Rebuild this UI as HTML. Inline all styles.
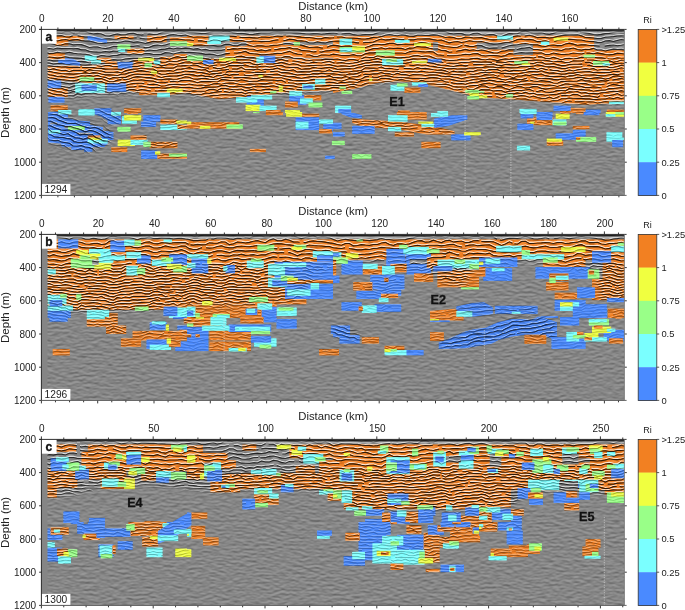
<!DOCTYPE html>
<html><head><meta charset="utf-8"><style>
html,body{margin:0;padding:0;background:#fff;width:685px;height:610px;overflow:hidden}
svg{will-change:transform}
</style></head><body>
<svg width="685" height="610" viewBox="0 0 685 610" style="position:absolute;left:0;top:0">
<g font-family='"Liberation Sans", sans-serif' fill="#222">
<rect x="41.4" y="29.4" width="583.0" height="166.0" fill="#888"/>
<defs><pattern id="stp" width="20" height="4.4" patternUnits="userSpaceOnUse"><rect width="20" height="4.4" fill="#808080"/><rect y="0.2" width="20" height="1.3" fill="#fff"/><rect y="2.3" width="20" height="1.4" fill="#000"/></pattern>
<filter id="pm" x="0" y="0" width="685" height="610" filterUnits="userSpaceOnUse" color-interpolation-filters="sRGB"><feColorMatrix type="matrix" values="8 0 0 0 -6  0 8 0 0 -6  0 0 8 0 -6  0 0 0 1 0"/><feColorMatrix type="matrix" values="1 1 1 0 0  1 1 1 0 0  1 1 1 0 0  0 0 0 1 0"/></filter>
<filter id="vm" x="0" y="0" width="685" height="610" filterUnits="userSpaceOnUse" color-interpolation-filters="sRGB"><feColorMatrix type="matrix" values="0 8 0 0 -6  0 0 8 0 -6  0 0 0 0 0  0 0 0 1 0"/><feColorMatrix type="matrix" values="1 1 0 0 0  1 1 0 0 0  1 1 0 0 0  0 0 0 1 0"/></filter>
<filter id="wv0" x="0" y="0" width="1" height="1" filterUnits="objectBoundingBox" color-interpolation-filters="sRGB"><feTurbulence type="fractalNoise" baseFrequency="0.018 0.045" numOctaves="2" seed="3" result="n"/><feDisplacementMap in="SourceGraphic" in2="n" scale="9" xChannelSelector="R" yChannelSelector="G"/></filter>
<filter id="rl0" x="0" y="0" width="1" height="1" filterUnits="objectBoundingBox" color-interpolation-filters="sRGB"><feTurbulence type="fractalNoise" baseFrequency="0.15 0.42" numOctaves="2" seed="11" result="n"/><feDiffuseLighting in="n" surfaceScale="1.1" diffuseConstant="1" lighting-color="#fff"><feDistantLight azimuth="270" elevation="30"/></feDiffuseLighting></filter>
<filter id="bl0"><feGaussianBlur stdDeviation="2.5"/></filter>
<filter id="wv1" x="0" y="0" width="1" height="1" filterUnits="objectBoundingBox" color-interpolation-filters="sRGB"><feTurbulence type="fractalNoise" baseFrequency="0.018 0.045" numOctaves="2" seed="10" result="n"/><feDisplacementMap in="SourceGraphic" in2="n" scale="9" xChannelSelector="R" yChannelSelector="G"/></filter>
<filter id="rl1" x="0" y="0" width="1" height="1" filterUnits="objectBoundingBox" color-interpolation-filters="sRGB"><feTurbulence type="fractalNoise" baseFrequency="0.15 0.42" numOctaves="2" seed="16" result="n"/><feDiffuseLighting in="n" surfaceScale="1.1" diffuseConstant="1" lighting-color="#fff"><feDistantLight azimuth="270" elevation="30"/></feDiffuseLighting></filter>
<filter id="bl1"><feGaussianBlur stdDeviation="2.5"/></filter>
<filter id="wv2" x="0" y="0" width="1" height="1" filterUnits="objectBoundingBox" color-interpolation-filters="sRGB"><feTurbulence type="fractalNoise" baseFrequency="0.018 0.045" numOctaves="2" seed="17" result="n"/><feDisplacementMap in="SourceGraphic" in2="n" scale="9" xChannelSelector="R" yChannelSelector="G"/></filter>
<filter id="rl2" x="0" y="0" width="1" height="1" filterUnits="objectBoundingBox" color-interpolation-filters="sRGB"><feTurbulence type="fractalNoise" baseFrequency="0.15 0.42" numOctaves="2" seed="21" result="n"/><feDiffuseLighting in="n" surfaceScale="1.1" diffuseConstant="1" lighting-color="#fff"><feDistantLight azimuth="270" elevation="30"/></feDiffuseLighting></filter>
<filter id="bl2"><feGaussianBlur stdDeviation="2.5"/></filter><clipPath id="cp0"><rect x="41.4" y="29.4" width="583.0" height="166.0"/></clipPath>
<mask id="mz0" maskUnits="userSpaceOnUse" x="0" y="0" width="685" height="610"><g filter="url(#bl0)"><polygon points="41.4,29.4 624.4,29.4 624.4,103 586,104 554,102 511,99 479,97 461,93 440,87 418,82 397,81 376,84 355,89 333,92 310,93 280,95 250,97 220,99 187,95 150,93 100,95 70,98 41.4,100" fill="#fff"/></g></mask>
<mask id="md0" maskUnits="userSpaceOnUse" x="0" y="0" width="685" height="610"><rect x="41.4" y="29.4" width="583.0" height="166.0" fill="#707070"/><g filter="url(#bl0)"><polygon points="352,118 400,120 455,128 455,136 400,134 352,128" fill="#ccc"/><polygon points="140,120 187,118 187,160 140,150" fill="#ccc"/></g></mask>
<mask id="mp0" maskUnits="userSpaceOnUse" x="0" y="0" width="685" height="610"><use href="#pt0" filter="url(#pm)"/></mask>
</defs>
<g clip-path="url(#cp0)" style="isolation:isolate">
<rect x="41.4" y="29.4" width="583.0" height="166.0" fill="#868686"/>
<g id="pt0">
<polygon points="47.4,66.3 83.6,65.7 126.3,64.8 160.4,65.2 187.0,63.1 187.0,92.9 168.9,95.1 139.0,92.9 104.9,84.4 83.6,82.3 60.2,80.2 47.4,79.1" fill="#F28022"/>
<rect x="75.1" y="83.3" width="29.8" height="9.6" fill="#7AFFFF"/>
<rect x="160.4" y="56.7" width="26.6" height="10.2" fill="#F28022"/>
<rect x="139.0" y="87.6" width="29.8" height="7.5" fill="#F28022"/>
<rect x="48.5" y="87.6" width="19.2" height="9.6" fill="#F28022"/>
<rect x="107.1" y="83.3" width="19.2" height="8.5" fill="#4A8AFF"/>
<rect x="147.1" y="34.3" width="19.6" height="7.9" fill="#F28022"/>
<rect x="133.7" y="58.8" width="21.3" height="6.4" fill="#F28022"/>
<rect x="55.5" y="35.4" width="12.8" height="10.2" fill="#F28022"/>
<polygon points="58.1,57.8 73.0,58.8 80.4,62.7 80.4,65.7 70.8,64.8 58.1,63.1" fill="#4A8AFF"/>
<rect x="114.5" y="33.7" width="19.2" height="5.5" fill="#F28022"/>
<rect x="47.4" y="80.6" width="13.9" height="7.7" fill="#4A8AFF"/>
<rect x="48.5" y="52.9" width="16.4" height="6.4" fill="#F28022"/>
<rect x="117.7" y="62.0" width="14.9" height="6.6" fill="#4A8AFF"/>
<rect x="50.6" y="105.3" width="17.1" height="5.8" fill="#F28022"/>
<rect x="48.5" y="96.8" width="16.0" height="5.8" fill="#4A8AFF"/>
<rect x="81.5" y="84.8" width="15.3" height="6.0" fill="#4A8AFF"/>
<rect x="127.3" y="48.6" width="17.1" height="5.1" fill="#F28022"/>
<rect x="94.3" y="108.3" width="17.1" height="4.7" fill="#4A8AFF"/>
<rect x="124.1" y="108.3" width="17.1" height="4.7" fill="#F28022"/>
<polygon points="87.5,36.0 97.5,37.1 107.1,39.7 107.1,42.9 96.4,41.4 87.5,40.1" fill="#4A8AFF"/>
<rect x="67.6" y="36.0" width="16.0" height="4.7" fill="#F28022"/>
<rect x="169.9" y="37.1" width="17.1" height="4.3" fill="#F28022"/>
<rect x="169.9" y="41.4" width="17.1" height="4.3" fill="#99FF88"/>
<rect x="117.3" y="44.3" width="13.2" height="4.9" fill="#99FF88"/>
<rect x="84.7" y="55.6" width="12.1" height="5.3" fill="#7AFFFF"/>
<rect x="79.4" y="77.0" width="14.9" height="4.3" fill="#99FF88"/>
<rect x="104.9" y="61.0" width="11.7" height="5.3" fill="#F28022"/>
<rect x="96.8" y="57.8" width="14.5" height="4.3" fill="#F28022"/>
<rect x="166.7" y="88.7" width="16.0" height="3.8" fill="#F0FF40"/>
<rect x="79.4" y="109.1" width="14.9" height="3.8" fill="#7AFFFF"/>
<rect x="157.2" y="92.9" width="12.8" height="4.3" fill="#7AFFFF"/>
<rect x="138.0" y="57.8" width="16.0" height="3.2" fill="#F0FF40"/>
<rect x="173.6" y="54.1" width="13.4" height="3.6" fill="#F28022"/>
<rect x="58.1" y="110.0" width="12.8" height="3.0" fill="#7AFFFF"/>
<rect x="91.1" y="59.9" width="10.0" height="3.6" fill="#7AFFFF"/>
<rect x="144.4" y="63.1" width="7.5" height="4.3" fill="#99FF88"/>
<rect x="153.5" y="60.5" width="6.8" height="3.6" fill="#7AFFFF"/>
<rect x="118.2" y="48.6" width="7.0" height="3.4" fill="#7AFFFF"/>
<rect x="150.8" y="70.6" width="6.4" height="3.2" fill="#F0FF40"/>
<polygon points="187.0,58.8 333.0,58.8 333.0,90.8 304.2,90.8 282.9,92.9 261.6,95.1 240.3,97.2 219.0,99.3 187.0,92.9" fill="#F28022"/>
<rect x="255.2" y="45.0" width="77.8" height="12.8" fill="#F28022"/>
<rect x="229.6" y="34.3" width="103.4" height="7.5" fill="#F28022"/>
<rect x="225.4" y="46.1" width="32.0" height="11.7" fill="#F28022"/>
<rect x="187.0" y="35.0" width="21.3" height="11.1" fill="#F28022"/>
<rect x="246.7" y="40.7" width="36.2" height="5.3" fill="#F28022"/>
<rect x="289.3" y="95.1" width="17.1" height="9.6" fill="#4A8AFF"/>
<rect x="246.7" y="96.1" width="17.1" height="9.6" fill="#4A8AFF"/>
<rect x="209.4" y="34.3" width="20.2" height="6.4" fill="#7AFFFF"/>
<rect x="259.5" y="55.6" width="16.0" height="7.5" fill="#4A8AFF"/>
<rect x="236.0" y="97.2" width="21.3" height="5.3" fill="#7AFFFF"/>
<rect x="245.6" y="104.7" width="14.9" height="6.4" fill="#F0FF40"/>
<rect x="304.2" y="95.1" width="17.1" height="5.3" fill="#F28022"/>
<rect x="259.5" y="105.7" width="17.1" height="5.3" fill="#7AFFFF"/>
<rect x="250.9" y="95.1" width="21.3" height="4.3" fill="#7AFFFF"/>
<rect x="187.0" y="55.6" width="16.0" height="5.3" fill="#99FF88"/>
<rect x="285.0" y="101.5" width="12.8" height="6.0" fill="#F28022"/>
<rect x="302.1" y="84.0" width="12.8" height="5.8" fill="#7AFFFF"/>
<rect x="289.3" y="90.8" width="12.8" height="5.3" fill="#7AFFFF"/>
<rect x="300.0" y="98.3" width="12.8" height="5.3" fill="#7AFFFF"/>
<rect x="308.5" y="102.5" width="13.9" height="4.9" fill="#99FF88"/>
<rect x="314.9" y="79.1" width="10.7" height="5.3" fill="#7AFFFF"/>
<rect x="219.0" y="57.8" width="17.1" height="3.2" fill="#F0FF40"/>
<rect x="256.3" y="56.7" width="7.5" height="6.4" fill="#7AFFFF"/>
<rect x="203.0" y="59.9" width="10.7" height="4.3" fill="#4A8AFF"/>
<rect x="285.0" y="110.0" width="14.9" height="3.0" fill="#F0FF40"/>
<rect x="265.9" y="110.0" width="14.9" height="3.0" fill="#F28022"/>
<rect x="207.2" y="40.7" width="13.9" height="3.2" fill="#7AFFFF"/>
<rect x="303.2" y="85.5" width="9.6" height="3.2" fill="#4A8AFF"/>
<rect x="278.6" y="85.5" width="4.3" height="6.4" fill="#F0FF40"/>
<rect x="293.6" y="42.2" width="6.4" height="3.4" fill="#99FF88"/>
<rect x="187.0" y="42.9" width="6.4" height="3.2" fill="#F0FF40"/>
<rect x="270.1" y="90.8" width="6.4" height="2.6" fill="#99FF88"/>
<rect x="258.4" y="74.8" width="4.3" height="2.8" fill="#F0FF40"/>
<polygon points="333.0,35.4 479.0,35.4 479.0,97.2 460.9,92.9 439.6,87.6 418.3,82.3 396.9,81.2 375.6,83.3 354.3,88.7 333.0,92.9" fill="#F28022"/>
<rect x="339.4" y="47.1" width="25.6" height="5.3" fill="#99FF88"/>
<rect x="382.0" y="58.8" width="21.3" height="6.4" fill="#7AFFFF"/>
<rect x="335.1" y="105.7" width="16.0" height="7.2" fill="#7AFFFF"/>
<rect x="375.6" y="50.3" width="19.2" height="5.3" fill="#99FF88"/>
<rect x="404.4" y="87.6" width="16.0" height="5.3" fill="#F28022"/>
<rect x="390.5" y="84.8" width="13.9" height="6.0" fill="#7AFFFF"/>
<rect x="339.4" y="38.6" width="12.8" height="6.4" fill="#7AFFFF"/>
<rect x="469.4" y="92.9" width="9.6" height="6.4" fill="#F0FF40"/>
<rect x="352.2" y="46.1" width="12.8" height="4.3" fill="#F0FF40"/>
<rect x="414.0" y="42.9" width="17.1" height="3.2" fill="#F0FF40"/>
<rect x="427.8" y="58.8" width="13.9" height="3.8" fill="#4A8AFF"/>
<rect x="338.3" y="108.9" width="12.8" height="4.0" fill="#4A8AFF"/>
<rect x="411.9" y="82.3" width="14.9" height="3.2" fill="#7AFFFF"/>
<rect x="394.8" y="39.7" width="14.9" height="3.2" fill="#7AFFFF"/>
<rect x="340.5" y="48.2" width="11.7" height="3.8" fill="#7AFFFF"/>
<rect x="411.9" y="60.5" width="14.9" height="3.0" fill="#F0FF40"/>
<rect x="465.1" y="89.7" width="13.9" height="3.2" fill="#99FF88"/>
<rect x="467.3" y="96.1" width="11.7" height="3.2" fill="#99FF88"/>
<rect x="386.3" y="58.8" width="10.7" height="3.2" fill="#99FF88"/>
<rect x="396.9" y="83.3" width="10.7" height="3.2" fill="#99FF88"/>
<rect x="341.5" y="90.8" width="10.7" height="3.2" fill="#99FF88"/>
<rect x="398.0" y="110.4" width="11.7" height="2.6" fill="#F28022"/>
<rect x="418.3" y="84.0" width="9.6" height="3.0" fill="#4A8AFF"/>
<rect x="437.4" y="111.1" width="10.7" height="1.9" fill="#7AFFFF"/>
<rect x="339.4" y="86.5" width="6.4" height="2.6" fill="#99FF88"/>
<rect x="369.2" y="78.0" width="3.2" height="3.2" fill="#F0FF40"/>
<polygon points="479.0,33.7 594.1,33.7 594.1,50.3 625.0,50.3 625.0,102.5 585.6,104.7 553.6,102.5 511.0,99.3 479.0,97.2" fill="#F28022"/>
<rect x="560.0" y="107.9" width="25.6" height="5.1" fill="#F28022"/>
<rect x="497.1" y="33.7" width="16.0" height="6.0" fill="#7AFFFF"/>
<rect x="553.6" y="105.7" width="17.1" height="5.3" fill="#4A8AFF"/>
<rect x="519.5" y="108.9" width="17.1" height="4.0" fill="#7AFFFF"/>
<rect x="593.0" y="61.0" width="16.0" height="4.3" fill="#99FF88"/>
<rect x="606.9" y="109.6" width="18.1" height="3.4" fill="#F28022"/>
<rect x="585.6" y="109.6" width="14.9" height="3.4" fill="#4A8AFF"/>
<rect x="553.6" y="37.5" width="14.9" height="3.2" fill="#F0FF40"/>
<rect x="514.2" y="61.0" width="13.9" height="3.2" fill="#99FF88"/>
<rect x="609.0" y="101.5" width="14.9" height="2.6" fill="#7AFFFF"/>
<rect x="583.4" y="54.6" width="11.7" height="3.2" fill="#99FF88"/>
<rect x="540.8" y="41.4" width="8.5" height="3.6" fill="#7AFFFF"/>
<rect x="479.0" y="95.1" width="8.5" height="3.2" fill="#F0FF40"/>
<rect x="505.6" y="94.0" width="7.5" height="3.6" fill="#99FF88"/>
<rect x="602.6" y="63.1" width="7.5" height="2.6" fill="#7AFFFF"/>
<rect x="521.6" y="63.1" width="8.5" height="2.1" fill="#F0FF40"/>
<rect x="479.0" y="90.8" width="5.3" height="2.1" fill="#99FF88"/>
<rect x="149.7" y="141.8" width="27.7" height="6.4" fill="#F28022"/>
<rect x="157.2" y="153.6" width="29.8" height="5.3" fill="#F28022"/>
<rect x="160.4" y="124.8" width="26.6" height="5.3" fill="#7AFFFF"/>
<rect x="141.2" y="150.4" width="16.0" height="8.5" fill="#4A8AFF"/>
<rect x="122.0" y="116.3" width="14.9" height="7.5" fill="#7AFFFF"/>
<rect x="143.3" y="115.2" width="17.1" height="6.4" fill="#4A8AFF"/>
<rect x="117.7" y="139.7" width="17.1" height="6.4" fill="#F0FF40"/>
<rect x="124.1" y="115.2" width="17.1" height="5.3" fill="#F0FF40"/>
<rect x="130.5" y="139.7" width="17.1" height="5.3" fill="#7AFFFF"/>
<rect x="141.2" y="121.6" width="14.9" height="5.3" fill="#4A8AFF"/>
<rect x="111.3" y="147.2" width="16.0" height="4.9" fill="#F28022"/>
<rect x="160.4" y="119.5" width="17.1" height="4.3" fill="#F28022"/>
<rect x="130.5" y="135.4" width="16.0" height="4.3" fill="#F28022"/>
<rect x="117.7" y="126.9" width="12.8" height="4.7" fill="#99FF88"/>
<rect x="168.9" y="153.6" width="18.1" height="3.2" fill="#99FF88"/>
<rect x="177.4" y="124.8" width="9.6" height="4.3" fill="#F28022"/>
<rect x="143.3" y="141.8" width="7.5" height="5.3" fill="#99FF88"/>
<rect x="176.3" y="120.5" width="10.7" height="3.2" fill="#F0FF40"/>
<rect x="127.3" y="112.0" width="10.7" height="2.1" fill="#F28022"/>
<rect x="155.0" y="151.4" width="5.3" height="3.2" fill="#F0FF40"/>
<polygon points="48.0,112.0 58.5,112.0 58.5,114.3 67.9,114.3 67.9,117.8 76.0,120.2 90.1,121.4 90.1,124.9 102.9,127.2 102.9,130.7 113.4,131.9 113.4,140.0 107.6,140.0 107.6,143.5 104.1,147.0 92.4,147.0 92.4,151.7 84.2,151.7 84.2,150.0 71.4,150.0 71.4,147.0 62.0,146.5 60.9,143.5 48.0,142.4" fill="#4A8AFF"/>
<polygon points="94.7,109.1 104.1,109.1 104.1,110.8 111.1,112.0 111.1,115.5 121.0,116.1 121.0,124.3 107.6,124.3 107.6,120.2 101.7,116.7 94.7,114.3" fill="#4A8AFF"/>
<rect x="78.4" y="109.7" width="16.3" height="5.8" fill="#7AFFFF"/>
<rect x="87.7" y="138.9" width="19.9" height="4.6" fill="#7AFFFF"/>
<rect x="67.9" y="126.0" width="16.9" height="4.1" fill="#99FF88"/>
<rect x="58.5" y="110.3" width="12.9" height="4.0" fill="#7AFFFF"/>
<rect x="87.7" y="135.4" width="12.9" height="3.5" fill="#F28022"/>
<rect x="48.6" y="130.1" width="11.7" height="3.5" fill="#7AFFFF"/>
<rect x="111.1" y="112.0" width="9.9" height="3.5" fill="#7AFFFF"/>
<rect x="90.1" y="137.7" width="11.6" height="2.3" fill="#F0FF40"/>
<rect x="77.2" y="132.5" width="12.9" height="1.7" fill="#868686"/>
<rect x="50.3" y="122.5" width="7.0" height="1.8" fill="#868686"/>
<rect x="117.5" y="127.2" width="3.5" height="3.5" fill="#99FF88"/>
<rect x="64.5" y="126.0" width="3.4" height="2.4" fill="#868686"/>
<rect x="187.0" y="122.2" width="52.2" height="6.4" fill="#F28022"/>
<rect x="295.7" y="117.3" width="23.4" height="12.8" fill="#4A8AFF"/>
<rect x="295.7" y="121.6" width="12.8" height="7.0" fill="#7AFFFF"/>
<rect x="286.1" y="112.0" width="16.0" height="4.7" fill="#F0FF40"/>
<rect x="323.4" y="123.7" width="9.6" height="7.5" fill="#4A8AFF"/>
<rect x="226.4" y="124.4" width="16.4" height="4.3" fill="#99FF88"/>
<rect x="319.1" y="119.5" width="13.9" height="4.3" fill="#7AFFFF"/>
<rect x="265.9" y="112.0" width="17.1" height="3.2" fill="#F28022"/>
<rect x="319.1" y="129.1" width="12.8" height="4.3" fill="#F28022"/>
<rect x="249.9" y="148.9" width="16.0" height="3.2" fill="#F28022"/>
<rect x="302.1" y="113.7" width="17.1" height="3.0" fill="#F28022"/>
<rect x="199.8" y="125.9" width="10.7" height="2.8" fill="#F0FF40"/>
<rect x="325.1" y="155.7" width="7.9" height="3.2" fill="#4A8AFF"/>
<rect x="187.0" y="121.6" width="4.3" height="2.8" fill="#F0FF40"/>
<rect x="253.1" y="112.0" width="6.4" height="1.1" fill="#99FF88"/>
<rect x="331.9" y="140.8" width="1.1" height="4.3" fill="#99FF88"/>
<polygon points="352.2,118.8 396.9,121.6 433.2,125.9 454.5,131.2 454.5,134.4 426.8,134.4 396.9,129.1 362.8,126.9 352.2,122.7" fill="#F28022"/>
<polygon points="434.2,118.4 452.4,115.2 467.3,115.2 467.3,119.5 448.1,125.9 434.2,128.0" fill="#4A8AFF"/>
<rect x="396.9" y="112.0" width="29.8" height="7.5" fill="#F28022"/>
<rect x="352.2" y="125.9" width="22.4" height="7.9" fill="#4A8AFF"/>
<rect x="388.0" y="115.2" width="19.6" height="6.4" fill="#7AFFFF"/>
<rect x="421.4" y="141.8" width="19.2" height="6.4" fill="#F28022"/>
<rect x="451.3" y="134.4" width="19.2" height="6.0" fill="#4A8AFF"/>
<rect x="352.2" y="154.2" width="19.2" height="4.7" fill="#99FF88"/>
<rect x="394.8" y="132.2" width="19.2" height="4.3" fill="#F28022"/>
<polygon points="341.5,112.0 354.3,113.1 361.8,115.2 361.8,118.4 350.1,117.3 341.5,114.1" fill="#4A8AFF"/>
<rect x="431.0" y="113.1" width="17.1" height="3.6" fill="#7AFFFF"/>
<rect x="388.0" y="126.9" width="13.2" height="4.3" fill="#7AFFFF"/>
<rect x="333.0" y="122.7" width="8.5" height="6.4" fill="#4A8AFF"/>
<rect x="333.0" y="132.2" width="11.7" height="4.3" fill="#4A8AFF"/>
<rect x="333.0" y="140.8" width="11.7" height="4.3" fill="#99FF88"/>
<rect x="464.1" y="132.2" width="14.9" height="3.2" fill="#F0FF40"/>
<rect x="421.4" y="123.7" width="12.8" height="3.2" fill="#7AFFFF"/>
<rect x="418.3" y="121.6" width="14.9" height="2.1" fill="#F0FF40"/>
<rect x="333.0" y="155.7" width="1.7" height="3.2" fill="#4A8AFF"/>
<rect x="527.0" y="117.3" width="26.6" height="7.9" fill="#F28022"/>
<rect x="606.5" y="132.2" width="15.8" height="9.6" fill="#7AFFFF"/>
<rect x="555.7" y="133.3" width="23.4" height="6.4" fill="#4A8AFF"/>
<rect x="536.5" y="112.0" width="16.0" height="8.1" fill="#4A8AFF"/>
<rect x="517.4" y="123.7" width="16.0" height="6.4" fill="#4A8AFF"/>
<rect x="576.0" y="137.1" width="20.2" height="4.7" fill="#99FF88"/>
<rect x="605.8" y="112.0" width="19.2" height="4.7" fill="#F0FF40"/>
<rect x="572.8" y="130.1" width="12.8" height="6.4" fill="#4A8AFF"/>
<rect x="546.8" y="140.8" width="16.4" height="4.9" fill="#F28022"/>
<rect x="552.5" y="119.5" width="13.9" height="5.8" fill="#7AFFFF"/>
<rect x="612.2" y="139.7" width="10.7" height="7.5" fill="#4A8AFF"/>
<rect x="555.7" y="113.7" width="13.9" height="5.1" fill="#F0FF40"/>
<rect x="516.9" y="145.7" width="13.2" height="4.7" fill="#7AFFFF"/>
<rect x="520.6" y="113.7" width="12.8" height="4.7" fill="#4A8AFF"/>
<rect x="572.8" y="125.9" width="16.6" height="3.2" fill="#F28022"/>
<rect x="583.4" y="112.0" width="16.0" height="3.2" fill="#4A8AFF"/>
<rect x="546.8" y="138.6" width="15.3" height="3.2" fill="#F0FF40"/>
<rect x="553.6" y="121.6" width="12.8" height="3.6" fill="#99FF88"/>
<rect x="520.6" y="112.0" width="16.0" height="2.1" fill="#7AFFFF"/>
<rect x="612.2" y="137.6" width="12.8" height="2.1" fill="#7AFFFF"/>
<rect x="605.8" y="114.1" width="9.6" height="2.6" fill="#7AFFFF"/>
<rect x="615.4" y="112.0" width="9.6" height="2.6" fill="#99FF88"/>
<rect x="561.1" y="112.0" width="9.6" height="1.7" fill="#F28022"/>
<rect x="576.0" y="112.0" width="7.5" height="2.1" fill="#F28022"/>
<rect x="576.0" y="137.1" width="4.3" height="2.6" fill="#F28022"/>
<rect x="530.2" y="121.6" width="4.3" height="2.1" fill="#F0FF40"/>
<rect x="479.0" y="132.2" width="1.7" height="2.8" fill="#F0FF40"/>
<rect x="476.8" y="42.5" width="36.5" height="7.0" fill="#868686"/>
<rect x="513.3" y="44.0" width="19.7" height="11.0" fill="#868686"/>
<rect x="433.0" y="42.0" width="5.0" height="9.0" fill="#868686"/>
<rect x="41.4" y="29.4" width="583.0" height="6.3" fill="#868686"/>
</g>
<rect x="41.4" y="29.4" width="583.0" height="166.0" filter="url(#rl0)" style="mix-blend-mode:hard-light" opacity="0.24"/>
<defs><g id="rf0"><path d="M37.4,24.7l4,-.2 4,.1 4,.5 4,0 4,1.5 4,.1 4,.9 4,-.4 4,-.3 4,.1 4,-.5 4,.1 4,-.6 4,.9 4,.7 4,1 4,.6 4,.2 4,.3 4,.1 4,-.3 4,-.7 4,-.4 4,.1 4,-0 4,.2 4,.1 4,-.3 4,.8 4,-1.1 4,-.2 4,-1.2 4,-.8 4,0 4,-.7 4,.4 4,-.5 4,1.5 4,.2 4,.9 4,-.5 4,-.2 4,.5 4,-1.4 4,0 4,-1.3 4,1.1 4,.3 4,.3 4,1.3 4,-.2 4,2 4,-1.4 4,1.2 4,-1.9 4,0 4,-.1 4,-1.1 4,.4 4,-1.2 4,1.7 4,-.8 4,1.1 4,-.2 4,-.1 4,1.3 4,-1.1 4,1.4 4,-2.1 4,1.2 4,-.2 4,-.2 4,.3 4,-1.2 4,2 4,-1.2 4,1.4 4,-1 4,.7 4,1 4,-1 4,1.1 4,-1.8 4,1 4,-1.5 4,.1 4,-1.2 4,-.7 4,.6 4,-1 4,1.3 4,-1 4,1.2 4,-.1 4,.1 4,-.1 4,-1.3 4,.8 4,-1.2 4,1 4,-.8 4,.8 4,1.1 4,.2 4,1.2 4,-.4 4,1.3 4,-.6 4,.2 4,-.6 4,-.3 4,.9 4,.1 4,.8 4,-.7 4,.7 4,-.1 4,-.5 4,-.7 4,-1.1 4,-.3 4,-.3 4,-.2 4,0 4,.4 4,.8 4,.1 4,.1 4,-.6 4,-.7 4,-.5 4,-.8 4,-.6 4,-.1 4,.6 4,1.3 4,.4 4,1.3 4,-.1 4,1.3 4,-.5 4,-.7 4,-.9 4,-1 4,.4 4,-1.3 4,.9 4,-.2" stroke-dasharray="118 3 58 4 189 3 148 4 154 2"/><path d="M37.4,28.7l4,.7 4,-.1 4,-.3 4,.8 4,1.5 4,.5 4,-1 4,-0 4,1 4,-.2 4,-1.4 4,.1 4,1.7 4,.9 4,-.7 4,.6 4,1.8 4,.3 4,-1.2 4,-.9 4,.9 4,-0 4,-1.3 4,-.4 4,1.5 4,.5 4,-.9 4,-.1 4,.4 4,-.1 4,-1.7 4,-1 4,.1 4,-.3 4,-.9 4,.3 4,1 4,.6 4,-.1 4,.6 4,.6 4,-.1 4,-1 4,-.6 4,0 4,-0 4,-.9 4,.5 4,1.3 4,.6 4,-.2 4,.6 4,.8 4,-.3 4,-.7 4,-.7 4,0 4,.1 4,-.8 4,-.1 4,.2 4,.2 4,0 4,.3 4,0 4,.5 4,.4 4,.3 4,-.4 4,.1 4,.5 4,-.4 4,-.5 4,-.3 4,.5 4,.4 4,-.5 4,-.1 4,1.3 4,.6 4,-.3 4,-.5 4,.2 4,-.2 4,-1.5 4,-.9 4,-.3 4,.1 4,-.9 4,-.2 4,.9 4,.8 4,-.7 4,-0 4,.4 4,0 4,-1.1 4,-.6 4,.9 4,.3 4,-.5 4,.6 4,1.6 4,.6 4,-.5 4,.1 4,1.3 4,.1 4,-1.5 4,-.5 4,1.8 4,.5 4,-.7 4,.1 4,1.4 4,.4 4,-1.5 4,-1.5 4,.3 4,-0 4,-2 4,-.9 4,1.4 4,.7 4,0 4,-.2 4,1.1 4,.5 4,-1 4,-1.3 4,-.4 4,-.1 4,-1 4,-.4 4,1 4,1.1 4,.6 4,.7 4,.9 4,.4 4,-.5 4,-.7 4,-.3 4,-.8 4,-.8 4,-.2 4,.6 4,.4" stroke-dasharray="38 4 67 4 192 4 53 3 186 2 134 3"/><path d="M37.4,33.5l4,-.5 4,-.4 4,1.4 4,1 4,-.3 4,-.2 4,1.1 4,.2 4,-1.3 4,.2 4,.7 4,.5 4,-.1 4,.6 4,1.1 4,.9 4,-.6 4,-.2 4,.5 4,-.3 4,-1.5 4,-.2 4,1.1 4,-.3 4,-.2 4,.6 4,.5 4,-0 4,-1 4,-.7 4,-.2 4,-.8 4,-1.1 4,-.6 4,.7 4,.4 4,-.6 4,1.2 4,1 4,-.2 4,-0 4,.2 4,-.3 4,-.8 4,-0 4,-.2 4,.3 4,-.1 4,.2 4,.4 4,.8 4,0 4,-.2 4,.5 4,.1 4,-.9 4,.1 4,.2 4,-.6 4,-.7 4,.3 4,-.1 4,-.2 4,.2 4,.4 4,.5 4,.4 4,0 4,.5 4,.7 4,-.1 4,-1.1 4,.4 4,-.2 4,-.8 4,-0 4,.8 4,.4 4,-0 4,.2 4,.6 4,.1 4,-.7 4,-1 4,-.1 4,-.6 4,-1.4 4,-.8 4,.8 4,.5 4,-.8 4,.4 4,.9 4,.1 4,-1.1 4,0 4,.2 4,-.1 4,-.5 4,.4 4,1 4,1.2 4,-.5 4,.5 4,1.3 4,-.3 4,-1.3 4,.1 4,.8 4,-.3 4,-.2 4,1.1 4,.8 4,.4 4,-.3 4,-.4 4,.3 4,-.8 4,-2.1 4,-.8 4,.6 4,-.5 4,-.6 4,1 4,1.4 4,-.4 4,.1 4,.6 4,-.5 4,-1 4,-.8 4,-.5 4,-.1 4,-.1 4,-.2 4,1.1 4,1.7 4,.1 4,.3 4,.5 4,-.1 4,-1.1 4,-.3 4,-.3 4,-.6 4,-.3 4,.1 4,.2" stroke-dasharray="36 5 60 3 98 3 44 3 48 3 187 4 176 2"/><path d="M37.4,37.4l4,.2 4,-.1 4,-.2 4,1.2 4,1.4 4,-1 4,-.5 4,.8 4,-.5 4,-.3 4,1.1 4,.5 4,-.1 4,1.1 4,1.1 4,.3 4,-.4 4,-.4 4,-.4 4,.2 4,-.6 4,-1 4,.5 4,.9 4,-.5 4,.7 4,.9 4,-1.1 4,-1 4,.5 4,-.4 4,-1.8 4,-.4 4,-.1 4,-.1 4,.4 4,.5 4,-0 4,.6 4,.3 4,-.1 4,.7 4,-.1 4,-1.5 4,.2 4,1.3 4,-.9 4,-.9 4,.9 4,.2 4,-.2 4,1 4,.3 4,-.6 4,.1 4,.4 4,-.1 4,-.1 4,-1 4,-.6 4,.7 4,-0 4,-1.4 4,.4 4,1.1 4,.2 4,.4 4,1.8 4,-.1 4,-1.1 4,.8 4,.4 4,-1.2 4,-.6 4,-.3 4,.2 4,.8 4,.2 4,0 4,.7 4,.1 4,-.5 4,-.1 4,-.4 4,-1.6 4,-1.3 4,1 4,-.4 4,-.8 4,.4 4,.4 4,-.1 4,.3 4,0 4,-.8 4,-.1 4,-.2 4,.1 4,.8 4,.6 4,-.3 4,1.6 4,1.3 4,-.8 4,-.5 4,.9 4,-.7 4,-1 4,.8 4,.2 4,-.2 4,1 4,1 4,.6 4,-.2 4,-.6 4,-.8 4,-.2 4,-1 4,-1.9 4,-.3 4,.6 4,-.4 4,.6 4,1.7 4,-.3 4,-.6 4,1.1 4,-0 4,-1.4 4,-.6 4,-.5 4,-.1 4,.3 4,.4 4,.1 4,.9 4,.5 4,.2 4,.7 4,.1 4,-1.5 4,-.3 4,.8 4,-1 4,-1 4,.7 4,.2" stroke-dasharray="159 4 82 5 77 4 42 4 144 5 183 4"/><path d="M37.4,41.9l4,.7 4,-.1 4,-.1 4,.7 4,1.2 4,-.5 4,-1.2 4,.1 4,1 4,-.3 4,.1 4,1.3 4,1.5 4,-.5 4,-0 4,1.1 4,.6 4,-.9 4,-1.3 4,-.1 4,-.2 4,-.2 4,.4 4,-0 4,-.6 4,.7 4,1.3 4,-.4 4,-1.7 4,-.6 4,.7 4,-.8 4,-1.2 4,-.1 4,.6 4,-.6 4,-.1 4,1 4,.8 4,-.2 4,-.2 4,.6 4,.2 4,-.1 4,.5 4,-.3 4,-1.5 4,-0 4,1.3 4,.2 4,-1.7 4,-.1 4,1.4 4,1.1 4,-.7 4,0 4,.4 4,-.3 4,-.6 4,-.1 4,-.7 4,-1.1 4,0 4,1.1 4,.2 4,.4 4,1.2 4,1.2 4,-.3 4,-.3 4,1 4,.1 4,-1.9 4,-1 4,.5 4,.9 4,-.4 4,-.1 4,.6 4,.4 4,.3 4,.1 4,-1.2 4,-1.6 4,-.4 4,.5 4,-.4 4,-1 4,0 4,1.3 4,-.1 4,-.5 4,.2 4,-.1 4,-.8 4,-.9 4,.5 4,.9 4,.3 4,.3 4,1.2 4,.9 4,.4 4,.6 4,-.3 4,-1.5 4,-.4 4,1 4,.1 4,-1.1 4,.3 4,1.8 4,.9 4,-.2 4,-.2 4,.2 4,-1.2 4,-1.2 4,-.6 4,-.4 4,-.8 4,-.4 4,.7 4,.6 4,0 4,1.1 4,.6 4,-1.3 4,-.3 4,.7 4,-0 4,-1.6 4,-.9 4,1 4,1.1 4,-.4 4,-.1 4,.8 4,.1 4,.3 4,.3 4,-.1 4,-.8 4,-.3 4,.7 4,-.5 4,-.9 4,.1" stroke-dasharray="104 4 183 4 138 2 34 4 100 5 170 5"/><path d="M37.4,46.1l4,.4 4,1.4 4,-.5 4,.7 4,-1.2 4,.6 4,0 4,-.2 4,.4 4,-.4 4,1.4 4,-0 4,1.6 4,.5 4,.2 4,.1 4,-.7 4,.6 4,-1 4,.1 4,-1.5 4,.2 4,.4 4,-.3 4,.9 4,-1 4,1 4,-.9 4,.5 4,-.3 4,-.9 4,-.2 4,-1 4,.9 4,-1 4,.4 4,-.3 4,.2 4,.9 4,-.6 4,1.3 4,-.6 4,1.2 4,-.1 4,-.1 4,0 4,-.9 4,.1 4,-.9 4,.4 4,-.8 4,.4 4,.6 4,-0 4,1.4 4,-.8 4,.9 4,-.9 4,0 4,-.5 4,-.8 4,-.1 4,-.8 4,1.1 4,.1 4,1.5 4,.4 4,.4 4,.9 4,-.6 4,.7 4,-1.2 4,-.3 4,-.8 4,.5 4,.5 4,-.3 4,1 4,-1.1 4,1.1 4,-.4 4,-.3 4,-1 4,-1.3 4,0 4,-.8 4,1.2 4,-.9 4,.3 4,-.2 4,.2 4,1.1 4,-1.3 4,-.1 4,-1.5 4,.5 4,.1 4,1.1 4,.8 4,-.3 4,1.7 4,.2 4,1.6 4,-.3 4,-.9 4,-.7 4,-1 4,1 4,-.6 4,1 4,-.8 4,.8 4,1.1 4,1 4,.2 4,-1.7 4,-.6 4,-1.1 4,.2 4,-.4 4,-1.1 4,-.4 4,-.6 4,2.2 4,-.1 4,.8 4,-.8 4,-.4 4,.6 4,.2 4,.7 4,-1.6 4,-.1 4,-.8 4,1.4 4,.7 4,-.9 4,.2 4,-1.1 4,1.6 4,.1 4,.9 4,-1 4,-.8 4,.4 4,-.2 4,.9 4,-1.6" stroke-dasharray="191 2 45 3 43 3 136 4 60 2 114 4"/><path d="M37.4,50.6l4,.4 4,.5 4,1 4,-.2 4,-1.1 4,.7 4,.1 4,-.9 4,1 4,.5 4,.3 4,.2 4,.7 4,1.6 4,.3 4,-1.4 4,.5 4,.4 4,-.8 4,-.2 4,-1.2 4,.3 4,.4 4,-1.1 4,.6 4,.4 4,-1.3 4,.2 4,.9 4,-.1 4,-.1 4,-1.7 4,.4 4,1 4,-1 4,-.9 4,.4 4,-.2 4,.3 4,.3 4,.4 4,1 4,-.2 4,.3 4,1.3 4,-.7 4,-1.2 4,-.5 4,-.4 4,.2 4,-.8 4,-.9 4,1.9 4,.4 4,.4 4,.7 4,-.2 4,-.4 4,-.4 4,-.5 4,.2 4,-1.1 4,-1.1 4,1.7 4,1.1 4,.4 4,.4 4,-0 4,1.4 4,.1 4,-1.5 4,.1 4,.2 4,-1.1 4,.6 4,.8 4,0 4,-.1 4,-.8 4,1.1 4,0 4,-2.1 4,-.8 4,0 4,-.5 4,.1 4,-.3 4,.4 4,.7 4,-.3 4,-0 4,.5 4,-1.6 4,-.7 4,.1 4,.4 4,.3 4,-.5 4,.6 4,2.7 4,.4 4,.1 4,.5 4,-0 4,-.3 4,-.4 4,-.8 4,.5 4,-1 4,-.3 4,2.1 4,.5 4,-.5 4,-.1 4,.3 4,.6 4,-.9 4,-1.8 4,.4 4,-.8 4,-.6 4,.4 4,-.1 4,-.2 4,.4 4,-.3 4,1.7 4,0 4,-1.5 4,.8 4,.7 4,-.2 4,-.3 4,-1 4,.5 4,.4 4,-.9 4,.1 4,.6 4,-.9 4,.8 4,.8 4,.4 4,-.5 4,-1.2 4,.4 4,.7 4,-1.5" stroke-dasharray="196 4 70 4 141 3 140 2 77 2"/><path d="M37.4,54.8l4,1.4 4,.6 4,-.9 4,.4 4,.7 4,-.5 4,-.9 4,.9 4,.3 4,.2 4,.2 4,.8 4,.9 4,.3 4,-.6 4,.7 4,.8 4,-.8 4,-.8 4,.5 4,-.2 4,-1 4,-.3 4,-.3 4,-.1 4,.2 4,-.6 4,-.4 4,1.2 4,.2 4,-1 4,.4 4,1.1 4,-1.7 4,-1 4,1 4,-.3 4,-1.5 4,.7 4,1.4 4,-0 4,.7 4,.7 4,.2 4,.4 4,-.3 4,-1.6 4,-.2 4,.1 4,-1.4 4,-.4 4,1.2 4,.5 4,-.2 4,.9 4,.9 4,-.3 4,-.6 4,-.5 4,0 4,-.3 4,-1.1 4,.1 4,1.5 4,.3 4,0 4,1.4 4,.6 4,-.6 4,-0 4,-.1 4,-.7 4,.2 4,0 4,-.4 4,1 4,.7 4,-1.1 4,-.1 4,.9 4,-1.5 4,-1.9 4,.7 4,-0 4,-1.9 4,.5 4,1 4,-.1 4,0 4,.6 4,-.1 4,-.3 4,-.4 4,-1.1 4,-.4 4,1 4,-.4 4,0 4,1.7 4,1.4 4,0 4,.8 4,.6 4,-.1 4,-.5 4,-.9 4,.2 4,-.1 4,-.6 4,-.2 4,1.1 4,.6 4,-1 4,.6 4,1 4,-1 4,-.8 4,.4 4,-.9 4,-.3 4,-.3 4,-.5 4,.1 4,.6 4,-1 4,-.2 4,1.6 4,.3 4,-1.3 4,1.2 4,1.3 4,-1.3 4,-.3 4,.7 4,-.6 4,-1.1 4,.2 4,.2 4,-.3 4,.4 4,.1 4,.5 4,.6 4,-.2 4,-1 4,.5 4,-.1 4,-1.4" stroke-dasharray="177 3 147 3 178 2 69 2 75 4"/><path d="M37.4,57.9l4,1.5 4,-0 4,-.5 4,.8 4,-0 4,-.3 4,.2 4,-.1 4,.3 4,.5 4,-.1 4,.5 4,1.1 4,-.4 4,0 4,1 4,-.3 4,-.2 4,.3 4,-.3 4,-1 4,.2 4,-.3 4,-1.1 4,0 4,-.2 4,-.2 4,.7 4,-.3 4,.2 4,1.1 4,.1 4,-1.3 4,.5 4,-.2 4,-1.3 4,-.5 4,.3 4,-.1 4,.7 4,.5 4,.3 4,1.8 4,.2 4,-1.2 4,.2 4,.1 4,-1.7 4,-.9 4,.2 4,-.1 4,-0 4,.3 4,.7 4,1.1 4,.1 4,-1.3 4,.7 4,.5 4,-1.7 4,-.8 4,1.2 4,.4 4,-0 4,.6 4,.7 4,.8 4,.2 4,-1.1 4,.6 4,.3 4,-1 4,-.8 4,1.5 4,.3 4,-.5 4,.7 4,.3 4,-.5 4,-.7 4,-1.5 4,-.6 4,.1 4,-.9 4,-1.1 4,1.3 4,.4 4,-.5 4,1.1 4,.5 4,-.4 4,-.5 4,-.6 4,-.8 4,.1 4,-.2 4,-.3 4,1.4 4,1.3 4,0 4,1 4,1.1 4,-.1 4,.1 4,0 4,-.8 4,-0 4,-.2 4,-.7 4,.3 4,.3 4,-.4 4,.4 4,.4 4,-.7 4,.3 4,.4 4,-1 4,-0 4,.2 4,-.6 4,-.8 4,.1 4,-.3 4,-.1 4,.2 4,-0 4,.8 4,1 4,-.7 4,.1 4,1.1 4,-.3 4,-1.4 4,.1 4,0 4,-.8 4,-.2 4,.1 4,.7 4,.6 4,-.4 4,-.1 4,1.5 4,-.9 4,-1.4 4,.3 4,.3" stroke-dasharray="113 5 137 4 43 2 109 3 46 4 89 3 119 4"/><path d="M37.4,61.2l4,.4 4,.1 4,.2 4,1 4,-.6 4,-.3 4,.9 4,.3 4,-.7 4,.3 4,.9 4,.3 4,-.4 4,.1 4,.9 4,.8 4,-1 4,-.1 4,1.3 4,-.1 4,-1.7 4,-.2 4,.1 4,-.9 4,-1.2 4,-.2 4,1 4,.4 4,-.9 4,1 4,1.8 4,-.7 4,-1.3 4,.4 4,-0 4,-1.1 4,-1.1 4,-.3 4,1.5 4,.1 4,-.5 4,1.9 4,1.5 4,-.8 4,-.5 4,.1 4,-.3 4,-1.1 4,-1.6 4,.3 4,.8 4,-.5 4,-.3 4,1.8 4,.7 4,-.9 4,.1 4,-0 4,-.2 4,-.5 4,-1 4,1 4,1.2 4,-.8 4,.7 4,1.5 4,0 4,-.4 4,.1 4,-.4 4,0 4,-.3 4,-.4 4,1.1 4,.6 4,-.5 4,.2 4,.5 4,-.7 4,-.7 4,-.9 4,-1.2 4,-.3 4,-.7 4,-.3 4,.7 4,.4 4,.1 4,.9 4,-.3 4,-.3 4,.2 4,-.8 4,-1 4,.7 4,-.3 4,.1 4,.6 4,.7 4,1.3 4,.6 4,-.2 4,.9 4,.5 4,-.8 4,-.5 4,.7 4,-.6 4,-.6 4,-.2 4,.1 4,.4 4,-.4 4,-.7 4,1.2 4,.6 4,-1.2 4,-.1 4,.7 4,-.5 4,-.7 4,-.7 4,.1 4,.3 4,-1.3 4,-.2 4,2 4,-.1 4,-.5 4,1.2 4,1 4,-.1 4,-1.1 4,-.2 4,0 4,-.1 4,-1.9 4,.1 4,1.6 4,-.3 4,-.6 4,1.2 4,.6 4,-.8 4,-.8 4,-.2 4,.7 4,-.7" stroke-dasharray="55 5 124 3 44 3 119 3 83 5 111 3 162 2"/><path d="M37.4,63.8l4,.1 4,.9 4,-.1 4,.5 4,.1 4,.6 4,-.2 4,.5 4,-.1 4,.1 4,.2 4,-0 4,.1 4,-.2 4,.8 4,.1 4,.8 4,-.2 4,.1 4,.1 4,.2 4,-1.5 4,-1 4,-.6 4,.1 4,-.8 4,-.5 4,.8 4,.9 4,.8 4,-.5 4,.9 4,.2 4,-.2 4,-2 4,-.1 4,-.4 4,.5 4,-.9 4,.5 4,1.6 4,.8 4,.2 4,-.6 4,1.1 4,-.4 4,-1 4,-1.8 4,.2 4,0 4,.1 4,-.8 4,1.3 4,.6 4,.3 4,-.9 4,0 4,.7 4,-.5 4,-.9 4,-.3 4,1.7 4,.4 4,.1 4,0 4,1.8 4,-.4 4,-.1 4,-1.3 4,.6 4,.3 4,-.6 4,-.4 4,.7 4,1.3 4,-.4 4,-.2 4,-.2 4,.4 4,-1.5 4,-.7 4,-1.2 4,-.1 4,-.7 4,-.3 4,.3 4,.8 4,.3 4,.2 4,.3 4,-.5 4,.3 4,-1 4,.2 4,-.6 4,.5 4,-.2 4,1 4,.3 4,.9 4,.5 4,.6 4,.4 4,-.2 4,.4 4,-.1 4,-0 4,-.9 4,.2 4,-.5 4,.1 4,-.9 4,.1 4,-0 4,.9 4,-.7 4,.1 4,.4 4,.2 4,-.2 4,-1.2 4,.3 4,-.3 4,-.3 4,-1.3 4,.8 4,.9 4,.3 4,-.3 4,1.1 4,.7 4,.3 4,-1.2 4,-.5 4,.1 4,-.3 4,-1.1 4,-.5 4,1.4 4,0 4,0 4,-.6 4,1.5 4,-.2 4,-.8 4,-1.3 4,.5 4,.2" stroke-dasharray="43 2 129 4 196 4 175 5 114 3"/><path d="M37.4,66.0l4,.8 4,.6 4,1.2 4,-1 4,1 4,.7 4,-.1 4,1.3 4,-1.3 4,-0 4,0 4,1 4,-1.7 4,.8 4,.3 4,.3 4,1.1 4,.1 4,0 4,-.4 4,1.1 4,-2.3 4,-.8 4,-.7 4,-.2 4,-.9 4,.5 4,.4 4,.1 4,2.3 4,-.6 4,.2 4,-.5 4,.8 4,-2 4,-.1 4,-.7 4,-.8 4,1.3 4,.3 4,.7 4,-.3 4,2.4 4,-1 4,-.2 4,-.7 4,-.3 4,-.7 4,-.2 4,-.1 4,-1.6 4,2.5 4,-.2 4,.3 4,-.8 4,1.2 4,-1 4,.3 4,-.4 4,-1.1 4,1.4 4,.7 4,.4 4,-.7 4,2.1 4,-.3 4,.2 4,0 4,-1.1 4,-.2 4,.6 4,.1 4,-1.4 4,1.8 4,-.1 4,.8 4,-.3 4,-.1 4,-.9 4,-.2 4,-.4 4,-2.7 4,.4 4,-.2 4,.3 4,-1.2 4,1.7 4,-.4 4,.7 4,.5 4,-1 4,0 4,-0 4,.7 4,-1.7 4,1.2 4,-.4 4,.7 4,.7 4,.5 4,-.4 4,1 4,1.6 4,-1.3 4,.8 4,-.3 4,.6 4,-.9 4,.2 4,-1.6 4,.1 4,.9 4,-1.5 4,.2 4,-0 4,1.6 4,-1.1 4,1.2 4,-1 4,.2 4,.2 4,-.6 4,-1.5 4,-.6 4,1.6 4,-1.4 4,1.1 4,.2 4,1 4,-0 4,1.2 4,-.8 4,-1 4,1 4,-1.2 4,-.5 4,-.8 4,.8 4,-.8 4,1.8 4,-.7 4,-.2 4,.4 4,.3 4,-1.1 4,-1.2 4,1.1 4,-1.2" stroke-dasharray="197 3 172 5 148 2 103 2"/><path d="M37.4,68.8l4,1 4,.5 4,-.2 4,1 4,.7 4,.7 4,.1 4,.1 4,.3 4,-.4 4,-.3 4,-.8 4,.8 4,-.8 4,.4 4,1 4,.8 4,-0 4,.2 4,.4 4,-1.2 4,-.4 4,-1.2 4,-.7 4,-.8 4,-.5 4,.7 4,.7 4,.6 4,.1 4,1.5 4,0 4,-.9 4,-.1 4,-.6 4,-.6 4,-1 4,.6 4,-.2 4,.8 4,.4 4,.7 4,1 4,-.7 4,-.2 4,-.6 4,-.4 4,-1.3 4,.5 4,.2 4,-.8 4,.7 4,.3 4,.4 4,-.3 4,.2 4,-.5 4,-.2 4,-.1 4,-.5 4,1.6 4,-0 4,.5 4,1 4,.8 4,-.5 4,-.1 4,.4 4,-1.1 4,.2 4,-.7 4,.5 4,.2 4,-.1 4,.5 4,.7 4,.2 4,-1.4 4,.4 4,-.8 4,-1.4 4,-.5 4,-.2 4,-.6 4,-.6 4,.7 4,0 4,.5 4,0 4,0 4,1 4,-.5 4,-.1 4,.1 4,.3 4,-.9 4,.6 4,.5 4,-.2 4,.6 4,.2 4,.8 4,.3 4,.5 4,.1 4,.4 4,-0 4,-1 4,.5 4,-.9 4,-1 4,-.1 4,.4 4,-.8 4,.2 4,1.1 4,-0 4,.4 4,-.3 4,.4 4,-.7 4,-.6 4,-.9 4,0 4,.1 4,-.9 4,1.3 4,1 4,-.3 4,.6 4,.7 4,-.3 4,-.9 4,.2 4,-.8 4,-.3 4,-.3 4,-.2 4,1.1 4,-.3 4,.1 4,.1 4,.1 4,-1.2 4,-.1 4,-.1 4,-.7 4,.6" stroke-dasharray="187 4 41 4 198 4 152 3 137 5"/><path d="M37.4,72.2l4,.5 4,-.8 4,1.7 4,.6 4,1.1 4,-.4 4,.8 4,.6 4,-0 4,-.7 4,-1 4,.4 4,-.7 4,.8 4,-1 4,1.5 4,.6 4,1.6 4,-1.5 4,.6 4,-.8 4,.1 4,-1.8 4,-1.1 4,-.5 4,.4 4,0 4,-.1 4,.9 4,.9 4,1.4 4,-.9 4,-.4 4,-.1 4,-.2 4,-.7 4,-.9 4,.1 4,.5 4,1.2 4,-.9 4,1.2 4,-.2 4,1.3 4,-2.1 4,.3 4,-1.5 4,1.2 4,-1.1 4,.3 4,-.5 4,1.3 4,.3 4,-.4 4,-.7 4,.1 4,.4 4,-.5 4,-.2 4,-.4 4,1.6 4,.6 4,.6 4,-.3 4,1.2 4,.6 4,-.7 4,-.7 4,-.5 4,.6 4,-.7 4,.2 4,-.8 4,2 4,-.1 4,.4 4,-1.4 4,.9 4,-.7 4,-.2 4,-1.8 4,-.6 4,.2 4,-.5 4,-.2 4,-1.1 4,1.3 4,-.1 4,1.2 4,-1.7 4,1.4 4,-.1 4,1.1 4,-1.1 4,.2 4,-0 4,.7 4,-.5 4,-.2 4,.4 4,.9 4,.6 4,-.5 4,.9 4,.5 4,1.2 4,-1 4,-.7 4,-.2 4,0 4,-.9 4,-1.3 4,.3 4,-.2 4,1.5 4,-1.3 4,1.3 4,-0 4,1.7 4,-2 4,.1 4,-1.2 4,.8 4,-1.2 4,.2 4,-.7 4,1.7 4,.7 4,.1 4,-.2 4,.1 4,.8 4,-1.3 4,-.3 4,-1.1 4,1 4,-.5 4,0 4,-.2 4,.6 4,.5 4,-.3 4,-.8 4,-.6 4,.6 4,-1 4,-0 4,-.6" stroke-dasharray="120 2 85 5 120 2 139 5 136 3"/><path d="M37.4,74.7l4,-.2 4,.8 4,1.3 4,.6 4,.8 4,.5 4,.4 4,.5 4,.3 4,-.9 4,-1.4 4,-.6 4,.9 4,.3 4,-.5 4,-.1 4,1.5 4,1.7 4,-0 4,-1.6 4,-.6 4,.2 4,-.8 4,-1.6 4,-.7 4,.3 4,.5 4,.2 4,.7 4,1.1 4,.4 4,-.7 4,-.3 4,.4 4,-.2 4,-1 4,-1.3 4,.6 4,1.7 4,.1 4,-.6 4,-.2 4,.9 4,.3 4,-.6 4,-1.2 4,-.6 4,.2 4,.5 4,-.2 4,0 4,-0 4,.4 4,.4 4,-.1 4,-.8 4,-.9 4,.2 4,.8 4,.1 4,-0 4,1 4,.9 4,1.1 4,-.1 4,-0 4,.1 4,-.5 4,-.9 4,.2 4,.2 4,-.1 4,-.7 4,.3 4,1.2 4,.7 4,-1.1 4,-1.5 4,.4 4,.9 4,-.9 4,-2.3 4,-.5 4,1 4,.2 4,-1.2 4,-.6 4,.6 4,.9 4,.3 4,.1 4,.3 4,.4 4,.2 4,-.1 4,.2 4,.2 4,-.8 4,-.4 4,.6 4,.9 4,0 4,.1 4,.8 4,.9 4,.6 4,-.2 4,-.7 4,-.9 4,-.6 4,-.1 4,-.5 4,-.7 4,-.6 4,.9 4,1.4 4,.7 4,-1 4,-.4 4,.7 4,.4 4,-1.1 4,-1.6 4,0 4,1.2 4,.5 4,-.4 4,.3 4,.7 4,.4 4,-.6 4,-.1 4,-.2 4,-.4 4,-1.2 4,.1 4,.8 4,.6 4,-.6 4,-.5 4,.5 4,1 4,-.9 4,-1.9 4,-.6 4,.9 4,.7 4,-.2" stroke-dasharray="86 2 110 2 138 3 157 4 155 4"/><path d="M37.4,78.7l4,-1.5 4,.3 4,1.6 4,1 4,1.5 4,-.5 4,.9 4,.6 4,-.4 4,-.2 4,-2.3 4,.2 4,.4 4,-.4 4,.9 4,-.5 4,1.7 4,.7 4,-.3 4,.4 4,-1.4 4,-.2 4,-1.1 4,-1.3 4,.4 4,-.6 4,.6 4,.4 4,.4 4,1.4 4,-.5 4,.3 4,-.6 4,-.5 4,.7 4,-1.3 4,-.2 4,.1 4,.7 4,1.5 4,-1.3 4,.2 4,-0 4,.1 4,.3 4,-2.5 4,.3 4,.5 4,.2 4,.4 4,-1.2 4,.9 4,.8 4,-.2 4,0 4,-1.6 4,.3 4,.2 4,-.1 4,.6 4,-.4 4,1.9 4,.6 4,.3 4,.9 4,-.5 4,.3 4,-.8 4,-.2 4,.2 4,-.8 4,.3 4,-.3 4,.3 4,1 4,-1.2 4,.2 4,-.6 4,.2 4,.4 4,-1.8 4,-.5 4,-.6 4,.5 4,.1 4,-1.8 4,.1 4,.4 4,.9 4,.6 4,-1 4,1.1 4,.6 4,1 4,.1 4,-1.7 4,.9 4,-.1 4,-.1 4,-.2 4,-.9 4,1.7 4,.5 4,.9 4,.6 4,-.3 4,.8 4,-1.2 4,-.5 4,-.4 4,-1.5 4,.2 4,-.7 4,.5 4,.8 4,-.2 4,1.2 4,-.9 4,.8 4,.4 4,-1.5 4,-.4 4,-.8 4,1 4,.4 4,-.8 4,.5 4,.5 4,1.4 4,.2 4,-1.8 4,-.1 4,-.4 4,.3 4,-.2 4,-1.5 4,1.3 4,0 4,1.2 4,-.4 4,-1.2 4,.7 4,-1 4,-.3 4,-.7 4,-.8 4,1.3 4,-.3" stroke-dasharray="134 2 119 2 164 2 79 2 81 3 69 2"/><path d="M37.4,80.0l4,1.1 4,1 4,-0 4,1 4,1.4 4,.7 4,.7 4,.4 4,-1.3 4,-.5 4,-.4 4,-.5 4,-0 4,-.9 4,.1 4,2.1 4,.7 4,-.5 4,.4 4,-.2 4,-.6 4,-.4 4,-1.2 4,-.8 4,-.2 4,-0 4,.6 4,.6 4,-.3 4,.6 4,1.4 4,-.4 4,-1.2 4,-.1 4,-.2 4,.3 4,.2 4,-.7 4,.7 4,.5 4,-.3 4,.5 4,-.3 4,-1.4 4,-.2 4,.7 4,-1 4,-.1 4,-.1 4,.9 4,.9 4,-.4 4,-.6 4,.3 4,-.2 4,-.3 4,.2 4,-.7 4,-.2 4,1 4,.9 4,.8 4,-0 4,.3 4,1 4,.7 4,-.9 4,-.9 4,.5 4,-.3 4,-.1 4,-.3 4,-.5 4,.4 4,-0 4,.1 4,-.2 4,-.7 4,-.6 4,.9 4,.3 4,-1.7 4,-.7 4,0 4,-0 4,-.5 4,-.9 4,-.1 4,1 4,.3 4,.7 4,.8 4,.1 4,.1 4,1.6 4,-.3 4,-1.3 4,-.6 4,.1 4,.6 4,-0 4,-.4 4,.9 4,1.5 4,.3 4,.1 4,.1 4,-1.1 4,-.4 4,0 4,-1.2 4,-.7 4,-.6 4,1 4,1.1 4,0 4,-.8 4,1.1 4,.6 4,-1 4,-.5 4,-.5 4,-.2 4,.5 4,0 4,.4 4,.6 4,-.4 4,.6 4,1 4,-1.4 4,-1.4 4,.4 4,.1 4,-.3 4,-.5 4,.2 4,1.1 4,.5 4,-.5 4,-.2 4,-.4 4,-1.2 4,-0 4,-.1 4,-1 4,0 4,1.1" stroke-dasharray="52 4 53 3 127 3 139 4 191 3 192 3"/><path d="M37.4,84.1l4,-1.1 4,.2 4,2.2 4,1.9 4,-.2 4,-0 4,1.4 4,1.2 4,-1.1 4,-1.8 4,-.6 4,.7 4,-.8 4,-.5 4,.6 4,1.2 4,.5 4,-.1 4,.4 4,-.1 4,-.8 4,-.8 4,-.5 4,-.2 4,-.8 4,0 4,.6 4,.8 4,.1 4,-.4 4,.8 4,.1 4,-.5 4,-.9 4,.3 4,.6 4,-.2 4,-.2 4,.7 4,.5 4,-.3 4,-1 4,-.2 4,.2 4,-.4 4,-1.1 4,-.3 4,1.3 4,.1 4,-.8 4,.5 4,.9 4,.5 4,-1.1 4,-.7 4,.3 4,.5 4,-.5 4,-.6 4,1 4,1.2 4,.2 4,.4 4,.6 4,.3 4,.3 4,-0 4,.1 4,-.7 4,-.5 4,.3 4,.2 4,-.6 4,-1.3 4,.4 4,.9 4,-.2 4,-1.3 4,-.6 4,1.7 4,.6 4,-1.8 4,-1.6 4,.2 4,1.2 4,-1 4,-2.1 4,.1 4,1.6 4,1.2 4,-.4 4,.2 4,1.3 4,1.2 4,-.3 4,-.5 4,-1 4,.1 4,.1 4,-.3 4,-.2 4,0 4,1 4,1.8 4,.5 4,-.8 4,-.6 4,.8 4,.3 4,-2.1 4,-1.9 4,.4 4,1.8 4,-.2 4,-1.3 4,.2 4,1.9 4,1.1 4,-1.7 4,-1.4 4,.3 4,1.3 4,-.5 4,-1 4,.1 4,1.6 4,.8 4,-.6 4,-.5 4,-0 4,-.1 4,-.7 4,-.3 4,-.9 4,-.4 4,.8 4,1.2 4,-0 4,-.9 4,.5 4,.8 4,-.6 4,-1.9 4,-1.3 4,.9 4,.9 4,-.6 4,-.8" stroke-dasharray="102 2 158 2 171 4 139 5 178 4"/><path d="M37.4,87.4l4,-.8 4,.4 4,1.6 4,.8 4,1 4,.5 4,1.3 4,-.4 4,-1.7 4,1.2 4,-.9 4,-1.6 4,.1 4,.6 4,.7 4,-1.2 4,1.6 4,1.3 4,-1.5 4,-.2 4,-.1 4,-.1 4,-1.4 4,-.3 4,1.2 4,-1.1 4,.6 4,.6 4,0 4,.3 4,-.7 4,.4 4,-.3 4,-.3 4,.7 4,-.8 4,.7 4,.6 4,-.5 4,.4 4,-0 4,0 4,-1.7 4,-.2 4,1.1 4,-2.2 4,.2 4,.7 4,.6 4,-.3 4,-.4 4,1.8 4,-.7 4,-1.1 4,1.3 4,-.3 4,-.7 4,-.2 4,.9 4,.5 4,-.9 4,1.6 4,.5 4,-.2 4,1.2 4,-.3 4,.8 4,-.6 4,.1 4,0 4,-.9 4,.4 4,-.7 4,-1 4,.5 4,-.8 4,.3 4,-.7 4,1.1 4,.3 4,-1.7 4,1.3 4,-.2 4,-1.5 4,-1.2 4,.1 4,.4 4,-2 4,1.2 4,1.9 4,-.7 4,1 4,1.3 4,1.1 4,-.6 4,-1.1 4,1.3 4,-1.6 4,-.7 4,.5 4,-.2 4,.8 4,.3 4,1.1 4,.4 4,-.3 4,.6 4,-1.5 4,-.2 4,.1 4,-1.5 4,.2 4,-.1 4,1.3 4,-.5 4,-0 4,1.8 4,-1.2 4,-.7 4,.1 4,.1 4,-.7 4,-.7 4,1.8 4,.5 4,-1.2 4,1.6 4,.4 4,-.5 4,-1.4 4,0 4,.4 4,-2.4 4,.7 4,.6 4,-.4 4,.7 4,0 4,1.2 4,-.7 4,-.4 4,-.1 4,-1.6 4,.2 4,-.7 4,-.5 4,1.2 4,.6" stroke-dasharray="117 4 189 4 196 2 178 4"/><path d="M37.4,90.6l4,-1 4,.6 4,1.2 4,1.6 4,.5 4,.2 4,1.4 4,-.7 4,.3 4,-2.2 4,1 4,-1.1 4,-0 4,-.6 4,1.3 4,.5 4,-.2 4,-.1 4,-.1 4,.8 4,-1.8 4,.1 4,-.9 4,1.2 4,-1.2 4,.7 4,0 4,1.2 4,-1 4,.2 4,.1 4,-.2 4,-.2 4,-.7 4,1.2 4,-.4 4,.6 4,-.7 4,1.5 4,-.6 4,.2 4,-1.5 4,.4 4,-.7 4,-.8 4,-.3 4,0 4,.9 4,-.9 4,1.2 4,-.4 4,1.3 4,-1.2 4,.5 4,-.2 4,.8 4,-1 4,0 4,.5 4,.4 4,.5 4,-.7 4,1.6 4,-.1 4,.8 4,-.8 4,1.9 4,-.5 4,.3 4,-1.1 4,.6 4,-.8 4,-1.1 4,-.7 4,-.5 4,.4 4,-.9 4,.9 4,-.4 4,1.3 4,-1 4,.5 4,-.7 4,.1 4,-1.6 4,-.8 4,-0 4,-.2 4,.5 4,0 4,1.8 4,.5 4,1.3 4,-.5 4,1 4,-.8 4,-.2 4,-1.4 4,.6 4,-0 4,-0 4,.3 4,.7 4,1.1 4,-.4 4,.5 4,-1 4,.9 4,-2.2 4,.2 4,-.8 4,.8 4,-.4 4,.5 4,.4 4,.5 4,.1 4,-1 4,.4 4,-1 4,.6 4,-1.1 4,1.4 4,-.5 4,1.5 4,-.3 4,.8 4,-.3 4,-.4 4,-.4 4,-1.2 4,.2 4,-1.3 4,.2 4,-.5 4,1.4 4,-.4 4,1.3 4,-.5 4,.5 4,-1.1 4,-.2 4,-.8 4,-.4 4,.1 4,-.8 4,1.1 4,.1" stroke-dasharray="189 2 130 4 51 2 87 3 149 5"/><path d="M37.4,93.1l4,.1 4,1.1 4,.5 4,.7 4,1.6 4,-0 4,.5 4,-.4 4,.5 4,-2 4,.8 4,-1.1 4,.5 4,-.5 4,1 4,-.3 4,-0 4,.3 4,-.5 4,-.2 4,-.7 4,.8 4,-1.2 4,.9 4,-.2 4,.6 4,-.7 4,1.3 4,-.8 4,0 4,-.1 4,-.2 4,-.4 4,-.1 4,.7 4,-.2 4,.7 4,-.1 4,.9 4,-1.5 4,1 4,-1 4,-.5 4,-.7 4,.2 4,-.8 4,-.1 4,.4 4,.1 4,0 4,0 4,1.2 4,-1 4,.8 4,-.1 4,.5 4,-.7 4,.9 4,-0 4,-.2 4,.2 4,.4 4,-.1 4,.1 4,1.7 4,-.4 4,.7 4,.1 4,1 4,-1.5 4,.1 4,-.8 4,-.8 4,-1.6 4,.7 4,-.6 4,-.9 4,1.3 4,.4 4,.2 4,-.4 4,1.4 4,-1.8 4,-.8 4,-.5 4,0 4,-2.1 4,1.1 4,.7 4,.1 4,.7 4,1.9 4,.6 4,-.6 4,1.4 4,-.8 4,-.7 4,-.9 4,1.2 4,-1.5 4,.4 4,1.2 4,.9 4,-1.1 4,1.3 4,.1 4,-1.3 4,-.3 4,.1 4,-.7 4,-1.1 4,1.9 4,-.6 4,.1 4,.1 4,1.7 4,-1.8 4,.1 4,.1 4,-.5 4,-.9 4,.6 4,1.2 4,-1.2 4,1.4 4,.9 4,.3 4,-1.6 4,1.6 4,-1.5 4,-1.5 4,-.4 4,.8 4,-1.7 4,.2 4,1.9 4,-.6 4,-0 4,.7 4,.8 4,-2.5 4,1.2 4,-.6 4,-.7 4,-1.2 4,2 4,-.7 4,-.2" stroke-dasharray="83 5 199 2 176 4 66 2 40 4 44 4"/><path d="M37.4,96.9l4,-.5 4,1.1 4,.8 4,.9 4,.8 4,-.2 4,.3 4,.2 4,-.3 4,-.3 4,-.9 4,.4 4,-.9 4,1.3 4,-.9 4,1.1 4,-.8 4,.2 4,-.1 4,-.4 4,.2 4,-1.2 4,.8 4,-.3 4,.6 4,.1 4,.4 4,-.1 4,-.4 4,.7 4,-1 4,.3 4,-.8 4,-.1 4,1 4,-.3 4,1 4,-1.1 4,1 4,-1 4,.7 4,-1 4,.1 4,-.9 4,-.6 4,.5 4,-.5 4,.5 4,-.5 4,0 4,.3 4,.1 4,1.2 4,-.9 4,1.1 4,-.6 4,1.1 4,-.2 4,.3 4,0 4,-1 4,1 4,-.4 4,1 4,-.2 4,1 4,.2 4,.9 4,.2 4,-.6 4,-.2 4,-1.3 4,-.7 4,-.7 4,-.9 4,.1 4,-.8 4,1.4 4,-.5 4,1.8 4,-.9 4,.3 4,-1 4,-.4 4,-.6 4,-.9 4,-.2 4,-.7 4,1.4 4,.2 4,1.4 4,.8 4,.2 4,.5 4,-.5 4,.7 4,-1.3 4,.2 4,-.7 4,0 4,1.4 4,-.4 4,1.3 4,-1.2 4,1.1 4,-1.1 4,.8 4,-1.1 4,-.5 4,-.3 4,-.3 4,1.2 4,-.2 4,.7 4,-.2 4,.1 4,.3 4,-1 4,.3 4,-1.3 4,.4 4,-.3 4,1.1 4,.5 4,.4 4,.7 4,-.4 4,.5 4,-1.2 4,.3 4,-2 4,0 4,-.8 4,.3 4,.1 4,0 4,.5 4,-0 4,.7 4,-.2 4,-.4 4,.1 4,-1.3 4,.9 4,-1.4 4,1.4 4,-1 4,1.3" stroke-dasharray="115 3 57 3 88 2 137 5 99 3 179 5"/><path d="M37.4,100.5l4,.4 4,-.1 4,.5 4,1.8 4,-.3 4,.1 4,.7 4,-.4 4,-.5 4,.5 4,-.9 4,-.1 4,.9 4,-.4 4,-.3 4,.6 4,-.5 4,-.5 4,.3 4,-.5 4,-.6 4,.5 4,-.2 4,.2 4,.8 4,.3 4,-.5 4,.4 4,0 4,-.6 4,.2 4,-.5 4,-.5 4,.9 4,.1 4,-.4 4,.3 4,.3 4,-.2 4,.5 4,-.8 4,-1.2 4,.7 4,0 4,-.9 4,-.2 4,-.3 4,-.5 4,.9 4,-.3 4,-.9 4,1.2 4,.8 4,.1 4,.5 4,.5 4,-.3 4,1.1 4,-.1 4,-1.2 4,.1 4,.6 4,-.5 4,.7 4,.1 4,.4 4,1.4 4,.9 4,-.7 4,-.4 4,.2 4,-1.3 4,-1.1 4,-1 4,-1.3 4,.6 4,.5 4,-.4 4,.5 4,1 4,-.5 4,.6 4,-.7 4,-1.4 4,-.4 4,-0 4,-.9 4,.1 4,1 4,.1 4,1.4 4,1 4,-.4 4,.6 4,.5 4,-1.1 4,-.2 4,.2 4,-.5 4,.5 4,.6 4,-.3 4,.7 4,.4 4,-.7 4,-.4 4,0 4,-1 4,-.1 4,.4 4,-.3 4,.7 4,1 4,-.6 4,.2 4,.7 4,-.7 4,-.9 4,.2 4,-.8 4,.2 4,.9 4,-.6 4,.3 4,1.4 4,.4 4,-.5 4,.4 4,-1.1 4,-.3 4,.1 4,-1.7 4,-.9 4,.7 4,.2 4,-.2 4,.4 4,-.3 4,.2 4,1.2 4,-.8 4,-.9 4,.5 4,-.2 4,-.2 4,.4 4,-.6 4,-.1" stroke-dasharray="160 4 53 4 164 2 155 3 183 5"/><path d="M37.4,103.1l4,.7 4,1 4,.7 4,0 4,-.5 4,.9 4,.8 4,-1 4,-.3 4,-.4 4,.6 4,1 4,-1.3 4,-.2 4,.8 4,-.1 4,.1 4,-1.5 4,-.4 4,.8 4,-.1 4,-.4 4,-.1 4,.6 4,1.2 4,-.6 4,-.1 4,.4 4,-.4 4,.4 4,-.8 4,-.2 4,.8 4,-.5 4,.1 4,.1 4,-.5 4,.6 4,-.4 4,-.4 4,.5 4,-.3 4,-.3 4,-.4 4,-.2 4,.6 4,-1.1 4,-.7 4,.3 4,-.2 4,.6 4,-.2 4,-.1 4,1.8 4,.6 4,.6 4,-.3 4,-.4 4,1.4 4,-.6 4,-1.3 4,-.2 4,.1 4,1.4 4,.4 4,-.4 4,1.5 4,.8 4,.1 4,-.6 4,-1.4 4,-.3 4,-.4 4,-1.6 4,-.9 4,-.6 4,.9 4,1 4,-.8 4,.6 4,.6 4,.1 4,-.3 4,-1.8 4,-.3 4,.2 4,-.6 4,.5 4,.1 4,1 4,1.3 4,-.3 4,.5 4,.4 4,-.7 4,.2 4,-.9 4,.6 4,.4 4,-.3 4,.5 4,.3 4,.5 4,0 4,-1.2 4,-.1 4,.1 4,-.8 4,-.4 4,-.4 4,.8 4,1.5 4,-.5 4,-0 4,.5 4,.1 4,.5 4,-1.7 4,-.8 4,1 4,-.2 4,.1 4,-.5 4,.8 4,1.8 4,-.2 4,-.7 4,-0 4,-.5 4,.5 4,-1.3 4,-1.6 4,.4 4,0 4,.1 4,-.7 4,-.5 4,1.6 4,.1 4,-.4 4,-.2 4,.1 4,.7 4,-.3 4,-.7 4,.7 4,-.3 4,.1" stroke-dasharray="35 2 102 4 128 5 181 5 122 3 148 4"/><path d="M37.4,107.4l4,-0 4,-.1 4,.7 4,.4 4,-.1 4,-.1 4,-.1 4,.2 4,.3 4,-.4 4,.2 4,.5 4,-.7 4,.3 4,.3 4,-.9 4,-.1 4,.1 4,-.9 4,.4 4,-.1 4,-.1 4,.3 4,.8 4,-.2 4,-.1 4,.3 4,.2 4,-0 4,-.8 4,0 4,1 4,-.7 4,-.9 4,1 4,.2 4,-1.3 4,.3 4,.4 4,-.2 4,-.6 4,-0 4,.8 4,-.3 4,-1.3 4,.5 4,.3 4,-1.9 4,-.4 4,1.1 4,-.4 4,-.1 4,1.3 4,1.1 4,.6 4,.3 4,.8 4,.4 4,-.8 4,-.8 4,.4 4,-.6 4,-.7 4,.9 4,1.1 4,0 4,.8 4,.8 4,.3 4,-.3 4,-1.2 4,-.8 4,-.9 4,-1.4 4,-.5 4,.1 4,-.1 4,.4 4,1 4,-.3 4,.2 4,.2 4,-.8 4,-.7 4,.1 4,-.8 4,-.4 4,1.1 4,.6 4,.2 4,.6 4,.6 4,.5 4,-.3 4,-1.1 4,.9 4,.1 4,-.9 4,.5 4,1.3 4,-.3 4,-.4 4,.7 4,.1 4,-.9 4,-1.1 4,.1 4,.5 4,-1.2 4,-.2 4,2 4,-.2 4,-.3 4,1.1 4,.5 4,-1 4,-.6 4,.3 4,-.3 4,-.4 4,-.5 4,.9 4,.6 4,-.6 4,.9 4,.9 4,-.7 4,-.5 4,.5 4,-.7 4,-.7 4,-.4 4,-.7 4,.1 4,-.4 4,-.3 4,.1 4,0 4,.1 4,.6 4,0 4,-.1 4,.6 4,-.1 4,-.5 4,.7 4,-.2 4,-.5" stroke-dasharray="147 5 65 5 67 2 142 2 32 4 41 4 48 3 183 3"/><path d="M37.4,110.6l4,-.6 4,.3 4,-.2 4,.8 4,1.1 4,-1.4 4,-.1 4,-.1 4,.6 4,1 4,-.9 4,-.5 4,.5 4,0 4,.8 4,-1.3 4,-.7 4,.5 4,-.5 4,.6 4,-.6 4,-.4 4,1 4,.2 4,.6 4,-.2 4,-.6 4,.7 4,-.1 4,-0 4,.6 4,-1.2 4,.4 4,-.5 4,.1 4,.5 4,-1.3 4,-.2 4,-.2 4,.3 4,1.1 4,-1 4,-.3 4,.5 4,-0 4,.6 4,-1.5 4,-1.7 4,.4 4,.3 4,.6 4,-.5 4,.1 4,2 4,1.3 4,.5 4,0 4,-.6 4,.6 4,-.5 4,-.5 4,-.7 4,-.8 4,1.4 4,1 4,.3 4,1.2 4,-.3 4,.2 4,.1 4,-1.1 4,-.6 4,-1.6 4,-1.1 4,.1 4,-.5 4,.8 4,-.1 4,-.4 4,1.2 4,-.1 4,.2 4,-1 4,-1.5 4,1.1 4,.1 4,.1 4,-.3 4,-.3 4,1.8 4,.8 4,-.1 4,-.2 4,-1 4,.8 4,.4 4,-.8 4,.2 4,-.2 4,1 4,1 4,-.8 4,.5 4,-.9 4,-.2 4,.3 4,-1.5 4,-.2 4,-0 4,-.3 4,1.4 4,.4 4,.5 4,.1 4,-.5 4,.8 4,-.1 4,-.7 4,-.3 4,-1.3 4,.9 4,1 4,-.6 4,.4 4,-.5 4,1.1 4,.9 4,-1.2 4,-.3 4,-.8 4,.1 4,.8 4,-1.9 4,-.7 4,-.2 4,.2 4,.5 4,-1 4,-.3 4,1 4,.3 4,1.3 4,-.4 4,-.3 4,.6 4,-.7 4,.6 4,-.5" stroke-dasharray="117 3 100 3 166 2 120 5 92 3"/><path d="M37.4,113.2l4,.5 4,-0 4,.5 4,-.5 4,.2 4,.3 4,-.8 4,.2 4,.3 4,-.1 4,.8 4,-.8 4,.3 4,.7 4,-1 4,-.1 4,-.3 4,-.1 4,-.1 4,-.5 4,.9 4,.2 4,-1 4,1 4,.6 4,-1 4,.4 4,.2 4,.8 4,-.7 4,-.1 4,1.5 4,-1.4 4,-.5 4,.7 4,-.7 4,-1.4 4,-.1 4,.7 4,-.2 4,-1.1 4,1.6 4,1.1 4,-1.6 4,.3 4,.6 4,-1.3 4,-1.2 4,-.3 4,.6 4,-1.1 4,-0 4,2.9 4,.2 4,.2 4,1.8 4,.7 4,-.8 4,-.6 4,.3 4,-.2 4,-2.1 4,1 4,1.1 4,-.7 4,.9 4,1.5 4,0 4,-.2 4,-.6 4,.2 4,-1.5 4,-1.7 4,.4 4,-.6 4,-.8 4,.6 4,.4 4,.3 4,-.3 4,0 4,.5 4,-1.5 4,0 4,.6 4,-1 4,1 4,.2 4,.5 4,.8 4,-.3 4,.3 4,.1 4,-.7 4,.4 4,-.6 4,.1 4,.8 4,-.3 4,.9 4,.5 4,-.5 4,.2 4,-.4 4,-.2 4,-.7 4,-1 4,1 4,-.8 4,-.6 4,1.9 4,.3 4,-.3 4,.4 4,.8 4,0 4,-1.3 4,.2 4,.8 4,-1.8 4,.4 4,1.2 4,-.6 4,-.6 4,.6 4,.7 4,-.3 4,-.9 4,1.5 4,-.5 4,-1.9 4,.9 4,-.2 4,-1.3 4,-.7 4,.2 4,.3 4,-1.7 4,.8 4,1.7 4,-.8 4,.5 4,1.7 4,-0 4,-.8 4,-.2 4,.5 4,-.5" stroke-dasharray="145 3 98 4 43 4 114 3 105 2 52 4 85 2"/><path d="M37.4,116.7l4,-.1 4,.5 4,-.3 4,-1 4,1.5 4,-1.3 4,.7 4,-1.1 4,1.2 4,.4 4,-.6 4,.2 4,-.4 4,1.2 4,-1.3 4,-.4 4,.3 4,.3 4,-.2 4,-.6 4,.3 4,1.2 4,-1.2 4,.3 4,-.1 4,.6 4,.2 4,-1 4,1.3 4,-.5 4,1.3 4,-1.3 4,.7 4,.1 4,-1.3 4,-.3 4,-1.5 4,.9 4,-.6 4,-0 4,.3 4,.5 4,.9 4,-.1 4,-1 4,.6 4,-1.4 4,-.4 4,-1.3 4,.1 4,1.1 4,-.9 4,2.1 4,.2 4,2.6 4,-.3 4,0 4,.7 4,-.6 4,.1 4,-2.2 4,.5 4,.4 4,.4 4,.2 4,.4 4,1.3 4,.2 4,-.9 4,0 4,-.6 4,-.6 4,-1.5 4,-1 4,1 4,-1.1 4,.9 4,-1.2 4,1.8 4,-.2 4,-.8 4,0 4,-.9 4,1.2 4,-1.4 4,.5 4,.8 4,.5 4,.4 4,-.2 4,.5 4,.5 4,-.8 4,0 4,-.7 4,1 4,-.2 4,-.6 4,1.5 4,-.6 4,1.8 4,-1.8 4,.5 4,.2 4,-1 4,-0 4,-1.3 4,1 4,-.7 4,0 4,.7 4,.6 4,.5 4,-.2 4,-.1 4,1.1 4,-.6 4,.2 4,-1 4,.6 4,.5 4,-1.5 4,.6 4,-.8 4,1.5 4,-1 4,.1 4,.6 4,-.2 4,.4 4,-1.7 4,.8 4,-.5 4,-.8 4,-.8 4,-.9 4,.5 4,-.3 4,-.6 4,1.5 4,.6 4,1.1 4,-.2 4,-0 4,1.4 4,-1.3 4,.4 4,-1.7" stroke-dasharray="167 2 187 2 70 3 151 4 135 4"/><path d="M37.4,119.5l4,-.4 4,.3 4,.6 4,-.4 4,-.2 4,-.5 4,.3 4,-.1 4,.4 4,-.2 4,.5 4,-.5 4,.4 4,-.6 4,.8 4,-.9 4,-.1 4,-.4 4,.8 4,.2 4,-.1 4,-.8 4,.3 4,.7 4,-.3 4,-.6 4,-.3 4,1.3 4,.6 4,.6 4,-1 4,.4 4,.4 4,.3 4,-1.8 4,-1 4,-1 4,.5 4,-.4 4,.1 4,-.1 4,1 4,1.1 4,.3 4,-.8 4,-.6 4,-.5 4,-.7 4,-.9 4,-.5 4,.6 4,.4 4,1.6 4,.6 4,1.4 4,.4 4,.8 4,-.5 4,.4 4,-1.3 4,-.3 4,-.8 4,.5 4,.7 4,.6 4,-.3 4,.6 4,.5 4,.1 4,-.6 4,-1.6 4,-.4 4,-.1 4,-.1 4,-1.4 4,-.1 4,.4 4,1.1 4,-.5 4,-.4 4,-.9 4,.6 4,-.2 4,.2 4,-.9 4,.6 4,.9 4,.6 4,.3 4,-.2 4,.3 4,-.1 4,-.1 4,-.4 4,.1 4,-.4 4,.5 4,.1 4,.8 4,-.1 4,.5 4,-.7 4,.7 4,-.5 4,-.5 4,-.8 4,0 4,.2 4,0 4,-.1 4,-.5 4,1.1 4,.7 4,.3 4,-.5 4,-.1 4,.7 4,.8 4,-.6 4,-.8 4,-.7 4,1.3 4,-.5 4,-.3 4,-1.4 4,.9 4,.6 4,.5 4,-.6 4,-0 4,.2 4,-.1 4,-.7 4,-1.2 4,-.6 4,-.9 4,.1 4,-.3 4,.5 4,.1 4,1.6 4,.4 4,1 4,-.2 4,.4 4,-1 4,.3 4,-.4" stroke-dasharray="112 2 91 3 198 3 140 4 135 4"/><path d="M37.4,122.2l4,.2 4,-.5 4,1.3 4,-1.9 4,1.3 4,-.4 4,-.7 4,.7 4,.3 4,-1.3 4,1.9 4,-1.3 4,0 4,.1 4,-.4 4,-.1 4,1.2 4,-1 4,.6 4,.4 4,-.4 4,-.2 4,.5 4,-.8 4,-.1 4,.3 4,-.3 4,.6 4,1.2 4,-.8 4,1.4 4,.2 4,-1.2 4,.6 4,-1.7 4,-1.4 4,.3 4,-1.3 4,-.1 4,1.4 4,-.6 4,1 4,.7 4,.1 4,-.4 4,.3 4,-2.1 4,-.2 4,-.8 4,.2 4,-.5 4,2.1 4,-.5 4,2.1 4,.8 4,.5 4,.4 4,.7 4,-2.1 4,1.5 4,-1.9 4,.3 4,.5 4,.1 4,-.3 4,1.9 4,-1.3 4,1 4,-.9 4,-.1 4,-1.2 4,.5 4,-1.8 4,.5 4,-.4 4,-0 4,-.4 4,1.5 4,-1.9 4,.9 4,-.4 4,-.7 4,.3 4,.3 4,-1.2 4,2.2 4,-.9 4,1 4,.6 4,-.2 4,0 4,.7 4,-1.7 4,.6 4,-.3 4,.1 4,-0 4,.7 4,-.2 4,.6 4,.5 4,-.7 4,.3 4,.1 4,-1.3 4,.4 4,.1 4,-1.2 4,1.2 4,-.7 4,0 4,.8 4,-.2 4,0 4,1.6 4,-1 4,1 4,0 4,-0 4,-.5 4,.5 4,-1.3 4,.2 4,-.6 4,-.4 4,-.2 4,1.3 4,-1.2 4,1.3 4,-0 4,-.3 4,-.1 4,.1 4,-2.8 4,1.2 4,-2.1 4,-.2 4,.4 4,.1 4,.4 4,2.4 4,-1.1 4,1.9 4,-.2 4,.1 4,-.6 4,.5 4,-1.6" stroke-dasharray="34 2 175 2 190 3 59 3 43 2 130 3"/><path d="M37.4,124.7l4,.4 4,-.1 4,.2 4,-.6 4,0 4,-0 4,.1 4,.8 4,-.9 4,-0 4,.1 4,.3 4,-.1 4,-1.4 4,.3 4,.7 4,.6 4,-.3 4,-.5 4,.8 4,.9 4,-.8 4,-.9 4,-.7 4,.7 4,.1 4,-.1 4,.3 4,.6 4,1.3 4,.1 4,-.2 4,-.2 4,-.8 4,-.3 4,-1.5 4,-1 4,-.5 4,-.4 4,1.2 4,.3 4,.5 4,.1 4,.3 4,.7 4,-.6 4,-1.4 4,-1.1 4,-.2 4,.7 4,-.2 4,.1 4,.8 4,1.8 4,1.8 4,-.4 4,-.1 4,.1 4,.3 4,-.2 4,-1.2 4,-.1 4,.6 4,.5 4,.2 4,-.6 4,1 4,-.3 4,-.2 4,-.7 4,-1 4,.1 4,-.6 4,-.1 4,.2 4,-.6 4,.2 4,-.2 4,.6 4,-.6 4,-1 4,.2 4,.2 4,.6 4,-.4 4,-.5 4,1.6 4,.9 4,.3 4,-.8 4,-.3 4,1.1 4,-.3 4,-.9 4,-.5 4,.2 4,.9 4,-.2 4,-.2 4,.1 4,.4 4,.7 4,-.7 4,-.1 4,-.4 4,-.1 4,.2 4,-.2 4,-.1 4,-.4 4,-0 4,.7 4,.1 4,.2 4,0 4,.7 4,1.4 4,-.3 4,-.5 4,-.4 4,.3 4,.1 4,-1.6 4,-.7 4,-.2 4,.8 4,0 4,-.6 4,.8 4,.5 4,.7 4,-.7 4,-1.6 4,-.1 4,-1.1 4,-.3 4,-1.1 4,-.1 4,1.2 4,.6 4,1.3 4,.4 4,.1 4,.9 4,-.2 4,.2 4,-.7 4,-1.1" stroke-dasharray="160 4 31 4 116 3 85 2 120 5 163 2"/><path d="M37.4,127.4l4,1 4,-.7 4,-.6 4,.9 4,-.4 4,-.4 4,1 4,-.1 4,-.7 4,.7 4,-.5 4,-1.2 4,.8 4,-.2 4,-.9 4,1.5 4,.6 4,-.5 4,1.3 4,.1 4,-1.2 4,.2 4,.1 4,-1.5 4,-0 4,.6 4,-.4 4,.7 4,1.6 4,-.1 4,.2 4,.8 4,-.8 4,-.9 4,-.6 4,-1.5 4,-.9 4,-.5 4,-0 4,.3 4,.7 4,.9 4,.6 4,.2 4,-.6 4,-.1 4,-.5 4,-1.4 4,-0 4,.4 4,-.9 4,1.2 4,1.7 4,.1 4,.6 4,1.7 4,-.7 4,-.3 4,1 4,-1 4,-.7 4,.9 4,.1 4,-.8 4,1.4 4,.1 4,-1.1 4,.6 4,-.4 4,-1.6 4,.3 4,-0 4,-1.1 4,.5 4,.5 4,-1.2 4,.5 4,.2 4,-1.1 4,.2 4,-0 4,-1.1 4,.4 4,1 4,-.8 4,.9 4,1.1 4,-.3 4,.1 4,1.3 4,-1.1 4,-.3 4,.7 4,-.8 4,-.5 4,1 4,-.2 4,-.8 4,1.1 4,.2 4,-.8 4,.6 4,.4 4,-.9 4,.5 4,-0 4,-.3 4,-.2 4,-0 4,-.3 4,-.2 4,.1 4,.3 4,.4 4,.1 4,.9 4,.9 4,-.2 4,-.1 4,.9 4,-.9 4,-1.4 4,.2 4,-.8 4,-1.3 4,1.1 4,.2 4,-.8 4,1.7 4,.6 4,-1.3 4,.4 4,-0 4,-2.3 4,-.6 4,-0 4,-1 4,0 4,1.4 4,-.1 4,1 4,1.7 4,-.1 4,-.1 4,.5 4,-.6 4,-.8 4,.9" stroke-dasharray="101 5 157 2 123 4 72 4 39 4 130 5"/><path d="M37.4,130.9l4,-.9 4,.8 4,.5 4,-.3 4,-.4 4,.8 4,0 4,-.3 4,.4 4,-.8 4,-.9 4,.9 4,-.8 4,-1.3 4,1.4 4,1.1 4,-.3 4,.4 4,1.2 4,-.1 4,-0 4,-.6 4,-.9 4,-.4 4,-.2 4,-0 4,-.6 4,1.2 4,1.8 4,-.1 4,-.2 4,1 4,-.2 4,-1.8 4,-.6 4,-1.6 4,-1 4,.6 4,-.4 4,-.8 4,1.6 4,1.4 4,-.5 4,-.1 4,.5 4,-.3 4,-1 4,-.7 4,-.1 4,.1 4,.6 4,1 4,-.2 4,1.1 4,1.6 4,-.5 4,-.6 4,1.4 4,-.1 4,-.9 4,.3 4,-.1 4,.3 4,.8 4,-.5 4,-.8 4,.2 4,.5 4,-1.2 4,-1.2 4,.6 4,0 4,-.8 4,-.1 4,.7 4,-.4 4,.1 4,-.1 4,-.9 4,-.2 4,1 4,-1.1 4,-.8 4,1.3 4,.9 4,-.8 4,.5 4,.8 4,.3 4,.3 4,-.4 4,-.6 4,.5 4,.5 4,-.8 4,-.8 4,.8 4,.7 4,-1 4,-.6 4,.9 4,.1 4,-.1 4,.8 4,-.7 4,.1 4,1.3 4,-1 4,-1.4 4,.9 4,.3 4,-1.3 4,.1 4,.8 4,1.1 4,.3 4,.6 4,.4 4,.5 4,-.1 4,-.7 4,-1.7 4,-.3 4,.3 4,-1.5 4,-.7 4,1.5 4,.4 4,-.1 4,.8 4,-.2 4,-.6 4,.2 4,-1.4 4,-1.9 4,.5 4,0 4,-.6 4,.3 4,1.3 4,1.6 4,-.3 4,.6 4,.5 4,-.3 4,.1 4,-.2 4,-.7" stroke-dasharray="156 3 111 4 39 2 90 4 187 4 56 5"/><path d="M37.4,133.7l4,.5 4,-.7 4,.5 4,-0 4,1 4,-.8 4,1 4,-.1 4,-.4 4,-1 4,-.1 4,-0 4,-1.4 4,.1 4,.4 4,1.7 4,-.2 4,1.1 4,.1 4,.7 4,-.2 4,-1.2 4,-.2 4,-1.1 4,.2 4,-.7 4,1.4 4,-.4 4,1.2 4,.9 4,.7 4,-.3 4,-1.4 4,.3 4,-1.6 4,-.8 4,-1.7 4,.7 4,-.5 4,.6 4,.1 4,.9 4,.2 4,-.2 4,.5 4,-.8 4,-.3 4,-1.2 4,1.3 4,0 4,.1 4,.2 4,1.2 4,1 4,-.3 4,.6 4,-.4 4,1 4,-.7 4,.6 4,-.4 4,.3 4,.2 4,.1 4,.1 4,-1 4,.2 4,-.6 4,.5 4,-2.1 4,.2 4,.2 4,.5 4,-.8 4,-.2 4,.6 4,-.3 4,0 4,-.6 4,.4 4,-1.1 4,.5 4,0 4,.6 4,-.5 4,.3 4,1.3 4,-.3 4,.3 4,-.7 4,1.4 4,-.7 4,.4 4,-.5 4,.3 4,-.3 4,-.3 4,-0 4,-.7 4,-0 4,-.3 4,1.4 4,-.5 4,.4 4,.2 4,1 4,.1 4,-1.2 4,.2 4,-.6 4,.3 4,-1.8 4,1.2 4,-.1 4,1.2 4,.6 4,1.1 4,.4 4,-.5 4,.7 4,-1.1 4,-.7 4,-2 4,.3 4,-.3 4,-.1 4,-.6 4,.7 4,1.5 4,-.4 4,-.1 4,-.8 4,.3 4,-1.5 4,-.4 4,-.9 4,.3 4,-.2 4,.8 4,1.3 4,-.2 4,.9 4,.2 4,1.2 4,-1.4 4,.1 4,-.2 4,1.1" stroke-dasharray="68 2 181 4 170 4 36 5 72 2 80 2"/><path d="M37.4,135.9l4,.1 4,.8 4,.1 4,0 4,.4 4,.7 4,.1 4,.1 4,-.5 4,-.6 4,-1 4,-1 4,.1 4,.3 4,.8 4,.2 4,.4 4,1.2 4,1.4 4,-0 4,-.9 4,-1.2 4,-.3 4,-.3 4,-.4 4,-.3 4,.2 4,.7 4,1.1 4,.7 4,.6 4,-.1 4,-1.1 4,-1.1 4,-.7 4,-.6 4,-.9 4,-.9 4,-.1 4,.9 4,1 4,.1 4,-.3 4,-0 4,.5 4,-0 4,-.8 4,-.3 4,.3 4,.3 4,.2 4,.6 4,.9 4,-0 4,.3 4,-.1 4,.8 4,.4 4,-.4 4,-.2 4,.1 4,1 4,.1 4,-.3 4,-.7 4,-.2 4,.1 4,-.6 4,-.6 4,-.5 4,-.1 4,-.1 4,-.2 4,.4 4,.3 4,-.4 4,-.7 4,.3 4,.3 4,-.3 4,-.7 4,-.2 4,.2 4,.7 4,.6 4,-.4 4,-.1 4,.2 4,.9 4,-.2 4,.2 4,-0 4,.2 4,.2 4,-.1 4,-.3 4,-.3 4,-.9 4,-.6 4,-0 4,.9 4,-.2 4,-.1 4,.5 4,1.2 4,.9 4,-.4 4,-.7 4,-.6 4,-.1 4,-.5 4,-.4 4,0 4,.4 4,1.1 4,1 4,.6 4,1 4,-.2 4,-.9 4,-.5 4,-.8 4,-.7 4,-.9 4,-.7 4,-.3 4,1.2 4,.7 4,.1 4,-.2 4,-.2 4,-.1 4,-.7 4,-.6 4,-1.1 4,-.3 4,.3 4,.3 4,.6 4,1.1 4,.2 4,-.2 4,.5 4,.5 4,.4 4,-.8 4,-.2 4,.4" stroke-dasharray="138 2 60 4 127 3 38 2 133 3 177 2"/><path d="M37.4,139.4l4,-.3 4,.4 4,-.3 4,.4 4,1.6 4,.3 4,-.3 4,-.3 4,.6 4,-1.9 4,-.2 4,-1.2 4,.2 4,-.9 4,1.8 4,.7 4,.7 4,.7 4,1.2 4,0 4,-1.1 4,.5 4,-1.5 4,-.5 4,-1.1 4,1.7 4,-1.3 4,1.4 4,.3 4,1.2 4,-.8 4,1 4,-1 4,-1.3 4,-.6 4,-.2 4,-.9 4,-1.1 4,1 4,-.3 4,.4 4,-.1 4,1.1 4,-1.4 4,.6 4,0 4,.6 4,-.9 4,.3 4,.9 4,-0 4,.7 4,.2 4,.5 4,-1 4,1.3 4,-0 4,.5 4,-.7 4,1.2 4,-.6 4,.8 4,-.1 4,.2 4,-1.1 4,-.3 4,.3 4,-1.1 4,-.2 4,-.4 4,.5 4,-1.5 4,1.2 4,-.5 4,.3 4,-1.3 4,1.6 4,-1 4,.1 4,-.2 4,.7 4,-.7 4,-.1 4,1 4,-.8 4,.2 4,-.2 4,1.2 4,-1.1 4,1.2 4,-.2 4,1 4,-.7 4,1.4 4,-.9 4,-.5 4,-.7 4,-.4 4,-.7 4,-.7 4,1.3 4,-.6 4,1 4,.3 4,2 4,-1 4,.8 4,-.6 4,.1 4,-2 4,.5 4,-.3 4,-.4 4,.7 4,1.3 4,1.1 4,-.5 4,2 4,-.8 4,-0 4,-1.5 4,.3 4,-2.3 4,-.2 4,-.2 4,.5 4,-.6 4,.7 4,.5 4,-.5 4,.4 4,-.4 4,-.6 4,-1.9 4,1 4,-.8 4,.5 4,-.3 4,1.9 4,-.5 4,.8 4,.5 4,.4 4,-1 4,.3 4,.6 4,-.3 4,.7" stroke-dasharray="104 4 174 4 64 4 36 2 44 2 97 2 92 3"/><path d="M37.4,141.9l4,-.1 4,-.6 4,1.5 4,-.3 4,1.6 4,.7 4,-.6 4,.3 4,-1.5 4,.2 4,-.8 4,-1.2 4,-.2 4,-.5 4,1.8 4,.8 4,.8 4,1.1 4,-.7 4,1 4,-.1 4,-.8 4,-.6 4,-1.9 4,1 4,-.4 4,.7 4,.5 4,-.6 4,1.4 4,.1 4,.5 4,-.9 4,-1.6 4,0 4,-1.3 4,.4 4,-.7 4,-.8 4,1.1 4,-.7 4,1.2 4,-.5 4,-.1 4,.5 4,-.9 4,1.2 4,-.3 4,.5 4,.7 4,-.7 4,1.1 4,-.2 4,.6 4,.2 4,-.8 4,1.2 4,-1 4,1.6 4,.1 4,-.2 4,.3 4,-.9 4,1 4,-.4 4,-.7 4,-.4 4,-1.5 4,.9 4,-.1 4,-.6 4,.1 4,-1.3 4,1.1 4,-.1 4,.3 4,-.4 4,-1.2 4,1.4 4,-.1 4,.8 4,-.6 4,-.7 4,.8 4,-.6 4,.9 4,-.6 4,-.7 4,.9 4,-.1 4,1.4 4,0 4,.2 4,.5 4,-1.2 4,.5 4,-1.2 4,-.5 4,-.4 4,-1.4 4,1.4 4,-.2 4,1.3 4,1 4,-.1 4,.9 4,-.3 4,.2 4,-.3 4,-1.8 4,-0 4,-1 4,1.5 4,.6 4,.1 4,1.3 4,-.4 4,1.6 4,-.1 4,-.8 4,-.6 4,-1.8 4,.5 4,-.9 4,-.4 4,0 4,-.7 4,1.6 4,-.5 4,.4 4,-.5 4,-1.3 4,.7 4,-1 4,.4 4,-.5 4,-.3 4,1.3 4,-.3 4,1.6 4,-.2 4,-.4 4,.6 4,-.7 4,1.1 4,-.3 4,0 4,.9" stroke-dasharray="54 3 98 3 65 4 138 3 107 3 95 4 87 2"/><path d="M37.4,143.5l4,.8 4,-.3 4,1.3 4,-.6 4,1.8 4,.1 4,.7 4,-.7 4,-.7 4,-.3 4,-1.4 4,-.6 4,-.7 4,1.5 4,-.4 4,1.4 4,.4 4,1.9 4,-.1 4,.1 4,-.5 4,-0 4,-.5 4,-1.6 4,.5 4,-.1 4,.7 4,-1.1 4,1.4 4,.4 4,.2 4,-1.3 4,0 4,-.1 4,-1 4,-.6 4,-.7 4,1.1 4,-1.1 4,.1 4,-.7 4,1.5 4,-.9 4,-.1 4,.1 4,.9 4,-.1 4,-.3 4,1 4,.4 4,.7 4,-1.1 4,1.3 4,.1 4,.5 4,-1.6 4,1.1 4,.6 4,.1 4,-.3 4,.4 4,1.3 4,-1.3 4,-.2 4,-.8 4,1.1 4,-1.6 4,-.2 4,-.3 4,.7 4,-.7 4,-.6 4,.3 4,0 4,0 4,-1.4 4,1 4,-0 4,1 4,-1.5 4,1.6 4,-.1 4,.3 4,-1.1 4,.2 4,.2 4,-.8 4,-.2 4,-0 4,1.7 4,-.3 4,.9 4,-.3 4,1.3 4,-.7 4,-.9 4,-.9 4,-.5 4,-.5 4,-1 4,.8 4,.5 4,1.4 4,-.7 4,2.1 4,0 4,.4 4,-.9 4,-.3 4,-.5 4,-.9 4,-.1 4,0 4,1.7 4,-.4 4,1.4 4,-0 4,1.4 4,-1 4,-.2 4,-1.1 4,-.2 4,-1.1 4,-.6 4,.2 4,-.4 4,.8 4,-1 4,1 4,-.9 4,.4 4,-1.3 4,.2 4,-.4 4,-.3 4,.5 4,-.1 4,1.4 4,-.4 4,1 4,-.7 4,1.2 4,-1 4,.7 4,-.7 4,.8 4,.1 4,.6" stroke-dasharray="30 3 149 3 37 5 144 4 148 2 189 4"/><path d="M37.4,146.4l4,.7 4,.4 4,-.4 4,1.5 4,1.4 4,-.6 4,.5 4,.3 4,-1.3 4,-.8 4,-.6 4,-1.1 4,.1 4,.8 4,.1 4,1.3 4,1.1 4,-0 4,1 4,.2 4,-.8 4,-.1 4,-.3 4,-1.1 4,.2 4,.2 4,-.4 4,.5 4,.6 4,-.9 4,.3 4,.6 4,-1.4 4,-.2 4,0 4,-.9 4,-.5 4,.7 4,-.9 4,-.5 4,.9 4,-.8 4,-.3 4,1.1 4,-.6 4,.1 4,1.3 4,-.1 4,-.2 4,1.3 4,.4 4,-.7 4,.9 4,0 4,-.8 4,1 4,.1 4,-.4 4,.8 4,.6 4,-.8 4,.5 4,0 4,-.6 4,.1 4,-.4 4,-.5 4,.2 4,-.6 4,-.5 4,.3 4,-.3 4,-1.2 4,.6 4,0 4,-1 4,.8 4,.7 4,-.8 4,1.2 4,1.2 4,-1.3 4,-0 4,1 4,-1.6 4,-.9 4,1.3 4,-1.2 4,-.3 4,1.8 4,.4 4,.1 4,1.4 4,.1 4,-1.1 4,-.1 4,-.8 4,-1.5 4,-.6 4,-.3 4,.4 4,.6 4,.7 4,1.2 4,1.2 4,-.6 4,.5 4,.4 4,-1.5 4,-.6 4,.9 4,-1.3 4,-.2 4,2 4,-.1 4,-.4 4,2.4 4,-0 4,-1.8 4,.8 4,-.2 4,-2.6 4,.2 4,.6 4,-1.4 4,.1 4,1.3 4,-1 4,-.2 4,.5 4,-1 4,-.5 4,-.1 4,-.4 4,.2 4,.1 4,.6 4,1 4,-.1 4,.3 4,.8 4,-.4 4,-.8 4,.9 4,.2 4,-1.1 4,1.6 4,1.3" stroke-dasharray="86 5 155 2 58 5 154 3 69 3 81 3"/><path d="M37.4,149.6l4,0 4,.2 4,.5 4,.8 4,1.4 4,-.3 4,.3 4,0 4,-.9 4,-.7 4,-1 4,.2 4,-.5 4,0 4,1.2 4,.4 4,.7 4,1.1 4,.1 4,.3 4,-.5 4,-.6 4,.5 4,-1.4 4,.7 4,-.4 4,.2 4,.1 4,-.5 4,.6 4,-.2 4,-.5 4,-.1 4,-.2 4,-.8 4,.1 4,-.5 4,.1 4,-.3 4,-.9 4,.9 4,-1.1 4,.5 4,-.3 4,.6 4,.4 4,0 4,1 4,.6 4,-.2 4,.3 4,.7 4,-.5 4,.2 4,-.3 4,.9 4,0 4,-.2 4,1 4,-.4 4,.3 4,-.6 4,0 4,.2 4,-1.2 4,.5 4,-.2 4,-.3 4,-.2 4,.3 4,-.6 4,-.2 4,-1.1 4,.4 4,-.6 4,-.4 4,.8 4,0 4,.9 4,.3 4,.7 4,.4 4,-.9 4,-.5 4,.1 4,-1.1 4,-.5 4,.1 4,.1 4,1.2 4,-.1 4,1.8 4,.3 4,-.6 4,.3 4,-1 4,-.6 4,-1.4 4,-.5 4,-.1 4,0 4,.6 4,1.7 4,.4 4,.8 4,.5 4,-.4 4,.6 4,-1.9 4,.6 4,-.5 4,-.5 4,.7 4,.4 4,.8 4,.3 4,0 4,.5 4,-.4 4,-.9 4,.1 4,-1.1 4,-.2 4,-.5 4,-.2 4,.9 4,-1 4,.5 4,-.3 4,-.9 4,-.2 4,-.2 4,-.1 4,-.4 4,-.1 4,1 4,.5 4,-.2 4,1.2 4,-.3 4,.5 4,-.2 4,-.1 4,.7 4,-.8 4,.5 4,.6 4,.4" stroke-dasharray="85 2 151 3 65 3 92 2 197 4"/><path d="M37.4,153.2l4,-1.6 4,1 4,.8 4,-.6 4,2.9 4,-2 4,2.1 4,-1.5 4,.1 4,-.2 4,-2.2 4,1.6 4,-2.2 4,2.3 4,-.5 4,.9 4,1.5 4,-1.1 4,2.1 4,-1.9 4,1.6 4,-1.2 4,-.1 4,.8 4,-1.8 4,1.5 4,-1.5 4,1 4,-.5 4,-.6 4,.8 4,-1.5 4,.8 4,-1.1 4,.3 4,-.1 4,-.7 4,.7 4,-.8 4,-.3 4,-.2 4,-.3 4,.3 4,-.2 4,.6 4,.4 4,-.1 4,1.4 4,-.4 4,1.1 4,-.3 4,-0 4,.8 4,-.9 4,1.3 4,-1 4,.9 4,.4 4,-.9 4,1.7 4,-2.3 4,1.6 4,-1.6 4,.5 4,.3 4,-1.2 4,1.5 4,-2 4,1.9 4,-1.5 4,-.1 4,.1 4,-2 4,1.7 4,-2.4 4,1.7 4,-.7 4,.5 4,1.6 4,-.8 4,2.4 4,-1.9 4,1.2 4,-1.1 4,-.9 4,.2 4,-1.8 4,1.5 4,-1.2 4,1.7 4,.7 4,.2 4,1.5 4,-1.2 4,.6 4,-1.4 4,-.5 4,-.9 4,-1 4,.6 4,-.5 4,1.1 4,.7 4,.5 4,1.5 4,-.3 4,.4 4,-0 4,-1.1 4,.5 4,-1 4,.6 4,.1 4,.1 4,1.4 4,-1.1 4,1.7 4,-1.3 4,.4 4,-.7 4,-1.2 4,1.2 4,-2.2 4,1.6 4,-1.5 4,.7 4,-0 4,-1.5 4,1.4 4,-2.4 4,1.3 4,-1.3 4,-.1 4,.7 4,-.9 4,2.2 4,-1.3 4,2.2 4,-.6 4,.4 4,.6 4,-1.4 4,1.8 4,-1.8 4,1.4 4,-.3 4,.4 4,1.2" stroke-dasharray="117 2 83 2 100 3 61 2 132 3 98 2"/><path d="M37.4,155.6l4,-1.4 4,1.1 4,.3 4,1 4,.6 4,-.5 4,.6 4,.7 4,-2.1 4,.5 4,-.3 4,-.6 4,.1 4,-.1 4,1 4,1 4,-.6 4,.6 4,1.5 4,-1.1 4,.4 4,-.1 4,.2 4,-.3 4,-.6 4,-.3 4,1.2 4,-1.5 4,-.4 4,1 4,-1.3 4,.1 4,-.1 4,-.4 4,.6 4,-.9 4,-.7 4,1.5 4,-1.4 4,-.5 4,.1 4,-.1 4,-.3 4,.6 4,-.4 4,1.7 4,.1 4,-.6 4,1.7 4,-.2 4,-.3 4,.7 4,.1 4,.2 4,.4 4,-.9 4,1.7 4,-.2 4,-1 4,.6 4,0 4,-.9 4,-.2 4,-.5 4,.4 4,.7 4,-1.5 4,1.5 4,0 4,-.9 4,-.5 4,-.1 4,-1 4,.1 4,-1.5 4,.8 4,.7 4,-.2 4,1.1 4,1.4 4,-.3 4,.3 4,0 4,-1.1 4,.2 4,-2.2 4,-0 4,.9 4,-.4 4,.1 4,2.1 4,-.2 4,.7 4,-.1 4,-.7 4,.5 4,-1.6 4,-1.3 4,.3 4,-.2 4,-.3 4,1.5 4,.2 4,1.2 4,.2 4,-0 4,.7 4,-0 4,-1.7 4,1.1 4,-.4 4,-.3 4,.6 4,-0 4,1 4,.3 4,-1.1 4,.6 4,.3 4,-1.9 4,.7 4,-.8 4,.1 4,-.1 4,-.8 4,.6 4,.4 4,-1.6 4,.1 4,.1 4,-1.7 4,.4 4,-.4 4,.7 4,.3 4,.1 4,.6 4,1.6 4,-1.1 4,.7 4,.5 4,-.5 4,.3 4,-.3 4,.1 4,1.1 4,-.5 4,-.2" stroke-dasharray="192 3 147 3 195 2 174 2"/><path d="M37.4,158.1l4,.7 4,-.7 4,1.2 4,-.5 4,2.1 4,-1.2 4,1.3 4,-1.6 4,1.4 4,-1.4 4,.6 4,-1.1 4,.9 4,-.3 4,.9 4,-.1 4,0 4,.7 4,.4 4,.5 4,-.7 4,.8 4,-.6 4,.8 4,-1 4,.5 4,-1.4 4,.6 4,-1 4,.4 4,-1.4 4,.6 4,-.6 4,.5 4,-.6 4,.4 4,-.7 4,.1 4,-0 4,-.7 4,-.1 4,-.3 4,.4 4,0 4,.6 4,.2 4,.8 4,-0 4,.8 4,-.2 4,.2 4,-.1 4,.7 4,.3 4,.3 4,-.2 4,.6 4,.3 4,-.2 4,-.5 4,-.6 4,-.6 4,-.2 4,-.1 4,.1 4,-.1 4,.7 4,.1 4,.5 4,-.9 4,-.2 4,-1 4,-.3 4,-1.2 4,-.3 4,.1 4,.8 4,.7 4,1.1 4,.8 4,.4 4,.3 4,-.8 4,-.3 4,-1.5 4,-.2 4,-1.1 4,.7 4,-.3 4,1.3 4,.1 4,1.5 4,-.4 4,.5 4,-.9 4,-.1 4,-1.2 4,0 4,-1.2 4,.3 4,.5 4,.7 4,.5 4,.2 4,.9 4,-.2 4,1.2 4,-1.3 4,.8 4,-1.5 4,1.5 4,-.8 4,1.5 4,-1.2 4,1.2 4,-.5 4,.8 4,-1.4 4,.2 4,-.9 4,.1 4,-.3 4,-.2 4,.1 4,-.6 4,.6 4,-.9 4,.3 4,-1.5 4,.9 4,-1.9 4,1.5 4,-1.8 4,1.8 4,-1.2 4,2.2 4,-.6 4,.9 4,-.6 4,1.5 4,-.6 4,.5 4,-.2 4,-.1 4,.4 4,-.1 4,1 4,-1.1" stroke-dasharray="71 5 118 4 79 2 124 4 63 3 120 4 82 4"/><path d="M37.4,161.7l4,-.2 4,-.8 4,.5 4,.5 4,1.3 4,.5 4,-1.5 4,.2 4,.7 4,.2 4,-.4 4,-1.1 4,.1 4,1.5 4,-.1 4,-.5 4,-.2 4,.6 4,1.5 4,-.3 4,-.5 4,.6 4,.3 4,.1 4,.1 4,-1.4 4,.1 4,-.3 4,-.7 4,-.1 4,-.7 4,-.2 4,.1 4,-0 4,.5 4,-.1 4,-1.3 4,.1 4,.4 4,-.4 4,-.1 4,-1.3 4,.5 4,1.8 4,0 4,-.3 4,-.1 4,.7 4,1.4 4,-.4 4,-1 4,.5 4,1 4,.9 4,.2 4,-.7 4,.9 4,.6 4,-.9 4,-.3 4,-1.5 4,-.2 4,.2 4,-.5 4,.2 4,.7 4,0 4,.9 4,0 4,-.3 4,-.4 4,-2 4,-.2 4,-.1 4,-.6 4,-.1 4,0 4,1.4 4,2.1 4,-.1 4,-.4 4,.5 4,.1 4,-.2 4,-1.6 4,-1.8 4,.6 4,.3 4,.4 4,-0 4,.1 4,1.2 4,1.2 4,-.9 4,-.5 4,-.7 4,-.6 4,.5 4,-.9 4,-0 4,.6 4,-.1 4,1.1 4,.8 4,-.4 4,.3 4,-.2 4,.2 4,1 4,-.9 4,-.2 4,.5 4,.4 4,1.4 4,-1.3 4,-1 4,1 4,-.2 4,-.3 4,-.8 4,-1.3 4,1.1 4,.4 4,-.7 4,-.3 4,-.4 4,.2 4,.4 4,-1.5 4,-.8 4,.4 4,-.2 4,.4 4,-.4 4,.2 4,1.1 4,-.1 4,.4 4,1.1 4,-.5 4,.2 4,.2 4,.4 4,1 4,-.7 4,-.6 4,.8 4,.1" stroke-dasharray="55 3 56 4 187 4 196 2 52 4 83 2"/><path d="M37.4,163.6l4,.1 4,1.1 4,-.3 4,-.3 4,.4 4,.5 4,.6 4,0 4,-1 4,-.2 4,1.4 4,.7 4,-1.4 4,-.8 4,1.5 4,.7 4,-.5 4,-.4 4,-.1 4,1.1 4,1.3 4,-.6 4,-1.4 4,1.1 4,1 4,-1 4,-1.3 4,-.7 4,.2 4,-.1 4,-.4 4,-1.1 4,.1 4,1 4,.1 4,-1 4,-.2 4,.5 4,-.7 4,-.5 4,0 4,0 4,.5 4,.7 4,.3 4,.2 4,.3 4,.4 4,-.6 4,.4 4,.7 4,-.4 4,.1 4,1.5 4,.6 4,-.2 4,0 4,.2 4,-.3 4,-.2 4,-1.5 4,-1.3 4,0 4,1.6 4,-.5 4,-.7 4,.7 4,1.9 4,-.1 4,-1.1 4,-1.2 4,-.7 4,.5 4,-.6 4,-2 4,-.1 4,1.9 4,1.6 4,-.1 4,.1 4,1.1 4,.3 4,-.1 4,-1.1 4,-1.7 4,-.2 4,.7 4,-.8 4,-.3 4,.8 4,1.2 4,0 4,.4 4,-.1 4,-.5 4,-.3 4,-.4 4,-.6 4,-.4 4,.7 4,-0 4,.4 4,1 4,.4 4,-.8 4,.2 4,1 4,-.1 4,-.6 4,.3 4,.6 4,.8 4,.2 4,-.7 4,-.5 4,1 4,.4 4,-2 4,-1.3 4,1 4,.2 4,-.2 4,-.8 4,-.4 4,.6 4,.7 4,-.9 4,-1.9 4,.2 4,1.2 4,-.9 4,-1.2 4,.4 4,.8 4,.6 4,.2 4,-.5 4,.1 4,1.5 4,.9 4,-.8 4,.2 4,1 4,.1 4,-.2 4,.1 4,-.5 4,-.2" stroke-dasharray="178 2 113 4 127 5 127 2 190 4"/><path d="M37.4,167.4l4,-.2 4,.2 4,.2 4,-.1 4,0 4,.1 4,.5 4,.3 4,0 4,0 4,0 4,.3 4,.5 4,-.1 4,-.1 4,-.2 4,-.1 4,.6 4,.5 4,.2 4,-.1 4,.2 4,.7 4,.2 4,-.3 4,-1 4,-.9 4,-.3 4,-.3 4,.1 4,-.8 4,-.3 4,.2 4,.2 4,-0 4,-.2 4,-.9 4,-.2 4,-.1 4,.4 4,.2 4,-.2 4,0 4,.6 4,1.1 4,.4 4,-.1 4,-.5 4,-.4 4,.3 4,.6 4,.4 4,.1 4,.6 4,.7 4,1 4,.2 4,-.5 4,-1.2 4,-.6 4,-.7 4,-.3 4,-.4 4,-.7 4,.3 4,1.1 4,1.1 4,.6 4,-.4 4,-.7 4,-.6 4,-.5 4,-.6 4,-.8 4,-.9 4,.2 4,.9 4,1.6 4,.8 4,-0 4,-.1 4,.3 4,.1 4,-.5 4,-.8 4,-1.1 4,-.5 4,.7 4,.5 4,0 4,-.1 4,-.1 4,.8 4,.2 4,-.2 4,-.9 4,-.5 4,-.1 4,.7 4,.2 4,.2 4,-.5 4,.4 4,.6 4,.9 4,-.2 4,-.5 4,-.2 4,.8 4,.6 4,.8 4,-.1 4,-.7 4,.2 4,.2 4,.2 4,-.8 4,-.8 4,-.9 4,.3 4,.3 4,-.2 4,-.6 4,-.3 4,0 4,.1 4,.2 4,-.9 4,-.8 4,0 4,.4 4,.3 4,-.1 4,-.5 4,0 4,.4 4,.7 4,.6 4,0 4,.1 4,.6 4,1.1 4,.7 4,.1 4,-.9 4,-.5 4,0 4,.2" stroke-dasharray="130 3 95 4 149 3 31 2 122 5 45 2 143 2"/><path d="M37.4,170.7l4,.1 4,-.2 4,-.2 4,.3 4,-.1 4,-.6 4,.8 4,.8 4,-.2 4,.8 4,-0 4,.4 4,.2 4,-.1 4,-1.1 4,.8 4,.1 4,-0 4,.1 4,.2 4,.4 4,1 4,-0 4,-1.2 4,.7 4,-.9 4,-.1 4,-.8 4,-.9 4,-.3 4,.7 4,-.3 4,-.6 4,.6 4,-.9 4,.1 4,-.5 4,-.6 4,-.2 4,.8 4,.1 4,.2 4,.7 4,.2 4,1 4,.2 4,-.6 4,-.7 4,1 4,-.7 4,.2 4,.2 4,.6 4,1.5 4,.6 4,.2 4,-.4 4,.9 4,-1.7 4,-.3 4,-1.6 4,-.8 4,-.2 4,.7 4,-.2 4,.5 4,1.3 4,.3 4,.3 4,-.6 4,-.9 4,-.7 4,-.1 4,-1.5 4,-.1 4,.5 4,.7 4,1 4,.4 4,.3 4,.6 4,.5 4,-1.4 4,-.2 4,-.5 4,-.2 4,-.4 4,-0 4,-.3 4,.6 4,.6 4,-.4 4,.1 4,-.4 4,0 4,-0 4,0 4,-.6 4,1 4,.2 4,0 4,.3 4,-.5 4,.4 4,.4 4,.3 4,-.9 4,1.1 4,.4 4,.6 4,0 4,.1 4,-.2 4,.7 4,-.3 4,-1.3 4,.3 4,-.6 4,.1 4,-.7 4,-.3 4,-.6 4,1.1 4,-.9 4,-.7 4,.2 4,-.4 4,.4 4,-.4 4,-.3 4,-.3 4,1.1 4,-.6 4,.2 4,-.4 4,.3 4,.4 4,.2 4,-0 4,.6 4,1.7 4,-.1 4,.6 4,.1 4,.1 4,-.4 4,-.2 4,-1.5" stroke-dasharray="54 2 109 4 31 5 70 2 178 3 105 2 80 3"/><path d="M37.4,174.0l4,.3 4,-.7 4,-.7 4,-.1 4,.1 4,.8 4,.1 4,.2 4,0 4,.7 4,.8 4,.6 4,-.8 4,-.1 4,-.5 4,.3 4,.4 4,0 4,-.5 4,.9 4,.4 4,.6 4,.3 4,-1.1 4,-.3 4,-.8 4,.1 4,-.4 4,-.1 4,-1.2 4,.5 4,-.4 4,.9 4,-.6 4,-.7 4,-.7 4,-.2 4,0 4,.3 4,-.2 4,-.4 4,1.4 4,.4 4,1.3 4,-.2 4,-.1 4,-.3 4,-.1 4,-.3 4,.3 4,-.5 4,.5 4,.9 4,1.1 4,1.2 4,.1 4,-.6 4,-.1 4,-.2 4,-1.4 4,-.3 4,-1.8 4,-.2 4,.3 4,.9 4,.7 4,.5 4,-.1 4,.5 4,-.1 4,-.6 4,-.5 4,-1.6 4,-.2 4,.1 4,.5 4,.5 4,.3 4,-.2 4,1.5 4,.1 4,.3 4,-.6 4,-1.2 4,-0 4,.3 4,-.2 4,-.2 4,-.7 4,-.1 4,1.1 4,-.4 4,.4 4,-.8 4,-.2 4,.1 4,.9 4,-.3 4,.3 4,-.7 4,.6 4,.9 4,-.1 4,-.2 4,-.1 4,-.2 4,.5 4,1.1 4,-.4 4,.7 4,-.4 4,.4 4,.6 4,.2 4,-.9 4,-.3 4,-1 4,.4 4,-.1 4,-.5 4,-.4 4,-1 4,.4 4,.1 4,-.4 4,-.5 4,-.2 4,-.4 4,1.2 4,-.1 4,-.1 4,-.6 4,.1 4,.1 4,.7 4,-.8 4,-.4 4,.4 4,.4 4,1.9 4,.3 4,.7 4,-0 4,.5 4,.2 4,-.1 4,-1.6 4,-.6" stroke-dasharray="142 2 39 5 167 4 99 3 36 4 169 5"/><path d="M37.4,177.1l4,.2 4,-1 4,-.6 4,.3 4,.1 4,-.3 4,.3 4,1.2 4,.4 4,.3 4,.5 4,.4 4,-.3 4,-.5 4,.3 4,-.1 4,-.2 4,.1 4,.9 4,.2 4,-.2 4,.6 4,.3 4,-1 4,-.6 4,0 4,-.5 4,-1 4,-.3 4,.9 4,-.3 4,-.6 4,0 4,.4 4,-1.1 4,-1.1 4,.2 4,.3 4,-.8 4,0 4,1.7 4,.8 4,-.2 4,.8 4,1.3 4,-.3 4,-1.6 4,-.3 4,.8 4,-.6 4,-.9 4,1.6 4,1.3 4,.3 4,.1 4,1.3 4,.3 4,-1.1 4,-1.2 4,-.2 4,-.9 4,-1.3 4,-.4 4,.9 4,.2 4,.3 4,.8 4,.8 4,-.3 4,-.6 4,-0 4,-.4 4,-1.3 4,-0 4,.1 4,-.1 4,.3 4,1 4,.5 4,-.2 4,-0 4,.7 4,-.6 4,-.8 4,.1 4,.2 4,-.6 4,-.2 4,.2 4,.2 4,-.5 4,-.5 4,.5 4,.2 4,-.8 4,.4 4,.7 4,0 4,-.3 4,.6 4,.6 4,-.2 4,-.3 4,.5 4,.4 4,-.5 4,-0 4,.7 4,.6 4,.2 4,.1 4,.3 4,-0 4,-.3 4,-.4 4,-0 4,-.4 4,-.3 4,-.6 4,.1 4,-.6 4,-.3 4,-.6 4,-.2 4,-.1 4,-.1 4,-.3 4,.1 4,.6 4,.3 4,-.4 4,.2 4,.3 4,-.2 4,-.8 4,-0 4,.2 4,.4 4,-0 4,1 4,1.5 4,.7 4,.1 4,.5 4,-.1 4,-1 4,-.9 4,-.3" stroke-dasharray="53 2 100 2 52 2 156 4 197 3 156 2"/><path d="M37.4,179.5l4,.2 4,.2 4,-1 4,-.9 4,-.1 4,1.1 4,1 4,-0 4,-.3 4,.9 4,1.2 4,.2 4,-.6 4,-.6 4,.2 4,-.2 4,.5 4,.4 4,.2 4,-.1 4,.2 4,.2 4,.2 4,-.4 4,-1 4,-1 4,-.3 4,.3 4,-0 4,.1 4,-.6 4,-.1 4,.2 4,.2 4,-.6 4,-1.7 4,-1.1 4,.6 4,1 4,.1 4,-0 4,1 4,1.2 4,.8 4,.1 4,-.3 4,-.6 4,-.4 4,-.5 4,.1 4,.5 4,.3 4,.4 4,.9 4,1.4 4,.6 4,-.5 4,-.7 4,-1.2 4,-.5 4,-.6 4,-.6 4,-.8 4,-0 4,.4 4,1.4 4,.7 4,-.2 4,-.6 4,0 4,.5 4,-.7 4,-.8 4,-.4 4,.2 4,.1 4,.5 4,.2 4,.6 4,.1 4,-.6 4,0 4,.7 4,-.1 4,-.8 4,-.5 4,.3 4,.7 4,-.5 4,-.6 4,-.6 4,.1 4,0 4,.5 4,-.5 4,0 4,-0 4,.7 4,.8 4,.1 4,-.4 4,.1 4,.3 4,.2 4,-0 4,.4 4,.2 4,.2 4,0 4,.6 4,.5 4,-.1 4,-.9 4,-.3 4,.9 4,.2 4,-.8 4,-1.2 4,-.1 4,.7 4,-.1 4,-1.4 4,-.7 4,-.4 4,-.1 4,-.1 4,.3 4,.3 4,-.2 4,.3 4,.7 4,.4 4,-.4 4,-.6 4,-.5 4,-.5 4,.5 4,.5 4,.4 4,.8 4,.5 4,1.4 4,1.4 4,-.1 4,-1 4,-1.3 4,-.1 4,-.2" stroke-dasharray="135 2 102 2 104 4 59 3 151 3 77 4"/><path d="M37.4,183.1l4,-1.3 4,.1 4,.2 4,-1.9 4,1.9 4,-.9 4,.4 4,1.6 4,-.2 4,1.3 4,-.8 4,1.2 4,-.7 4,-.3 4,.2 4,.4 4,-.9 4,.8 4,1.3 4,-1.8 4,2.4 4,-1.4 4,-.4 4,0 4,-1 4,-.2 4,-1.1 4,.8 4,-.3 4,.1 4,.1 4,.6 4,-1.4 4,.1 4,-.1 4,-2.5 4,1.4 4,-1.2 4,.1 4,1 4,.9 4,.9 4,.6 4,1.2 4,-.5 4,.4 4,-1.3 4,.6 4,-2 4,.4 4,1.2 4,-1.3 4,2.5 4,.5 4,.5 4,.4 4,.3 4,-1.1 4,-.6 4,-.6 4,-1.1 4,-.1 4,-1.5 4,1.8 4,-1.1 4,1.1 4,1.2 4,-1.3 4,1 4,0 4,-.6 4,-.5 4,.4 4,-1 4,.7 4,.1 4,-.3 4,.7 4,-1.1 4,1.9 4,-1.4 4,.3 4,.8 4,-1.3 4,.4 4,.5 4,-.4 4,-.7 4,1 4,-1.8 4,.6 4,-.3 4,-.5 4,.7 4,-1.1 4,1.8 4,-.8 4,.6 4,.8 4,-.2 4,-.1 4,1 4,-.7 4,-.7 4,2.1 4,-1.6 4,1.5 4,-.2 4,.4 4,.2 4,-.6 4,1 4,-1.1 4,-0 4,.4 4,-.3 4,-.9 4,1.1 4,-.6 4,-1.5 4,1.5 4,-2.5 4,.3 4,-1 4,-.3 4,.2 4,-.3 4,1.4 4,0 4,.4 4,.4 4,.7 4,-1.6 4,.8 4,-.8 4,-1.6 4,1.8 4,-.9 4,1.2 4,.8 4,1.5 4,.6 4,.6 4,.3 4,-.5 4,-.8 4,-1.3 4,.1" stroke-dasharray="56 3 85 2 70 4 153 2 112 3 70 4 160 4"/><path d="M37.4,185.8l4,-.8 4,-.2 4,-.4 4,-.4 4,0 4,.7 4,.7 4,.9 4,.1 4,.1 4,.6 4,.2 4,-.5 4,-.3 4,.6 4,-0 4,-.3 4,.7 4,1.3 4,-.5 4,-.7 4,.5 4,-.6 4,-1.2 4,-.6 4,0 4,-.2 4,-.2 4,.2 4,.1 4,.4 4,-0 4,-.6 4,-.6 4,-.6 4,-.8 4,-1.2 4,.2 4,1.1 4,.2 4,.2 4,2.1 4,1 4,-.4 4,.3 4,.6 4,-.8 4,-1.4 4,-0 4,.5 4,-.3 4,.1 4,1.1 4,1.4 4,.3 4,-.3 4,.1 4,.1 4,-.8 4,-1.3 4,-.7 4,.2 4,-.6 4,-.7 4,1 4,1.2 4,-.6 4,-.4 4,.8 4,.5 4,-1.1 4,-.5 4,1.2 4,-.2 4,-1 4,.2 4,1.1 4,-.4 4,-.9 4,.6 4,.2 4,-.2 4,-.5 4,.3 4,.8 4,-.3 4,-.8 4,-0 4,.4 4,-.7 4,-1.3 4,.6 4,.5 4,-.8 4,-.2 4,1.2 4,.8 4,-.7 4,-.2 4,1.4 4,.3 4,-1.3 4,.6 4,1.4 4,-.3 4,-.4 4,.8 4,.9 4,-.7 4,-.2 4,-0 4,.1 4,-.4 4,-.6 4,.2 4,.6 4,0 4,-.6 4,0 4,.4 4,-1.4 4,-1.3 4,-.5 4,.1 4,-1.3 4,-.4 4,1.5 4,.7 4,-.2 4,1 4,1.2 4,-.6 4,-.8 4,-.2 4,-.2 4,-.7 4,-.3 4,.6 4,.5 4,1.2 4,1.3 4,.5 4,.6 4,.5 4,-.8 4,-1.1 4,-.4 4,-.4" stroke-dasharray="199 2 124 4 129 5 168 3"/><path d="M37.4,188.5l4,-.3 4,-1.1 4,.2 4,.1 4,-.1 4,-0 4,1 4,1.2 4,-.7 4,.7 4,1 4,-1 4,-.4 4,.9 4,-.5 4,.6 4,-0 4,.5 4,.9 4,-.7 4,.1 4,-.1 4,-.9 4,-.9 4,-1 4,.5 4,-.9 4,-.5 4,2 4,-.4 4,-.4 4,1 4,-.6 4,-1.3 4,-.6 4,-1 4,-.1 4,-.7 4,.4 4,1.3 4,.9 4,.9 4,.8 4,.7 4,.7 4,-1.8 4,.6 4,-.1 4,-1.9 4,.7 4,.7 4,-.2 4,.6 4,1 4,.7 4,-.3 4,-.1 4,.3 4,-1 4,-.8 4,-.5 4,-.5 4,.4 4,-.7 4,.2 4,1.2 4,-.8 4,-.1 4,.9 4,-.4 4,-.3 4,.3 4,.3 4,-.2 4,-.5 4,.9 4,-.4 4,-.6 4,.3 4,-.3 4,.3 4,.1 4,-.8 4,1.4 4,-.5 4,-.8 4,.7 4,-.2 4,-.9 4,-.3 4,.2 4,.1 4,-1.2 4,.7 4,.9 4,-.6 4,.9 4,.3 4,-.3 4,.6 4,-.3 4,.2 4,.8 4,-.5 4,.8 4,1 4,-.2 4,-.1 4,-0 4,.5 4,-1.5 4,-.2 4,1.2 4,-1.4 4,.1 4,1.3 4,-.8 4,.2 4,-.1 4,-.6 4,-.3 4,-1.5 4,-1.1 4,.1 4,-.9 4,-.3 4,.9 4,1.1 4,.7 4,-.1 4,1.6 4,-.3 4,-1.4 4,.6 4,-1 4,-.8 4,.4 4,.2 4,1.2 4,.4 4,.9 4,1.3 4,.5 4,-.4 4,-.2 4,-.6 4,-.7 4,-1.5" stroke-dasharray="100 4 32 5 170 5 125 4 163 2"/><path d="M37.4,191.8l4,-1.4 4,-.9 4,-.1 4,.3 4,1.2 4,-.2 4,-.7 4,1.5 4,1.9 4,-.7 4,-1.2 4,.5 4,.6 4,-.3 4,.4 4,-.3 4,.1 4,1.7 4,.9 4,-1.5 4,-.2 4,.2 4,-1.2 4,-1.3 4,-.3 4,-.3 4,-.7 4,.8 4,.5 4,.2 4,.6 4,-.3 4,-1.5 4,.2 4,.4 4,-2.2 4,-1.4 4,.9 4,1.2 4,.3 4,.8 4,.7 4,.5 4,1.9 4,.1 4,-1.9 4,-.3 4,.9 4,-.5 4,-1 4,.3 4,.8 4,.2 4,1 4,.2 4,-.5 4,.7 4,.1 4,-1.4 4,-.6 4,.6 4,-1 4,-.8 4,.8 4,.2 4,-.5 4,.2 4,-.1 4,.1 4,.8 4,.3 4,-1.1 4,.1 4,2 4,-.5 4,-1.5 4,-.2 4,.5 4,.2 4,-.2 4,-.6 4,-.7 4,1.3 4,1.2 4,-1.4 4,-.6 4,.9 4,-.1 4,-1.1 4,-.2 4,-.3 4,-.6 4,.9 4,.5 4,-.9 4,.7 4,1.1 4,-.8 4,-.2 4,1.6 4,-.5 4,-.8 4,1.2 4,.8 4,.1 4,.6 4,-.1 4,-.3 4,.9 4,.1 4,-2 4,-1 4,1.1 4,.7 4,-1 4,.1 4,.5 4,.4 4,.5 4,-.9 4,-2.1 4,-.5 4,.4 4,-1.7 4,-1.1 4,1 4,.4 4,.6 4,1.4 4,.6 4,-.1 4,.3 4,.1 4,-1.4 4,-.3 4,.4 4,-1 4,-.3 4,2.1 4,.9 4,-0 4,.9 4,.7 4,.2 4,-.1 4,-1.4 4,-1.7 4,.5" stroke-dasharray="143 3 38 5 84 2 37 2 181 4 51 3 55 4"/><path d="M37.4,193.5l4,.3 4,-1.8 4,.8 4,.7 4,-.1 4,-0 4,2 4,-.3 4,-.1 4,.4 4,.1 4,-.6 4,-.3 4,.3 4,.6 4,.6 4,-.4 4,2 4,-.1 4,-.8 4,-0 4,-0 4,-2.4 4,-.2 4,-1.2 4,.7 4,-.8 4,.4 4,.3 4,1.6 4,-1.2 4,.4 4,.1 4,-1.3 4,-1.1 4,-.2 4,-.2 4,-.7 4,.7 4,.2 4,2.2 4,.1 4,.6 4,1.2 4,.2 4,-1.5 4,1 4,-.9 4,-.1 4,-.7 4,.7 4,.2 4,.6 4,-.9 4,1.6 4,.2 4,-1.4 4,.6 4,.4 4,-1 4,-.7 4,.4 4,-.7 4,.6 4,-1.3 4,.8 4,-0 4,-.2 4,-.6 4,1.9 4,-.7 4,-0 4,.9 4,.3 4,-.5 4,-.3 4,-.7 4,.6 4,-.8 4,-.8 4,1.3 4,0 4,-.7 4,.4 4,1 4,-1.6 4,.7 4,-1 4,.6 4,-1.2 4,.1 4,-.4 4,1.7 4,-1.7 4,1 4,1 4,-.6 4,-.5 4,.8 4,-0 4,-0 4,.5 4,.3 4,1.4 4,-.2 4,.4 4,.8 4,.2 4,-1.7 4,.6 4,-.8 4,-.8 4,-.4 4,.4 4,.1 4,.9 4,-.8 4,1.4 4,.1 4,-1.6 4,-1 4,-.3 4,-1.8 4,-.9 4,.4 4,-.3 4,1.1 4,.4 4,1.3 4,1.3 4,-.4 4,-.6 4,1.4 4,-1.8 4,-.8 4,-.1 4,.6 4,-.3 4,1.1 4,.2 4,2 4,-.1 4,-.4 4,.8 4,-.2 4,-1.6 4,-.2 4,.6" stroke-dasharray="137 4 155 3 120 3 127 4 82 3"/><path d="M37.4,196.0l4,-0 4,-.4 4,-.2 4,.6 4,.6 4,1.2 4,-.5 4,.8 4,-0 4,.6 4,-1 4,-.2 4,0 4,-.2 4,1.2 4,.6 4,1 4,-.5 4,1 4,-.1 4,-.5 4,-1.5 4,-.8 4,-.9 4,-1.3 4,.8 4,-.6 4,.9 4,-.8 4,1.4 4,.3 4,-.2 4,-.5 4,-.7 4,-.6 4,-1.3 4,.8 4,-.7 4,.7 4,-.1 4,1.5 4,.9 4,.5 4,.5 4,-.1 4,.1 4,-.6 4,.9 4,-.9 4,-.4 4,0 4,.7 4,.1 4,-.4 4,.7 4,-.4 4,.2 4,-.2 4,.9 4,-.9 4,-.6 4,-0 4,0 4,.2 4,-1.2 4,.6 4,-.9 4,.5 4,0 4,1.2 4,-.6 4,.2 4,.7 4,.3 4,-.1 4,-.7 4,.3 4,-1.3 4,.2 4,-.2 4,.7 4,-.8 4,.2 4,.9 4,-.6 4,.1 4,-.8 4,.3 4,-1.1 4,.4 4,.1 4,.2 4,-.4 4,.2 4,1.2 4,-.6 4,.3 4,-.5 4,.4 4,-.7 4,.9 4,.9 4,0 4,.7 4,.7 4,1.5 4,-.6 4,.2 4,-1.1 4,-.5 4,-1.4 4,.3 4,-0 4,-.8 4,.7 4,.3 4,1.6 4,-.8 4,.1 4,-1 4,-.8 4,-1.6 4,-.4 4,-.5 4,-1 4,.4 4,.6 4,2 4,-.1 4,1 4,.2 4,-.1 4,-.3 4,-.2 4,-.4 4,-1.3 4,.8 4,.2 4,1.3 4,.1 4,1 4,-.1 4,.3 4,.3 4,-.6 4,-.2 4,-1.4 4,.7" stroke-dasharray="71 3 76 4 103 3 95 2 78 2 95 2 105 4"/></g></defs>
<g mask="url(#mz0)" style="mix-blend-mode:hard-light" opacity="0.75" fill="none"><use href="#rf0" stroke="#f6f6f6" stroke-width="1.15"/><use href="#rf0" y="1.15" stroke="#080808" stroke-width="1.1"/></g>
<g mask="url(#md0)" style="mix-blend-mode:hard-light" opacity="0.75" fill="none"><g mask="url(#mp0)"><use href="#rf0" stroke="#f6f6f6" stroke-width="1.15"/><use href="#rf0" y="1.15" stroke="#080808" stroke-width="1.1"/></g></g>
<defs><mask id="mv0" maskUnits="userSpaceOnUse" x="0" y="0" width="685" height="610"><use href="#pt0" filter="url(#vm)"/></mask></defs>
<g mask="url(#mv0)" opacity="0.55"><use href="#pt0"/></g>
<defs><g id="rs0_0"><path d="M37.4,114.0l4,-1.1 4,.8 4,.9 4,-.9 4,-1.4 4,.7 4,1.3 4,-.3 4,-1.3 4,-.7 4,.5 4,.2 4,-.2 4,-.4 4,-.5 4,-.1 4,.7 4,1.3 4,.7 4,-.8 4,-1.3 4,.5" stroke-dasharray="175 3"/><path d="M37.4,118.2l4,.1 4,-.3 4,-.8 4,-0 4,.4 4,-.1 4,.1 4,-.3 4,-.6 4,-.3 4,0 4,-.1 4,.1 4,-.4 4,-.6 4,.1 4,1 4,1 4,.1 4,-.6 4,-.6 4,.5" stroke-dasharray="152 2"/><path d="M37.4,121.9l4,-.2 4,.2 4,-.6 4,-.9 4,.7 4,1 4,-.6 4,-1.4 4,.3 4,1 4,-.9 4,-.8 4,.4 4,0 4,-1 4,-.3 4,2 4,1.1 4,-.9 4,-.9 4,.7 4,1.3" stroke-dasharray="132 5"/><path d="M37.4,126.5l4,-.5 4,-.1 4,-1.5 4,-0 4,1 4,.1 4,.4 4,-.8 4,-1.3 4,.4 4,.5 4,0 4,-.3 4,-1.9 4,.3 4,.9 4,1.3 4,.7 4,-.7 4,-1.2 4,1.1 4,.6" stroke-dasharray="155 4"/><path d="M37.4,130.8l4,-1.2 4,-.1 4,-1.3 4,.8 4,.7 4,-.4 4,.3 4,-1.5 4,.2 4,-0 4,.2 4,.9 4,-2.5 4,-.4 4,.4 4,1 4,1.4 4,-1 4,.3 4,-.2 4,.2 4,1.5" stroke-dasharray="194 2"/><path d="M37.4,135.0l4,-1.1 4,-.3 4,-1 4,.7 4,.5 4,.3 4,-.8 4,-1.4 4,.2 4,.5 4,1.2 4,-1.9 4,-.4 4,-1.4 4,2.1 4,.1 4,.8 4,-.8 4,.9 4,-.4 4,.4 4,.7" stroke-dasharray="119 5"/><path d="M37.4,137.9l4,.1 4,-.1 4,-1.5 4,2 4,-.7 4,0 4,.2 4,-2.1 4,1.2 4,.6 4,-.5 4,-0 4,-2.6 4,.5 4,1.3 4,.2 4,1.4 4,-1.2 4,-.5 4,1.6 4,-.6 4,1.8" stroke-dasharray="174 2"/><path d="M37.4,142.8l4,-.6 4,-1.5 4,.2 4,.7 4,.9 4,-.8 4,-.9 4,-.1 4,-.6 4,1.6 4,-.2 4,-1.3 4,-1.4 4,.3 4,1.4 4,.3 4,.6 4,-.4 4,-1.3 4,1.5 4,1.4 4,.4" stroke-dasharray="90 5 74 4"/><path d="M37.4,145.8l4,0 4,-.9 4,-.1 4,1.9 4,-.5 4,-1.3 4,.6 4,-.4 4,-.5 4,1.6 4,-.9 4,-1.5 4,-0 4,-.4 4,.6 4,2.1 4,-.6 4,-1.4 4,.9 4,.7 4,.6 4,1.1" stroke-dasharray="99 2"/><path d="M37.4,150.0l4,-.5 4,.2 4,.5 4,0 4,.6 4,-.5 4,-1.6 4,-.2 4,1.6 4,1 4,-1.6 4,-2.3 4,-.1 4,2 4,1 4,-1 4,-.6 4,.8 4,.5 4,.4 4,.4 4,.4" stroke-dasharray="157 4"/><path d="M37.4,154.7l4,-1 4,-.3 4,.1 4,1.6 4,-.3 4,-2.1 4,.7 4,-0 4,.5 4,.5 4,-.9 4,-1 4,-1.6 4,1.7 4,1.3 4,-1 4,.4 4,-.4 4,.3 4,.9 4,.9 4,.4" stroke-dasharray="151 4"/></g>
<mask id="ms0_0" maskUnits="userSpaceOnUse" x="0" y="0" width="685" height="610"><polygon points="48.0,112.0 58.5,112.0 67.9,114.3 76.0,120.2 90.1,121.4 102.9,127.2 113.4,131.9 113.4,140.0 104.1,147.0 92.4,151.7 71.4,150.0 62.0,146.5 48.0,142.4" fill="#fff" opacity="1.0" filter="url(#bl0)"/></mask></defs>
<g mask="url(#ms0_0)" style="mix-blend-mode:hard-light" opacity="0.75" fill="none"><g transform="rotate(15.5 80 130)"><use href="#rs0_0" stroke="#f0f0f0" stroke-width="0.9"/><use href="#rs0_0" y="1.0" stroke="#080808" stroke-width="1.3"/></g></g>
<defs><g id="rs0_1"><path d="M86.3,104.4l4,.7 4,-.1 4,-.1 4,-.1 4,.3 4,.9 4,.2 4,.2 4,.3 4,.7 4,-.4" stroke-dasharray="126 2"/><path d="M86.3,108.9l4,-.5 4,.2 4,.5 4,-.5 4,-.2 4,.6 4,1.3 4,1 4,-.4 4,-0 4,-.1" stroke-dasharray="50 4 162 4"/><path d="M86.3,114.3l4,-1.1 4,-.9 4,-.5 4,.9 4,.7 4,.1 4,.8 4,.8 4,.9 4,-.4 4,-.8" stroke-dasharray="65 2"/><path d="M86.3,118.3l4,-.3 4,-1.2 4,-.6 4,.5 4,1.1 4,.8 4,.4 4,.9 4,.3 4,.2 4,-.7" stroke-dasharray="98 2"/><path d="M86.3,121.3l4,.1 4,-.1 4,-1.1 4,-.4 4,1.6 4,1.3 4,.8 4,.1 4,.1 4,-0 4,.4" stroke-dasharray="37 2 199 4"/><path d="M86.3,125.7l4,-.3 4,-.5 4,-.5 4,-.1 4,1.3 4,1.4 4,.5 4,.4 4,-.1 4,.3 4,0" stroke-dasharray="196 4"/></g>
<mask id="ms0_1" maskUnits="userSpaceOnUse" x="0" y="0" width="685" height="610"><polygon points="94.7,109.1 104.1,109.1 111.1,112.0 121,116.1 121,124.3 107.6,124.3 101.7,116.7 94.7,114.3" fill="#fff" opacity="0.8" filter="url(#bl0)"/></mask></defs>
<g mask="url(#ms0_1)" style="mix-blend-mode:hard-light" opacity="0.75" fill="none"><g transform="rotate(15.5 108 116)"><use href="#rs0_1" stroke="#f0f0f0" stroke-width="0.9"/><use href="#rs0_1" y="1.0" stroke="#080808" stroke-width="1.3"/></g></g>
<path d="M465.1,80V195.4" stroke="#d8d8d8" stroke-width="0.9" stroke-dasharray="1.2 1.3" opacity="0.75"/>
<path d="M510.9,82V195.4" stroke="#d8d8d8" stroke-width="0.9" stroke-dasharray="1.2 1.3" opacity="0.75"/>
<rect x="41.4" y="29.4" width="6.1" height="166.0" fill="#858585"/>
<path d="M41.4,30.599999999999998H624.4" stroke="#111" stroke-width="1.6" opacity="0.8"/><path d="M41.4,32.199999999999996H624.4" stroke="#eee" stroke-width="1.0" opacity="0.6"/>
</g>
<rect x="41.4" y="29.4" width="15.2" height="14.3" fill="#fff"/>
<text x="48.949999999999996" y="40.9" font-size="12" font-weight="bold" text-anchor="middle" fill="#111" stroke="#111" stroke-width="0.35">a</text>
<rect x="41.8" y="183.9" width="28.6" height="11.1" fill="#fff"/>
<text x="44.6" y="192.9" font-size="10.2" fill="#222">1294</text>
<path d="M39.1,29.4H626.6 M41.4,29.4V195.4 M41.40,29.4v-3.0 M41.40,195.4v3.0 M57.90,29.4v-1.9 M57.90,195.4v1.9 M74.40,29.4v-1.9 M74.40,195.4v1.9 M90.90,29.4v-1.9 M90.90,195.4v1.9 M107.40,29.4v-3.0 M107.40,195.4v3.0 M123.90,29.4v-1.9 M123.90,195.4v1.9 M140.40,29.4v-1.9 M140.40,195.4v1.9 M156.90,29.4v-1.9 M156.90,195.4v1.9 M173.40,29.4v-3.0 M173.40,195.4v3.0 M189.90,29.4v-1.9 M189.90,195.4v1.9 M206.40,29.4v-1.9 M206.40,195.4v1.9 M222.90,29.4v-1.9 M222.90,195.4v1.9 M239.40,29.4v-3.0 M239.40,195.4v3.0 M255.90,29.4v-1.9 M255.90,195.4v1.9 M272.40,29.4v-1.9 M272.40,195.4v1.9 M288.90,29.4v-1.9 M288.90,195.4v1.9 M305.40,29.4v-3.0 M305.40,195.4v3.0 M321.90,29.4v-1.9 M321.90,195.4v1.9 M338.40,29.4v-1.9 M338.40,195.4v1.9 M354.90,29.4v-1.9 M354.90,195.4v1.9 M371.40,29.4v-3.0 M371.40,195.4v3.0 M387.90,29.4v-1.9 M387.90,195.4v1.9 M404.40,29.4v-1.9 M404.40,195.4v1.9 M420.90,29.4v-1.9 M420.90,195.4v1.9 M437.40,29.4v-3.0 M437.40,195.4v3.0 M453.90,29.4v-1.9 M453.90,195.4v1.9 M470.40,29.4v-1.9 M470.40,195.4v1.9 M486.90,29.4v-1.9 M486.90,195.4v1.9 M503.40,29.4v-3.0 M503.40,195.4v3.0 M519.90,29.4v-1.9 M519.90,195.4v1.9 M536.40,29.4v-1.9 M536.40,195.4v1.9 M552.90,29.4v-1.9 M552.90,195.4v1.9 M569.40,29.4v-3.0 M569.40,195.4v3.0 M585.90,29.4v-1.9 M585.90,195.4v1.9 M602.40,29.4v-1.9 M602.40,195.4v1.9 M618.90,29.4v-1.9 M618.90,195.4v1.9 M41.4,29.40h-2.3 M41.4,62.60h-2.3 M624.4,62.60h2.4 M41.4,95.80h-2.3 M624.4,95.80h2.4 M41.4,129.00h-2.3 M624.4,129.00h2.4 M41.4,162.20h-2.3 M624.4,162.20h2.4 M41.4,195.40h-2.3" stroke="#222" stroke-width="0.9" fill="none"/>
<path d="M41.4,195.4H626.6" stroke="#555" stroke-width="0.9" fill="none"/>
<path d="M624.4,29.4V195.4" stroke="#777" stroke-width="0.8" fill="none"/>
<text x="41.90" y="21.5" font-size="10" text-anchor="middle">0</text>
<text x="107.90" y="21.5" font-size="10" text-anchor="middle">20</text>
<text x="173.90" y="21.5" font-size="10" text-anchor="middle">40</text>
<text x="239.90" y="21.5" font-size="10" text-anchor="middle">60</text>
<text x="305.90" y="21.5" font-size="10" text-anchor="middle">80</text>
<text x="371.90" y="21.5" font-size="10" text-anchor="middle">100</text>
<text x="437.90" y="21.5" font-size="10" text-anchor="middle">120</text>
<text x="503.90" y="21.5" font-size="10" text-anchor="middle">140</text>
<text x="569.90" y="21.5" font-size="10" text-anchor="middle">160</text>
<text x="333.10" y="9.799999999999997" font-size="11.3" text-anchor="middle">Distance (km)</text>
<text x="36.2" y="33.00" font-size="10" text-anchor="end">200</text>
<text x="36.2" y="66.20" font-size="10" text-anchor="end">400</text>
<text x="36.2" y="99.40" font-size="10" text-anchor="end">600</text>
<text x="36.2" y="132.60" font-size="10" text-anchor="end">800</text>
<text x="36.2" y="165.80" font-size="10" text-anchor="end">1000</text>
<text x="36.2" y="199.00" font-size="10" text-anchor="end">1200</text>
<text transform="translate(9.4,112.40) rotate(-90)" font-size="11.5" text-anchor="middle">Depth (m)</text>
<rect x="638.2" y="29.40" width="18.59999999999991" height="33.50" fill="#F28022"/>
<rect x="638.2" y="62.60" width="18.59999999999991" height="33.50" fill="#F0FF40"/>
<rect x="638.2" y="95.80" width="18.59999999999991" height="33.50" fill="#99FF88"/>
<rect x="638.2" y="129.00" width="18.59999999999991" height="33.50" fill="#7AFFFF"/>
<rect x="638.2" y="162.20" width="18.59999999999991" height="33.50" fill="#4A8AFF"/>
<rect x="638.2" y="29.4" width="18.59999999999991" height="166.0" fill="none" stroke="#333" stroke-width="0.8"/>
<text x="661.4" y="32.80" font-size="9.4">&gt;1.25</text>
<text x="661.4" y="66.00" font-size="9.4">1</text>
<text x="661.4" y="99.20" font-size="9.4">0.75</text>
<text x="661.4" y="132.40" font-size="9.4">0.5</text>
<text x="661.4" y="165.60" font-size="9.4">0.25</text>
<text x="661.4" y="198.80" font-size="9.4">0</text>
<path d="M656.8,29.40h2.4 M656.8,62.60h2.4 M656.8,95.80h2.4 M656.8,129.00h2.4 M656.8,162.20h2.4 M656.8,195.40h2.4" stroke="#333" stroke-width="0.8"/>
<text x="647.50" y="22.9" font-size="9" text-anchor="middle">Ri</text>
<rect x="41.4" y="234.4" width="583.0" height="166.0" fill="#888"/>
<defs><clipPath id="cp1"><rect x="41.4" y="234.4" width="583.0" height="166.0"/></clipPath>
<mask id="mz1" maskUnits="userSpaceOnUse" x="0" y="0" width="685" height="610"><g filter="url(#bl1)"><polygon points="41.4,234.4 624.4,234.4 624.4,300 600,300 595,270 560,265 520,262 479,265 460,287 440,280 420,272 380,262 350,262 333,265 310,283 300,300 260,304 220,305 187,304 150,310 100,312 41.4,312" fill="#fff"/></g></mask>
<mask id="md1" maskUnits="userSpaceOnUse" x="0" y="0" width="685" height="610"><rect x="41.4" y="234.4" width="583.0" height="166.0" fill="#707070"/><g filter="url(#bl1)"><polygon points="370,274 404,274 404,296 370,296" fill="#ccc"/><polygon points="41.4,310 200,310 200,335 41.4,335" fill="#ccc"/></g></mask>
<mask id="mp1" maskUnits="userSpaceOnUse" x="0" y="0" width="685" height="610"><use href="#pt1" filter="url(#pm)"/></mask>
</defs>
<g clip-path="url(#cp1)" style="isolation:isolate">
<rect x="41.4" y="234.4" width="583.0" height="166.0" fill="#868686"/>
<g id="pt1">
<rect x="47.4" y="238.3" width="139.6" height="71.4" fill="#F28022"/>
<rect x="79.4" y="239.3" width="32.0" height="10.7" fill="#F28022"/>
<rect x="47.4" y="306.5" width="23.4" height="11.5" fill="#4A8AFF"/>
<rect x="70.8" y="258.5" width="25.6" height="9.6" fill="#99FF88"/>
<rect x="58.1" y="238.7" width="20.2" height="9.8" fill="#4A8AFF"/>
<rect x="168.9" y="254.2" width="18.1" height="10.7" fill="#4A8AFF"/>
<rect x="89.0" y="248.9" width="22.4" height="8.5" fill="#7AFFFF"/>
<rect x="168.9" y="307.5" width="18.1" height="10.4" fill="#7AFFFF"/>
<rect x="86.8" y="309.7" width="22.4" height="8.3" fill="#7AFFFF"/>
<rect x="47.4" y="294.7" width="19.2" height="9.6" fill="#7AFFFF"/>
<rect x="110.3" y="240.4" width="14.9" height="11.7" fill="#4A8AFF"/>
<rect x="94.3" y="259.6" width="17.1" height="9.6" fill="#F0FF40"/>
<rect x="47.4" y="305.4" width="25.6" height="5.3" fill="#7AFFFF"/>
<rect x="163.5" y="306.5" width="13.9" height="9.6" fill="#4A8AFF"/>
<rect x="151.8" y="239.3" width="17.1" height="7.5" fill="#F28022"/>
<rect x="151.8" y="259.6" width="19.2" height="6.4" fill="#7AFFFF"/>
<rect x="136.9" y="255.3" width="13.9" height="8.5" fill="#4A8AFF"/>
<rect x="126.3" y="266.0" width="11.7" height="9.6" fill="#7AFFFF"/>
<rect x="79.4" y="253.6" width="21.3" height="4.9" fill="#F0FF40"/>
<rect x="126.3" y="252.1" width="14.9" height="6.4" fill="#7AFFFF"/>
<rect x="98.5" y="256.4" width="14.9" height="6.4" fill="#7AFFFF"/>
<rect x="173.1" y="266.0" width="13.9" height="6.4" fill="#99FF88"/>
<rect x="49.5" y="300.1" width="12.8" height="6.4" fill="#4A8AFF"/>
<rect x="166.7" y="263.8" width="14.9" height="5.3" fill="#F0FF40"/>
<rect x="111.3" y="255.3" width="13.9" height="5.3" fill="#7AFFFF"/>
<rect x="124.1" y="239.3" width="10.7" height="6.4" fill="#7AFFFF"/>
<rect x="134.8" y="306.5" width="13.9" height="4.3" fill="#99FF88"/>
<rect x="136.9" y="268.1" width="8.5" height="6.4" fill="#99FF88"/>
<rect x="76.2" y="250.0" width="11.7" height="4.3" fill="#F0FF40"/>
<rect x="161.4" y="257.4" width="11.7" height="4.3" fill="#99FF88"/>
<rect x="47.4" y="269.2" width="8.5" height="5.3" fill="#7AFFFF"/>
<rect x="100.7" y="253.2" width="8.5" height="5.3" fill="#7AFFFF"/>
<rect x="109.2" y="312.9" width="8.5" height="5.1" fill="#F28022"/>
<rect x="80.4" y="255.3" width="9.6" height="4.3" fill="#99FF88"/>
<rect x="92.2" y="259.6" width="6.4" height="5.3" fill="#868686"/>
<rect x="134.8" y="240.4" width="6.4" height="5.3" fill="#99FF88"/>
<rect x="76.2" y="293.7" width="5.3" height="6.4" fill="#99FF88"/>
<rect x="163.5" y="239.3" width="8.5" height="3.2" fill="#7AFFFF"/>
<rect x="60.2" y="293.7" width="6.4" height="4.3" fill="#99FF88"/>
<rect x="187.0" y="238.7" width="146.0" height="65.6" fill="#F28022"/>
<rect x="187.0" y="304.3" width="89.5" height="13.6" fill="#F28022"/>
<rect x="274.4" y="261.7" width="58.6" height="18.1" fill="#4A8AFF"/>
<rect x="306.4" y="283.0" width="26.6" height="35.0" fill="#868686"/>
<rect x="285.0" y="284.1" width="48.0" height="14.9" fill="#4A8AFF"/>
<rect x="191.3" y="257.4" width="17.1" height="16.0" fill="#4A8AFF"/>
<rect x="268.0" y="263.8" width="17.1" height="11.7" fill="#7AFFFF"/>
<rect x="268.0" y="277.7" width="19.2" height="9.6" fill="#7AFFFF"/>
<rect x="276.5" y="307.5" width="20.2" height="8.5" fill="#7AFFFF"/>
<rect x="261.6" y="306.5" width="14.9" height="11.5" fill="#4A8AFF"/>
<rect x="287.2" y="289.4" width="23.4" height="6.4" fill="#7AFFFF"/>
<rect x="312.7" y="251.1" width="20.2" height="6.4" fill="#7AFFFF"/>
<rect x="246.7" y="260.6" width="17.1" height="7.5" fill="#7AFFFF"/>
<rect x="255.2" y="301.1" width="21.3" height="5.3" fill="#F28022"/>
<rect x="317.0" y="255.3" width="16.0" height="6.4" fill="#4A8AFF"/>
<rect x="248.8" y="296.9" width="19.2" height="5.3" fill="#99FF88"/>
<rect x="257.3" y="244.7" width="17.1" height="6.0" fill="#99FF88"/>
<rect x="282.9" y="262.8" width="23.4" height="4.3" fill="#7AFFFF"/>
<rect x="187.0" y="306.5" width="8.5" height="11.5" fill="#7AFFFF"/>
<rect x="272.3" y="279.8" width="14.9" height="6.4" fill="#4A8AFF"/>
<rect x="257.3" y="303.3" width="14.9" height="6.4" fill="#7AFFFF"/>
<rect x="187.0" y="254.2" width="21.3" height="4.3" fill="#7AFFFF"/>
<rect x="225.4" y="264.9" width="9.6" height="8.5" fill="#4A8AFF"/>
<rect x="245.6" y="308.6" width="11.7" height="6.4" fill="#4A8AFF"/>
<rect x="212.6" y="313.9" width="17.1" height="4.0" fill="#99FF88"/>
<rect x="280.8" y="275.6" width="12.8" height="5.3" fill="#99FF88"/>
<rect x="293.6" y="244.7" width="12.8" height="4.3" fill="#99FF88"/>
<rect x="310.6" y="283.0" width="8.5" height="6.4" fill="#7AFFFF"/>
<rect x="278.6" y="307.5" width="14.9" height="3.2" fill="#99FF88"/>
<rect x="187.0" y="262.8" width="8.5" height="5.3" fill="#7AFFFF"/>
<rect x="201.9" y="301.1" width="10.7" height="4.3" fill="#F0FF40"/>
<rect x="216.8" y="315.0" width="12.8" height="3.0" fill="#7AFFFF"/>
<rect x="246.7" y="308.6" width="8.5" height="4.3" fill="#7AFFFF"/>
<rect x="291.4" y="246.8" width="10.7" height="3.2" fill="#F0FF40"/>
<rect x="287.2" y="277.7" width="10.7" height="3.2" fill="#F0FF40"/>
<rect x="187.0" y="310.7" width="6.4" height="5.3" fill="#4A8AFF"/>
<rect x="250.9" y="258.5" width="10.7" height="3.2" fill="#99FF88"/>
<rect x="207.2" y="258.5" width="4.3" height="5.3" fill="#F0FF40"/>
<rect x="223.2" y="266.0" width="4.3" height="5.3" fill="#7AFFFF"/>
<rect x="195.5" y="312.9" width="4.3" height="4.3" fill="#99FF88"/>
<rect x="333.0" y="238.7" width="146.0" height="20.9" fill="#F28022"/>
<rect x="437.4" y="270.2" width="41.6" height="17.1" fill="#F28022"/>
<rect x="370.3" y="274.5" width="34.1" height="14.9" fill="#4A8AFF"/>
<rect x="377.8" y="280.9" width="23.4" height="14.9" fill="#4A8AFF"/>
<rect x="386.3" y="248.9" width="19.2" height="17.1" fill="#4A8AFF"/>
<rect x="341.5" y="260.6" width="21.3" height="13.9" fill="#4A8AFF"/>
<rect x="406.5" y="262.8" width="24.5" height="11.7" fill="#4A8AFF"/>
<rect x="448.1" y="259.6" width="30.9" height="8.5" fill="#7AFFFF"/>
<rect x="405.5" y="253.2" width="25.6" height="9.6" fill="#4A8AFF"/>
<rect x="426.8" y="257.4" width="21.3" height="10.7" fill="#F28022"/>
<rect x="356.4" y="290.5" width="25.6" height="8.5" fill="#4A8AFF"/>
<rect x="374.6" y="304.3" width="26.6" height="7.5" fill="#4A8AFF"/>
<rect x="403.3" y="246.8" width="25.6" height="7.5" fill="#7AFFFF"/>
<rect x="362.8" y="266.0" width="21.3" height="8.5" fill="#F28022"/>
<rect x="341.5" y="302.2" width="20.2" height="8.5" fill="#4A8AFF"/>
<rect x="414.0" y="273.4" width="19.2" height="8.5" fill="#F28022"/>
<rect x="353.2" y="282.0" width="19.2" height="8.5" fill="#F28022"/>
<rect x="437.4" y="259.6" width="14.9" height="10.7" fill="#7AFFFF"/>
<rect x="390.5" y="263.8" width="16.0" height="8.5" fill="#F28022"/>
<rect x="361.8" y="305.4" width="14.9" height="7.5" fill="#7AFFFF"/>
<rect x="382.0" y="266.0" width="12.8" height="8.5" fill="#7AFFFF"/>
<rect x="433.2" y="266.0" width="19.2" height="5.3" fill="#4A8AFF"/>
<rect x="333.0" y="257.4" width="14.9" height="6.4" fill="#99FF88"/>
<rect x="362.8" y="263.8" width="14.9" height="5.3" fill="#7AFFFF"/>
<rect x="409.7" y="259.6" width="17.1" height="4.3" fill="#868686"/>
<rect x="381.0" y="293.7" width="17.1" height="4.3" fill="#F28022"/>
<rect x="345.8" y="253.2" width="12.8" height="5.3" fill="#F0FF40"/>
<rect x="426.8" y="248.9" width="12.8" height="4.3" fill="#99FF88"/>
<rect x="333.0" y="259.6" width="3.2" height="16.0" fill="#F28022"/>
<rect x="469.4" y="263.8" width="9.6" height="5.3" fill="#99FF88"/>
<rect x="333.0" y="275.6" width="6.4" height="7.5" fill="#4A8AFF"/>
<rect x="333.0" y="252.1" width="8.5" height="5.3" fill="#7AFFFF"/>
<rect x="454.5" y="259.6" width="10.7" height="4.3" fill="#99FF88"/>
<rect x="378.8" y="297.9" width="9.6" height="4.3" fill="#7AFFFF"/>
<rect x="460.9" y="287.3" width="18.1" height="2.1" fill="#99FF88"/>
<rect x="399.1" y="244.7" width="8.5" height="4.3" fill="#99FF88"/>
<rect x="333.0" y="253.2" width="6.4" height="3.2" fill="#4A8AFF"/>
<rect x="356.4" y="238.3" width="6.4" height="3.2" fill="#99FF88"/>
<rect x="384.2" y="277.7" width="4.3" height="4.3" fill="#F28022"/>
<rect x="358.6" y="306.5" width="4.3" height="4.3" fill="#F28022"/>
<rect x="479.0" y="238.3" width="146.0" height="21.3" fill="#F28022"/>
<rect x="602.6" y="259.6" width="22.4" height="40.5" fill="#F28022"/>
<rect x="592.0" y="278.8" width="33.0" height="21.3" fill="#F28022"/>
<rect x="535.5" y="267.0" width="54.3" height="11.7" fill="#4A8AFF"/>
<rect x="542.9" y="254.2" width="42.6" height="12.8" fill="#F28022"/>
<rect x="572.8" y="304.3" width="34.1" height="13.6" fill="#4A8AFF"/>
<rect x="479.0" y="257.4" width="38.4" height="9.6" fill="#4A8AFF"/>
<rect x="483.3" y="268.1" width="28.8" height="12.8" fill="#4A8AFF"/>
<rect x="554.7" y="300.1" width="30.9" height="10.7" fill="#4A8AFF"/>
<rect x="521.6" y="254.2" width="42.6" height="5.3" fill="#7AFFFF"/>
<rect x="592.0" y="251.1" width="19.2" height="11.7" fill="#4A8AFF"/>
<rect x="577.0" y="287.3" width="18.1" height="10.7" fill="#4A8AFF"/>
<rect x="546.1" y="282.0" width="22.4" height="8.5" fill="#F28022"/>
<rect x="496.1" y="245.7" width="25.6" height="6.4" fill="#7AFFFF"/>
<rect x="607.9" y="308.6" width="17.1" height="9.4" fill="#F28022"/>
<rect x="549.3" y="273.4" width="19.2" height="7.5" fill="#F28022"/>
<rect x="554.7" y="292.6" width="22.4" height="6.4" fill="#F28022"/>
<rect x="561.1" y="246.8" width="24.5" height="5.3" fill="#F0FF40"/>
<rect x="587.7" y="269.2" width="11.7" height="9.6" fill="#99FF88"/>
<rect x="611.1" y="245.7" width="13.9" height="6.4" fill="#7AFFFF"/>
<rect x="560.0" y="302.2" width="12.8" height="6.4" fill="#F0FF40"/>
<rect x="542.9" y="257.4" width="14.9" height="5.3" fill="#99FF88"/>
<rect x="485.4" y="258.5" width="14.9" height="5.3" fill="#7AFFFF"/>
<rect x="606.9" y="297.9" width="18.1" height="4.3" fill="#4A8AFF"/>
<rect x="479.0" y="267.0" width="6.4" height="9.6" fill="#F28022"/>
<rect x="555.7" y="275.6" width="12.8" height="4.3" fill="#7AFFFF"/>
<rect x="560.0" y="306.5" width="12.8" height="4.3" fill="#7AFFFF"/>
<rect x="521.6" y="250.0" width="8.5" height="5.3" fill="#99FF88"/>
<rect x="491.8" y="268.1" width="12.8" height="3.2" fill="#7AFFFF"/>
<rect x="549.3" y="277.7" width="6.4" height="5.3" fill="#99FF88"/>
<rect x="540.8" y="316.1" width="17.1" height="1.9" fill="#4A8AFF"/>
<rect x="572.8" y="302.2" width="6.4" height="4.3" fill="#7AFFFF"/>
<rect x="617.5" y="242.5" width="7.5" height="3.2" fill="#99FF88"/>
<rect x="588.8" y="270.2" width="5.3" height="4.3" fill="#F28022"/>
<rect x="479.0" y="261.7" width="4.3" height="3.2" fill="#F0FF40"/>
<rect x="132.6" y="330.9" width="54.3" height="9.6" fill="#F28022"/>
<rect x="86.8" y="317.0" width="30.9" height="9.6" fill="#F28022"/>
<rect x="146.5" y="339.4" width="20.2" height="9.6" fill="#4A8AFF"/>
<rect x="106.0" y="325.5" width="20.2" height="8.5" fill="#F28022"/>
<rect x="120.9" y="338.3" width="20.2" height="8.5" fill="#F28022"/>
<rect x="149.7" y="322.3" width="17.1" height="7.5" fill="#4A8AFF"/>
<rect x="149.7" y="344.7" width="21.3" height="5.3" fill="#7AFFFF"/>
<rect x="175.3" y="341.5" width="11.7" height="9.6" fill="#4A8AFF"/>
<rect x="52.7" y="349.0" width="17.1" height="6.4" fill="#F28022"/>
<rect x="49.5" y="317.0" width="18.1" height="4.7" fill="#4A8AFF"/>
<rect x="168.9" y="340.4" width="11.7" height="6.4" fill="#F28022"/>
<rect x="151.8" y="321.3" width="13.9" height="3.2" fill="#7AFFFF"/>
<rect x="177.4" y="325.5" width="9.6" height="4.3" fill="#4A8AFF"/>
<rect x="86.8" y="317.0" width="18.1" height="2.1" fill="#7AFFFF"/>
<rect x="179.5" y="329.8" width="7.5" height="4.3" fill="#F28022"/>
<rect x="173.1" y="317.0" width="13.9" height="2.1" fill="#4A8AFF"/>
<rect x="166.7" y="338.3" width="4.3" height="5.3" fill="#F0FF40"/>
<rect x="165.7" y="324.5" width="3.2" height="6.4" fill="#F0FF40"/>
<rect x="183.8" y="318.1" width="3.2" height="5.3" fill="#F28022"/>
<rect x="187.0" y="326.6" width="21.3" height="24.5" fill="#4A8AFF"/>
<rect x="209.4" y="328.7" width="41.6" height="11.7" fill="#F28022"/>
<rect x="209.4" y="341.5" width="41.6" height="9.6" fill="#F28022"/>
<rect x="187.0" y="317.0" width="34.1" height="9.6" fill="#F28022"/>
<rect x="228.6" y="324.5" width="42.6" height="7.5" fill="#4A8AFF"/>
<rect x="276.5" y="319.1" width="20.2" height="9.6" fill="#4A8AFF"/>
<rect x="254.1" y="338.3" width="22.4" height="8.5" fill="#7AFFFF"/>
<rect x="235.0" y="326.6" width="35.2" height="4.3" fill="#7AFFFF"/>
<rect x="240.3" y="317.0" width="23.4" height="6.4" fill="#F28022"/>
<rect x="201.9" y="325.5" width="27.7" height="5.3" fill="#7AFFFF"/>
<rect x="210.4" y="317.0" width="16.0" height="8.5" fill="#7AFFFF"/>
<rect x="250.9" y="336.2" width="20.2" height="6.4" fill="#4A8AFF"/>
<rect x="319.1" y="349.0" width="13.9" height="6.4" fill="#F28022"/>
<rect x="263.7" y="317.0" width="12.8" height="5.3" fill="#4A8AFF"/>
<rect x="228.6" y="347.9" width="18.1" height="3.6" fill="#7AFFFF"/>
<rect x="250.9" y="330.9" width="19.2" height="3.2" fill="#99FF88"/>
<rect x="259.5" y="344.7" width="11.7" height="3.8" fill="#99FF88"/>
<rect x="238.2" y="347.9" width="7.5" height="3.2" fill="#F0FF40"/>
<rect x="187.0" y="323.4" width="6.4" height="3.2" fill="#99FF88"/>
<rect x="330.9" y="325.5" width="2.1" height="8.5" fill="#4A8AFF"/>
<rect x="195.5" y="317.0" width="8.5" height="1.7" fill="#F0FF40"/>
<rect x="187.0" y="334.1" width="4.3" height="3.2" fill="#F28022"/>
<rect x="195.5" y="334.1" width="4.3" height="3.2" fill="#F28022"/>
<rect x="333.0" y="325.5" width="17.1" height="11.7" fill="#4A8AFF"/>
<rect x="339.4" y="335.1" width="20.2" height="8.5" fill="#4A8AFF"/>
<rect x="384.6" y="350.0" width="23.0" height="5.3" fill="#7AFFFF"/>
<rect x="361.8" y="337.2" width="17.1" height="6.4" fill="#F28022"/>
<rect x="406.5" y="350.0" width="17.1" height="5.3" fill="#4A8AFF"/>
<rect x="384.6" y="345.8" width="19.8" height="4.3" fill="#F28022"/>
<rect x="333.0" y="349.0" width="6.0" height="6.4" fill="#F28022"/>
<rect x="388.4" y="349.0" width="8.5" height="2.6" fill="#99FF88"/>
<rect x="384.6" y="349.0" width="6.0" height="3.2" fill="#F0FF40"/>
<rect x="551.5" y="337.2" width="34.1" height="11.7" fill="#4A8AFF"/>
<rect x="603.7" y="329.8" width="21.3" height="10.7" fill="#4A8AFF"/>
<rect x="560.0" y="317.0" width="19.2" height="8.5" fill="#4A8AFF"/>
<rect x="588.8" y="319.1" width="20.2" height="6.4" fill="#99FF88"/>
<rect x="592.0" y="326.6" width="19.2" height="6.4" fill="#F0FF40"/>
<rect x="566.4" y="331.9" width="12.8" height="9.6" fill="#7AFFFF"/>
<rect x="584.5" y="333.0" width="13.9" height="7.5" fill="#F0FF40"/>
<rect x="584.5" y="337.2" width="22.4" height="4.3" fill="#7AFFFF"/>
<rect x="609.0" y="338.3" width="13.9" height="5.3" fill="#F28022"/>
<rect x="588.8" y="319.1" width="18.1" height="3.2" fill="#7AFFFF"/>
<rect x="577.0" y="331.9" width="6.4" height="6.4" fill="#F28022"/>
<rect x="572.8" y="335.1" width="12.8" height="3.2" fill="#99FF88"/>
<rect x="594.1" y="325.5" width="8.5" height="3.2" fill="#F28022"/>
<rect x="606.9" y="328.7" width="8.5" height="3.2" fill="#7AFFFF"/>
<rect x="584.5" y="337.2" width="7.5" height="3.2" fill="#F28022"/>
<rect x="615.4" y="317.0" width="6.4" height="1.7" fill="#F28022"/>
<polygon points="438.8,342.3 447.5,339.4 465.0,331.4 473.8,329.2 485.5,327.7 498.6,321.9 511.8,319.0 523.4,319.0 530.0,320.0 539.0,316.4 557.0,321.9 557.0,340.1 539.0,334.7 523.4,335.0 511.8,336.5 498.6,340.1 491.3,343.8 473.8,346.7 465.0,348.2 438.8,348.9" fill="#4A8AFF"/>
<polygon points="456.3,306.6 472.3,302.9 484.0,302.2 492.8,307.3 492.8,313.9 473.8,316.8 463.6,316.1 456.3,311.7" fill="#4A8AFF"/>
<rect x="495.0" y="305.8" width="42.6" height="8.1" fill="#4A8AFF"/>
<polygon points="430.0,311.0 455.0,308.8 463.6,316.0 463.6,320.4 430.0,320.4" fill="#F28022"/>
<rect x="524.4" y="334.7" width="21.9" height="9.1" fill="#F28022"/>
<rect x="430.0" y="332.1" width="13.9" height="8.8" fill="#F28022"/>
<rect x="456.3" y="311.0" width="16.0" height="5.8" fill="#7AFFFF"/>
<rect x="430.0" y="320.4" width="19.7" height="1.5" fill="#4A8AFF"/>
<rect x="511.8" y="311.7" width="8.7" height="2.2" fill="#7AFFFF"/>
<rect x="430.0" y="319.0" width="8.8" height="1.4" fill="#F0FF40"/>
<rect x="41.4" y="234.4" width="583.0" height="5.0" fill="#868686"/>
</g>
<rect x="41.4" y="234.4" width="583.0" height="166.0" filter="url(#rl1)" style="mix-blend-mode:hard-light" opacity="0.24"/>
<defs><g id="rf1"><path d="M37.4,232.4l4,.3 4,-.3 4,-.1 4,-.6 4,-.5 4,1 4,1.1 4,-.2 4,-.9 4,0 4,.7 4,.4 4,-.2 4,-.6 4,.2 4,1.2 4,-.9 4,-2 4,-.5 4,.3 4,1.3 4,0 4,-.8 4,1.1 4,1.6 4,-.2 4,-1.6 4,-1 4,.5 4,1.5 4,.2 4,-1.5 4,.4 4,1.4 4,.5 4,-.8 4,-.6 4,.6 4,1.7 4,.7 4,-1.6 4,-.8 4,.2 4,.1 4,-1.1 4,-1 4,.4 4,1.2 4,1.3 4,-1.1 4,-1.3 4,.2 4,-.2 4,-.8 4,-.9 4,-.6 4,.6 4,.8 4,-1 4,-1 4,.6 4,.3 4,.4 4,.6 4,-.1 4,.5 4,.6 4,-.5 4,-.9 4,.1 4,.3 4,.7 4,1 4,.9 4,.8 4,.3 4,-.4 4,-.2 4,.3 4,-.5 4,-.2 4,.6 4,.5 4,-.4 4,-.5 4,-.7 4,.2 4,.7 4,-0 4,-.8 4,.3 4,.4 4,-.5 4,-1.4 4,-2 4,-.2 4,1.5 4,0 4,-.8 4,.7 4,.7 4,.6 4,-.9 4,-1.3 4,-.1 4,1.4 4,.5 4,-.9 4,-.6 4,.6 4,1 4,-0 4,-1.3 4,.2 4,2.2 4,1.2 4,-1.2 4,-1 4,-.3 4,.2 4,.1 4,-1.6 4,-.4 4,2 4,1.4 4,-.5 4,-1.1 4,-.4 4,.3 4,.8 4,-1.3 4,-.7 4,1.1 4,.8 4,-.6 4,-1.1 4,-.3 4,.8 4,1.3 4,.6 4,-.3 4,.6 4,.7 4,-.7 4,-.9 4,-.6 4,-.1 4,1.3" stroke-dasharray="196 3 190 2 176 2 194 3"/><path d="M37.4,237.2l4,-.4 4,-.7 4,1.4 4,-.8 4,-.6 4,.5 4,.5 4,1.3 4,-2 4,-.1 4,.2 4,1.6 4,-0 4,-1.1 4,.8 4,.6 4,-.6 4,-1.9 4,-1.1 4,1.2 4,.4 4,0 4,0 4,.9 4,1.3 4,-1.5 4,-.2 4,-1 4,1.5 4,.1 4,-.5 4,.1 4,.1 4,.7 4,-.6 4,-.2 4,.8 4,.6 4,1 4,0 4,-.4 4,-.1 4,-1.4 4,.4 4,-1.4 4,-0 4,.2 4,.9 4,.5 4,-1.2 4,.2 4,-.9 4,.7 4,-1.5 4,-.8 4,.3 4,.8 4,-.1 4,-1.7 4,-.6 4,1.5 4,-.1 4,.2 4,-.3 4,1.6 4,1.2 4,-1.1 4,-1 4,-1 4,2.2 4,-.7 4,.2 4,.6 4,1.6 4,1.5 4,-1 4,-.7 4,.6 4,.5 4,.4 4,-.9 4,.4 4,.4 4,-.5 4,-.5 4,-1.2 4,1.1 4,-0 4,.6 4,-.2 4,-.2 4,-.1 4,-1.1 4,-.7 4,-1.4 4,-.4 4,.6 4,.2 4,.7 4,-.4 4,-.3 4,.9 4,-.9 4,-.2 4,-.9 4,1.4 4,.7 4,-.4 4,-.9 4,-.4 4,1.6 4,-.9 4,.1 4,.2 4,2.3 4,.9 4,-1.2 4,-.9 4,.1 4,.2 4,-.8 4,-1.4 4,1.3 4,1.1 4,.3 4,-.5 4,-1.2 4,1.7 4,-.7 4,-.1 4,-1.2 4,1 4,.8 4,-.8 4,-.8 4,-.8 4,1 4,.1 4,.4 4,.8 4,.4 4,1 4,-.1 4,-1.1 4,-.3 4,-.9 4,1 4,0" stroke-dasharray="175 3 31 3 44 4 161 5 45 3 51 5 172 3"/><path d="M37.4,240.7l4,1.1 4,-.8 4,-.8 4,1.8 4,.1 4,-1.4 4,1.2 4,.6 4,-1.4 4,-.5 4,.8 4,1.4 4,.3 4,-.8 4,-.1 4,1.2 4,-.4 4,-2.8 4,-.6 4,1.7 4,-.2 4,-.3 4,.9 4,.1 4,.1 4,.6 4,-1.4 4,-.5 4,1.7 4,.4 4,-1.1 4,0 4,.6 4,-.6 4,-.1 4,-0 4,-.1 4,2.2 4,.4 4,-.8 4,.5 4,-.1 4,-1.9 4,.3 4,.1 4,-1.4 4,.2 4,2.6 4,-.9 4,-1.7 4,.2 4,.8 4,-.7 4,-1.1 4,-.6 4,1.1 4,1 4,-2.7 4,-1.2 4,1.9 4,0 4,-1.6 4,1 4,1.7 4,.1 4,.4 4,.3 4,-1.3 4,-.5 4,.6 4,.2 4,.5 4,.7 4,.5 4,1.2 4,.7 4,-1.7 4,-0 4,2.3 4,-.3 4,-.9 4,.4 4,.3 4,-.8 4,-.1 4,-1.4 4,-.7 4,2.1 4,.9 4,-1.5 4,-.1 4,.8 4,-.7 4,-1.7 4,-1.2 4,-.3 4,1.5 4,-.3 4,-1.7 4,1.4 4,1 4,-1.8 4,-.5 4,1.8 4,-.6 4,-.4 4,1.5 4,-.2 4,-1.6 4,-.2 4,.9 4,.2 4,-.1 4,.3 4,1.7 4,1.9 4,-1.5 4,-2.1 4,1.7 4,.7 4,-2.8 4,-.2 4,2.3 4,-.1 4,-.4 4,-.2 4,-.3 4,.2 4,.8 4,-1 4,-.1 4,1.1 4,-.4 4,-.6 4,-.4 4,-1.4 4,.1 4,1.8 4,0 4,-.4 4,1.8 4,.4 4,-.9 4,-0 4,-.4 4,-.9 4,1.3 4,.9" stroke-dasharray="156 2 114 4 182 2 33 2 118 5"/><path d="M37.4,244.1l4,.3 4,1.4 4,-0 4,-.5 4,-.5 4,1.4 4,.3 4,-.6 4,-1.4 4,.3 4,1.4 4,.5 4,.1 4,-.3 4,1 4,-.1 4,-1.1 4,-1.5 4,-.5 4,1.1 4,.1 4,-.1 4,-.5 4,1.3 4,.4 4,-.7 4,-1 4,.1 4,1.6 4,.3 4,-.7 4,-1.5 4,.9 4,.7 4,-.5 4,-1 4,.2 4,2.5 4,.9 4,-.2 4,-1.5 4,-.1 4,.4 4,-.4 4,-1.2 4,-.7 4,1.3 4,.6 4,-.1 4,-1.2 4,-.4 4,.4 4,.3 4,-.6 4,-.7 4,.6 4,-.1 4,-.9 4,-1.1 4,-.3 4,.2 4,.6 4,.4 4,.5 4,1.3 4,-.1 4,-.3 4,-1.2 4,.4 4,.3 4,.2 4,.4 4,.1 4,1.3 4,.4 4,.3 4,-.7 4,.8 4,.6 4,.7 4,0 4,-.7 4,.3 4,-1 4,-.2 4,-.9 4,.4 4,.3 4,.6 4,.1 4,-.3 4,.2 4,-1.8 4,-.8 4,-.8 4,.7 4,-.1 4,-.6 4,-0 4,-0 4,.6 4,-.6 4,-.8 4,-.1 4,1.7 4,1 4,-1 4,-.9 4,-.4 4,1 4,-.4 4,-.4 4,-.2 4,1.9 4,1.8 4,-.3 4,-.7 4,-.7 4,1.2 4,-.6 4,-.5 4,-.7 4,1.1 4,.6 4,-.3 4,-.8 4,-.7 4,1.2 4,.3 4,-.3 4,-.6 4,1.3 4,.1 4,-1.2 4,-1.5 4,-.7 4,1.6 4,.3 4,.1 4,-.2 4,1.1 4,1.4 4,-.6 4,-1.6 4,-.7 4,1.3 4,.7 4,-.2" stroke-dasharray="67 2 100 4 141 4 115 3 178 5"/><path d="M37.4,248.6l4,.3 4,1.1 4,.8 4,-.8 4,-.2 4,1.3 4,.3 4,-1.3 4,-1.2 4,0 4,1.5 4,1.7 4,-.2 4,-.8 4,.5 4,.8 4,-.9 4,-1.9 4,-.5 4,.8 4,.5 4,-.2 4,-.3 4,0 4,.7 4,-.4 4,-1 4,.8 4,1.4 4,-.3 4,-1.1 4,.1 4,.4 4,-.3 4,-.7 4,-1 4,1.3 4,2.2 4,1.1 4,-1.5 4,-.8 4,.7 4,.5 4,-1.3 4,-1 4,-.1 4,.9 4,1 4,-1.3 4,-1 4,.3 4,.5 4,-.3 4,-.3 4,.6 4,.2 4,-.9 4,-1.6 4,-.4 4,.4 4,.3 4,-.6 4,-.3 4,1.8 4,1.7 4,-.6 4,-1.7 4,0 4,.7 4,.8 4,.1 4,-.8 4,.5 4,1.9 4,-0 4,-.9 4,.1 4,1.2 4,.8 4,.6 4,-.1 4,-.2 4,-.3 4,-.8 4,-1 4,-.1 4,.8 4,.5 4,-.8 4,.5 4,.6 4,-.4 4,-1.6 4,-1.2 4,-.4 4,.8 4,.5 4,-1.3 4,-1.2 4,.6 4,.4 4,-.1 4,-.5 4,.3 4,.4 4,1.2 4,.2 4,-1.4 4,-.8 4,.4 4,-0 4,.1 4,.9 4,.9 4,.2 4,.4 4,.2 4,0 4,-.2 4,-.1 4,-.7 4,.3 4,1 4,.2 4,-1.4 4,-.3 4,.2 4,.7 4,.3 4,.1 4,-.6 4,.6 4,.3 4,-.8 4,-1.6 4,-.8 4,.6 4,.7 4,.8 4,.2 4,-.2 4,.9 4,0 4,-.7 4,-.4 4,.6 4,.1 4,.2" stroke-dasharray="64 4 178 2 70 3 174 4 176 4"/><path d="M37.4,252.2l4,.9 4,.8 4,1.1 4,-1.5 4,1.1 4,.8 4,-.7 4,-.2 4,-2 4,1.2 4,.9 4,.7 4,1 4,-.8 4,1 4,-.3 4,-1.1 4,-.6 4,-1.1 4,1.7 4,-.4 4,-.8 4,.5 4,-.3 4,.7 4,-1.4 4,.1 4,1.5 4,.2 4,.6 4,-1.9 4,.3 4,0 4,-1 4,.4 4,-1.2 4,1.4 4,2.4 4,-.4 4,-.1 4,-1.2 4,.9 4,.2 4,-1.5 4,.3 4,-.3 4,.9 4,-0 4,-1.4 4,.4 4,-1 4,1.2 4,-.3 4,-.4 4,.9 4,-.7 4,0 4,-1.6 4,-1 4,.9 4,-.6 4,.5 4,-.4 4,1.4 4,1.8 4,-1.7 4,-.1 4,-.4 4,.6 4,1.1 4,-1 4,1 4,-.3 4,.9 4,.7 4,-1.5 4,.9 4,.9 4,1.5 4,.3 4,-1 4,.7 4,-.8 4,-.6 4,-.5 4,-.8 4,1.3 4,-.3 4,.6 4,-.2 4,-.5 4,.5 4,-1.5 4,-.8 4,-.5 4,.2 4,1.1 4,-1.8 4,-.8 4,.2 4,-0 4,.6 4,-1.7 4,1.4 4,1.3 4,0 4,.4 4,-2.2 4,.6 4,-.5 4,.3 4,.5 4,-.8 4,2.4 4,.5 4,.3 4,-.6 4,-.4 4,1.5 4,-1.1 4,-.2 4,.7 4,-.2 4,.7 4,-1.7 4,-.1 4,.6 4,-.3 4,1.6 4,-1 4,.5 4,1 4,-.8 4,-.5 4,-2.5 4,.4 4,1.4 4,-.5 4,.1 4,-.5 4,1.9 4,.3 4,-1.2 4,.2 4,-.7 4,1.6 4,-0 4,-.4" stroke-dasharray="181 4 69 4 176 4 66 2 123 2"/><path d="M37.4,256.3l4,.8 4,.9 4,1 4,-.6 4,.6 4,.9 4,-.6 4,-1.9 4,.5 4,.3 4,1.3 4,.2 4,-.3 4,.7 4,.7 4,-.7 4,-.8 4,-.2 4,-.4 4,1 4,-.6 4,-.6 4,-.1 4,.2 4,-.5 4,-.1 4,-0 4,.2 4,1.9 4,-.7 4,-.4 4,-1.1 4,.3 4,-.2 4,-.3 4,-.9 4,1.5 4,1.8 4,-.5 4,-.1 4,-.6 4,.6 4,.1 4,-.8 4,-.9 4,1.5 4,.3 4,-1.4 4,-.5 4,-.6 4,1.1 4,.1 4,-.7 4,.3 4,1.5 4,-.8 4,-.8 4,-1.2 4,-1 4,.5 4,0 4,-.3 4,.5 4,1 4,.3 4,.6 4,-1.6 4,.3 4,.9 4,.4 4,.1 4,-.1 4,0 4,.7 4,.4 4,-1.4 4,1 4,1.5 4,.9 4,.2 4,-.5 4,.2 4,.3 4,-1.2 4,-1.7 4,.7 4,.3 4,1.1 4,-.8 4,-.7 4,.6 4,.3 4,-1.5 4,-.8 4,.6 4,-.2 4,.4 4,-1.6 4,-1 4,.1 4,-0 4,-.7 4,.5 4,.6 4,.9 4,1 4,-1.3 4,-.1 4,-.7 4,.2 4,-.1 4,.4 4,-0 4,1.7 4,.9 4,-1.1 4,.4 4,-.5 4,1.4 4,.3 4,-.5 4,-.6 4,1.7 4,-.8 4,-1.4 4,-.2 4,-.5 4,1.9 4,.2 4,-.5 4,.4 4,1.3 4,-1.4 4,-1.2 4,-1.1 4,.2 4,1.2 4,-.8 4,-.2 4,.8 4,.7 4,-.8 4,.2 4,-.9 4,1 4,1.1 4,-.5 4,-.2" stroke-dasharray="131 5 109 2 107 4 59 4 135 2 115 2"/><path d="M37.4,260.2l4,1 4,1.2 4,.7 4,-.3 4,.8 4,.7 4,-1.5 4,-.8 4,.4 4,.3 4,1.1 4,.5 4,-.3 4,.5 4,.6 4,-.5 4,-1.2 4,-.1 4,1.2 4,-.5 4,-.2 4,-.5 4,-1.1 4,.3 4,.1 4,-.8 4,.2 4,1.5 4,.7 4,-.4 4,-1 4,-.3 4,-.4 4,-0 4,-.4 4,-.7 4,1.7 4,1.5 4,-.9 4,-.6 4,.6 4,.3 4,-.2 4,-.3 4,.2 4,0 4,.9 4,-.8 4,-2.3 4,.7 4,1.2 4,-.9 4,0 4,.9 4,.3 4,.3 4,-1.3 4,-1.4 4,-.7 4,.8 4,.3 4,-1.3 4,.8 4,1.3 4,-.6 4,.1 4,-.3 4,-.1 4,1.2 4,.5 4,-.1 4,-.3 4,.4 4,.4 4,-1.1 4,.2 4,1.4 4,.5 4,1.3 4,.4 4,-.6 4,.4 4,-.3 4,-1.1 4,-.8 4,.1 4,.9 4,0 4,-.1 4,-.7 4,-.5 4,.9 4,-.5 4,-1.8 4,.8 4,.6 4,-.7 4,-1.2 4,-1.2 4,-0 4,-0 4,0 4,0 4,-0 4,2.1 4,.5 4,-2 4,-.2 4,.5 4,-.1 4,-.1 4,-.3 4,.9 4,1 4,.6 4,-.4 4,-.7 4,1.7 4,.8 4,-1.1 4,.5 4,.6 4,-.4 4,.2 4,-1.4 4,-.6 4,.4 4,.9 4,.5 4,-.6 4,1.2 4,.2 4,-1.4 4,-.5 4,-.6 4,-.8 4,1.1 4,.3 4,-1 4,.1 4,.9 4,-.1 4,-.9 4,.2 4,1.1 4,.2 4,.9 4,-1.1" stroke-dasharray="96 4 66 2 102 4 40 3 84 4 42 2 37 4 140 4"/><path d="M37.4,263.1l4,.6 4,2.5 4,-.2 4,.8 4,-1 4,1.2 4,-1.1 4,0 4,-1 4,1 4,.6 4,.6 4,.1 4,.1 4,.5 4,-.5 4,-.6 4,-.3 4,1.6 4,-.2 4,-.5 4,-2.1 4,.5 4,.2 4,0 4,-1.6 4,1 4,.8 4,2.1 4,-1.6 4,-.8 4,-.9 4,.7 4,-.9 4,-.4 4,.2 4,1.3 4,.7 4,-.8 4,.3 4,.1 4,.6 4,-1 4,.6 4,-.2 4,1.6 4,-1.2 4,-.9 4,-1.7 4,1.3 4,-.1 4,.7 4,-1 4,1.1 4,.3 4,.4 4,-1.4 4,-1 4,-.8 4,.4 4,.4 4,-0 4,.2 4,-.2 4,.6 4,-.6 4,.5 4,-.4 4,1.8 4,-.4 4,.5 4,-.7 4,1.1 4,-1 4,.2 4,-1.1 4,1.6 4,1.5 4,1.4 4,-1.2 4,.2 4,.3 4,.4 4,-1 4,-1.6 4,.3 4,1.1 4,.6 4,-1.2 4,-.5 4,-.1 4,.7 4,-1.3 4,.2 4,-.2 4,1.2 4,-1.6 4,-.9 4,-1.4 4,1 4,-1.2 4,-.5 4,.1 4,1.8 4,1.1 4,-.6 4,-1.1 4,-.2 4,.5 4,.2 4,0 4,-.7 4,1.2 4,.5 4,1 4,-1.4 4,.9 4,-.3 4,1.8 4,-.6 4,1.4 4,-.6 4,.5 4,-1.3 4,-.4 4,-1 4,1.1 4,.2 4,.5 4,-.2 4,.4 4,.7 4,-1 4,-1 4,-1.4 4,1.1 4,.3 4,.6 4,-2 4,.7 4,-0 4,.9 4,-1.5 4,.6 4,.3 4,1.8 4,-.6 4,-.5" stroke-dasharray="104 3 186 4 182 4 110 2 148 4"/><path d="M37.4,265.7l4,.9 4,1.4 4,.9 4,-.1 4,.3 4,.2 4,.2 4,-1 4,-.8 4,1.5 4,.2 4,1.4 4,-2.3 4,1.7 4,-.3 4,1.1 4,-1.6 4,-.4 4,1.8 4,-.6 4,.7 4,-3.3 4,1.4 4,-.9 4,.4 4,-1.4 4,.4 4,2.1 4,.5 4,-.7 4,-1.5 4,.2 4,.7 4,-1 4,-1.3 4,.6 4,1.6 4,.8 4,-1.7 4,.3 4,-.1 4,2.1 4,-1.6 4,.3 4,.2 4,1 4,-.1 4,-2.8 4,.9 4,-1.3 4,2.3 4,-1.8 4,1.3 4,.1 4,1 4,-.7 4,-1.6 4,-.2 4,-.2 4,.4 4,-.7 4,-.1 4,.6 4,.3 4,-.4 4,.1 4,-.6 4,2 4,-.6 4,1.3 4,-1.1 4,1.2 4,-1.1 4,-.2 4,.3 4,-.8 4,2.2 4,-.4 4,2.8 4,-1.3 4,1 4,-1 4,0 4,-.1 4,-1.3 4,.6 4,-.2 4,1.4 4,-1.7 4,-.5 4,-.1 4,.5 4,-.2 4,-.7 4,-.4 4,1.6 4,-1.1 4,-.8 4,-2.5 4,1 4,-.4 4,-.1 4,-.3 4,.1 4,3 4,-1.4 4,.2 4,-2.2 4,2.1 4,-.2 4,-.3 4,-.6 4,.8 4,2.3 4,-1.4 4,-.3 4,-.6 4,2.6 4,.5 4,-.1 4,-.3 4,1 4,.4 4,-.9 4,-2.5 4,.9 4,.2 4,1.5 4,-1.3 4,.3 4,1.6 4,-.8 4,-.1 4,-2.8 4,2.2 4,-1.4 4,1.7 4,-2.2 4,.5 4,.3 4,-.4 4,.2 4,-1.3 4,1.8 4,.1 4,1 4,-1 4,.4" stroke-dasharray="62 2 191 2 85 3 127 4 84 2 173 4"/><path d="M37.4,269.1l4,1.2 4,.3 4,.8 4,.6 4,.1 4,.5 4,-.4 4,-1.6 4,.3 4,1.3 4,.8 4,-0 4,-1.1 4,.8 4,1.1 4,-.7 4,-.7 4,.9 4,.4 4,.1 4,-1 4,-1.1 4,.1 4,-.6 4,-1.1 4,.4 4,1 4,.7 4,.6 4,-1.4 4,-.3 4,.6 4,-.6 4,-.5 4,-.3 4,-.4 4,1.6 4,.5 4,-.9 4,-.6 4,.4 4,1.1 4,.8 4,-.8 4,-.3 4,1.4 4,-.7 4,-1.4 4,-.5 4,-.3 4,.7 4,.2 4,-.2 4,1.1 4,.8 4,-1.3 4,-.8 4,-.8 4,.1 4,.6 4,-.8 4,-.3 4,.7 4,-.1 4,.2 4,-.2 4,-.9 4,.9 4,1.8 4,.2 4,-.1 4,-.8 4,.2 4,.3 4,-.9 4,-.5 4,2 4,1 4,.3 4,.4 4,-.2 4,.8 4,-.5 4,-1.6 4,.2 4,1.4 4,-.3 4,-.8 4,-.8 4,-.3 4,.8 4,-.3 4,-1.1 4,.3 4,.3 4,.2 4,-.1 4,-1.9 4,-1.5 4,.4 4,-.1 4,.2 4,-.1 4,.3 4,1.2 4,.1 4,-1.5 4,.3 4,.7 4,-.3 4,-.1 4,-.3 4,1.2 4,1.1 4,-1.4 4,-.6 4,1.2 4,1.3 4,.8 4,.1 4,-.4 4,1 4,0 4,-.9 4,-.9 4,-.8 4,.6 4,1.4 4,-.2 4,.1 4,0 4,-0 4,-.4 4,-.6 4,-1.1 4,1 4,.4 4,-1.5 4,-.1 4,.5 4,.1 4,-.7 4,-1.2 4,1.2 4,2.4 4,0 4,-1.1 4,-.4" stroke-dasharray="61 2 144 2 59 2 191 3 84 4 105 3"/><path d="M37.4,272.0l4,1.8 4,-.6 4,1.3 4,.9 4,-.5 4,.9 4,-1 4,-.3 4,.4 4,.1 4,1.3 4,-.1 4,-1.1 4,1 4,.5 4,-.6 4,-.4 4,.5 4,1.4 4,.1 4,-2 4,-.8 4,.1 4,-0 4,-1.4 4,-.3 4,1.7 4,.8 4,.2 4,-1.4 4,-.3 4,.9 4,-1.4 4,-.3 4,.2 4,0 4,1.2 4,-.5 4,-.8 4,.6 4,-.5 4,1.1 4,1.3 4,-1.3 4,.7 4,.4 4,-.6 4,-.6 4,-1.8 4,.3 4,1.7 4,-.6 4,-0 4,.9 4,.6 4,-.1 4,-1.9 4,-.8 4,1.1 4,.1 4,-.8 4,-.3 4,.2 4,.4 4,-.7 4,-.2 4,.1 4,1.4 4,.9 4,-.3 4,.6 4,-.6 4,-.5 4,.4 4,-1.1 4,.3 4,1.6 4,.7 4,1.4 4,-.7 4,-.6 4,1.5 4,-.5 4,-1.1 4,0 4,.2 4,1.4 4,-1.3 4,-2.2 4,.9 4,.5 4,-.6 4,-.5 4,-.2 4,1.7 4,0 4,-2.2 4,-.6 4,-.8 4,-.3 4,-.4 4,-.3 4,.5 4,.8 4,.6 4,-.3 4,-.7 4,-0 4,.2 4,.7 4,.1 4,-.6 4,.9 4,.5 4,-.2 4,-.6 4,-.3 4,2.2 4,1.5 4,-1.3 4,.6 4,1 4,-.2 4,-.7 4,-1.9 4,.2 4,1.8 4,-.9 4,.1 4,.7 4,-.1 4,.4 4,-1.3 4,-.5 4,.9 4,-.3 4,-.2 4,-.1 4,-1 4,-.1 4,-.1 4,-.2 4,-0 4,.2 4,1.3 4,.9 4,-.5 4,-1.2" stroke-dasharray="35 2 143 3 46 4 143 3 194 5 61 4"/><path d="M37.4,274.9l4,1.4 4,2 4,-1.4 4,1 4,.5 4,.3 4,-.3 4,-.4 4,-.2 4,1.8 4,-0 4,-1.1 4,.6 4,-.5 4,.9 4,0 4,-.3 4,.6 4,1.7 4,-1.4 4,-.1 4,-1.8 4,-.1 4,-.2 4,-.6 4,-.5 4,1.5 4,0 4,.1 4,-0 4,-1.2 4,.5 4,-.2 4,-1 4,.5 4,.8 4,-.6 4,.7 4,-1.7 4,.4 4,1.1 4,.1 4,0 4,1.1 4,-.3 4,1 4,-1.1 4,-2.1 4,.4 4,.4 4,.1 4,.2 4,.2 4,.2 4,1.7 4,-2 4,-.6 4,-.4 4,.9 4,.1 4,-.1 4,-2 4,1.4 4,-0 4,-.6 4,-.4 4,-.2 4,1.7 4,1.9 4,-.8 4,-1.1 4,1.3 4,-1.2 4,.7 4,-1.3 4,.1 4,1.7 4,1.8 4,-1.2 4,1 4,-.9 4,1 4,.1 4,-.9 4,-.1 4,.9 4,-.2 4,-.5 4,-.6 4,-1.5 4,1.1 4,-.6 4,.1 4,.2 4,.5 4,-.5 4,0 4,-2.5 4,.1 4,-.2 4,-.6 4,-0 4,.4 4,.1 4,.8 4,-.3 4,-1.1 4,1.4 4,-.5 4,.5 4,-0 4,.3 4,.1 4,1 4,-2.3 4,1.1 4,.5 4,1.4 4,.7 4,.3 4,-.4 4,2 4,-1.1 4,-1.3 4,-.4 4,-.2 4,1.5 4,.1 4,-.9 4,0 4,1.3 4,-.9 4,.1 4,-2 4,.9 4,1 4,-.1 4,-1.9 4,.2 4,-.6 4,.3 4,-.4 4,-1.2 4,1.7 4,1.2 4,.4 4,-.8 4,-.4" stroke-dasharray="156 5 161 3 44 4 180 3 69 3"/><path d="M37.4,277.9l4,2 4,-.3 4,.7 4,.2 4,.3 4,1 4,-1.4 4,.7 4,.1 4,1.1 4,.4 4,-1.4 4,.7 4,-.6 4,.9 4,-.1 4,-.4 4,1.8 4,-.4 4,.1 4,-.8 4,-1.1 4,.1 4,-1.6 4,.2 4,-0 4,1 4,.8 4,-1.3 4,0 4,-.3 4,.4 4,-.3 4,-1.5 4,.7 4,.5 4,1 4,-1.2 4,-1.7 4,.8 4,1.1 4,1.2 4,-.6 4,-.5 4,1.9 4,-.2 4,-.2 4,-2.1 4,-.7 4,1.4 4,.3 4,.5 4,-1.3 4,.8 4,1.1 4,-1 4,-.1 4,-1.2 4,.8 4,.6 4,-.9 4,.1 4,-1.3 4,.5 4,-.4 4,-.4 4,1.2 4,.4 4,1.4 4,-.4 4,-.3 4,.5 4,-.6 4,-.3 4,-.7 4,.6 4,1.9 4,-.1 4,.4 4,-.7 4,1.2 4,.5 4,-1.1 4,.5 4,-.6 4,1.2 4,0 4,-1.5 4,-.5 4,-.6 4,.7 4,-.5 4,-.7 4,1.4 4,-.2 4,.5 4,-2 4,-.9 4,-0 4,-.8 4,.2 4,-1.5 4,1 4,1.4 4,-.4 4,-.4 4,-1.1 4,1.2 4,1 4,-.4 4,-0 4,-.7 4,1.9 4,-.1 4,-1.1 4,-.4 4,.1 4,2.7 4,.7 4,-.2 4,.5 4,-.4 4,1.3 4,-1.5 4,-.7 4,-.2 4,.2 4,1.4 4,-.9 4,.3 4,-.2 4,-.5 4,.4 4,-.6 4,.7 4,-.1 4,-.7 4,-.3 4,-1.1 4,.5 4,-1 4,-.6 4,.8 4,.8 4,1.5 4,-.9 4,-.7 4,.1" stroke-dasharray="148 3 153 3 122 3 115 3 174 4"/><path d="M37.4,281.5l4,.8 4,.3 4,-.2 4,1.7 4,.2 4,-.2 4,-.7 4,.7 4,1.3 4,-.2 4,-.4 4,-.5 4,1 4,-.3 4,-.4 4,.2 4,.8 4,1.3 4,-.4 4,-.3 4,-1 4,-.5 4,-.3 4,-.9 4,-0 4,-.4 4,1.1 4,.3 4,-.1 4,-1.5 4,-0 4,.6 4,-0 4,-.6 4,-.6 4,.9 4,.5 4,-1.1 4,-1.5 4,.2 4,1.9 4,.8 4,-.6 4,.1 4,1.4 4,.5 4,-1.8 4,-1.1 4,-.2 4,1.7 4,-.2 4,-.7 4,.2 4,.9 4,.7 4,-1.5 4,-.7 4,.1 4,1.4 4,-.2 4,-.8 4,-.3 4,-.3 4,-.1 4,-.9 4,.2 4,.2 4,1.3 4,1.3 4,-.3 4,-.1 4,-.7 4,.4 4,-.3 4,-.4 4,-.1 4,.9 4,1.5 4,0 4,-.7 4,.1 4,1.3 4,-0 4,-.8 4,-0 4,.9 4,.7 4,-1.9 4,-1.2 4,-.4 4,.8 4,-0 4,-.8 4,.8 4,.7 4,-.1 4,-1.7 4,-.9 4,-.1 4,-.3 4,-.4 4,-.7 4,.7 4,.4 4,-.4 4,-.7 4,.3 4,.8 4,.1 4,.4 4,.2 4,.7 4,-.5 4,-.5 4,-.1 4,-.1 4,1.3 4,.3 4,1.4 4,.4 4,.7 4,-.2 4,-.4 4,-.5 4,-.6 4,.7 4,0 4,.6 4,-.6 4,-.3 4,.7 4,-.4 4,-.8 4,-.5 4,1.1 4,.9 4,-1 4,-1.5 4,-.7 4,.8 4,-.9 4,-.8 4,-.6 4,2.3 4,1.2 4,-.9 4,-.8 4,-.2" stroke-dasharray="43 5 171 5 105 3 159 2 188 3"/><path d="M37.4,283.6l4,1.3 4,.9 4,-.1 4,.1 4,.3 4,.8 4,-.1 4,.2 4,.4 4,.9 4,.2 4,-.7 4,-.8 4,.4 4,.1 4,.6 4,.1 4,.9 4,.5 4,-.2 4,-1.1 4,-1.2 4,-.3 4,.1 4,-.7 4,-.2 4,.8 4,.2 4,-.4 4,-.5 4,-.6 4,.4 4,.1 4,-.3 4,.2 4,-.2 4,.2 4,-.9 4,-.7 4,-.1 4,.9 4,1 4,.3 4,.4 4,.5 4,-.1 4,-.8 4,-.6 4,-.3 4,.7 4,.2 4,-.3 4,.1 4,.6 4,.1 4,-.5 4,-.5 4,.4 4,.5 4,.1 4,-.8 4,-.4 4,-.2 4,-.4 4,-.7 4,-.4 4,1.2 4,1.1 4,.6 4,-.3 4,.1 4,.1 4,0 4,-.7 4,-.6 4,.9 4,1.1 4,.3 4,-.5 4,.1 4,.8 4,.2 4,-.2 4,-.1 4,1 4,.6 4,-1 4,-1.1 4,-1 4,.3 4,-.1 4,-.4 4,-0 4,1.1 4,.6 4,-1.1 4,-1.4 4,-.7 4,.2 4,-.2 4,-.9 4,-.5 4,.9 4,.5 4,-.5 4,-1.1 4,-0 4,1.5 4,.4 4,-.2 4,0 4,.6 4,.4 4,-.9 4,-.8 4,.3 4,1.6 4,1 4,0 4,.3 4,1.3 4,.6 4,-.8 4,-1.3 4,-.2 4,1.3 4,.3 4,-.6 4,-.9 4,.7 4,.4 4,-.8 4,-.9 4,.3 4,1.3 4,.6 4,-1.6 4,-.9 4,-.3 4,.1 4,-1 4,-1.2 4,.8 4,1.5 4,.9 4,-.9 4,-.7 4,.6" stroke-dasharray="49 2 83 2 138 3 51 3 166 4 82 3 105 5"/><path d="M37.4,287.3l4,.4 4,-.1 4,.1 4,1 4,.5 4,-.2 4,-0 4,.9 4,.7 4,.5 4,-.6 4,-.4 4,-.2 4,0 4,.3 4,-0 4,.6 4,1.2 4,.5 4,-.7 4,-1.3 4,-.4 4,0 4,-.5 4,-.9 4,-0 4,.9 4,.2 4,-.9 4,-1.3 4,.6 4,.8 4,-0 4,-.8 4,.2 4,.6 4,-.5 4,-1.6 4,-.5 4,.8 4,1 4,.1 4,.1 4,1 4,.6 4,-.1 4,-1.1 4,-.4 4,-.1 4,.4 4,.2 4,.1 4,0 4,.2 4,.1 4,-.6 4,-.1 4,.3 4,.9 4,.2 4,-1.1 4,-.8 4,0 4,-0 4,-.9 4,-.5 4,1.1 4,1.4 4,.7 4,-.6 4,-.6 4,.5 4,.5 4,-1.2 4,-.4 4,1.1 4,1.3 4,0 4,-1 4,-0 4,1.1 4,.6 4,-.4 4,-.2 4,1.2 4,.6 4,-1.1 4,-1.4 4,-.4 4,-.2 4,.2 4,-.4 4,0 4,.9 4,.4 4,-.8 4,-1.1 4,-.8 4,-.3 4,-.1 4,-0 4,-.8 4,.2 4,.2 4,.2 4,-1 4,-.4 4,1.2 4,1.1 4,.4 4,-.8 4,.2 4,.7 4,-.1 4,-1.3 4,-.3 4,1.5 4,1.5 4,.2 4,.1 4,.9 4,.9 4,-.6 4,-1.5 4,.3 4,1.1 4,.5 4,-1.1 4,-.7 4,.7 4,0 4,-.6 4,-.7 4,.5 4,1.2 4,.1 4,-1 4,-1 4,-.7 4,-.4 4,-.3 4,-.4 4,.3 4,.9 4,.8 4,-.5 4,-.5 4,-0" stroke-dasharray="189 3 88 5 177 2 146 2"/><path d="M37.4,289.8l4,.9 4,-.3 4,0 4,1 4,.1 4,-.1 4,.9 4,.9 4,.2 4,0 4,.3 4,-.7 4,-1 4,.7 4,.4 4,-.1 4,.5 4,1.6 4,.5 4,-1.5 4,-1 4,.3 4,-.4 4,-.9 4,-.9 4,.4 4,1.1 4,-0 4,-2.1 4,-.6 4,1.5 4,.4 4,-.9 4,-.4 4,.8 4,.3 4,-1 4,-.8 4,-.6 4,-.1 4,1.3 4,1.2 4,-0 4,-.4 4,.8 4,.7 4,-.9 4,-1.4 4,.6 4,.6 4,.4 4,-.4 4,-.6 4,.6 4,.6 4,-1 4,-.3 4,1.1 4,1 4,-.6 4,-.9 4,-.2 4,.2 4,-1.4 4,-.8 4,.9 4,.7 4,.6 4,.5 4,.1 4,-.1 4,0 4,-.2 4,-.5 4,-.4 4,1.1 4,1 4,-.4 4,-.7 4,-.1 4,.8 4,1.3 4,-.5 4,-.4 4,1 4,1.3 4,-.7 4,-2.6 4,-.7 4,1 4,-.2 4,-.9 4,.6 4,.9 4,.1 4,-.7 4,-.8 4,-.9 4,-.1 4,-0 4,-.2 4,-.6 4,-.1 4,-0 4,-.4 4,-.5 4,.2 4,.7 4,1.1 4,.4 4,-.1 4,-0 4,.2 4,-.2 4,-1.6 4,.3 4,2.1 4,1.2 4,-.7 4,.4 4,1.6 4,.3 4,-1.2 4,-.5 4,.6 4,.7 4,.2 4,-1 4,-.3 4,-.1 4,.2 4,-.5 4,-.2 4,.5 4,.9 4,-.1 4,-.3 4,-1.4 4,-1.4 4,.3 4,.1 4,-1.1 4,-.3 4,1.5 4,1.5 4,-1.1 4,-1.1 4,.5" stroke-dasharray="139 2 173 2 162 2 121 3"/><path d="M37.4,293.7l4,-.2 4,-.1 4,-.2 4,1.6 4,-.9 4,1.2 4,-.5 4,2.1 4,-.4 4,1.6 4,-1.6 4,-.7 4,-.1 4,.6 4,.5 4,-1.4 4,2.2 4,.4 4,1.3 4,-2.8 4,.8 4,-1.3 4,.8 4,-1.5 4,.1 4,-.1 4,.1 4,.1 4,-1.7 4,.3 4,-.7 4,2.4 4,-1.3 4,.4 4,-1 4,1.5 4,-1.5 4,-1.5 4,-0 4,.7 4,1.3 4,-.7 4,1.4 4,-.4 4,1.6 4,-1.2 4,.2 4,-1.4 4,.8 4,.9 4,.1 4,-.9 4,-.5 4,1.4 4,-.7 4,-.6 4,-.3 4,2.1 4,0 4,-.2 4,-1 4,.2 4,-.6 4,-.7 4,-.6 4,.1 4,.8 4,1.3 4,.1 4,-.8 4,-.2 4,1 4,-.2 4,-.6 4,-.4 4,1.6 4,.5 4,-.8 4,-.4 4,0 4,1.1 4,-.5 4,1.1 4,-.4 4,1.3 4,-.1 4,.1 4,-2.3 4,-.5 4,.6 4,.1 4,-.5 4,-.8 4,2.2 4,-.9 4,-.1 4,-2.3 4,1.2 4,-1 4,.8 4,-1.2 4,-.2 4,-.1 4,-.4 4,.6 4,-2.2 4,1.5 4,-0 4,2.7 4,-2 4,1.5 4,-.7 4,1.5 4,-1.9 4,-.5 4,.6 4,1.2 4,1.3 4,-.6 4,1.6 4,-1 4,1.7 4,-1.3 4,.6 4,-1.1 4,1.9 4,.1 4,-.8 4,-1 4,-.1 4,1.1 4,-1.6 4,.5 4,-0 4,2.1 4,-1.3 4,-.3 4,-1.5 4,-.4 4,-.6 4,-.3 4,-.4 4,-.3 4,1.8 4,-.1 4,-.3 4,-1.4 4,1.1" stroke-dasharray="136 2 151 3 87 4 157 4 177 3"/><path d="M37.4,296.9l4,-.9 4,-.1 4,.2 4,1.5 4,-.8 4,.9 4,-.1 4,1.8 4,.9 4,.5 4,-2.3 4,-.2 4,.6 4,.5 4,-.6 4,.6 4,-.1 4,1.8 4,.6 4,-1.5 4,-.8 4,-.1 4,.2 4,-1 4,.5 4,-.5 4,-.2 4,-.8 4,-.2 4,-1.1 4,1.5 4,-0 4,-.2 4,-1.1 4,2 4,-1 4,-.2 4,-2.3 4,-.2 4,.6 4,2 4,-.4 4,-.2 4,.7 4,.9 4,-.2 4,-.2 4,-.5 4,-.3 4,1.2 4,.2 4,-.8 4,-.2 4,.7 4,-1.4 4,.6 4,.4 4,1.3 4,-.1 4,.4 4,-1.8 4,.5 4,-.4 4,-.2 4,-2.5 4,1.4 4,1 4,1.4 4,-.6 4,-.2 4,-1.1 4,1.6 4,-0 4,-.5 4,-.5 4,1.1 4,-.2 4,.2 4,-.4 4,-.3 4,.5 4,.4 4,.7 4,0 4,2.2 4,-1 4,-1.1 4,-1.6 4,.9 4,-.8 4,.9 4,-1.7 4,.4 4,.8 4,1.2 4,-2 4,-.9 4,-.6 4,1.1 4,-.5 4,.4 4,-1.4 4,-.3 4,.3 4,-.8 4,-.8 4,1 4,1.1 4,0 4,.8 4,.2 4,.3 4,-.4 4,-.6 4,-1.7 4,2 4,1.3 4,.6 4,-1 4,1 4,.5 4,1.3 4,-.6 4,-.5 4,-.5 4,2.3 4,-.4 4,-.6 4,-1.4 4,0 4,-.3 4,.5 4,-.3 4,.4 4,.7 4,.1 4,-1.2 4,-.7 4,.2 4,-1.4 4,-.6 4,-.6 4,1.3 4,.3 4,.8 4,-2.3 4,-.1 4,1" stroke-dasharray="148 2 126 4 81 3 145 3 76 2 50 5"/><path d="M37.4,300.2l4,-.7 4,-1.1 4,.7 4,1.1 4,-.2 4,-.1 4,1.4 4,1.1 4,.9 4,-.2 4,-1.3 4,.1 4,.1 4,-.6 4,.4 4,1.1 4,.2 4,.4 4,.6 4,-1.2 4,-.5 4,.1 4,.1 4,-.7 4,-.1 4,-.6 4,-.1 4,-0 4,-1.6 4,-.9 4,1.4 4,1.1 4,-.7 4,-.4 4,.2 4,.2 4,-.7 4,-1.5 4,-.8 4,1.6 4,1.2 4,-.9 4,.1 4,1.5 4,.6 4,-.9 4,-.7 4,.1 4,1.3 4,.4 4,-1.2 4,-.3 4,1.2 4,-.7 4,-1 4,.3 4,1 4,.9 4,.3 4,-.4 4,-.3 4,-.2 4,-1.1 4,-.7 4,.3 4,-.1 4,0 4,1.5 4,.4 4,-1.3 4,-.1 4,.6 4,.4 4,-.4 4,-.1 4,.4 4,1.3 4,-.8 4,-1.6 4,-.2 4,2 4,.5 4,-.6 4,.8 4,1.2 4,.5 4,-1.5 4,-1.8 4,-.1 4,1.5 4,-.9 4,-1.4 4,1 4,1.1 4,-.9 4,-.9 4,-.8 4,.6 4,.6 4,-1 4,-.7 4,.6 4,-.2 4,-1.4 4,-.6 4,.3 4,.2 4,.6 4,1.2 4,.2 4,0 4,.3 4,-.5 4,-.1 4,-.3 4,-.3 4,1.1 4,1.7 4,-0 4,-.7 4,.9 4,1 4,-.1 4,-.7 4,.4 4,1.3 4,.7 4,-1.8 4,-1.6 4,.8 4,.9 4,-1.6 4,-.4 4,1.5 4,1.4 4,-.6 4,-1.7 4,-1.2 4,.9 4,-.2 4,-2.3 4,-.3 4,2 4,.3 4,-1.3 4,-.5 4,.3 4,.5" stroke-dasharray="125 5 110 2 86 2 100 5 76 4 182 4"/><path d="M37.4,303.1l4,-.7 4,-.4 4,-.5 4,1 4,1 4,-1.3 4,2.7 4,0 4,1.1 4,1 4,-3.1 4,1.6 4,-.5 4,-.2 4,.9 4,-.7 4,1.2 4,1.2 4,-1 4,-.7 4,.2 4,-.6 4,1.1 4,-1.3 4,-.5 4,.1 4,-.1 4,-1 4,-1.9 4,1 4,-.2 4,1.3 4,-.3 4,-1.3 4,2.3 4,-1.9 4,-.2 4,-.9 4,-1.2 4,2 4,.3 4,-.7 4,1.2 4,0 4,.3 4,.6 4,-1.6 4,1 4,1.1 4,.1 4,0 4,-1.4 4,.7 4,-.7 4,.7 4,-.9 4,.5 4,2.6 4,-1.3 4,1.2 4,-2.1 4,-.5 4,1.6 4,-2.4 4,.1 4,.4 4,.4 4,1 4,-.5 4,-1.2 4,1.3 4,-.2 4,-.1 4,.5 4,-.5 4,1.5 4,-.5 4,-.9 4,-.9 4,.4 4,1.4 4,-.7 4,1.8 4,-.8 4,1.7 4,.5 4,-2.8 4,.7 4,-1.1 4,.3 4,.6 4,-1.5 4,.3 4,1.4 4,-1.4 4,-.3 4,-.6 4,-.5 4,2.2 4,-1.5 4,-.3 4,-.6 4,-.4 4,.1 4,-1.7 4,.3 4,-.1 4,2.2 4,-0 4,-.4 4,1.7 4,-1.3 4,.8 4,-.8 4,-1.2 4,1.9 4,.6 4,-.1 4,1 4,-1 4,1.3 4,1.4 4,-2 4,1.7 4,.2 4,.4 4,.5 4,-2.2 4,.3 4,-.7 4,.5 4,-.8 4,.1 4,1.5 4,-.3 4,.9 4,-2.4 4,-.6 4,.9 4,-1.6 4,-.2 4,-.3 4,-.2 4,1.5 4,-.6 4,-2 4,1.4 4,-.6" stroke-dasharray="172 2 52 5 180 4 190 5"/><path d="M37.4,305.4l4,-.4 4,-.8 4,1 4,-.4 4,.2 4,1.7 4,-0 4,2 4,-.1 4,.3 4,-1.6 4,.8 4,.3 4,-1 4,.3 4,.8 4,1.1 4,-.9 4,.7 4,-1.5 4,.7 4,.6 4,-.3 4,-1.2 4,-.2 4,1.1 4,-1.7 4,-1.2 4,-.9 4,.6 4,.4 4,.3 4,.2 4,-.8 4,1.3 4,-.6 4,-1.1 4,-2.3 4,2 4,.3 4,-.4 4,.2 4,-0 4,1.5 4,-.4 4,.3 4,-1.7 4,1.7 4,1.7 4,-.1 4,-1.7 4,.1 4,1.1 4,-1.1 4,-0 4,-.9 4,1.5 4,1.2 4,1.2 4,-1.7 4,-1.2 4,1.2 4,-.4 4,-.9 4,-1.7 4,2 4,0 4,.5 4,-.5 4,-1.5 4,1.2 4,.8 4,.8 4,-2.1 4,1.4 4,.9 4,-.4 4,-1.5 4,-.6 4,.5 4,.5 4,1.9 4,-1.3 4,.9 4,.9 4,.8 4,-1.9 4,-1.5 4,1.2 4,-.3 4,.5 4,-1.1 4,.1 4,-.4 4,1.2 4,-1.2 4,-1.7 4,1.1 4,1.1 4,.2 4,-2.3 4,.8 4,-1.2 4,.1 4,-1 4,-.6 4,.6 4,1.2 4,1.8 4,-1.3 4,.5 4,.2 4,.4 4,-1.4 4,.5 4,.8 4,-.2 4,1.4 4,-.4 4,.3 4,-.5 4,1.8 4,-.4 4,.1 4,1.3 4,.6 4,-.3 4,-1.5 4,.3 4,-1.4 4,.5 4,0 4,-.2 4,.8 4,.6 4,.2 4,-2.4 4,.6 4,-1 4,-.3 4,-.8 4,.5 4,-0 4,-.7 4,.5 4,-1.6 4,.6 4,.2" stroke-dasharray="109 5 152 2 197 2 134 2"/><path d="M37.4,308.3l4,.4 4,-1.8 4,.1 4,.7 4,.5 4,1.3 4,-.5 4,2.5 4,0 4,.1 4,-1.2 4,-.1 4,.7 4,-.7 4,.9 4,-.5 4,1.7 4,-.5 4,-.5 4,.1 4,-.6 4,1.1 4,-1 4,.6 4,-.6 4,-.4 4,-1.1 4,-1 4,-.1 4,-.8 4,.9 4,-.2 4,1.5 4,-.8 4,-.3 4,-.5 4,-.8 4,.2 4,-1.4 4,1.3 4,-.1 4,.9 4,-.4 4,-.2 4,1.1 4,-.6 4,.8 4,-.3 4,1.5 4,.3 4,-.6 4,-.5 4,-.6 4,.8 4,-1.2 4,1 4,.4 4,1.2 4,.3 4,-.9 4,.3 4,-1 4,.2 4,-1.5 4,.4 4,.6 4,.3 4,-.3 4,-1.1 4,1.3 4,-.5 4,.7 4,-1 4,1.3 4,.7 4,-.6 4,-.3 4,-1.4 4,1.2 4,-.9 4,.4 4,.1 4,1.4 4,1.3 4,-.8 4,.2 4,-1.3 4,.7 4,-.6 4,-.3 4,.2 4,-.5 4,.9 4,-1.2 4,.2 4,-1.2 4,.3 4,.5 4,.2 4,.3 4,-1.7 4,1 4,-1.2 4,-.3 4,-1.9 4,.4 4,1.5 4,.2 4,.5 4,-.8 4,1.8 4,-.2 4,-.5 4,-.8 4,.2 4,2.3 4,-.5 4,.2 4,-1.1 4,1.6 4,.6 4,-.6 4,.2 4,.8 4,2.4 4,-1.2 4,-.3 4,-1.4 4,.6 4,-.3 4,-1.3 4,.4 4,.1 4,2.1 4,-1.2 4,-.4 4,-.7 4,0 4,-.1 4,-1.5 4,.3 4,-.8 4,1 4,-.7 4,-.8 4,-.9 4,.2 4,1.7" stroke-dasharray="150 2 102 4 143 5 199 5"/><path d="M37.4,311.3l4,-.7 4,-1.2 4,.4 4,1.1 4,-.4 4,.5 4,1.3 4,2.4 4,-.6 4,-.8 4,-.6 4,1 4,.1 4,-1 4,.5 4,.7 4,1.3 4,-1.3 4,-.3 4,-.1 4,.9 4,-.1 4,-.2 4,-.2 4,-.3 4,.1 4,-1.4 4,-.9 4,-1.8 4,1.2 4,.2 4,.9 4,-1.1 4,.2 4,.5 4,.2 4,-1.4 4,-1.9 4,1.3 4,1 4,.4 4,-1.9 4,.6 4,1.1 4,.7 4,-1.4 4,-0 4,2.3 4,1.1 4,-.4 4,-1.9 4,.7 4,-.1 4,.1 4,-1 4,.3 4,1.2 4,1.2 4,.3 4,-1.2 4,-.2 4,-.4 4,.7 4,-.9 4,-.2 4,-.7 4,1.5 4,-0 4,-1.1 4,-.8 4,.5 4,1.8 4,-.4 4,-.4 4,-.1 4,1.5 4,-.7 4,-1.4 4,-1.4 4,1.1 4,1.5 4,-.5 4,.2 4,.7 4,1.7 4,-.9 4,-.9 4,-.8 4,.9 4,-.3 4,-.4 4,.1 4,-.2 4,-.1 4,-1 4,.4 4,-.9 4,1 4,.1 4,.5 4,-.6 4,-1 4,-.8 4,-.3 4,-.3 4,-.9 4,.9 4,.8 4,1.2 4,-.7 4,.2 4,.2 4,.3 4,-.7 4,-.1 4,1.2 4,.6 4,-.1 4,-.8 4,1 4,.4 4,.3 4,-.2 4,1.5 4,1.3 4,-.1 4,-1.1 4,-.9 4,.7 4,-.9 4,-.4 4,-.9 4,1.5 4,.4 4,.1 4,-1 4,-.3 4,.1 4,-1.1 4,.2 4,-1.1 4,.5 4,-.6 4,.2 4,-1.4 4,-.5 4,.3 4,1.2" stroke-dasharray="127 3 128 3 54 2 179 4 181 3"/><path d="M37.4,314.9l4,-1.9 4,-.6 4,.1 4,1 4,.7 4,.2 4,.6 4,1.8 4,-.5 4,.9 4,-1.7 4,.9 4,-.1 4,.4 4,-.5 4,1 4,-.6 4,1.2 4,-1.6 4,.3 4,.7 4,.3 4,-.1 4,-.5 4,-.6 4,.8 4,-2 4,-1.5 4,-.3 4,-.1 4,1.9 4,-1 4,-.3 4,.3 4,.7 4,-1 4,-.4 4,-2.2 4,2.3 4,-.3 4,.6 4,-1.3 4,-0 4,.6 4,1.2 4,-.9 4,1 4,0 4,1.6 4,.3 4,-1.3 4,-.1 4,-.3 4,-.2 4,.1 4,.1 4,1 4,1.4 4,-1.2 4,.5 4,-.7 4,.8 4,-.7 4,-1 4,-.2 4,1.4 4,-.9 4,.3 4,-2.3 4,1 4,1 4,.3 4,-.4 4,.4 4,.4 4,1.2 4,-1.4 4,-1.4 4,-.1 4,.1 4,1.4 4,-.3 4,.2 4,.8 4,.8 4,-.5 4,-.1 4,-1.7 4,1.7 4,-.5 4,.3 4,-.9 4,-.1 4,-.4 4,-.1 4,-1.8 4,1.9 4,-.2 4,.6 4,-.2 4,-1 4,.5 4,-.7 4,-1.6 4,-.6 4,.2 4,.9 4,1.3 4,-1.3 4,.8 4,-.1 4,1 4,-.3 4,-.8 4,0 4,2.4 4,-.4 4,.4 4,-1.8 4,.9 4,.9 4,.4 4,0 4,1.2 4,.3 4,1.7 4,-1.7 4,-.8 4,-.2 4,-.7 4,.3 4,-.2 4,.1 4,1.1 4,-.4 4,-1.1 4,.3 4,-1 4,1 4,-1.5 4,-0 4,-.4 4,.7 4,-1.1 4,-.9 4,-1.8 4,2 4,0" stroke-dasharray="142 5 125 3 32 2 111 3 93 4 67 5 169 4"/><path d="M37.4,318.0l4,-2 4,-.3 4,-0 4,1.5 4,-.4 4,1 4,.1 4,2.3 4,-.3 4,.1 4,-1.7 4,1.1 4,.4 4,.8 4,-.7 4,0 4,.4 4,.1 4,-.5 4,-.9 4,1.1 4,.3 4,.9 4,-1.1 4,.2 4,-1.4 4,-.1 4,-2.1 4,.1 4,-.2 4,.9 4,-.4 4,.2 4,-.2 4,.2 4,-.6 4,-1.1 4,0 4,.4 4,.8 4,-.8 4,.1 4,-.5 4,1.3 4,-1.1 4,.6 4,.3 4,2.2 4,.2 4,.2 4,-1.4 4,.3 4,-.2 4,-0 4,-.4 4,.1 4,1.4 4,.7 4,.2 4,-1.5 4,.6 4,-.5 4,.7 4,-1.1 4,.2 4,-.5 4,1.1 4,-1.1 4,-.6 4,-.5 4,.8 4,.3 4,.7 4,.2 4,.3 4,0 4,-.9 4,-.6 4,-.9 4,.9 4,-.1 4,.9 4,-.2 4,1.6 4,-.8 4,.4 4,-1.1 4,.7 4,.2 4,0 4,-.6 4,-.3 4,.1 4,-.7 4,-.7 4,-.6 4,1.1 4,.5 4,.8 4,-1.5 4,.4 4,-.6 4,.2 4,-2 4,-.3 4,-.3 4,2 4,-.1 4,-.2 4,-.3 4,.5 4,.7 4,-.5 4,-.1 4,.3 4,1.6 4,-.3 4,-.2 4,-1 4,.9 4,.2 4,.9 4,-.3 4,1.6 4,.7 4,.8 4,-1.1 4,-.7 4,-.3 4,-.2 4,-.5 4,-.2 4,.8 4,.2 4,.1 4,-1.5 4,.1 4,-.3 4,.7 4,-1.5 4,.5 4,-.7 4,.7 4,-1.9 4,-1 4,-.5 4,1.3 4,.6" stroke-dasharray="97 2 54 4 177 3 134 5 77 2 105 2"/><path d="M37.4,321.5l4,-2.3 4,-.1 4,-.2 4,1.7 4,-.8 4,.9 4,.4 4,2.3 4,-.9 4,.1 4,-.7 4,1.5 4,-.3 4,.7 4,-.9 4,1.1 4,-.9 4,.5 4,-1.4 4,.7 4,-.1 4,1.5 4,-.3 4,-.1 4,-1.3 4,.7 4,-1.8 4,-.7 4,-1.4 4,1.2 4,-0 4,-.1 4,-.6 4,1 4,-.6 4,-.4 4,-1.1 4,.7 4,.2 4,.3 4,-.9 4,-0 4,0 4,.4 4,0 4,-0 4,.9 4,1.3 4,1.1 4,-.7 4,-.4 4,-.5 4,.8 4,-.7 4,-.3 4,0 4,2 4,.2 4,-.3 4,-1.4 4,1.1 4,.1 4,.4 4,-1.7 4,.9 4,-.1 4,.4 4,-1.8 4,-.4 4,-.6 4,1.7 4,-.1 4,.5 4,-.5 4,1.3 4,-.5 4,-.2 4,-2.2 4,.6 4,.4 4,1.2 4,-1.3 4,.7 4,.5 4,1.6 4,-1.7 4,-.3 4,.2 4,1.4 4,-.5 4,-.2 4,-.9 4,.3 4,-.7 4,-.4 4,-.8 4,.8 4,.7 4,.8 4,-.4 4,-.8 4,-.6 4,-.4 4,-.4 4,-1.4 4,.6 4,.7 4,.8 4,-1.1 4,.2 4,.3 4,1.1 4,-1.1 4,.8 4,.3 4,1.6 4,-.8 4,-.4 4,-.7 4,1.4 4,-.9 4,1 4,.3 4,1.8 4,.3 4,.9 4,-1.6 4,-0 4,-.7 4,.6 4,-1.1 4,.2 4,-.3 4,1.7 4,-1.1 4,-.9 4,-1.4 4,1.7 4,-.3 4,-0 4,-1.8 4,1 4,-.6 4,-.5 4,-2.1 4,-0 4,.7 4,1.1" stroke-dasharray="159 3 80 4 141 4 32 4 117 4 89 3"/><path d="M37.4,324.6l4,-2.8 4,.3 4,1.1 4,-.1 4,-.5 4,1.3 4,.7 4,1.1 4,-.6 4,.6 4,-.8 4,.5 4,1.8 4,-.6 4,-.9 4,.7 4,.9 4,-1.4 4,-1 4,.7 4,1.5 4,-.9 4,1.1 4,-.7 4,-.4 4,-.5 4,-.7 4,-1.4 4,-1.2 4,.8 4,1.6 4,-1.8 4,-.3 4,1.1 4,-.4 4,-.6 4,-1.3 4,1.2 4,-.1 4,.2 4,.1 4,-.9 4,-.7 4,1.3 4,-.3 4,.1 4,.3 4,2.6 4,.9 4,-1.9 4,.3 4,.2 4,-.2 4,-.4 4,0 4,.4 4,.8 4,.5 4,.5 4,-2.1 4,.9 4,.9 4,-.4 4,-.7 4,.5 4,.6 4,-1 4,-1.7 4,.1 4,-.1 4,-.1 4,1.9 4,-.8 4,.4 4,.4 4,.6 4,-1.4 4,-1.5 4,.8 4,1 4,-1.1 4,.5 4,.5 4,.4 4,.3 4,-.9 4,.6 4,-.6 4,1.4 4,.6 4,-1.3 4,-.9 4,.8 4,-1 4,-.9 4,-1 4,2 4,.7 4,-.2 4,0 4,-.4 4,-.9 4,.1 4,-.8 4,-1 4,.3 4,1 4,.7 4,-2.3 4,1.3 4,.3 4,.4 4,-.6 4,1.1 4,.8 4,.5 4,-.6 4,.3 4,-1.5 4,.4 4,1.5 4,-.4 4,.5 4,1.2 4,1.9 4,-.8 4,-1.1 4,-.2 4,.5 4,-.9 4,.6 4,-.8 4,.4 4,-.2 4,.2 4,-1 4,-1.3 4,1.5 4,.6 4,-1.6 4,-.1 4,.2 4,-.3 4,-1.4 4,-1.6 4,.7 4,-.7 4,1.4" stroke-dasharray="138 2 107 4 94 3 121 3 41 5 197 2"/><path d="M37.4,325.8l4,.9 4,-.8 4,.3 4,-1.3 4,1.3 4,.6 4,2.2 4,-.7 4,-.6 4,-.4 4,1.5 4,1.5 4,-.5 4,-.8 4,-.3 4,1.7 4,-.4 4,-.5 4,-2.7 4,1.6 4,1.1 4,2.2 4,-1.8 4,-.6 4,-.7 4,1.4 4,-1.8 4,-1 4,-1.8 4,1.4 4,.4 4,-.2 4,-.6 4,-.7 4,.1 4,-.5 4,.5 4,-.1 4,1 4,-1.1 4,.1 4,-1 4,1 4,-1.1 4,.9 4,-.8 4,2.5 4,.7 4,1.1 4,-1.6 4,.3 4,-.2 4,.5 4,-.3 4,-.4 4,.8 4,.7 4,.4 4,-.8 4,-.1 4,-.2 4,1.2 4,-1 4,1 4,-.8 4,1.2 4,-1.8 4,-.7 4,-1.7 4,1.8 4,.1 4,.4 4,-1.2 4,1.8 4,.9 4,-.4 4,-2.1 4,-.9 4,.8 4,1 4,.6 4,-1.7 4,.4 4,.5 4,1.7 4,-1.8 4,.3 4,-.9 4,2.6 4,-.2 4,.1 4,-2 4,-.1 4,-.7 4,.4 4,-.2 4,.3 4,.1 4,.6 4,.2 4,.1 4,-.7 4,-1.9 4,-.1 4,-.1 4,1.7 4,-.9 4,-.4 4,-1.6 4,1.9 4,.7 4,.5 4,-2 4,1.3 4,1.2 4,2 4,-1.6 4,-1.6 4,-.7 4,1.6 4,1.3 4,-.2 4,-.4 4,.9 4,2.2 4,0 4,-.8 4,-1.6 4,.8 4,-.3 4,1.2 4,-1.4 4,.4 4,-.8 4,.4 4,-1.3 4,.7 4,-.5 4,.6 4,-.7 4,.4 4,-.6 4,-.4 4,-1.7 4,-1.5 4,.6 4,.5 4,1" stroke-dasharray="111 5 94 3 146 5 134 2 178 2"/><path d="M37.4,329.7l4,-1.9 4,.4 4,1 4,.5 4,-.8 4,-.2 4,2 4,.7 4,-.5 4,-.6 4,.3 4,1.9 4,.5 4,-.6 4,-.5 4,0 4,.6 4,-.8 4,-1.2 4,.8 4,1.1 4,1 4,-.5 4,-.8 4,-.1 4,-.2 4,-.9 4,-1.3 4,-.8 4,1.1 4,.2 4,-.8 4,-.6 4,-.3 4,.4 4,-.3 4,-.7 4,.7 4,.5 4,.3 4,-.8 4,-1.4 4,.6 4,-.2 4,.3 4,.6 4,.6 4,1.8 4,.4 4,-.6 4,-.1 4,-.4 4,.5 4,.1 4,-.5 4,.7 4,.8 4,-.1 4,-.3 4,-.8 4,1 4,.6 4,-.3 4,.1 4,-.3 4,.3 4,-.7 4,-1.5 4,-.5 4,.2 4,.7 4,.4 4,-.3 4,.9 4,.3 4,-.7 4,-.8 4,-.7 4,.4 4,.8 4,-.4 4,-.2 4,-.1 4,1 4,-.4 4,-.5 4,.3 4,.8 4,1.2 4,-0 4,-1.2 4,-.1 4,-.4 4,-.6 4,-.9 4,-.1 4,1.1 4,1 4,-.2 4,-.6 4,-.5 4,.4 4,-.6 4,-1.1 4,0 4,.6 4,.2 4,-.4 4,-.9 4,.3 4,.7 4,.3 4,.3 4,.3 4,1 4,.5 4,-.8 4,-.6 4,-.3 4,.4 4,.8 4,-.2 4,1 4,1.1 4,.5 4,0 4,-.9 4,.2 4,.2 4,-.1 4,-.3 4,-.2 4,.2 4,-.3 4,-1 4,-.5 4,-.1 4,.9 4,.2 4,-.9 4,0 4,.2 4,-.8 4,-1.5 4,-1.4 4,.4 4,1 4,-.2" stroke-dasharray="42 2 151 2 70 2 84 4 188 4 41 2 193 4"/><path d="M37.4,332.7l4,-1.8 4,.5 4,.5 4,1.3 4,-1.4 4,.4 4,1.3 4,0 4,-.1 4,-.3 4,1.4 4,.2 4,1.2 4,-.4 4,.2 4,-.5 4,-.3 4,-.6 4,-1.1 4,1.6 4,1 4,.3 4,-1.2 4,.6 4,.2 4,-1 4,-1 4,-1.7 4,.7 4,.4 4,.4 4,-1.7 4,-1 4,.6 4,.4 4,-.2 4,-1 4,1.5 4,.2 4,-.5 4,-.4 4,-1 4,.1 4,-.6 4,1 4,-.3 4,2.1 4,1 4,.1 4,-.8 4,-0 4,1.3 4,-.8 4,-.1 4,-.1 4,.9 4,.7 4,-.1 4,-.6 4,-1.2 4,1.5 4,.7 4,.3 4,-1.1 4,.8 4,-.1 4,-1 4,-1.2 4,-.9 4,.7 4,-.3 4,1.3 4,-.4 4,.4 4,.3 4,-.6 4,-.8 4,-.7 4,1.7 4,-.6 4,-.3 4,-.6 4,.9 4,.2 4,-.3 4,-.1 4,-.8 4,2.3 4,.8 4,.2 4,-2.1 4,.2 4,.4 4,-1.4 4,-.2 4,-.6 4,1.7 4,0 4,.5 4,-.4 4,-.7 4,.2 4,-.8 4,-.3 4,-.7 4,1.7 4,-.4 4,-1.2 4,-.4 4,.6 4,.6 4,-.6 4,1 4,-0 4,1.8 4,.4 4,-.8 4,-1.6 4,-.3 4,1.9 4,-.2 4,.1 4,.2 4,1.9 4,.2 4,-.1 4,-.2 4,-1.1 4,1 4,.1 4,0 4,-1.1 4,.8 4,-.6 4,-1.2 4,-.8 4,.4 4,1.3 4,-.9 4,.5 4,-.5 4,0 4,-.7 4,-1.5 4,-1.5 4,-.4 4,2.3 4,-.1" stroke-dasharray="36 2 92 4 138 4 76 3 69 4 157 4 130 2"/><path d="M37.4,335.0l4,-.6 4,1.2 4,-.5 4,.4 4,.3 4,-.1 4,.2 4,.7 4,.3 4,-1.4 4,1.5 4,1.6 4,.8 4,-1.6 4,.5 4,.6 4,-.8 4,-1.2 4,0 4,.6 4,.9 4,.9 4,-1 4,-.2 4,.4 4,.3 4,-2.8 4,-.7 4,1.3 4,.4 4,-1.9 4,-.6 4,.6 4,-1.1 4,.2 4,-.3 4,.9 4,-.3 4,1.3 4,-.6 4,-1.5 4,-.2 4,.4 4,-.4 4,-.4 4,1.6 4,.5 4,1.3 4,.3 4,.2 4,-1.4 4,.8 4,1.3 4,-.6 4,-.7 4,.6 4,1.7 4,-1.5 4,-.8 4,.2 4,1.6 4,-.2 4,.5 4,-.2 4,-.1 4,.6 4,-1.2 4,-2.1 4,-.9 4,2.1 4,-.2 4,-.5 4,.1 4,1.4 4,-.7 4,-1 4,.3 4,-.4 4,0 4,.7 4,.3 4,-1.6 4,.5 4,.2 4,-.1 4,-.8 4,1.2 4,1 4,.5 4,.3 4,-.6 4,-.9 4,-.6 4,1 4,-1.8 4,-.4 4,1.7 4,1.4 4,-1.5 4,-.9 4,.9 4,.2 4,-1.1 4,-.5 4,.7 4,-0 4,.5 4,-1.5 4,-.8 4,-.2 4,1.8 4,-.4 4,-.4 4,1.7 4,1.2 4,-.3 4,-1.2 4,.7 4,-.8 4,.2 4,.3 4,1 4,-.4 4,1.1 4,1.4 4,-.9 4,-.6 4,.5 4,1.1 4,-.8 4,.1 4,-.7 4,.1 4,-.5 4,-.3 4,-1.3 4,-.7 4,2.3 4,.4 4,-1.1 4,-1.4 4,1.9 4,-1.3 4,-2.2 4,-.8 4,.9 4,-.1 4,0" stroke-dasharray="191 2 150 2 98 3 49 3 159 2"/><path d="M37.4,338.4l4,-1.3 4,1.7 4,-.3 4,.1 4,-1.2 4,1.5 4,.5 4,.2 4,-1.6 4,.8 4,1.7 4,1.8 4,-1 4,.2 4,-.2 4,.7 4,-1.1 4,-.9 4,-.8 4,1.2 4,1.1 4,.5 4,-1 4,-.1 4,-.1 4,.2 4,-.9 4,-1.1 4,-.1 4,.8 4,-.5 4,-1.6 4,-.5 4,.1 4,-.1 4,-.2 4,.6 4,.7 4,.2 4,-1.1 4,-.1 4,-.4 4,.1 4,-.8 4,.3 4,.6 4,2 4,-.1 4,.6 4,-.9 4,.7 4,.6 4,.8 4,-1.4 4,.6 4,.4 4,1.3 4,-1.3 4,-.9 4,-.7 4,2.7 4,.1 4,0 4,-.9 4,1.6 4,-.9 4,-.6 4,-2.6 4,.5 4,-.2 4,1.6 4,-1.2 4,1.1 4,-.9 4,.8 4,-1 4,.3 4,-.9 4,1.2 4,-.5 4,.9 4,-1.9 4,1 4,-.9 4,.7 4,-1.4 4,2.1 4,.7 4,1.1 4,-1.5 4,.3 4,-.5 4,.6 4,-2.4 4,.2 4,.4 4,1.8 4,-1 4,-0 4,-.8 4,1.3 4,-.7 4,.2 4,-1.6 4,1.2 4,.1 4,.5 4,-1.7 4,-.9 4,-.4 4,1.7 4,.1 4,.3 4,-.1 4,2 4,.4 4,-.9 4,-1.6 4,.7 4,.3 4,.6 4,-.5 4,.9 4,.9 4,.3 4,-.5 4,0 4,.6 4,0 4,.3 4,-.2 4,.3 4,-.6 4,-1 4,-1.1 4,-.1 4,.3 4,.9 4,-.2 4,-.4 4,-.3 4,.5 4,-1.2 4,-1.7 4,-1.4 4,1.6 4,.4 4,-.1" stroke-dasharray="142 3 98 3 110 3 106 4 86 5 38 3 121 4"/><path d="M37.4,341.1l4,-1.1 4,.4 4,1.9 4,-.2 4,-1.8 4,.5 4,1.2 4,-.1 4,-.6 4,-.1 4,1.3 4,1.9 4,.6 4,-1.5 4,-.5 4,1.2 4,-.2 4,-1.7 4,-.3 4,1.1 4,1.3 4,.5 4,-1.3 4,-.9 4,1.3 4,-.3 4,-1.4 4,-.6 4,.6 4,.2 4,-.6 4,-1.4 4,-1.6 4,.8 4,1 4,-1 4,-.4 4,1.4 4,.6 4,-.4 4,-1.3 4,-1.1 4,.2 4,1.2 4,-.3 4,-.7 4,1.8 4,1.2 4,0 4,-.3 4,-.1 4,.5 4,1.3 4,-.1 4,-.8 4,.4 4,1 4,-.9 4,-1.1 4,.6 4,.8 4,1 4,.5 4,-.8 4,.1 4,.4 4,-1.4 4,-1.6 4,-.2 4,.4 4,.5 4,.3 4,-.8 4,-.3 4,1.3 4,-.8 4,-1.1 4,.3 4,1.2 4,-.2 4,-.3 4,-.5 4,-.8 4,.3 4,.5 4,-1 4,.9 4,1.8 4,.5 4,-.6 4,-.4 4,-.3 4,-.3 4,-.2 4,-1 4,-0 4,1.7 4,.3 4,-1.3 4,.1 4,.2 4,-.3 4,0 4,-.1 4,-.4 4,1.1 4,-.1 4,-1.7 4,-.9 4,.7 4,0 4,.5 4,.7 4,.5 4,.9 4,.4 4,-1 4,-1.2 4,1.2 4,.4 4,-.6 4,.3 4,1 4,.6 4,.3 4,-.6 4,-.5 4,1.5 4,.7 4,-.7 4,-.4 4,.4 4,-.5 4,-.7 4,-1.1 4,-.8 4,.8 4,1.6 4,-.7 4,-.9 4,.3 4,.2 4,-1.2 4,-1.3 4,-.8 4,.3 4,1 4,-.5" stroke-dasharray="64 4 113 4 165 4 54 3 87 4 109 2"/><path d="M37.4,343.7l4,1.1 4,-.2 4,.5 4,-1.3 4,1 4,.2 4,.2 4,-1.3 4,-0 4,1.2 4,1.5 4,.7 4,-.7 4,1 4,.2 4,-0 4,-2.1 4,0 4,.1 4,2.1 4,-.9 4,-.1 4,-.6 4,1.3 4,-.4 4,-1.3 4,-.8 4,.7 4,1.1 4,-1.4 4,-1.3 4,-1.4 4,1 4,-.6 4,-.2 4,-1 4,1.6 4,1.1 4,-0 4,-1.7 4,-.8 4,.7 4,.1 4,-.4 4,-1.1 4,2 4,1.1 4,1 4,-1.9 4,.3 4,1.1 4,1.7 4,-.6 4,-.5 4,.4 4,1.2 4,-0 4,-2.1 4,-.4 4,.9 4,2.3 4,-1 4,.3 4,-.4 4,1.7 4,-.8 4,-1.8 4,-1.5 4,.4 4,1.3 4,-.7 4,-.7 4,-.5 4,1.6 4,-.5 4,-.7 4,-1.4 4,1.8 4,.5 4,.5 4,-2.1 4,-.3 4,.4 4,.5 4,-.9 4,-.7 4,1.6 4,1.5 4,1.1 4,-2.1 4,.4 4,-.2 4,.8 4,-1.7 4,-.4 4,.5 4,1.6 4,-.2 4,-1.5 4,-.4 4,.9 4,1 4,-1.1 4,-0 4,-.3 4,1.4 4,-1.1 4,-1.2 4,-1.4 4,1.1 4,.7 4,.3 4,-.4 4,.9 4,1.7 4,-.6 4,-.6 4,-1.3 4,1.4 4,.3 4,.4 4,-1 4,1.2 4,.3 4,.9 4,-1.4 4,.2 4,.9 4,1.2 4,-.1 4,-.9 4,-0 4,-.2 4,-.5 4,-2.1 4,.1 4,.3 4,1.9 4,-.9 4,-.4 4,-.4 4,.1 4,-.6 4,-1.3 4,-.8 4,.5 4,.7 4,-.9" stroke-dasharray="43 3 167 5 182 2 161 4 82 5"/><path d="M37.4,346.1l4,1.6 4,.6 4,.3 4,-1.5 4,1 4,-.3 4,.1 4,-.7 4,-.6 4,1.5 4,1.2 4,1.5 4,-1.3 4,1.4 4,-.4 4,-.3 4,-1.1 4,-.2 4,1 4,-.7 4,1.2 4,-.6 4,.2 4,-1.3 4,.7 4,.3 4,-1.2 4,.3 4,-.3 4,1 4,-2.2 4,-.7 4,-.9 4,.1 4,.7 4,-.7 4,.5 4,.3 4,2 4,-2.2 4,-1.3 4,-.2 4,1.5 4,-.2 4,-1.8 4,1.7 4,1.4 4,.8 4,-2.1 4,.9 4,1 4,1 4,.6 4,-1.1 4,1.2 4,.2 4,.4 4,-2.2 4,-.4 4,1.6 4,.9 4,-0 4,-.6 4,2.1 4,-1 4,-.4 4,-1.9 4,.3 4,0 4,-.9 4,.9 4,-.9 4,.7 4,-1.1 4,.7 4,-.9 4,-.1 4,.8 4,.1 4,.6 4,-1.4 4,.4 4,-1.5 4,.6 4,-.1 4,.1 4,.2 4,1.6 4,1.5 4,-1.9 4,-.2 4,.2 4,1.1 4,-1.8 4,-.6 4,1.4 4,.4 4,.3 4,-2.2 4,.8 4,-.1 4,1.3 4,-.7 4,-1 4,1.3 4,.4 4,-.2 4,-3.4 4,.8 4,.9 4,.3 4,-1 4,.6 4,2.5 4,-.8 4,.1 4,-1.4 4,1.2 4,-.3 4,.5 4,.2 4,-.5 4,1.6 4,-.6 4,.2 4,-1.1 4,1.4 4,.8 4,.1 4,.6 4,-.3 4,-.1 4,-2.1 4,.8 4,-1.3 4,-.1 4,-0 4,1.3 4,.2 4,-1.7 4,.7 4,-.8 4,.4 4,-2.2 4,0 4,.5 4,.2 4,-0" stroke-dasharray="194 3 59 3 46 2 145 2 146 3 188 4"/><path d="M37.4,349.4l4,.7 4,1.4 4,.2 4,-.8 4,-.9 4,.7 4,-.3 4,-.2 4,-.8 4,1.1 4,1.3 4,1.3 4,-.4 4,.1 4,-.1 4,.4 4,-1.4 4,-0 4,.2 4,1.3 4,-.2 4,-.9 4,-.4 4,.7 4,.3 4,-.7 4,-.4 4,-.1 4,1.1 4,-.8 4,-1 4,-2.1 4,.1 4,-.2 4,.2 4,-.1 4,.8 4,.3 4,.2 4,-1.1 4,-.3 4,-.1 4,.4 4,-.8 4,-0 4,1.1 4,1.2 4,-.1 4,-1.3 4,.5 4,1 4,2.2 4,-.4 4,-.3 4,-.3 4,1.4 4,-.6 4,-.4 4,-1.4 4,.9 4,.8 4,1.3 4,-.1 4,.1 4,-.5 4,-.4 4,-.6 4,-.4 4,.2 4,-.4 4,-.7 4,-.7 4,1 4,0 4,-.5 4,-1.8 4,.9 4,1.2 4,1.2 4,-1 4,-1.3 4,-.6 4,.5 4,.2 4,-1.1 4,0 4,1.1 4,1.4 4,.6 4,-.4 4,-.8 4,.3 4,-.6 4,.5 4,-.3 4,.5 4,-.4 4,.1 4,-.9 4,.5 4,.2 4,.3 4,-.9 4,.7 4,1.1 4,0 4,-1.4 4,-1.7 4,-0 4,.6 4,.6 4,-.3 4,.1 4,.6 4,1.8 4,-.7 4,-.6 4,-.9 4,1.1 4,.2 4,.4 4,-.3 4,.5 4,-.1 4,-0 4,-.6 4,.8 4,1.5 4,.6 4,-.6 4,-.5 4,.4 4,-.5 4,-.7 4,-1.9 4,.3 4,.7 4,.9 4,-.7 4,-.2 4,-.3 4,.1 4,-1.1 4,-.6 4,-.3 4,.5 4,-.2 4,-.9" stroke-dasharray="61 2 191 4 93 2 31 4 139 4 44 3 189 5"/><path d="M37.4,352.6l4,1 4,1.3 4,-.1 4,-.4 4,-.5 4,-.2 4,-0 4,-.5 4,-.6 4,.9 4,2.4 4,0 4,-.2 4,.3 4,0 4,.1 4,-.7 4,-.6 4,.5 4,.8 4,.4 4,-1.1 4,-.7 4,1.2 4,-.5 4,-.4 4,.3 4,-.2 4,.7 4,-.4 4,-2.3 4,-.5 4,-.4 4,.2 4,-.5 4,-.5 4,1.7 4,.5 4,-.9 4,-.1 4,-1.6 4,.9 4,.9 4,-1.4 4,.5 4,.6 4,.4 4,.2 4,-.8 4,.6 4,1.3 4,.7 4,.9 4,-.4 4,.2 4,1.1 4,-1.3 4,-1.1 4,.3 4,.5 4,1.2 4,.1 4,-0 4,.2 4,.5 4,-.6 4,-1.3 4,-.7 4,1 4,-.4 4,-.3 4,-.7 4,-.6 4,.5 4,-.2 4,-.9 4,.2 4,1.4 4,.4 4,-.9 4,-.8 4,-.4 4,-0 4,-.2 4,-.4 4,-.2 4,1.5 4,1.3 4,-.3 4,-.7 4,.6 4,-.1 4,-.2 4,-0 4,-.5 4,.9 4,.7 4,-1.2 4,-.8 4,-.2 4,1 4,.4 4,-.4 4,.6 4,.7 4,-.6 4,-.4 4,-1.9 4,-.5 4,1.3 4,-.3 4,-0 4,.5 4,.9 4,.7 4,-1.1 4,-.3 4,.4 4,.3 4,1.3 4,-1.2 4,-.4 4,1.6 4,-.6 4,-.5 4,.3 4,-.2 4,2.1 4,.3 4,-.2 4,.1 4,-.8 4,.6 4,-1.7 4,-1.6 4,1.3 4,-0 4,.3 4,.2 4,-1.4 4,.5 4,.2 4,-1.2 4,-.6 4,-.2 4,.9 4,-.5 4,-1.5" stroke-dasharray="164 3 73 4 165 5 42 2 172 5"/><path d="M37.4,356.0l4,.7 4,1.2 4,.2 4,-.2 4,-1.6 4,1 4,-.5 4,-.8 4,-1 4,2.6 4,.9 4,.5 4,-.8 4,.5 4,.2 4,.8 4,-2.1 4,.5 4,1 4,.5 4,-1.1 4,0 4,-.5 4,-.1 4,.3 4,-0 4,-.4 4,1 4,-0 4,-.8 4,-1.1 4,-1.4 4,-.7 4,.8 4,-0 4,-1.4 4,1.5 4,.8 4,-.2 4,-1.7 4,.4 4,-.1 4,1.1 4,-1.2 4,-.3 4,1 4,1.4 4,-1.9 4,.2 4,.7 4,1.2 4,.6 4,1.1 4,-.6 4,1.4 4,-.2 4,-.8 4,-1 4,.4 4,-0 4,1.6 4,.2 4,-.6 4,-0 4,1.1 4,-.9 4,-1 4,-.3 4,.2 4,.7 4,-.8 4,-1.5 4,-.1 4,.9 4,-1.5 4,-.6 4,.8 4,1.5 4,-.1 4,-0 4,-1.5 4,0 4,-.2 4,-.6 4,-1.1 4,1.8 4,.2 4,1.2 4,-.4 4,0 4,-.7 4,1.7 4,-.6 4,-.3 4,-0 4,.7 4,-.4 4,.2 4,-1.7 4,-.1 4,1.5 4,.9 4,-1.2 4,.8 4,1 4,-.3 4,-1.6 4,-1 4,-.4 4,.9 4,-.1 4,-.9 4,1.3 4,1.2 4,-.4 4,-.7 4,.3 4,-.5 4,1.4 4,.2 4,-.5 4,-.3 4,.8 4,-.7 4,.4 4,-.8 4,1 4,1.1 4,1.9 4,-1.7 4,.3 4,-.2 4,.1 4,-2 4,-.1 4,-.7 4,2 4,-.2 4,-1.3 4,-.8 4,1.6 4,-.9 4,-1.3 4,-0 4,.3 4,.5 4,-.5 4,-1.4" stroke-dasharray="72 2 145 3 75 3 101 3 130 2 32 4 85 2"/><path d="M37.4,359.0l4,1 4,.9 4,.5 4,-1.3 4,.4 4,-1.1 4,.7 4,-1.7 4,1.1 4,-.1 4,2.2 4,-.3 4,.2 4,-.2 4,.5 4,.3 4,-.8 4,.4 4,-.3 4,1.4 4,-1.4 4,-.1 4,-1.1 4,1.1 4,-.1 4,.1 4,-.3 4,1 4,.1 4,-1 4,-1.6 4,-1 4,-.1 4,.2 4,-.7 4,0 4,.7 4,.5 4,-.2 4,-1.1 4,-0 4,.3 4,1.1 4,-1 4,.6 4,-.8 4,1.4 4,-1.2 4,.3 4,-.3 4,1.8 4,1.1 4,.7 4,-.1 4,.2 4,.8 4,-1.5 4,.1 4,-1.2 4,2 4,-.1 4,1 4,-.9 4,.8 4,-.3 4,.1 4,-1.3 4,-0 4,.7 4,-.2 4,-.9 4,-1 4,-.6 4,.1 4,-.1 4,-.6 4,.5 4,1.1 4,.6 4,-1 4,-.5 4,-1.4 4,.9 4,-1 4,.2 4,-.3 4,2 4,-.1 4,.1 4,-.8 4,.3 4,1.2 4,-.2 4,0 4,-.6 4,1.7 4,-1 4,.1 4,-2.2 4,1 4,.5 4,1 4,-.4 4,.6 4,.2 4,.1 4,-1.3 4,-1 4,-.4 4,.6 4,.2 4,-.3 4,.2 4,.5 4,.6 4,-.7 4,-.1 4,.3 4,1.4 4,-.4 4,.3 4,-1.2 4,1.1 4,-.9 4,.4 4,-1 4,1.4 4,1.6 4,.3 4,-.2 4,-1 4,1 4,-1.3 4,.1 4,-1.7 4,1 4,-.1 4,.7 4,-1.2 4,-.1 4,-.2 4,.3 4,-.8 4,-.4 4,.4 4,.4 4,-.4 4,-1.7" stroke-dasharray="106 3 169 4 102 4 181 4 105 3"/><path d="M37.4,362.4l4,.8 4,1.6 4,-.3 4,-1.6 4,.1 4,.8 4,-1.2 4,-.6 4,-.3 4,.9 4,2.5 4,-0 4,-1.5 4,.3 4,.6 4,.6 4,-0 4,-1.1 4,.1 4,1.5 4,-.4 4,-1.2 4,-.8 4,-.4 4,1.5 4,.8 4,-.8 4,.3 4,-.1 4,-.6 4,-.4 4,-1.6 4,-1.1 4,.3 4,.2 4,.5 4,.7 4,-1.3 4,-.4 4,.6 4,-.1 4,.4 4,-.3 4,-.9 4,1.5 4,.6 4,-1.2 4,-.5 4,-.4 4,1.3 4,2.3 4,-.3 4,-.2 4,1.4 4,.6 4,.2 4,-1.2 4,-1.7 4,1.2 4,1.8 4,-.4 4,-.4 4,-.1 4,.4 4,1.1 4,-1.2 4,-1.3 4,1.1 4,.2 4,0 4,-1.2 4,-1.5 4,-.1 4,.5 4,-1.2 4,-.1 4,.8 4,1 4,.3 4,-1 4,-1.1 4,.7 4,-.6 4,-1.1 4,.2 4,.4 4,1.5 4,.5 4,-1.7 4,.3 4,1.6 4,-0 4,-.1 4,-.5 4,.2 4,2.1 4,-.5 4,-2.6 4,-.7 4,.7 4,1.5 4,.8 4,-1.2 4,.1 4,1.9 4,-.2 4,-1.7 4,-1.5 4,-.4 4,1.5 4,.8 4,-1.4 4,-.1 4,.7 4,.3 4,.5 4,-.9 4,-.3 4,1.5 4,.8 4,-.5 4,-0 4,-1.5 4,.4 4,.5 4,-.4 4,.8 4,.7 4,.4 4,.8 4,.1 4,-1.4 4,0 4,-1 4,.1 4,1.1 4,-.8 4,-.8 4,.1 4,-.3 4,.1 4,-.2 4,-1.3 4,.7 4,1.2 4,-.7 4,-.6 4,-1.8" stroke-dasharray="102 4 168 5 106 4 88 3 192 3"/><path d="M37.4,365.1l4,1.8 4,1.5 4,-.4 4,-1.7 4,-.4 4,.7 4,-.1 4,-1.5 4,-.1 4,1.6 4,1.5 4,-.4 4,-.9 4,.2 4,1.3 4,.2 4,-.9 4,-.2 4,1.2 4,.6 4,-1.2 4,-1.6 4,0 4,1.2 4,-0 4,-.7 4,.5 4,1.1 4,.3 4,-1.8 4,-1.4 4,-.4 4,.6 4,-.7 4,-1.1 4,.7 4,1.1 4,-.3 4,-1.4 4,-.5 4,.9 4,1.3 4,-.7 4,-.8 4,.7 4,.7 4,-.5 4,-1.3 4,-.3 4,1.7 4,1.7 4,.4 4,-.3 4,1 4,1.1 4,-.4 4,-1.5 4,-.7 4,1.5 4,1 4,-.1 4,-1.2 4,.6 4,1 4,0 4,-1.6 4,-.3 4,1.3 4,.8 4,-1 4,-1.9 4,-.7 4,.8 4,-.6 4,-1.3 4,-.3 4,1.6 4,1.3 4,-.5 4,-1.7 4,-.1 4,.3 4,-.1 4,-.9 4,-.5 4,1.1 4,1 4,-.3 4,-.8 4,-0 4,1.1 4,.9 4,-.5 4,.1 4,.7 4,.5 4,-.6 4,-1.4 4,-.5 4,.8 4,.6 4,.4 4,-.2 4,.8 4,.4 4,-.6 4,-1.2 4,-.6 4,.4 4,.4 4,-.3 4,-.5 4,.5 4,.1 4,-0 4,-.6 4,.4 4,.7 4,.8 4,.3 4,-.7 4,-.1 4,-.2 4,-.4 4,-.5 4,.6 4,.7 4,1.3 4,0 4,.1 4,-0 4,-.1 4,-.5 4,-.9 4,.1 4,.3 4,.1 4,-.5 4,-.7 4,-0 4,-.2 4,-.5 4,-.2 4,.5 4,.6 4,-0 4,-1.5 4,-1.1" stroke-dasharray="181 5 64 4 32 3 67 2 50 4 139 2 114 5"/><path d="M37.4,368.6l4,2.7 4,-.3 4,-.9 4,-.3 4,.3 4,-.4 4,-.6 4,-1 4,.1 4,2.6 4,-.5 4,-.9 4,.7 4,.2 4,.7 4,-.6 4,.5 4,.1 4,1.5 4,-.8 4,-2.1 4,.6 4,-.6 4,.6 4,.1 4,-.2 4,1.1 4,.4 4,-.1 4,-2.2 4,.5 4,-1.1 4,-.3 4,.3 4,-1.2 4,.5 4,.2 4,.1 4,-1.3 4,.2 4,.5 4,-.2 4,1.6 4,-.8 4,-.3 4,.3 4,-.6 4,-.3 4,0 4,.8 4,1 4,1.6 4,.3 4,-.7 4,1.5 4,-.6 4,-.1 4,-.6 4,-0 4,1.1 4,.8 4,-.7 4,-1.1 4,1.3 4,.1 4,-1 4,.5 4,-.4 4,1.6 4,-.5 4,-1.7 4,-1.9 4,.4 4,.4 4,-1.9 4,.5 4,.6 4,1.4 4,.4 4,-2.3 4,-.3 4,.7 4,.4 4,-2 4,.3 4,1.2 4,.2 4,.4 4,-1.9 4,.3 4,2 4,.6 4,-.5 4,-.1 4,1.6 4,-.4 4,-.2 4,-2 4,-.4 4,1.8 4,-.1 4,0 4,.4 4,1 4,.3 4,-1 4,-1 4,-.5 4,1.4 4,-.5 4,-1.1 4,.5 4,.3 4,-.2 4,-.5 4,-.1 4,.3 4,1.4 4,.7 4,-1.2 4,.9 4,-.7 4,-.2 4,-.4 4,-.4 4,.4 4,.9 4,1.4 4,-.9 4,.7 4,.1 4,-.8 4,.4 4,-1.1 4,.2 4,.2 4,.4 4,-1 4,-.9 4,0 4,-.6 4,1 4,-.6 4,-.4 4,1.3 4,-.1 4,-.9 4,-1.8" stroke-dasharray="36 4 160 2 97 3 159 3 85 3 139 3"/><path d="M37.4,372.5l4,1.4 4,.1 4,-.8 4,-.2 4,.6 4,-.7 4,-1.3 4,-.2 4,.9 4,1 4,-.3 4,-.3 4,-.4 4,.6 4,1.1 4,.1 4,-.9 4,.6 4,1.5 4,-.5 4,-1.8 4,-.9 4,.7 4,.6 4,-.6 4,.4 4,.7 4,.5 4,-.3 4,-1.2 4,-.9 4,-.1 4,0 4,-.2 4,-1.1 4,.4 4,.9 4,-.5 4,-2 4,.2 4,1.7 4,.9 4,-.8 4,-.5 4,.4 4,.5 4,-.7 4,-.8 4,-.5 4,1.3 4,2.1 4,.5 4,-.2 4,.2 4,.9 4,.1 4,-1.2 4,-0 4,1.1 4,.7 4,-.5 4,-.4 4,.2 4,.3 4,-.4 4,-.3 4,.2 4,.9 4,.7 4,-.9 4,-1.9 4,-1.1 4,.9 4,-.6 4,-1.7 4,-.1 4,1.9 4,.7 4,-.6 4,-1.4 4,-.3 4,.7 4,-.2 4,-.5 4,-.4 4,.3 4,.8 4,.2 4,-1.2 4,0 4,1.3 4,1 4,-.2 4,.2 4,1 4,.3 4,-1.4 4,-1.3 4,.3 4,1.1 4,.1 4,-.1 4,.1 4,.9 4,.8 4,-.7 4,-1.6 4,-.4 4,1.2 4,.7 4,-1.4 4,-1 4,.9 4,.2 4,-.6 4,-.5 4,.6 4,1.4 4,.8 4,-.3 4,-.6 4,-.4 4,-.1 4,-.5 4,-.8 4,.5 4,1.6 4,1 4,-.7 4,-.3 4,1 4,.5 4,-1.3 4,-1 4,.6 4,.8 4,0 4,-1.2 4,-1.3 4,-.1 4,.9 4,.1 4,-.8 4,-0 4,1 4,.4 4,-1.5 4,-1.8" stroke-dasharray="154 2 194 4 89 5 44 4 64 4 127 3"/><path d="M37.4,375.8l4,.7 4,.5 4,-.5 4,-.3 4,.1 4,-.5 4,-.6 4,-.8 4,1.1 4,1.1 4,.1 4,-2.1 4,.3 4,.9 4,1.3 4,-.5 4,.2 4,.2 4,1.4 4,-1.2 4,-.3 4,-1.4 4,.4 4,-.6 4,1.3 4,-.5 4,1.5 4,-.6 4,.4 4,-1.7 4,-.1 4,-.4 4,.8 4,-1.5 4,-.4 4,-0 4,1.1 4,-1.2 4,-1.2 4,-.2 4,1.7 4,.7 4,0 4,-.7 4,.2 4,-0 4,-.5 4,-.3 4,-.1 4,1.1 4,.8 4,.8 4,.3 4,.7 4,.1 4,.1 4,-.9 4,.6 4,.8 4,1 4,-1.3 4,-.4 4,-.6 4,1.8 4,-.7 4,-.4 4,-.3 4,1.6 4,0 4,-.3 4,-2.2 4,-0 4,-1.4 4,.4 4,-1 4,.9 4,-.2 4,.7 4,-.7 4,-.2 4,-.4 4,.4 4,-.6 4,-.4 4,-.1 4,1.4 4,.1 4,-1.2 4,-1 4,.5 4,1.9 4,.9 4,-.3 4,-.1 4,1.2 4,.1 4,-1 4,-1.3 4,.5 4,-0 4,.8 4,-.1 4,1 4,-.2 4,.2 4,-1 4,.3 4,-.4 4,1.3 4,-.9 4,-.4 4,-1.2 4,1.2 4,-.3 4,-.5 4,-1.5 4,1.8 4,1 4,1.5 4,-1.3 4,-.4 4,-.4 4,.7 4,-1.1 4,-.2 4,.2 4,1.3 4,-.1 4,.6 4,-.3 4,.4 4,-.3 4,-.2 4,-.3 4,.5 4,.8 4,-.5 4,-1.8 4,-1.1 4,.5 4,1 4,-.2 4,-1.2 4,.8 4,.9 4,.4 4,-1.9 4,-1.2" stroke-dasharray="160 3 84 4 70 2 101 2 113 2 185 5"/><path d="M37.4,379.1l4,.4 4,1.3 4,-2.5 4,1.5 4,-1.3 4,1.1 4,-1.9 4,1 4,-.5 4,1.5 4,-.7 4,-1.1 4,.2 4,.8 4,.3 4,1 4,-1.2 4,2.1 4,-.7 4,.6 4,-2.8 4,1.2 4,-1.4 4,2.2 4,-1.7 4,.8 4,.4 4,.9 4,-.7 4,-1.1 4,-.7 4,.8 4,-.5 4,-.3 4,-.9 4,.8 4,-1 4,.6 4,-2.5 4,1.8 4,.2 4,1.3 4,-.3 4,-.9 4,.7 4,-.1 4,-.5 4,-1.6 4,1.2 4,.6 4,1.6 4,.3 4,-.7 4,1.8 4,-.5 4,.6 4,-.8 4,.1 4,1.7 4,-.3 4,.1 4,-1.7 4,1.3 4,-1.1 4,1.6 4,-2.2 4,1.8 4,.4 4,.7 4,-1.4 4,-1.3 4,-.6 4,-.1 4,-.7 4,-.5 4,-.5 4,1.7 4,-.8 4,1.1 4,-3.3 4,2.2 4,-1.1 4,1.3 4,-1.8 4,.9 4,-.2 4,.8 4,-1.2 4,-.8 4,.9 4,1 4,.7 4,.6 4,-.4 4,2.2 4,-1.5 4,-0 4,-2.2 4,1.4 4,.2 4,.8 4,-.8 4,.8 4,.7 4,-.4 4,.3 4,-1.8 4,1.4 4,.2 4,.2 4,-1.2 4,-.4 4,.2 4,-.6 4,-.3 4,-.9 4,1.8 4,1.2 4,-.1 4,.6 4,-2.1 4,1.9 4,-1.8 4,.7 4,-2.1 4,2 4,0 4,1.7 4,-1.5 4,.1 4,.8 4,-.1 4,0 4,-.1 4,-.3 4,1.5 4,-1.7 4,-.1 4,-2.1 4,1.6 4,-1.6 4,1.7 4,-1.7 4,2.3 4,-.2 4,-.4 4,-1.5 4,-1.2" stroke-dasharray="166 2 83 4 130 2 125 5 75 2 93 2"/><path d="M37.4,382.2l4,1.5 4,-.8 4,-.4 4,-1.3 4,1.4 4,.2 4,-1.9 4,.5 4,.5 4,.9 4,-.5 4,-2.4 4,1.2 4,.8 4,0 4,.8 4,-.8 4,2.6 4,-.3 4,-1.7 4,-.3 4,-1 4,1.1 4,-.2 4,-.6 4,1.6 4,-.4 4,.6 4,-.7 4,-1.3 4,.9 4,-.9 4,.2 4,.5 4,-1.6 4,.6 4,-1.1 4,-.3 4,.2 4,-1.4 4,2.1 4,1 4,-.7 4,.4 4,-1.2 4,1.3 4,-.9 4,-1.6 4,1.3 4,.4 4,2.1 4,-.4 4,-1.3 4,2.6 4,-.3 4,.2 4,-.3 4,-.3 4,2.7 4,-.8 4,-1.2 4,.1 4,-.7 4,1.3 4,-1 4,-.6 4,2.4 4,-.5 4,.8 4,-1.7 4,-1.3 4,.9 4,-2.2 4,.3 4,-.7 4,-.3 4,1.8 4,-1.2 4,-.1 4,0 4,-1.3 4,1.5 4,-.8 4,.2 4,.4 4,-1.3 4,1.6 4,-1.5 4,-.8 4,1 4,.2 4,2.3 4,-.3 4,-.5 4,2 4,-.8 4,-.2 4,-1.5 4,-.1 4,2.5 4,-1 4,-.1 4,.2 4,.2 4,1.6 4,-2.5 4,-.1 4,1.7 4,-.1 4,.5 4,-2.3 4,.1 4,1.2 4,-2.1 4,.2 4,-.6 4,1.3 4,2.2 4,-1.6 4,.6 4,-.3 4,-.6 4,.6 4,-2 4,.9 4,.7 4,-.1 4,1.2 4,-1.2 4,.3 4,.7 4,-.6 4,1.5 4,-1.3 4,.5 4,.9 4,-1.3 4,-.3 4,-2 4,0 4,1.6 4,-1.1 4,.5 4,.4 4,.3 4,.8 4,-2.8 4,-.3" stroke-dasharray="189 4 80 3 89 4 69 3 160 3"/><path d="M37.4,385.9l4,.2 4,-.5 4,-.7 4,.2 4,.4 4,-.5 4,-.3 4,.5 4,.1 4,-.3 4,.5 4,-1.8 4,-1.2 4,2.4 4,.9 4,-1.7 4,1.7 4,2 4,-1.3 4,-1 4,.1 4,-1.3 4,.3 4,1.1 4,-.6 4,-.1 4,.8 4,.3 4,-.6 4,-.9 4,-.1 4,.7 4,.3 4,-1.2 4,-.3 4,-.1 4,-.5 4,-.5 4,-.9 4,0 4,2.3 4,-.1 4,-.6 4,.6 4,-.1 4,-1.2 4,.7 4,-.3 4,-1.3 4,2.2 4,1.9 4,-1.9 4,.1 4,2.4 4,-.5 4,-.6 4,.9 4,.7 4,.1 4,.6 4,-.8 4,-.8 4,-.1 4,.3 4,.1 4,-.4 4,.6 4,1.5 4,-.2 4,-1.8 4,-.4 4,-.3 4,-1 4,-0 4,-.8 4,-.4 4,1.6 4,-.5 4,-1.8 4,.3 4,.7 4,-1 4,.9 4,.7 4,-1.6 4,.7 4,1 4,-2.5 4,-.7 4,1.8 4,1 4,-.2 4,.9 4,.9 4,.5 4,-.6 4,-.6 4,-.1 4,0 4,.5 4,.7 4,-.6 4,-.3 4,1.4 4,-0 4,-1.7 4,.8 4,.8 4,.1 4,.3 4,-1.1 4,-1.2 4,.9 4,-.4 4,-2.1 4,.9 4,1.9 4,-.3 4,.3 4,.4 4,-1.2 4,-.2 4,1.2 4,-1.3 4,-1.1 4,1.6 4,1.2 4,-.6 4,-1.3 4,.4 4,1.5 4,-.4 4,-.4 4,1.1 4,.2 4,-.5 4,.1 4,-1.4 4,-1.9 4,1.3 4,.5 4,-1.2 4,.5 4,1.6 4,-.5 4,-.2 4,-1.2 4,-1.3" stroke-dasharray="144 2 170 4 165 2 116 5"/><path d="M37.4,388.9l4,-.6 4,0 4,-.7 4,-.3 4,1.1 4,-.8 4,-0 4,-.3 4,.5 4,.2 4,-.9 4,-1.6 4,.9 4,-0 4,1.6 4,-.8 4,1.3 4,.7 4,0 4,-.5 4,-1.7 4,.3 4,.4 4,-0 4,-.2 4,.4 4,0 4,1.1 4,-1.8 4,.2 4,-.4 4,1.2 4,.2 4,-1.4 4,-.1 4,-.5 4,-.4 4,-.9 4,-.9 4,.8 4,1.6 4,-.1 4,.8 4,-1.7 4,1.6 4,-.7 4,-.7 4,-.5 4,.1 4,1.9 4,.3 4,-.8 4,.8 4,.4 4,.7 4,.4 4,-1.2 4,2.2 4,-.3 4,1.2 4,-1.9 4,-.7 4,.6 4,-.1 4,0 4,.2 4,.2 4,1.8 4,-.6 4,-1.4 4,-.5 4,-1.1 4,.9 4,-1.9 4,.4 4,-.5 4,.7 4,-.3 4,-1.4 4,-.4 4,1.2 4,-.3 4,.7 4,-.8 4,.3 4,.7 4,-1.6 4,.1 4,-1.7 4,1.7 4,1.3 4,.2 4,.1 4,1.1 4,.1 4,.5 4,-1.8 4,.6 4,.5 4,.3 4,.6 4,-1.8 4,1.5 4,-.2 4,.2 4,-.4 4,-.3 4,1.2 4,1 4,-1.3 4,.2 4,-1.8 4,.7 4,-.8 4,-1.1 4,.8 4,.3 4,1.9 4,-.5 4,-.8 4,.2 4,-.1 4,-.3 4,-.1 4,-1.3 4,2.3 4,-.6 4,.5 4,-1.2 4,-.2 4,1.7 4,-.7 4,.8 4,.1 4,.3 4,.6 4,-1.3 4,-1.7 4,.3 4,-1 4,1.7 4,-1.4 4,1 4,.7 4,-0 4,-.3 4,-2 4,.1" stroke-dasharray="146 2 112 2 171 2 61 4 158 4"/><path d="M37.4,391.3l4,1.2 4,-.9 4,-1.6 4,.5 4,1 4,.2 4,-1.1 4,.1 4,.8 4,-.5 4,-1.2 4,-.5 4,.1 4,.4 4,.6 4,.7 4,.4 4,.1 4,.4 4,-.2 4,-1.2 4,-.6 4,.9 4,.7 4,-.6 4,-.6 4,.9 4,0 4,-.7 4,-.5 4,.6 4,.7 4,-.5 4,-.3 4,-.1 4,-.7 4,-1.2 4,-.5 4,.3 4,.1 4,.5 4,1.3 4,-.1 4,-.4 4,-.2 4,.2 4,-.5 4,-.5 4,.3 4,1.5 4,-.1 4,-.4 4,.4 4,1 4,-.1 4,-.1 4,1.1 4,1.3 4,-.2 4,-.7 4,0 4,-.4 4,-.4 4,-.5 4,.5 4,.4 4,.7 4,.4 4,-.1 4,-1.3 4,-.6 4,.4 4,-.7 4,-1.5 4,-.2 4,1 4,.2 4,-1.6 4,-1.1 4,.9 4,.7 4,-.4 4,-.3 4,.4 4,.6 4,-.3 4,-1.4 4,-.6 4,0 4,1 4,1.1 4,-.1 4,.2 4,1.1 4,1.4 4,-.8 4,-1.7 4,.2 4,2 4,.2 4,-1.6 4,-.1 4,1.5 4,.4 4,-1.3 4,-.5 4,1 4,1.1 4,.7 4,-.9 4,-1.2 4,-.5 4,.5 4,-.5 4,-1.8 4,.1 4,1.9 4,1.6 4,-1.2 4,-1.6 4,.7 4,1.4 4,-1 4,-1.4 4,.5 4,1.7 4,-.1 4,-.9 4,-1.1 4,.3 4,1.1 4,.9 4,-.2 4,-.4 4,1 4,.9 4,-.9 4,-2.5 4,-.9 4,1.4 4,.8 4,-1.5 4,-.1 4,1.7 4,.9 4,-1.5 4,-2 4,.6" stroke-dasharray="150 5 42 2 178 2 118 4 80 4 45 2"/><path d="M37.4,394.8l4,-.1 4,-.7 4,.1 4,-.2 4,-.4 4,.5 4,.7 4,-0 4,-.6 4,-.7 4,-.6 4,-.8 4,.6 4,.8 4,-.6 4,-.2 4,1.9 4,1.7 4,-1.3 4,-2.1 4,.2 4,1.1 4,.3 4,-.8 4,-.1 4,.2 4,.2 4,.3 4,-.3 4,-1.2 4,.5 4,2 4,-.1 4,-1.6 4,-1 4,.6 4,-.4 4,-1.9 4,0 4,1.5 4,.7 4,-.2 4,-.1 4,.3 4,-.6 4,.1 4,-0 4,-.7 4,.2 4,1.5 4,.7 4,-1.6 4,-.1 4,1.3 4,1 4,-.3 4,.6 4,1 4,.6 4,-.7 4,-.2 4,-.3 4,-1 4,-.3 4,1 4,.7 4,.1 4,.5 4,-.5 4,-1.1 4,-.2 4,.7 4,-.9 4,-1.9 4,-.3 4,1.9 4,-.2 4,-2.3 4,-1.2 4,1 4,.7 4,.5 4,-.3 4,-.6 4,.1 4,.7 4,-.1 4,-2.2 4,-1.1 4,2 4,2.1 4,-.3 4,-.4 4,1.2 4,.6 4,-.6 4,-.2 4,.5 4,.3 4,-0 4,.2 4,-.1 4,-.3 4,.1 4,.6 4,-.7 4,-.1 4,1.4 4,1.2 4,-.8 4,-1.7 4,-0 4,.1 4,-1.5 4,-.4 4,.9 4,.6 4,.1 4,.1 4,0 4,-.3 4,-.7 4,.5 4,.2 4,-.4 4,.7 4,-0 4,-1 4,-1 4,1.5 4,.8 4,-.7 4,-.6 4,2.2 4,1.5 4,-1.2 4,-2.3 4,-.6 4,.4 4,.3 4,.4 4,-.7 4,-.8 4,1.3 4,1.3 4,-1 4,-2.2 4,.1" stroke-dasharray="105 3 111 4 60 2 188 2 136 3"/><path d="M37.4,397.8l4,-.5 4,-.4 4,-1.1 4,.8 4,.3 4,.4 4,-.9 4,.8 4,.1 4,-.5 4,-1.5 4,-.9 4,.6 4,.4 4,.7 4,-.1 4,1 4,.3 4,.5 4,-1.7 4,-.2 4,.2 4,1.2 4,-.6 4,-.7 4,-.2 4,1.1 4,-.6 4,-.9 4,0 4,1.8 4,.6 4,-.8 4,-.8 4,.1 4,-.4 4,-1.1 4,-1.3 4,.4 4,1 4,.4 4,.2 4,-.3 4,.2 4,0 4,-.1 4,-.8 4,.4 4,.5 4,.9 4,-.4 4,-.2 4,-.5 4,1.5 4,.1 4,.3 4,.4 4,1.8 4,.4 4,-.7 4,-1.3 4,-.2 4,.2 4,-.2 4,.1 4,.4 4,.9 4,.2 4,-.1 4,-1.4 4,-.6 4,.1 4,.4 4,-1.2 4,-.4 4,-.2 4,.7 4,-1.8 4,-1 4,-.4 4,2 4,.2 4,-.5 4,-.3 4,1 4,-.3 4,-1.3 4,-1.5 4,.7 4,1.4 4,.4 4,-.1 4,.5 4,1 4,.2 4,-.1 4,-.8 4,.9 4,.9 4,.7 4,-1 4,-.3 4,-.1 4,.8 4,-1.1 4,.4 4,.4 4,1.7 4,-.3 4,-.2 4,-1.3 4,.1 4,-.9 4,-.6 4,-.3 4,.6 4,.4 4,.4 4,-.2 4,-.6 4,0 4,.2 4,.2 4,-.6 4,.3 4,.4 4,.6 4,-1.4 4,-.8 4,-.1 4,1.8 4,-.2 4,.3 4,.1 4,1.8 4,-.8 4,-1.1 4,-1.4 4,.4 4,.6 4,-.4 4,-.6 4,.6 4,.7 4,-.3 4,-.7 4,-1 4,.7" stroke-dasharray="70 4 197 2 80 3 37 2 92 2 78 2 46 4"/><path d="M37.4,401.5l4,-.2 4,-2.3 4,.4 4,1 4,-.2 4,.4 4,-.1 4,.1 4,.6 4,-2.1 4,-.5 4,-0 4,-.6 4,.8 4,.2 4,.3 4,1.5 4,-.6 4,-.6 4,0 4,-.5 4,1.4 4,-0 4,-1.3 4,.8 4,-.5 4,.1 4,.2 4,-1.6 4,1.1 4,1.2 4,.1 4,.7 4,-1.3 4,-1 4,.5 4,-1 4,-.8 4,-.1 4,-.1 4,2 4,.4 4,-1.6 4,.4 4,-.1 4,.4 4,.2 4,-1.3 4,1.3 4,1 4,-1.4 4,.1 4,-.2 4,.9 4,1.2 4,-1.2 4,1.3 4,2.2 4,-.2 4,-.5 4,-1.7 4,-.2 4,2 4,-1.4 4,-.6 4,.5 4,1 4,1.4 4,-1.6 4,-1.9 4,1 4,.3 4,-.4 4,-.6 4,-1.5 4,.9 4,-.2 4,-2.3 4,.3 4,-0 4,.6 4,.8 4,-1 4,.9 4,.7 4,-1.8 4,-.4 4,-.6 4,.2 4,1.5 4,-.8 4,.6 4,1.4 4,0 4,.6 4,-1 4,-.1 4,2.1 4,.3 4,-.4 4,.2 4,-1.5 4,.7 4,.4 4,-.8 4,.9 4,-.2 4,.9 4,1.6 4,-1.3 4,-.9 4,-.6 4,-1 4,.6 4,-.3 4,-.8 4,1.5 4,-.3 4,-.1 4,-.2 4,-.9 4,.9 4,.3 4,-1.1 4,1.4 4,-.1 4,-.5 4,-.7 4,-1.5 4,1.1 4,1.6 4,-.9 4,.5 4,.4 4,1.5 4,.3 4,-2.4 4,-1.2 4,1.1 4,.1 4,.3 4,-1.3 4,-.4 4,2.3 4,-.8 4,-1 4,-.1 4,-0" stroke-dasharray="53 3 119 2 150 4 119 2 60 2 140 4"/></g></defs>
<g mask="url(#mz1)" style="mix-blend-mode:hard-light" opacity="0.75" fill="none"><use href="#rf1" stroke="#f6f6f6" stroke-width="1.15"/><use href="#rf1" y="1.15" stroke="#080808" stroke-width="1.1"/></g>
<g mask="url(#md1)" style="mix-blend-mode:hard-light" opacity="0.75" fill="none"><g mask="url(#mp1)"><use href="#rf1" stroke="#f6f6f6" stroke-width="1.15"/><use href="#rf1" y="1.15" stroke="#080808" stroke-width="1.1"/></g></g>
<defs><mask id="mv1" maskUnits="userSpaceOnUse" x="0" y="0" width="685" height="610"><use href="#pt1" filter="url(#vm)"/></mask></defs>
<g mask="url(#mv1)" opacity="0.55"><use href="#pt1"/></g>
<defs><g id="rs1_0"><path d="M430.0,318.0l4,.9 4,1.1 4,-.8 4,-1.2 4,-.1 4,0 4,.3 4,.5 4,-.4 4,-.5 4,1.1 4,.4 4,-.6 4,-.8 4,-.8 4,-.7 4,1 4,.1 4,-1.4 4,-.8 4,.4 4,0 4,.9 4,-.3 4,-1.1 4,-.1 4,1.2 4,.4 4,-.9 4,-.7 4,-.5 4,.6 4,1 4,.1" stroke-dasharray="52 2 55 5 133 3"/><path d="M430.0,322.3l4,.9 4,-.4 4,-.5 4,1 4,-1.4 4,.4 4,-.2 4,0 4,.4 4,.2 4,-.5 4,.8 4,-.9 4,.3 4,-.5 4,.1 4,-.5 4,-.5 4,-.3 4,-.5 4,-.6 4,.4 4,-.4 4,.2 4,.9 4,-1 4,.9 4,-.8 4,-.5 4,.2 4,-.4 4,-.1 4,1.1 4,-.9" stroke-dasharray="150 2"/><path d="M430.0,327.2l4,-1 4,.7 4,-.3 4,.1 4,-.9 4,.3 4,1.1 4,-.8 4,-.1 4,-.4 4,1.1 4,-.5 4,-.4 4,-0 4,.5 4,.3 4,-1.5 4,.1 4,-.6 4,-.3 4,-1.7 4,.2 4,1.2 4,-.2 4,.3 4,-.3 4,1.1 4,-1.1 4,-.5 4,-.6 4,.3 4,.4 4,-.6 4,1.1" stroke-dasharray="134 5 86 2"/><path d="M430.0,330.5l4,-.6 4,.1 4,1.2 4,-.6 4,-0 4,-1.1 4,1.4 4,0 4,.4 4,-1.6 4,-.5 4,.4 4,.9 4,.8 4,-1.2 4,.2 4,-.7 4,1.1 4,-1.6 4,-1.2 4,-1.2 4,.5 4,1 4,.5 4,-.1 4,-.7 4,.9 4,-.7 4,.1 4,-1.7 4,.4 4,.3 4,.9 4,.3" stroke-dasharray="179 2"/><path d="M430.0,335.4l4,-.9 4,-.8 4,-.4 4,.7 4,1.2 4,-.8 4,.1 4,-.3 4,-.1 4,.6 4,-.8 4,-.6 4,.3 4,.3 4,.9 4,.3 4,-.5 4,-1 4,-.5 4,-1 4,-.6 4,.1 4,-.2 4,.4 4,.9 4,-.2 4,-.1 4,-.2 4,-.7 4,-.3 4,.2 4,-.5 4,1.1 4,.3" stroke-dasharray="136 3 156 2"/><path d="M430.0,337.7l4,1.2 4,-1 4,-0 4,-.6 4,1.3 4,-.7 4,.8 4,-.3 4,.6 4,-1.7 4,-.5 4,-.1 4,1.6 4,-.5 4,.3 4,-.3 4,1.2 4,-.7 4,-1.5 4,-1.3 4,.2 4,-.1 4,-.1 4,.3 4,.8 4,.1 4,-1.1 4,.2 4,-.2 4,.1 4,-1.5 4,.6 4,.9 4,1.3" stroke-dasharray="87 2 160 2"/><path d="M430.0,342.3l4,.5 4,-.3 4,-1.2 4,.4 4,1 4,.3 4,-1 4,1.1 4,.1 4,-1.1 4,-1.3 4,.9 4,.4 4,-.1 4,.6 4,.6 4,-.5 4,-.6 4,-.1 4,-1.2 4,-1.2 4,-.1 4,1 4,-.3 4,-0 4,.5 4,.8 4,-1.6 4,-.4 4,.3 4,.4 4,-.9 4,.8 4,.3" stroke-dasharray="187 3"/><path d="M430.0,346.5l4,-.9 4,.9 4,-.1 4,-.3 4,-.3 4,1.1 4,.5 4,-.9 4,-.2 4,-.3 4,.1 4,-.4 4,-.4 4,1.3 4,.1 4,.2 4,-.2 4,-.4 4,-.1 4,-1.1 4,-.6 4,-.3 4,-.1 4,.8 4,-.5 4,-.2 4,.6 4,-.3 4,-0 4,-1.1 4,.9 4,.3 4,-.7 4,-0" stroke-dasharray="113 2 149 5"/><path d="M430.0,350.4l4,-.4 4,.4 4,-.4 4,-.2 4,1 4,-.4 4,.8 4,-1 4,.9 4,-1.5 4,.6 4,-.5 4,-.2 4,.5 4,1 4,-0 4,-.9 4,.7 4,-1.1 4,.3 4,-1.6 4,.7 4,-1 4,.4 4,-.2 4,.1 4,-.3 4,0 4,.8 4,-1.1 4,1 4,-.5 4,.7 4,-1.3" stroke-dasharray="120 3 190 4"/></g>
<mask id="ms1_0" maskUnits="userSpaceOnUse" x="0" y="0" width="685" height="610"><polygon points="438.8,342.3 465.0,331.4 485.5,327.7 511.8,319.0 539,316.4 557,321.9 557,340.1 523.4,335.0 498.6,340.1 473.8,346.7 438.8,348.9" fill="#fff" opacity="0.9" filter="url(#bl1)"/></mask></defs>
<g mask="url(#ms1_0)" style="mix-blend-mode:hard-light" opacity="0.75" fill="none"><g transform="rotate(-9 498 333)"><use href="#rs1_0" stroke="#f0f0f0" stroke-width="0.9"/><use href="#rs1_0" y="1.0" stroke="#080808" stroke-width="1.3"/></g></g>
<defs><g id="rs1_1"><path d="M322.4,322.2l4,-.3 4,.2 4,1.2 4,-.7 4,.9 4,.7 4,-.6 4,-1.4 4,.4 4,-.1 4,-1 4,.8" stroke-dasharray="176 2"/><path d="M322.4,326.2l4,0 4,.4 4,.1 4,.9 4,-.6 4,1.3 4,-.3 4,-1.4 4,.1 4,-.6 4,.9 4,-1.2" stroke-dasharray="52 5 159 2"/><path d="M322.4,330.2l4,.8 4,-.4 4,0 4,.6 4,.2 4,.5 4,-.3 4,-1 4,-.1 4,.6 4,-1.2 4,-.2" stroke-dasharray="161 3"/><path d="M322.4,334.7l4,-.6 4,.2 4,-.3 4,1.2 4,-.4 4,.4 4,.3 4,-1.3 4,1.1 4,-1.1 4,-.9 4,.9" stroke-dasharray="171 3"/><path d="M322.4,338.6l4,-.2 4,-.1 4,.1 4,.1 4,1.1 4,-.7 4,-.2 4,-.3 4,.8 4,-.4 4,-.9 4,-.1" stroke-dasharray="112 5"/><path d="M322.4,342.0l4,.5 4,.3 4,-.7 4,1.2 4,-.8 4,.5 4,-.1 4,-.2 4,.1 4,-.7 4,.1 4,-.5" stroke-dasharray="161 4"/></g>
<mask id="ms1_1" maskUnits="userSpaceOnUse" x="0" y="0" width="685" height="610"><polygon points="331,325.5 350,326 360.1,333 360.1,342 340,340 331,335" fill="#fff" opacity="0.8" filter="url(#bl1)"/></mask></defs>
<g mask="url(#ms1_1)" style="mix-blend-mode:hard-light" opacity="0.75" fill="none"><g transform="rotate(14 345 334)"><use href="#rs1_1" stroke="#f0f0f0" stroke-width="0.9"/><use href="#rs1_1" y="1.0" stroke="#080808" stroke-width="1.3"/></g></g>
<defs><g id="rs1_2"><path d="M449.2,298.1l4,.3 4,.1 4,-1 4,-1.2 4,-.4 4,.5 4,0 4,.3 4,.7 4,.1 4,-.3 4,-.3 4,.7 4,.2 4,-.9 4,-.2 4,.9 4,1 4,-.5 4,-1 4,-.4 4,-0 4,0 4,.2" stroke-dasharray="136 4"/><path d="M449.2,303.2l4,-.8 4,-.6 4,-.4 4,-.5 4,-.2 4,-.5 4,.7 4,0 4,.7 4,-.5 4,.8 4,-1.1 4,.3 4,-.1 4,.9 4,-.4 4,.4 4,.4 4,-.2 4,-.2 4,-1.1 4,.2 4,-.6 4,.4" stroke-dasharray="77 5 170 3"/><path d="M449.2,306.8l4,-.3 4,-.6 4,-1.1 4,.5 4,-.1 4,-.7 4,.3 4,.4 4,-.2 4,.7 4,-.1 4,-1.2 4,.7 4,.4 4,-.3 4,1.1 4,.1 4,-.2 4,.5 4,-.8 4,-1.2 4,.3 4,-.5 4,-.4" stroke-dasharray="124 5"/><path d="M449.2,309.9l4,.5 4,.1 4,-.8 4,-.7 4,-.3 4,.6 4,.5 4,-.2 4,-.5 4,.1 4,.4 4,-.8 4,-.2 4,.6 4,.9 4,.6 4,-.1 4,.2 4,-.1 4,-.3 4,-1.2 4,-.7 4,.1 4,.5" stroke-dasharray="68 2 61 5"/><path d="M449.2,314.8l4,-.4 4,-.3 4,-.6 4,.1 4,.2 4,.4 4,-.2 4,-.1 4,-.1 4,.1 4,-.3 4,-.7 4,-.3 4,.5 4,1.1 4,1.4 4,.2 4,-.4 4,-.7 4,-.4 4,-.2 4,-.5 4,-.9 4,-.2" stroke-dasharray="161 4"/><path d="M449.2,318.3l4,-.4 4,.1 4,0 4,-.3 4,0 4,.7 4,-.1 4,-.3 4,-.1 4,-.4 4,-.4 4,-.2 4,-0 4,1.1 4,.6 4,-.2 4,1 4,.7 4,-.6 4,-1.3 4,-.5 4,-.3 4,-0 4,-.3" stroke-dasharray="136 5"/></g>
<mask id="ms1_2" maskUnits="userSpaceOnUse" x="0" y="0" width="685" height="610"><polygon points="456.3,306.6 484,302.2 492.8,307.3 537.6,305.8 537.6,313.9 473.8,316.8 456.3,311.7" fill="#fff" opacity="0.6" filter="url(#bl1)"/></mask></defs>
<g mask="url(#ms1_2)" style="mix-blend-mode:hard-light" opacity="0.75" fill="none"><g transform="rotate(-4 495 309)"><use href="#rs1_2" stroke="#f0f0f0" stroke-width="0.9"/><use href="#rs1_2" y="1.0" stroke="#080808" stroke-width="1.3"/></g></g>
<path d="M224.1,318V400.4" stroke="#d8d8d8" stroke-width="0.9" stroke-dasharray="1.2 1.3" opacity="0.75"/>
<path d="M484.3,330V400.4" stroke="#d8d8d8" stroke-width="0.9" stroke-dasharray="1.2 1.3" opacity="0.75"/>
<rect x="41.4" y="234.4" width="6.1" height="166.0" fill="#858585"/>
<path d="M41.4,235.6H624.4" stroke="#111" stroke-width="1.6" opacity="0.8"/><path d="M41.4,237.20000000000002H624.4" stroke="#eee" stroke-width="1.0" opacity="0.6"/>
</g>
<rect x="41.4" y="234.4" width="15.2" height="14.3" fill="#fff"/>
<text x="48.949999999999996" y="245.9" font-size="12" font-weight="bold" text-anchor="middle" fill="#111" stroke="#111" stroke-width="0.35">b</text>
<rect x="41.8" y="388.9" width="28.6" height="11.1" fill="#fff"/>
<text x="44.6" y="397.9" font-size="10.2" fill="#222">1296</text>
<path d="M39.1,234.4H626.6 M41.4,234.4V400.4 M41.40,234.4v-3.0 M41.40,400.4v3.0 M55.47,234.4v-1.9 M55.47,400.4v1.9 M69.55,234.4v-1.9 M69.55,400.4v1.9 M83.62,234.4v-1.9 M83.62,400.4v1.9 M97.70,234.4v-3.0 M97.70,400.4v3.0 M111.78,234.4v-1.9 M111.78,400.4v1.9 M125.85,234.4v-1.9 M125.85,400.4v1.9 M139.92,234.4v-1.9 M139.92,400.4v1.9 M154.00,234.4v-3.0 M154.00,400.4v3.0 M168.07,234.4v-1.9 M168.07,400.4v1.9 M182.15,234.4v-1.9 M182.15,400.4v1.9 M196.22,234.4v-1.9 M196.22,400.4v1.9 M210.30,234.4v-3.0 M210.30,400.4v3.0 M224.38,234.4v-1.9 M224.38,400.4v1.9 M238.45,234.4v-1.9 M238.45,400.4v1.9 M252.53,234.4v-1.9 M252.53,400.4v1.9 M266.60,234.4v-3.0 M266.60,400.4v3.0 M280.68,234.4v-1.9 M280.68,400.4v1.9 M294.75,234.4v-1.9 M294.75,400.4v1.9 M308.82,234.4v-1.9 M308.82,400.4v1.9 M322.90,234.4v-3.0 M322.90,400.4v3.0 M336.97,234.4v-1.9 M336.97,400.4v1.9 M351.05,234.4v-1.9 M351.05,400.4v1.9 M365.12,234.4v-1.9 M365.12,400.4v1.9 M379.20,234.4v-3.0 M379.20,400.4v3.0 M393.27,234.4v-1.9 M393.27,400.4v1.9 M407.35,234.4v-1.9 M407.35,400.4v1.9 M421.42,234.4v-1.9 M421.42,400.4v1.9 M435.50,234.4v-3.0 M435.50,400.4v3.0 M449.57,234.4v-1.9 M449.57,400.4v1.9 M463.65,234.4v-1.9 M463.65,400.4v1.9 M477.72,234.4v-1.9 M477.72,400.4v1.9 M491.80,234.4v-3.0 M491.80,400.4v3.0 M505.87,234.4v-1.9 M505.87,400.4v1.9 M519.95,234.4v-1.9 M519.95,400.4v1.9 M534.02,234.4v-1.9 M534.02,400.4v1.9 M548.10,234.4v-3.0 M548.10,400.4v3.0 M562.17,234.4v-1.9 M562.17,400.4v1.9 M576.25,234.4v-1.9 M576.25,400.4v1.9 M590.32,234.4v-1.9 M590.32,400.4v1.9 M604.40,234.4v-3.0 M604.40,400.4v3.0 M618.48,234.4v-1.9 M618.48,400.4v1.9 M41.4,234.40h-2.3 M41.4,267.60h-2.3 M624.4,267.60h2.4 M41.4,300.80h-2.3 M624.4,300.80h2.4 M41.4,334.00h-2.3 M624.4,334.00h2.4 M41.4,367.20h-2.3 M624.4,367.20h2.4 M41.4,400.40h-2.3" stroke="#222" stroke-width="0.9" fill="none"/>
<path d="M41.4,400.4H626.6" stroke="#555" stroke-width="0.9" fill="none"/>
<path d="M624.4,234.4V400.4" stroke="#777" stroke-width="0.8" fill="none"/>
<text x="41.90" y="226.5" font-size="10" text-anchor="middle">0</text>
<text x="98.20" y="226.5" font-size="10" text-anchor="middle">20</text>
<text x="154.50" y="226.5" font-size="10" text-anchor="middle">40</text>
<text x="210.80" y="226.5" font-size="10" text-anchor="middle">60</text>
<text x="267.10" y="226.5" font-size="10" text-anchor="middle">80</text>
<text x="323.40" y="226.5" font-size="10" text-anchor="middle">100</text>
<text x="379.70" y="226.5" font-size="10" text-anchor="middle">120</text>
<text x="436.00" y="226.5" font-size="10" text-anchor="middle">140</text>
<text x="492.30" y="226.5" font-size="10" text-anchor="middle">160</text>
<text x="548.60" y="226.5" font-size="10" text-anchor="middle">180</text>
<text x="604.90" y="226.5" font-size="10" text-anchor="middle">200</text>
<text x="333.10" y="214.8" font-size="11.3" text-anchor="middle">Distance (km)</text>
<text x="36.2" y="238.00" font-size="10" text-anchor="end">200</text>
<text x="36.2" y="271.20" font-size="10" text-anchor="end">400</text>
<text x="36.2" y="304.40" font-size="10" text-anchor="end">600</text>
<text x="36.2" y="337.60" font-size="10" text-anchor="end">800</text>
<text x="36.2" y="370.80" font-size="10" text-anchor="end">1000</text>
<text x="36.2" y="404.00" font-size="10" text-anchor="end">1200</text>
<text transform="translate(9.4,317.40) rotate(-90)" font-size="11.5" text-anchor="middle">Depth (m)</text>
<rect x="638.2" y="234.40" width="18.59999999999991" height="33.50" fill="#F28022"/>
<rect x="638.2" y="267.60" width="18.59999999999991" height="33.50" fill="#F0FF40"/>
<rect x="638.2" y="300.80" width="18.59999999999991" height="33.50" fill="#99FF88"/>
<rect x="638.2" y="334.00" width="18.59999999999991" height="33.50" fill="#7AFFFF"/>
<rect x="638.2" y="367.20" width="18.59999999999991" height="33.50" fill="#4A8AFF"/>
<rect x="638.2" y="234.4" width="18.59999999999991" height="166.0" fill="none" stroke="#333" stroke-width="0.8"/>
<text x="661.4" y="237.80" font-size="9.4">&gt;1.25</text>
<text x="661.4" y="271.00" font-size="9.4">1</text>
<text x="661.4" y="304.20" font-size="9.4">0.75</text>
<text x="661.4" y="337.40" font-size="9.4">0.5</text>
<text x="661.4" y="370.60" font-size="9.4">0.25</text>
<text x="661.4" y="403.80" font-size="9.4">0</text>
<path d="M656.8,234.40h2.4 M656.8,267.60h2.4 M656.8,300.80h2.4 M656.8,334.00h2.4 M656.8,367.20h2.4 M656.8,400.40h2.4" stroke="#333" stroke-width="0.8"/>
<text x="647.50" y="227.9" font-size="9" text-anchor="middle">Ri</text>
<rect x="41.4" y="439.4" width="583.0" height="166.0" fill="#888"/>
<defs><clipPath id="cp2"><rect x="41.4" y="439.4" width="583.0" height="166.0"/></clipPath>
<mask id="mz2" maskUnits="userSpaceOnUse" x="0" y="0" width="685" height="610"><g filter="url(#bl2)"><polygon points="41.4,439.4 624.4,439.4 624.4,495 560,492 530,490 512,507 479,509 440,510 400,510 350,508 345,500 333,495 300,490 250,490 220,492 187,488 150,485 100,488 60,497 41.4,497" fill="#fff"/></g></mask>
<mask id="md2" maskUnits="userSpaceOnUse" x="0" y="0" width="685" height="610"><rect x="41.4" y="439.4" width="583.0" height="166.0" fill="#707070"/><g filter="url(#bl2)"><polygon points="41,522 187,522 187,565 41,565" fill="#ccc"/><polygon points="345,522 460,522 460,570 345,570" fill="#ccc"/><polygon points="333,505 625,505 625,530 333,530" fill="#ccc"/><polygon points="187,488 333,488 333,510 187,510" fill="#ccc"/></g></mask>
<mask id="mp2" maskUnits="userSpaceOnUse" x="0" y="0" width="685" height="610"><use href="#pt2" filter="url(#pm)"/></mask>
</defs>
<g clip-path="url(#cp2)" style="isolation:isolate">
<rect x="41.4" y="439.4" width="583.0" height="166.0" fill="#868686"/>
<g id="pt2">
<rect x="126.3" y="443.3" width="60.7" height="27.7" fill="#F28022"/>
<rect x="81.5" y="451.8" width="44.8" height="27.7" fill="#F28022"/>
<rect x="45.3" y="468.8" width="32.0" height="19.2" fill="#F28022"/>
<rect x="100.7" y="477.4" width="34.1" height="11.7" fill="#F28022"/>
<rect x="87.9" y="444.3" width="38.4" height="9.6" fill="#F28022"/>
<rect x="50.6" y="458.2" width="18.1" height="12.8" fill="#4A8AFF"/>
<rect x="126.3" y="451.8" width="14.9" height="12.8" fill="#4A8AFF"/>
<rect x="63.4" y="511.5" width="16.0" height="11.5" fill="#4A8AFF"/>
<rect x="55.9" y="443.3" width="20.2" height="8.5" fill="#F28022"/>
<rect x="75.1" y="468.8" width="13.9" height="10.7" fill="#4A8AFF"/>
<rect x="101.7" y="478.4" width="17.1" height="8.5" fill="#7AFFFF"/>
<rect x="141.2" y="471.0" width="14.9" height="9.6" fill="#F28022"/>
<rect x="124.1" y="478.4" width="10.7" height="10.7" fill="#F0FF40"/>
<rect x="171.0" y="472.0" width="14.9" height="7.5" fill="#99FF88"/>
<rect x="156.1" y="471.0" width="14.9" height="7.5" fill="#7AFFFF"/>
<rect x="66.6" y="462.4" width="12.8" height="8.5" fill="#99FF88"/>
<rect x="46.3" y="488.0" width="10.7" height="9.6" fill="#F28022"/>
<rect x="129.4" y="467.8" width="16.0" height="6.4" fill="#99FF88"/>
<rect x="103.9" y="462.4" width="13.9" height="6.4" fill="#7AFFFF"/>
<rect x="171.0" y="444.3" width="16.0" height="5.3" fill="#99FF88"/>
<rect x="89.0" y="517.9" width="16.0" height="5.1" fill="#4A8AFF"/>
<rect x="156.1" y="477.4" width="12.8" height="5.3" fill="#4A8AFF"/>
<rect x="55.9" y="457.1" width="12.8" height="4.3" fill="#7AFFFF"/>
<rect x="126.3" y="451.8" width="14.9" height="3.2" fill="#7AFFFF"/>
<rect x="141.2" y="457.1" width="8.5" height="5.3" fill="#F0FF40"/>
<rect x="109.2" y="461.4" width="10.7" height="4.3" fill="#99FF88"/>
<rect x="108.1" y="464.6" width="8.5" height="5.3" fill="#4A8AFF"/>
<rect x="117.7" y="481.6" width="8.5" height="5.3" fill="#99FF88"/>
<rect x="173.1" y="447.5" width="8.5" height="4.3" fill="#F0FF40"/>
<rect x="128.4" y="471.0" width="8.5" height="4.3" fill="#F0FF40"/>
<rect x="115.6" y="453.9" width="6.4" height="5.3" fill="#99FF88"/>
<rect x="144.4" y="521.1" width="16.0" height="1.9" fill="#F28022"/>
<rect x="62.3" y="464.6" width="6.4" height="4.3" fill="#7AFFFF"/>
<rect x="79.4" y="465.6" width="6.4" height="4.3" fill="#7AFFFF"/>
<rect x="122.0" y="455.0" width="4.3" height="5.3" fill="#F0FF40"/>
<rect x="183.8" y="446.5" width="3.2" height="5.3" fill="#7AFFFF"/>
<rect x="240.3" y="473.1" width="92.7" height="16.0" fill="#F28022"/>
<rect x="289.3" y="444.3" width="43.7" height="13.9" fill="#F28022"/>
<rect x="210.4" y="474.2" width="29.8" height="18.1" fill="#F28022"/>
<rect x="187.0" y="452.9" width="40.5" height="9.6" fill="#F28022"/>
<rect x="295.7" y="465.6" width="19.2" height="16.0" fill="#F28022"/>
<rect x="187.0" y="462.4" width="17.1" height="17.1" fill="#F28022"/>
<rect x="254.1" y="493.3" width="24.5" height="11.7" fill="#F28022"/>
<rect x="204.1" y="464.6" width="17.1" height="11.7" fill="#7AFFFF"/>
<rect x="303.2" y="453.9" width="20.2" height="9.6" fill="#7AFFFF"/>
<rect x="319.1" y="460.3" width="13.9" height="12.8" fill="#F28022"/>
<rect x="207.2" y="469.9" width="14.9" height="11.7" fill="#4A8AFF"/>
<rect x="187.0" y="445.4" width="16.0" height="9.6" fill="#F28022"/>
<rect x="242.4" y="498.7" width="12.8" height="10.7" fill="#4A8AFF"/>
<rect x="221.1" y="460.3" width="14.9" height="8.5" fill="#F28022"/>
<rect x="254.1" y="488.0" width="18.1" height="6.4" fill="#7AFFFF"/>
<rect x="191.3" y="512.5" width="16.0" height="6.4" fill="#F28022"/>
<rect x="261.6" y="468.8" width="14.9" height="6.4" fill="#7AFFFF"/>
<rect x="280.8" y="484.8" width="12.8" height="7.5" fill="#4A8AFF"/>
<rect x="242.4" y="444.3" width="13.9" height="6.4" fill="#F28022"/>
<rect x="276.5" y="444.3" width="14.9" height="4.9" fill="#F0FF40"/>
<rect x="187.0" y="455.0" width="8.5" height="7.5" fill="#F0FF40"/>
<rect x="319.1" y="490.2" width="13.9" height="4.3" fill="#7AFFFF"/>
<rect x="291.4" y="449.7" width="10.7" height="5.3" fill="#F0FF40"/>
<rect x="204.1" y="465.6" width="10.7" height="5.3" fill="#99FF88"/>
<rect x="255.2" y="502.9" width="12.8" height="4.3" fill="#99FF88"/>
<rect x="269.1" y="493.3" width="9.6" height="5.3" fill="#7AFFFF"/>
<rect x="314.9" y="457.1" width="10.7" height="4.3" fill="#99FF88"/>
<rect x="250.9" y="469.9" width="10.7" height="4.3" fill="#7AFFFF"/>
<rect x="327.7" y="493.3" width="5.3" height="7.5" fill="#F28022"/>
<rect x="212.6" y="462.4" width="8.5" height="4.3" fill="#7AFFFF"/>
<rect x="297.8" y="446.5" width="8.5" height="4.3" fill="#7AFFFF"/>
<rect x="257.3" y="490.2" width="10.7" height="3.2" fill="#99FF88"/>
<rect x="225.4" y="483.8" width="9.6" height="3.2" fill="#99FF88"/>
<rect x="199.8" y="473.1" width="4.3" height="6.4" fill="#F0FF40"/>
<rect x="221.1" y="484.8" width="8.5" height="3.2" fill="#7AFFFF"/>
<rect x="285.0" y="483.8" width="8.5" height="3.2" fill="#7AFFFF"/>
<rect x="323.4" y="489.1" width="9.6" height="2.1" fill="#99FF88"/>
<rect x="276.5" y="473.1" width="4.3" height="3.2" fill="#99FF88"/>
<rect x="187.0" y="512.5" width="2.1" height="6.4" fill="#4A8AFF"/>
<rect x="222.2" y="485.9" width="3.2" height="2.1" fill="#4A8AFF"/>
<rect x="333.0" y="443.7" width="146.0" height="65.6" fill="#F28022"/>
<rect x="386.3" y="457.1" width="23.4" height="17.1" fill="#7AFFFF"/>
<rect x="458.7" y="450.7" width="14.9" height="18.1" fill="#7AFFFF"/>
<rect x="387.3" y="493.3" width="21.3" height="11.7" fill="#4A8AFF"/>
<rect x="390.5" y="460.3" width="19.2" height="12.8" fill="#4A8AFF"/>
<rect x="333.0" y="500.8" width="10.7" height="22.2" fill="#868686"/>
<rect x="441.7" y="512.5" width="19.2" height="10.4" fill="#4A8AFF"/>
<rect x="388.4" y="511.5" width="17.1" height="11.5" fill="#4A8AFF"/>
<rect x="433.2" y="451.8" width="12.8" height="14.9" fill="#7AFFFF"/>
<rect x="339.4" y="469.9" width="14.9" height="11.7" fill="#7AFFFF"/>
<rect x="405.5" y="511.5" width="12.8" height="11.5" fill="#F28022"/>
<rect x="418.3" y="507.2" width="17.1" height="8.5" fill="#4A8AFF"/>
<rect x="341.5" y="490.2" width="10.7" height="12.8" fill="#7AFFFF"/>
<rect x="460.9" y="515.7" width="18.1" height="7.2" fill="#F28022"/>
<rect x="418.3" y="514.7" width="14.9" height="8.3" fill="#4A8AFF"/>
<rect x="365.0" y="509.3" width="19.2" height="6.4" fill="#4A8AFF"/>
<rect x="465.1" y="507.2" width="13.9" height="8.5" fill="#4A8AFF"/>
<rect x="409.7" y="463.5" width="17.1" height="6.4" fill="#99FF88"/>
<rect x="446.0" y="456.1" width="14.9" height="6.4" fill="#868686"/>
<rect x="386.3" y="462.4" width="10.7" height="8.5" fill="#99FF88"/>
<rect x="382.0" y="512.5" width="8.5" height="10.4" fill="#F28022"/>
<rect x="341.5" y="473.1" width="10.7" height="7.5" fill="#4A8AFF"/>
<rect x="333.0" y="490.2" width="8.5" height="8.5" fill="#99FF88"/>
<rect x="469.4" y="446.5" width="9.6" height="7.5" fill="#99FF88"/>
<rect x="365.0" y="518.9" width="17.1" height="4.0" fill="#4A8AFF"/>
<rect x="460.9" y="455.0" width="12.8" height="5.3" fill="#4A8AFF"/>
<rect x="417.2" y="505.1" width="16.0" height="4.3" fill="#99FF88"/>
<rect x="379.9" y="445.4" width="8.5" height="7.5" fill="#99FF88"/>
<rect x="354.3" y="510.4" width="11.7" height="5.3" fill="#99FF88"/>
<rect x="396.9" y="510.4" width="9.6" height="6.4" fill="#7AFFFF"/>
<rect x="387.3" y="498.7" width="13.9" height="4.3" fill="#7AFFFF"/>
<rect x="435.3" y="456.1" width="8.5" height="6.4" fill="#4A8AFF"/>
<rect x="448.1" y="514.7" width="8.5" height="6.4" fill="#7AFFFF"/>
<rect x="411.9" y="448.6" width="6.4" height="7.5" fill="#99FF88"/>
<rect x="414.0" y="464.6" width="10.7" height="4.3" fill="#7AFFFF"/>
<rect x="345.8" y="507.2" width="12.8" height="3.2" fill="#7AFFFF"/>
<rect x="467.3" y="447.5" width="8.5" height="4.3" fill="#4A8AFF"/>
<rect x="401.2" y="500.8" width="8.5" height="4.3" fill="#99FF88"/>
<rect x="361.8" y="506.1" width="10.7" height="3.2" fill="#7AFFFF"/>
<rect x="446.0" y="505.1" width="6.4" height="5.3" fill="#7AFFFF"/>
<rect x="377.8" y="450.7" width="8.5" height="3.2" fill="#7AFFFF"/>
<rect x="471.5" y="505.1" width="7.5" height="3.2" fill="#7AFFFF"/>
<rect x="367.1" y="466.7" width="5.3" height="4.3" fill="#F0FF40"/>
<rect x="437.4" y="450.7" width="6.4" height="3.2" fill="#99FF88"/>
<rect x="343.7" y="452.9" width="6.4" height="3.2" fill="#F0FF40"/>
<rect x="343.7" y="468.8" width="6.4" height="3.2" fill="#99FF88"/>
<rect x="333.0" y="494.4" width="4.3" height="3.2" fill="#F0FF40"/>
<rect x="479.0" y="443.7" width="146.0" height="46.5" fill="#F28022"/>
<rect x="479.0" y="490.2" width="32.0" height="17.1" fill="#F28022"/>
<rect x="528.0" y="479.5" width="32.0" height="10.7" fill="#7AFFFF"/>
<rect x="532.3" y="459.2" width="19.2" height="13.9" fill="#99FF88"/>
<rect x="487.5" y="509.3" width="23.4" height="10.7" fill="#4A8AFF"/>
<rect x="579.2" y="479.5" width="19.2" height="12.8" fill="#7AFFFF"/>
<rect x="604.7" y="483.8" width="20.2" height="10.7" fill="#F28022"/>
<rect x="606.9" y="492.3" width="18.1" height="10.7" fill="#99FF88"/>
<rect x="489.7" y="452.9" width="11.7" height="13.9" fill="#868686"/>
<rect x="562.1" y="447.5" width="14.9" height="10.7" fill="#7AFFFF"/>
<rect x="479.0" y="511.5" width="12.8" height="11.5" fill="#F28022"/>
<rect x="517.4" y="488.0" width="12.8" height="10.7" fill="#4A8AFF"/>
<rect x="553.6" y="492.3" width="12.8" height="10.7" fill="#4A8AFF"/>
<rect x="611.1" y="468.8" width="13.9" height="9.6" fill="#4A8AFF"/>
<rect x="564.3" y="479.5" width="14.9" height="8.5" fill="#7AFFFF"/>
<rect x="529.1" y="496.5" width="13.9" height="8.5" fill="#4A8AFF"/>
<rect x="564.3" y="502.9" width="14.9" height="7.5" fill="#F28022"/>
<rect x="566.4" y="490.2" width="10.7" height="9.6" fill="#F28022"/>
<rect x="530.2" y="448.6" width="12.8" height="7.5" fill="#7AFFFF"/>
<rect x="521.6" y="462.4" width="12.8" height="7.5" fill="#4A8AFF"/>
<rect x="528.0" y="492.3" width="14.9" height="6.4" fill="#F28022"/>
<rect x="585.6" y="483.8" width="12.8" height="7.5" fill="#99FF88"/>
<rect x="542.9" y="464.6" width="10.7" height="8.5" fill="#7AFFFF"/>
<rect x="511.0" y="509.3" width="12.8" height="6.4" fill="#F28022"/>
<rect x="487.5" y="448.6" width="14.9" height="5.3" fill="#7AFFFF"/>
<rect x="579.2" y="492.3" width="10.7" height="7.5" fill="#4A8AFF"/>
<rect x="485.4" y="507.2" width="14.9" height="5.3" fill="#7AFFFF"/>
<rect x="511.0" y="515.7" width="10.7" height="7.2" fill="#4A8AFF"/>
<rect x="556.8" y="464.6" width="11.7" height="6.4" fill="#99FF88"/>
<rect x="588.8" y="445.4" width="13.9" height="5.3" fill="#F0FF40"/>
<rect x="592.0" y="471.0" width="12.8" height="5.3" fill="#99FF88"/>
<rect x="566.4" y="497.6" width="12.8" height="5.3" fill="#4A8AFF"/>
<rect x="502.4" y="513.6" width="10.7" height="6.4" fill="#7AFFFF"/>
<rect x="613.3" y="463.5" width="11.7" height="5.3" fill="#7AFFFF"/>
<rect x="611.1" y="492.3" width="13.9" height="4.3" fill="#F0FF40"/>
<rect x="589.8" y="448.6" width="10.7" height="5.3" fill="#99FF88"/>
<rect x="496.1" y="449.7" width="12.8" height="4.3" fill="#99FF88"/>
<rect x="566.4" y="447.5" width="12.8" height="4.3" fill="#99FF88"/>
<rect x="594.1" y="451.8" width="8.5" height="6.4" fill="#7AFFFF"/>
<rect x="579.2" y="467.8" width="8.5" height="6.4" fill="#7AFFFF"/>
<rect x="579.2" y="458.2" width="10.7" height="4.3" fill="#868686"/>
<rect x="487.5" y="468.8" width="10.7" height="4.3" fill="#7AFFFF"/>
<rect x="568.5" y="483.8" width="10.7" height="4.3" fill="#4A8AFF"/>
<rect x="531.2" y="488.0" width="9.6" height="4.3" fill="#99FF88"/>
<rect x="495.0" y="451.8" width="8.5" height="4.3" fill="#F0FF40"/>
<rect x="606.9" y="451.8" width="8.5" height="4.3" fill="#7AFFFF"/>
<rect x="581.3" y="464.6" width="8.5" height="4.3" fill="#99FF88"/>
<rect x="606.9" y="464.6" width="8.5" height="4.3" fill="#99FF88"/>
<rect x="594.1" y="475.2" width="8.5" height="4.3" fill="#F0FF40"/>
<rect x="589.8" y="483.8" width="8.5" height="4.3" fill="#4A8AFF"/>
<rect x="479.0" y="507.2" width="8.5" height="4.3" fill="#99FF88"/>
<rect x="479.0" y="515.7" width="8.5" height="4.3" fill="#7AFFFF"/>
<rect x="486.5" y="445.4" width="5.3" height="6.4" fill="#99FF88"/>
<rect x="553.6" y="468.8" width="6.4" height="5.3" fill="#4A8AFF"/>
<rect x="516.3" y="451.8" width="7.5" height="4.3" fill="#99FF88"/>
<rect x="508.8" y="453.9" width="6.4" height="4.3" fill="#4A8AFF"/>
<rect x="542.9" y="457.1" width="6.4" height="4.3" fill="#F0FF40"/>
<rect x="564.3" y="455.0" width="8.5" height="3.2" fill="#4A8AFF"/>
<rect x="487.5" y="468.8" width="8.5" height="3.2" fill="#4A8AFF"/>
<rect x="534.4" y="494.4" width="8.5" height="3.2" fill="#F0FF40"/>
<rect x="128.4" y="522.0" width="44.8" height="13.9" fill="#F28022"/>
<rect x="77.2" y="524.1" width="27.7" height="9.6" fill="#4A8AFF"/>
<rect x="46.3" y="547.6" width="16.0" height="13.9" fill="#4A8AFF"/>
<rect x="104.9" y="528.4" width="25.6" height="8.5" fill="#4A8AFF"/>
<rect x="98.5" y="544.4" width="14.9" height="12.8" fill="#4A8AFF"/>
<rect x="46.3" y="528.4" width="16.0" height="11.7" fill="#4A8AFF"/>
<rect x="142.2" y="536.9" width="16.0" height="9.6" fill="#F28022"/>
<rect x="146.5" y="547.6" width="16.0" height="9.6" fill="#7AFFFF"/>
<rect x="99.6" y="545.4" width="12.8" height="10.7" fill="#7AFFFF"/>
<rect x="50.6" y="527.3" width="18.1" height="7.5" fill="#F28022"/>
<rect x="117.7" y="541.2" width="14.9" height="8.5" fill="#4A8AFF"/>
<rect x="83.6" y="533.7" width="16.0" height="6.4" fill="#F28022"/>
<rect x="175.3" y="548.6" width="11.7" height="8.5" fill="#F0FF40"/>
<rect x="58.1" y="556.1" width="12.8" height="7.5" fill="#7AFFFF"/>
<rect x="166.7" y="522.0" width="20.2" height="4.3" fill="#4A8AFF"/>
<rect x="66.6" y="549.3" width="10.7" height="7.9" fill="#99FF88"/>
<rect x="57.0" y="548.6" width="10.7" height="7.5" fill="#F28022"/>
<rect x="87.9" y="522.0" width="17.1" height="4.3" fill="#4A8AFF"/>
<rect x="96.4" y="530.5" width="8.5" height="7.5" fill="#4A8AFF"/>
<rect x="126.3" y="524.1" width="8.5" height="6.4" fill="#99FF88"/>
<rect x="100.7" y="554.0" width="11.7" height="4.3" fill="#99FF88"/>
<rect x="46.3" y="542.2" width="8.5" height="5.3" fill="#7AFFFF"/>
<rect x="70.8" y="522.0" width="12.8" height="2.1" fill="#4A8AFF"/>
<rect x="112.4" y="545.4" width="3.2" height="8.5" fill="#F28022"/>
<rect x="162.5" y="523.1" width="6.4" height="4.3" fill="#7AFFFF"/>
<rect x="149.7" y="535.9" width="8.5" height="3.2" fill="#F0FF40"/>
<rect x="63.4" y="551.8" width="5.3" height="4.3" fill="#F0FF40"/>
<rect x="53.8" y="529.5" width="6.4" height="3.2" fill="#7AFFFF"/>
<rect x="82.6" y="534.8" width="3.2" height="3.2" fill="#F0FF40"/>
<rect x="191.3" y="525.8" width="13.9" height="13.2" fill="#F28022"/>
<rect x="203.0" y="537.3" width="15.6" height="8.1" fill="#F28022"/>
<rect x="317.0" y="530.5" width="14.9" height="5.3" fill="#4A8AFF"/>
<rect x="317.0" y="535.9" width="12.8" height="2.8" fill="#7AFFFF"/>
<rect x="187.0" y="549.3" width="4.3" height="7.9" fill="#F0FF40"/>
<rect x="187.0" y="529.5" width="4.3" height="7.5" fill="#7AFFFF"/>
<rect x="187.0" y="532.7" width="2.1" height="3.2" fill="#F0FF40"/>
<rect x="358.6" y="533.7" width="27.7" height="26.6" fill="#4A8AFF"/>
<rect x="396.9" y="534.8" width="27.7" height="19.2" fill="#4A8AFF"/>
<rect x="372.4" y="543.3" width="24.5" height="20.2" fill="#7AFFFF"/>
<rect x="450.2" y="525.2" width="28.8" height="17.1" fill="#F28022"/>
<rect x="423.6" y="532.7" width="16.0" height="29.8" fill="#F28022"/>
<rect x="396.9" y="549.7" width="27.7" height="14.9" fill="#7AFFFF"/>
<rect x="358.6" y="522.0" width="32.0" height="12.8" fill="#4A8AFF"/>
<rect x="343.7" y="556.1" width="21.3" height="9.6" fill="#4A8AFF"/>
<rect x="382.0" y="535.9" width="21.3" height="9.6" fill="#7AFFFF"/>
<rect x="439.6" y="536.9" width="17.1" height="10.7" fill="#F28022"/>
<rect x="440.6" y="564.6" width="23.4" height="7.5" fill="#4A8AFF"/>
<rect x="427.8" y="525.2" width="16.0" height="9.6" fill="#4A8AFF"/>
<rect x="406.5" y="525.2" width="14.9" height="8.5" fill="#F28022"/>
<rect x="345.4" y="532.7" width="14.3" height="8.1" fill="#F28022"/>
<rect x="352.2" y="551.8" width="12.8" height="7.5" fill="#7AFFFF"/>
<rect x="442.8" y="543.3" width="16.0" height="5.3" fill="#7AFFFF"/>
<rect x="437.4" y="525.2" width="12.8" height="6.4" fill="#F28022"/>
<rect x="390.5" y="563.6" width="12.8" height="6.4" fill="#F28022"/>
<rect x="455.5" y="522.0" width="14.9" height="5.3" fill="#4A8AFF"/>
<rect x="418.3" y="558.2" width="14.9" height="5.3" fill="#F0FF40"/>
<rect x="440.6" y="522.0" width="13.9" height="5.3" fill="#4A8AFF"/>
<rect x="376.7" y="550.8" width="13.9" height="5.3" fill="#F0FF40"/>
<rect x="425.7" y="568.9" width="13.9" height="3.2" fill="#F28022"/>
<rect x="449.2" y="541.2" width="9.6" height="4.3" fill="#99FF88"/>
<rect x="472.6" y="527.3" width="6.4" height="6.4" fill="#4A8AFF"/>
<rect x="449.2" y="565.7" width="6.4" height="6.4" fill="#7AFFFF"/>
<rect x="390.5" y="541.2" width="8.5" height="4.3" fill="#99FF88"/>
<rect x="419.3" y="551.8" width="5.3" height="6.4" fill="#99FF88"/>
<rect x="471.5" y="522.0" width="7.5" height="4.3" fill="#F28022"/>
<rect x="381.0" y="551.8" width="7.5" height="3.2" fill="#F28022"/>
<rect x="396.9" y="522.0" width="12.8" height="1.7" fill="#4A8AFF"/>
<rect x="452.4" y="522.0" width="8.5" height="2.1" fill="#F28022"/>
<rect x="473.7" y="530.5" width="5.3" height="3.2" fill="#F0FF40"/>
<rect x="390.5" y="522.0" width="6.4" height="2.1" fill="#F28022"/>
<rect x="450.2" y="567.8" width="4.3" height="3.2" fill="#F28022"/>
<rect x="508.8" y="545.4" width="19.2" height="11.7" fill="#F28022"/>
<rect x="506.7" y="530.5" width="16.0" height="13.9" fill="#4A8AFF"/>
<rect x="498.2" y="522.0" width="23.4" height="8.5" fill="#4A8AFF"/>
<rect x="479.0" y="522.0" width="18.1" height="9.6" fill="#F28022"/>
<rect x="490.7" y="548.6" width="18.1" height="8.5" fill="#F28022"/>
<rect x="582.4" y="546.5" width="16.0" height="9.6" fill="#F28022"/>
<rect x="585.6" y="539.1" width="14.9" height="8.5" fill="#F28022"/>
<rect x="527.0" y="544.4" width="12.8" height="9.6" fill="#F28022"/>
<rect x="529.1" y="543.3" width="12.8" height="7.5" fill="#99FF88"/>
<rect x="488.6" y="556.1" width="18.1" height="4.3" fill="#7AFFFF"/>
<rect x="584.5" y="555.7" width="16.0" height="3.0" fill="#7AFFFF"/>
<rect x="534.4" y="546.5" width="6.4" height="4.3" fill="#F0FF40"/>
<rect x="592.0" y="551.8" width="6.4" height="4.3" fill="#99FF88"/>
<rect x="506.7" y="527.3" width="6.4" height="3.2" fill="#7AFFFF"/>
<rect x="479.0" y="524.1" width="4.3" height="3.2" fill="#7AFFFF"/>
<rect x="490.7" y="552.9" width="3.2" height="3.2" fill="#F0FF40"/>
<rect x="479.0" y="526.3" width="2.1" height="3.2" fill="#F0FF40"/>
<rect x="479.0" y="535.9" width="1.1" height="6.4" fill="#F28022"/>
<rect x="508.8" y="528.4" width="3.2" height="2.1" fill="#F28022"/>
<polygon points="157.8,530.9 172.4,522.1 188.4,512.8 191.4,512.8 191.4,525.0 175.3,536.7 157.8,544.0" fill="#4A8AFF"/>
<rect x="559.3" y="481.0" width="18.7" height="10.0" fill="#868686"/>
<rect x="562.3" y="454.0" width="16.4" height="10.4" fill="#868686"/>
<rect x="157.8" y="535.3" width="20.4" height="5.8" fill="#7AFFFF"/>
<rect x="173.8" y="529.4" width="17.6" height="4.4" fill="#7AFFFF"/>
<rect x="41.4" y="439.4" width="583.0" height="5.0" fill="#868686"/>
</g>
<rect x="41.4" y="439.4" width="583.0" height="166.0" filter="url(#rl2)" style="mix-blend-mode:hard-light" opacity="0.24"/>
<defs><g id="rf2"><path d="M37.4,437.1l4,-.2 4,1.1 4,-.4 4,-1.4 4,.9 4,-.7 4,-1.1 4,.7 4,-.3 4,.7 4,1.5 4,-1.2 4,-.5 4,.8 4,-.8 4,.3 4,.4 4,-1 4,1 4,1.2 4,-.5 4,-.2 4,.1 4,-.1 4,1.4 4,.3 4,-1.6 4,.4 4,.3 4,.1 4,1.3 4,-.7 4,-.4 4,1.3 4,.1 4,-.8 4,-.4 4,-1.2 4,-.1 4,1.6 4,-.4 4,-0 4,-0 4,-.5 4,-.2 4,-.5 4,-1.4 4,-.2 4,.5 4,.2 4,0 4,-.3 4,-.8 4,.4 4,-0 4,-.8 4,-.1 4,.5 4,-.3 4,.4 4,-0 4,-.5 4,.9 4,1.1 4,-.4 4,0 4,-.3 4,-0 4,1 4,-0 4,-.5 4,1 4,1.1 4,.7 4,.6 4,-1.3 4,-1.2 4,1.2 4,.5 4,.2 4,.7 4,-.6 4,.3 4,1.2 4,-1.2 4,-1.4 4,.3 4,-.5 4,.8 4,.5 4,-1.9 4,-.3 4,.4 4,-.5 4,-.1 4,-.5 4,-1.5 4,.7 4,.1 4,-1.6 4,.3 4,-.3 4,-.2 4,1.7 4,-.7 4,-.8 4,.7 4,-1 4,-.3 4,.9 4,-.6 4,.9 4,2.4 4,-.6 4,-.3 4,.3 4,-1 4,1.1 4,1 4,-1.1 4,1.5 4,1 4,-.1 4,1.2 4,-.8 4,-1.3 4,1.8 4,.3 4,-.5 4,.5 4,-.9 4,-.1 4,1.5 4,-.8 4,-1.1 4,.7 4,-.7 4,.2 4,-.3 4,-2.2 4,-.2 4,1.1 4,-.3 4,.4 4,-.5 4,-1.6 4,0 4,-.1" stroke-dasharray="90 2 35 2 74 4 193 3 189 5 192 3"/><path d="M37.4,440.8l4,1 4,-.1 4,-.1 4,-.1 4,-.7 4,.1 4,-.7 4,-.9 4,1.1 4,.4 4,.2 4,.5 4,0 4,-.7 4,-1.3 4,1 4,1 4,-1.3 4,-.1 4,1.5 4,1.2 4,-.8 4,-1.4 4,1.2 4,1 4,-.8 4,0 4,.2 4,-.1 4,.5 4,.2 4,.2 4,.1 4,.3 4,.4 4,-.9 4,-.3 4,-.4 4,-.9 4,.6 4,1.3 4,0 4,-.9 4,-.8 4,1.5 4,-.9 4,-2.3 4,-.2 4,1.3 4,.5 4,-.8 4,-.5 4,.3 4,-.5 4,-.4 4,.1 4,-.5 4,-.2 4,.5 4,.3 4,.2 4,-.6 4,.4 4,.3 4,.5 4,.9 4,-.8 4,-1.2 4,1.2 4,1.4 4,-.2 4,-.9 4,1.4 4,2.4 4,-1 4,-1 4,.1 4,0 4,.4 4,-0 4,.8 4,.4 4,-.2 4,.6 4,-.3 4,-1.1 4,-.6 4,-.4 4,.6 4,.5 4,-.7 4,-.7 4,-.9 4,.8 4,.5 4,-2.4 4,-.6 4,1.2 4,.3 4,-1.6 4,-1.2 4,1 4,.4 4,-.4 4,.5 4,-.4 4,-.4 4,-.5 4,-0 4,.6 4,-.3 4,.1 4,1.6 4,.5 4,.3 4,-.5 4,-1 4,.9 4,.9 4,.6 4,-.5 4,.3 4,2.7 4,.1 4,-1.9 4,.1 4,1.3 4,.3 4,-.5 4,-.2 4,.8 4,-.8 4,.2 4,.7 4,-.8 4,-.4 4,-.1 4,.1 4,-.4 4,-1.5 4,-.3 4,-.2 4,.4 4,.8 4,-1.3 4,-1.2 4,.4 4,-.1" stroke-dasharray="190 4 166 2 176 2 177 3"/><path d="M37.4,444.5l4,.6 4,2 4,-1.6 4,-.1 4,-.6 4,1.1 4,-1.5 4,-.8 4,.4 4,.6 4,1.2 4,-.6 4,.9 4,-1.5 4,.3 4,-.9 4,1.6 4,-1 4,-.3 4,1.3 4,.9 4,.2 4,-1.7 4,.9 4,.2 4,.8 4,-.9 4,.4 4,.1 4,-.2 4,.4 4,.4 4,.2 4,-.5 4,.5 4,.7 4,-.8 4,-1.3 4,-.3 4,1.5 4,-.1 4,-.3 4,-.3 4,.7 4,-.5 4,-1.2 4,-.3 4,-.6 4,.3 4,-.5 4,1.6 4,-.4 4,-1.2 4,-.6 4,.5 4,.3 4,-1.9 4,.5 4,.1 4,1.8 4,-1.8 4,.7 4,-.3 4,.7 4,-.1 4,.4 4,.7 4,-1.5 4,1.1 4,.1 4,1.8 4,-1.6 4,1 4,1.1 4,1.1 4,-1 4,-1 4,.5 4,.1 4,.9 4,-.8 4,1.9 4,-.5 4,.2 4,-.1 4,-.2 4,-1.6 4,-.9 4,1.4 4,.6 4,-.3 4,-1.6 4,.7 4,.2 4,-.9 4,-1.1 4,-.5 4,.2 4,-.6 4,.1 4,-.4 4,-.2 4,-.6 4,.6 4,1.1 4,-1.2 4,-.9 4,-.3 4,1.5 4,-.7 4,-.8 4,.9 4,1.3 4,.8 4,-.6 4,.5 4,-.9 4,.5 4,0 4,1.3 4,.5 4,-.1 4,1.3 4,.7 4,.4 4,-2.2 4,1.1 4,.2 4,1.2 4,-1.4 4,.4 4,.6 4,-0 4,-0 4,-.7 4,.4 4,-1.7 4,1 4,-.4 4,.1 4,-2.2 4,-.1 4,1.3 4,-.1 4,-.8 4,-1.5 4,1.4 4,-1.5" stroke-dasharray="196 5 33 3 169 5 106 2 66 5 66 4"/><path d="M37.4,448.1l4,1.2 4,1.4 4,-.6 4,-1.4 4,.4 4,.8 4,-.9 4,-1.3 4,.4 4,.5 4,.8 4,.6 4,-0 4,-.7 4,-1.1 4,.6 4,.5 4,-.7 4,-.7 4,1.5 4,1.4 4,-.3 4,-1 4,-.2 4,.2 4,.4 4,.8 4,-.3 4,-.6 4,-.1 4,1.7 4,.6 4,-1.7 4,-.5 4,2 4,1 4,-1.6 4,-1.7 4,.6 4,1 4,-.1 4,-.1 4,-.3 4,.1 4,-.1 4,.1 4,-1.2 4,-1.8 4,.1 4,2 4,0 4,-1.1 4,-.4 4,.6 4,-.2 4,-1 4,-.6 4,.4 4,-.2 4,.5 4,.9 4,-.4 4,-1.2 4,.3 4,1.8 4,0 4,-1.3 4,.2 4,1.2 4,.3 4,-.4 4,.2 4,.5 4,.7 4,.8 4,.5 4,-1.1 4,-1 4,1.1 4,1.5 4,-.5 4,-.9 4,1.2 4,1.5 4,-.7 4,-1.9 4,-.5 4,.7 4,-.3 4,.1 4,.3 4,-.3 4,-.7 4,.2 4,-.2 4,-1.4 4,-1 4,.9 4,.4 4,-1 4,-1.1 4,.4 4,.3 4,-.4 4,-.1 4,.4 4,-.9 4,-.6 4,.8 4,.5 4,-.9 4,-.2 4,1.3 4,1.4 4,-.4 4,-.5 4,.3 4,.4 4,-.1 4,.4 4,.7 4,.4 4,.9 4,1 4,.2 4,-1.7 4,.2 4,1.3 4,.2 4,-1 4,.3 4,1.4 4,.2 4,-1.3 4,-.3 4,.5 4,-.4 4,-.6 4,0 4,-.2 4,-1.3 4,-.1 4,.5 4,0 4,-.9 4,.1 4,-.2 4,-1.2" stroke-dasharray="72 5 150 3 34 3 145 3 74 4 187 2"/><path d="M37.4,452.4l4,.7 4,1.4 4,-1 4,.5 4,-.9 4,-.1 4,.8 4,-1.7 4,-.2 4,.7 4,.4 4,1.1 4,-.4 4,0 4,-1.7 4,.6 4,.8 4,-1.7 4,.8 4,.6 4,.8 4,1.2 4,-1.3 4,-.1 4,-.1 4,-.1 4,.6 4,.1 4,.3 4,-1 4,1.4 4,1 4,-2 4,.8 4,.3 4,-.2 4,.7 4,-1.3 4,.1 4,-.4 4,.9 4,.4 4,-.6 4,.5 4,-1 4,.4 4,-.3 4,-2.5 4,.7 4,.8 4,-.2 4,.8 4,-.6 4,-.7 4,-.5 4,.3 4,-.3 4,-1.5 4,.8 4,.1 4,1.5 4,-0 4,-1.9 4,1.3 4,.1 4,-.4 4,.9 4,-.6 4,.2 4,.3 4,1 4,0 4,-1 4,2 4,.3 4,.5 4,-0 4,-2.1 4,1.4 4,.3 4,.3 4,.8 4,-.3 4,.4 4,-.1 4,.5 4,-1.2 4,-2.1 4,1.9 4,-.2 4,.4 4,0 4,-1.4 4,.8 4,-.8 4,-.9 4,-.2 4,-1.1 4,.4 4,.1 4,.4 4,-1.3 4,-1.3 4,2.1 4,-.9 4,-.1 4,0 4,-.9 4,.6 4,-.4 4,-0 4,.2 4,.3 4,1.3 4,.1 4,.7 4,-1.1 4,-.7 4,2.2 4,-.6 4,.2 4,1.1 4,.4 4,1.2 4,0 4,-.3 4,-.6 4,-.4 4,1.4 4,-.1 4,.7 4,-.3 4,-.3 4,1.7 4,-1.6 4,-.5 4,.1 4,-.8 4,.8 4,-.5 4,-.3 4,-1.5 4,.1 4,1.3 4,-1.2 4,-.1 4,-1.3 4,-.5" stroke-dasharray="50 2 195 4 188 3 177 3"/><path d="M37.4,457.4l4,0 4,.5 4,.3 4,-.7 4,-.3 4,.8 4,-.5 4,-1.1 4,-.1 4,1 4,.1 4,-0 4,.3 4,.3 4,-.3 4,-.9 4,-1 4,.9 4,1 4,-.7 4,.1 4,1.5 4,.5 4,-1.3 4,-.6 4,.1 4,.6 4,.7 4,-.1 4,-.4 4,.6 4,.6 4,-.4 4,0 4,0 4,-.6 4,1.1 4,.4 4,-1.2 4,-1.2 4,.8 4,1.3 4,.2 4,-1.1 4,-.7 4,.6 4,.6 4,-2 4,-1.4 4,.8 4,1.4 4,.2 4,-.4 4,-1.1 4,-.3 4,.4 4,-.2 4,-1.3 4,-.3 4,1 4,1.1 4,.4 4,-1.1 4,-1.1 4,.6 4,1.9 4,-.7 4,-1.3 4,.2 4,1.9 4,.4 4,-.5 4,-.6 4,1 4,1.5 4,-.1 4,-1 4,.1 4,.3 4,0 4,.7 4,.5 4,-.1 4,.2 4,1 4,-.4 4,-1.6 4,-.6 4,-.1 4,1.3 4,.2 4,-1.1 4,-.1 4,1 4,-.7 4,-1.9 4,-.4 4,.2 4,-.1 4,-.3 4,-.1 4,-.2 4,-0 4,-.4 4,-.5 4,.3 4,-.2 4,-.8 4,0 4,.6 4,-.3 4,-.3 4,.9 4,.6 4,.2 4,.5 4,-.4 4,.2 4,0 4,-.2 4,.7 4,1.7 4,.1 4,0 4,.9 4,.9 4,-1.1 4,-1 4,.6 4,1 4,1.1 4,-.7 4,-.3 4,.8 4,.2 4,-1 4,-.9 4,-.2 4,.2 4,.3 4,-.3 4,-.8 4,-1.1 4,.7 4,.2 4,-.5 4,-1.1 4,-1.2" stroke-dasharray="75 3 84 2 61 2 189 4 182 2"/><path d="M37.4,461.7l4,-.4 4,1 4,1.1 4,-1.8 4,.7 4,-.9 4,.8 4,-0 4,-1.1 4,-.7 4,1.7 4,.2 4,-.5 4,1.2 4,-1 4,-.9 4,-.3 4,1.4 4,-1.4 4,.3 4,.6 4,1 4,.9 4,-1.2 4,-1.2 4,.5 4,1.5 4,-1.7 4,.8 4,.5 4,.5 4,-.4 4,.8 4,-.6 4,-.7 4,.9 4,-.1 4,.5 4,-.5 4,-.7 4,-.6 4,2.9 4,-1.3 4,-1.3 4,.5 4,1 4,-1 4,-1 4,-.2 4,-.9 4,1.4 4,.1 4,.1 4,-.5 4,.1 4,-1.9 4,.9 4,.1 4,-1.8 4,.7 4,1.4 4,.9 4,-1.7 4,.2 4,-.8 4,1.4 4,-.5 4,-.2 4,.1 4,1.4 4,-.1 4,-.4 4,1.4 4,-.5 4,0 4,.5 4,1.5 4,-1.8 4,.1 4,.5 4,.9 4,.7 4,-.7 4,-.1 4,1.2 4,.9 4,-2.6 4,-.2 4,-0 4,.2 4,-.3 4,1.3 4,-.7 4,-.4 4,.1 4,-.9 4,-.3 4,-1.2 4,-.5 4,-.1 4,2.5 4,-1.9 4,-1.4 4,.6 4,.9 4,-1.5 4,-.1 4,-.3 4,-.3 4,1.1 4,-.5 4,.1 4,0 4,.9 4,-.6 4,1.6 4,-0 4,-1.4 4,.1 4,1.6 4,.4 4,-.6 4,1.3 4,.5 4,1.6 4,-.6 4,-1.2 4,-.3 4,1.6 4,-.5 4,-.1 4,1.9 4,-.8 4,.1 4,-0 4,.3 4,-2.2 4,.7 4,-.4 4,.7 4,-.2 4,-1.2 4,-.6 4,1.1 4,.3 4,-2.5 4,.1 4,.2" stroke-dasharray="92 4 169 5 41 5 185 5 48 2 49 2"/><path d="M37.4,466.2l4,.2 4,.1 4,1 4,-.6 4,-.8 4,0 4,.6 4,.8 4,-1.8 4,.1 4,-.1 4,1.7 4,-.5 4,.1 4,-1 4,.7 4,-.6 4,-0 4,-.9 4,1 4,.3 4,1.1 4,-0 4,-.7 4,-.4 4,-.5 4,1.1 4,-.7 4,.8 4,-.7 4,1.8 4,-.3 4,.6 4,-1.8 4,.7 4,-.1 4,1.1 4,-1.1 4,-.1 4,.4 4,.3 4,-.2 4,-.4 4,.3 4,-0 4,.3 4,-1.1 4,.2 4,-1.3 4,.6 4,-.7 4,1.6 4,-.8 4,.5 4,-1.5 4,.3 4,-.6 4,-.3 4,-.6 4,.4 4,1.4 4,-.4 4,.2 4,-.8 4,.8 4,-1 4,.4 4,-.7 4,1.4 4,-.4 4,1.1 4,-.4 4,1.1 4,-.6 4,.2 4,.2 4,.7 4,.2 4,-.6 4,.4 4,-.2 4,1.4 4,-.6 4,.9 4,-.4 4,.8 4,-1.2 4,-0 4,-1.2 4,.9 4,-.4 4,.8 4,-.1 4,.3 4,-.9 4,-1.1 4,.2 4,-1.1 4,-.1 4,-.7 4,1.3 4,-.2 4,.2 4,-2.2 4,.5 4,-.5 4,.8 4,-1.4 4,-.1 4,.3 4,1.2 4,-.4 4,-.5 4,.2 4,.5 4,.8 4,-.3 4,.2 4,-.7 4,1.1 4,-.3 4,1.7 4,-.4 4,.9 4,-.1 4,1.7 4,-.6 4,-.7 4,-1 4,1.4 4,1.3 4,.1 4,-.5 4,-.2 4,1.4 4,-.9 4,-.6 4,-1.7 4,1.2 4,0 4,.8 4,-1.6 4,.1 4,-.8 4,.6 4,-.7 4,-.4 4,-1.4" stroke-dasharray="141 4 96 3 196 2 122 2 163 5"/><path d="M37.4,469.9l4,-.4 4,-.1 4,1 4,-.5 4,-.2 4,-.7 4,.6 4,-.5 4,.8 4,-.9 4,-0 4,.1 4,.9 4,.5 4,-.6 4,-.9 4,-.8 4,1 4,.1 4,.3 4,-1.1 4,1.6 4,.3 4,.9 4,-2 4,-.5 4,-.2 4,1.7 4,.2 4,-.5 4,-.4 4,1.3 4,1.1 4,-.9 4,-1 4,-.9 4,1.8 4,.2 4,.1 4,-1.9 4,1.1 4,.4 4,1.1 4,-1.7 4,-.4 4,.1 4,.8 4,-.5 4,-1.4 4,-.1 4,-0 4,1.4 4,-.4 4,.1 4,-1.4 4,.6 4,-.8 4,0 4,-.9 4,.4 4,-0 4,1.5 4,.3 4,-.7 4,-1.2 4,-.1 4,.9 4,-.3 4,.3 4,-.5 4,1.4 4,.5 4,.8 4,-1.7 4,.1 4,.7 4,1.7 4,-.5 4,-.6 4,-.4 4,1 4,1.7 4,-.8 4,-.4 4,-.3 4,2 4,-.5 4,-.8 4,-2.4 4,1.3 4,.8 4,1.1 4,-1.5 4,-.1 4,-.1 4,.2 4,-1.1 4,-1.7 4,-.2 4,.3 4,1.4 4,-.8 4,-.1 4,-1.3 4,.6 4,-.6 4,-.1 4,-.9 4,.2 4,.1 4,1 4,-.1 4,-.6 4,-.3 4,.7 4,.9 4,.1 4,-.2 4,-1.4 4,1.6 4,.6 4,1.2 4,-1.3 4,1.2 4,.7 4,1.6 4,-.9 4,-1.6 4,-0 4,1.5 4,1.2 4,-.3 4,-.5 4,.2 4,1.8 4,-.8 4,-1.4 4,-1.8 4,1.4 4,.6 4,.7 4,-2 4,0 4,-0 4,.5 4,-1.2 4,-1.3 4,-0" stroke-dasharray="141 4 86 3 81 4 138 4 37 4 181 3"/><path d="M37.4,472.6l4,-1.2 4,.8 4,1 4,-.1 4,-1.1 4,-.8 4,.4 4,1.5 4,-.5 4,-1.1 4,-.3 4,.8 4,1.1 4,.2 4,-1.2 4,-.3 4,.1 4,-.2 4,-.1 4,-.1 4,.2 4,1 4,.5 4,-.3 4,-.2 4,-.8 4,-.2 4,.1 4,.1 4,.9 4,.9 4,.1 4,-.6 4,-.2 4,-.1 4,.2 4,.1 4,-.4 4,.2 4,.7 4,-.2 4,-0 4,-.6 4,-.2 4,.6 4,-0 4,-.5 4,-.7 4,.1 4,-.4 4,.7 4,-.5 4,-.2 4,.7 4,-.5 4,-.3 4,-.7 4,-.8 4,.1 4,.3 4,.4 4,.7 4,.1 4,-.5 4,-.4 4,-.4 4,.2 4,.2 4,.2 4,-.2 4,.7 4,1 4,.3 4,-.4 4,-1.1 4,.6 4,1.7 4,0 4,-.6 4,-.5 4,.4 4,1.6 4,.6 4,-1.2 4,-.3 4,.7 4,1.1 4,-.5 4,-1.6 4,-1.1 4,1.3 4,1.5 4,-0 4,-1.1 4,-1 4,.1 4,.5 4,-1.4 4,-1.4 4,-.1 4,1.2 4,.9 4,-.4 4,-1.7 4,-.6 4,.6 4,-.2 4,-.7 4,-.5 4,-0 4,1.3 4,.3 4,-.8 4,-.3 4,.4 4,.5 4,.4 4,-.5 4,-.2 4,1.2 4,.5 4,-.5 4,.6 4,.8 4,1.3 4,.4 4,-1.2 4,-.4 4,.7 4,.6 4,.5 4,-.4 4,-0 4,1.5 4,.8 4,-1.5 4,-1.2 4,-.4 4,.3 4,1.2 4,-.5 4,-1.3 4,.1 4,.5 4,0 4,-1 4,-1.8 4,-.3" stroke-dasharray="167 4 70 4 182 5 119 3 130 2"/><path d="M37.4,475.7l4,-.8 4,.2 4,.2 4,-.6 4,1.1 4,-2 4,.6 4,.4 4,.4 4,.3 4,-1.8 4,1.4 4,.2 4,.2 4,-.3 4,-1 4,1 4,-1.1 4,.6 4,-.1 4,-.3 4,.7 4,.3 4,1.1 4,-1.4 4,-1.1 4,.4 4,.6 4,.6 4,-.6 4,.6 4,.9 4,.1 4,-.4 4,-1.1 4,.3 4,.1 4,0 4,1.2 4,-.6 4,-.2 4,.1 4,.2 4,.5 4,-1.5 4,.4 4,0 4,.1 4,-.4 4,-1.6 4,1.6 4,-.3 4,.6 4,-.5 4,-.6 4,.4 4,-1.5 4,.9 4,-1.2 4,-.4 4,.9 4,.5 4,1.6 4,-1.8 4,-.5 4,0 4,-.1 4,.6 4,-1.1 4,1 4,.9 4,.4 4,.3 4,-.7 4,.4 4,-.5 4,1 4,.7 4,-.7 4,.3 4,.1 4,1.4 4,.3 4,-1.2 4,.3 4,.7 4,.1 4,-.3 4,-1.3 4,.7 4,-.5 4,.8 4,.4 4,-.7 4,.3 4,-1.6 4,.8 4,-1.4 4,-1 4,.2 4,.1 4,2.1 4,-2.1 4,-.2 4,-.4 4,-.4 4,.4 4,-1.9 4,.9 4,-.1 4,.5 4,.8 4,-1 4,.6 4,-1.3 4,1.7 4,.5 4,-1 4,.1 4,-0 4,1.6 4,-.1 4,-.3 4,1.2 4,.8 4,.8 4,-.8 4,-.4 4,.4 4,-.6 4,1.4 4,.5 4,.4 4,-.2 4,0 4,1 4,-1.4 4,-1.4 4,.3 4,.3 4,1.3 4,-1.4 4,.3 4,-.5 4,-.4 4,-.1 4,-1.8 4,.8" stroke-dasharray="151 2 43 2 133 3 77 2 134 4 168 4"/><path d="M37.4,478.3l4,-.2 4,-.2 4,-.4 4,1.2 4,-1.6 4,.2 4,.1 4,-0 4,.2 4,1.1 4,-1.8 4,.2 4,.8 4,.4 4,-.4 4,-0 4,-1.5 4,1.1 4,.4 4,-.7 4,-.5 4,1.4 4,.1 4,.8 4,-.6 4,-1.2 4,-.7 4,1.7 4,-.9 4,.6 4,0 4,1.1 4,-.1 4,.8 4,-2.4 4,.2 4,.7 4,.2 4,-.3 4,1.2 4,-1.4 4,1 4,.3 4,-.4 4,-1.1 4,1.2 4,-1.4 4,1.1 4,-.4 4,-.9 4,-.7 4,1.7 4,-.9 4,.7 4,-.6 4,-.6 4,-.9 4,1.4 4,-1.6 4,-.1 4,.3 4,1 4,-0 4,1.3 4,-2.3 4,-.2 4,.3 4,.5 4,-.9 4,1.2 4,-.4 4,1.8 4,.2 4,-.7 4,-1.4 4,1.7 4,-.2 4,1 4,-.3 4,-.1 4,0 4,1.9 4,-1.2 4,.4 4,-0 4,.4 4,-.3 4,1 4,-2.3 4,.5 4,.2 4,.8 4,-.7 4,.9 4,-1.5 4,.7 4,-.6 4,-.6 4,-1.8 4,1.3 4,-.8 4,1.2 4,-.4 4,-.3 4,-1.8 4,1.2 4,-1.6 4,.3 4,-.3 4,.1 4,-.3 4,2.2 4,-1.6 4,0 4,-.4 4,.9 4,-.2 4,1.1 4,-1.6 4,1.1 4,.8 4,.7 4,-1.1 4,1.6 4,-.6 4,1.7 4,.1 4,-.6 4,-1.4 4,2.1 4,-.4 4,1 4,.1 4,.7 4,-.5 4,1.6 4,-2.2 4,-.7 4,-.1 4,.7 4,-.5 4,1.5 4,-1.7 4,.1 4,-.3 4,-.2 4,-1.8 4,.8" stroke-dasharray="130 2 90 5 71 3 114 2 198 3"/><path d="M37.4,481.0l4,1 4,-1.2 4,-.2 4,.8 4,-.3 4,-1 4,-.1 4,1.4 4,-.2 4,-0 4,-0 4,-.5 4,0 4,.7 4,.6 4,-1.7 4,.1 4,.4 4,.1 4,-.8 4,.4 4,.6 4,-.1 4,1.3 4,-.4 4,-1.6 4,-.3 4,.8 4,.4 4,-.7 4,.8 4,.7 4,.1 4,.1 4,-.5 4,-.9 4,-.7 4,1.6 4,.6 4,-.7 4,.2 4,.3 4,-0 4,-.5 4,.1 4,-.6 4,-.4 4,1 4,.2 4,-1.3 4,-.4 4,1.1 4,.2 4,-.8 4,.3 4,-.7 4,-.7 4,.1 4,.3 4,-1.2 4,-0 4,1.8 4,.1 4,-.2 4,-.7 4,-.3 4,-.5 4,.1 4,.8 4,-.7 4,.5 4,1.7 4,.5 4,-1.1 4,-.7 4,.8 4,-.3 4,.8 4,.6 4,-.2 4,0 4,.8 4,.9 4,-1.3 4,.3 4,.4 4,.2 4,-0 4,-.6 4,-.2 4,-.5 4,1.2 4,.5 4,-1.1 4,-.1 4,.2 4,-.1 4,-1.5 4,-.3 4,-.5 4,-.3 4,1.1 4,.5 4,-.9 4,-1.6 4,.6 4,-.1 4,-1.3 4,-.1 4,.5 4,.4 4,0 4,.8 4,-.9 4,-1 4,1.4 4,.1 4,-.3 4,-.1 4,.9 4,.4 4,-.1 4,1.1 4,-.4 4,.2 4,1.2 4,.9 4,-.8 4,-1 4,1.1 4,.1 4,.6 4,.7 4,.1 4,-.2 4,.3 4,.5 4,-1.7 4,-.9 4,.8 4,.6 4,-.3 4,0 4,0 4,-1 4,-.2 4,-.3 4,-1.3" stroke-dasharray="47 5 129 3 106 3 39 5 129 5 105 4 72 2"/><path d="M37.4,483.9l4,.2 4,.6 4,.2 4,-.3 4,-.8 4,-.7 4,.6 4,.7 4,.3 4,-.4 4,-.6 4,.6 4,.4 4,.2 4,-.8 4,-.4 4,.1 4,.5 4,-.1 4,-.6 4,-0 4,.3 4,.9 4,.3 4,-.5 4,-.8 4,-.4 4,.4 4,.2 4,0 4,.5 4,.3 4,.6 4,.2 4,-.9 4,-.5 4,-0 4,.1 4,.2 4,.6 4,.5 4,-.1 4,-.1 4,-.7 4,.1 4,-.1 4,-.1 4,-.1 4,-.4 4,.2 4,.1 4,.3 4,-.5 4,-.4 4,-.1 4,.4 4,-.2 4,-.5 4,-1.2 4,0 4,.8 4,.6 4,.3 4,-.6 4,-.3 4,0 4,-.1 4,-.3 4,-.6 4,.2 4,1.4 4,.9 4,.4 4,-.9 4,-.4 4,-0 4,.7 4,.3 4,-.1 4,.1 4,.5 4,.7 4,.6 4,-.5 4,-.4 4,.3 4,.5 4,.3 4,-.3 4,-.9 4,-.2 4,.4 4,.8 4,0 4,-.6 4,-.4 4,-.3 4,-.4 4,-.7 4,-.3 4,-.3 4,.6 4,.2 4,-.2 4,-.3 4,-.9 4,-.6 4,-.7 4,-.2 4,.3 4,.5 4,.4 4,-.1 4,-.4 4,-.1 4,.3 4,-.1 4,.2 4,-.1 4,.6 4,.7 4,.5 4,-.1 4,-.3 4,.5 4,1.5 4,.5 4,-.8 4,-.8 4,.6 4,1.1 4,.6 4,-.1 4,-.4 4,.7 4,.7 4,.3 4,-1.4 4,-1.7 4,.4 4,1.2 4,1 4,-.5 4,-1.5 4,-.5 4,.7 4,-.4 4,-1.1" stroke-dasharray="148 4 171 4 107 2 149 3 117 5"/><path d="M37.4,487.3l4,-.3 4,-.2 4,.1 4,.3 4,-.1 4,-.8 4,-.3 4,.3 4,.7 4,.7 4,-.1 4,-.7 4,-.1 4,.1 4,.3 4,.2 4,-.8 4,-.2 4,.1 4,.5 4,0 4,0 4,-.1 4,.5 4,.1 4,-.3 4,-.5 4,-.3 4,-.2 4,.4 4,.5 4,.6 4,.3 4,0 4,-.7 4,-.5 4,-.1 4,.3 4,.4 4,.1 4,-0 4,.4 4,.4 4,-.3 4,-.6 4,-.8 4,.1 4,1.1 4,.2 4,-.9 4,-.8 4,.3 4,.7 4,.1 4,-.6 4,-1 4,.3 4,.2 4,-0 4,-.6 4,-.6 4,.2 4,.9 4,.6 4,-.5 4,-.6 4,-.7 4,-.2 4,.5 4,.6 4,.3 4,.3 4,.2 4,.8 4,-.1 4,-.7 4,-.7 4,.3 4,1.2 4,.5 4,.2 4,-0 4,0 4,.5 4,-.1 4,-.3 4,.2 4,.2 4,.2 4,-.3 4,-.1 4,.2 4,.2 4,-0 4,-.6 4,-.3 4,.1 4,-.4 4,-.7 4,-1.3 4,.1 4,1.4 4,.4 4,-.7 4,-1.4 4,-.7 4,.7 4,-.2 4,-.7 4,-1 4,.5 4,1.6 4,.7 4,-1 4,-1.6 4,-0 4,1.3 4,.7 4,-.5 4,-.6 4,.7 4,1.2 4,.7 4,-.5 4,-.4 4,.6 4,1.2 4,.2 4,-.6 4,-.3 4,.9 4,.9 4,.4 4,0 4,.3 4,.3 4,-.1 4,-1.3 4,-.6 4,.2 4,.7 4,.3 4,-.3 4,-.5 4,.2 4,-.2 4,-1.1 4,-1.3" stroke-dasharray="35 2 145 3 44 4 93 4 101 3 126 3 49 2"/><path d="M37.4,490.3l4,.6 4,-1.3 4,1 4,-.1 4,-.9 4,.5 4,-1.2 4,.5 4,1.2 4,-.1 4,.9 4,-.9 4,-1.3 4,1.8 4,-.4 4,-.7 4,.2 4,-.8 4,1.2 4,.3 4,-1.3 4,.9 4,-.5 4,.6 4,.7 4,-1.3 4,-.3 4,-.3 4,0 4,1.4 4,-.5 4,-.3 4,1.5 4,.1 4,-.3 4,-.7 4,-1.5 4,1.4 4,.3 4,-.3 4,1.3 4,-.9 4,.3 4,.6 4,-1.1 4,-.4 4,-.5 4,.1 4,1.9 4,-1 4,-1.1 4,.8 4,-.6 4,.8 4,-.3 4,-1.4 4,1.1 4,-.7 4,-.4 4,.5 4,-1.2 4,.6 4,1 4,-.2 4,.3 4,-1.5 4,-.4 4,1.1 4,-.6 4,-.2 4,.9 4,.1 4,1.4 4,.1 4,-1.1 4,.3 4,-.8 4,.7 4,1 4,-.6 4,.4 4,.8 4,.4 4,.8 4,-1.8 4,-.3 4,1.7 4,-.4 4,.1 4,-.2 4,-.9 4,1.3 4,-.2 4,-0 4,.3 4,-1.6 4,.3 4,.5 4,-1.3 4,-.5 4,-.7 4,.6 4,1.5 4,-1.2 4,-.7 4,.1 4,-1.2 4,-0 4,-.3 4,-.9 4,1 4,.4 4,.8 4,-.1 4,-1.9 4,.4 4,.7 4,-.3 4,.5 4,-.5 4,.8 4,1.6 4,-.5 4,.1 4,.1 4,-.1 4,1.5 4,.1 4,-.5 4,.3 4,-.4 4,1.2 4,1 4,-.8 4,.6 4,.6 4,-.3 4,-.2 4,-1.5 4,-.1 4,1.1 4,-.3 4,.6 4,-.1 4,-1.3 4,.2 4,-.7 4,-.9" stroke-dasharray="198 3 92 2 70 3 53 2 178 3"/><path d="M37.4,492.7l4,1.1 4,-.2 4,-.8 4,-.2 4,.7 4,0 4,-1.2 4,-.4 4,1.2 4,1.7 4,-.6 4,-1.2 4,.1 4,.7 4,.1 4,-1.2 4,-.3 4,.7 4,.7 4,-.5 4,-.3 4,-.1 4,.5 4,.4 4,.1 4,-.5 4,-.5 4,-.2 4,.3 4,0 4,.3 4,.3 4,.5 4,.2 4,-.5 4,-.4 4,-.2 4,-.4 4,.3 4,.6 4,.8 4,-.1 4,-.6 4,.2 4,.5 4,-1 4,-1.3 4,.4 4,1.3 4,.6 4,-1.2 4,-.5 4,.5 4,.4 4,-.3 4,-1 4,-0 4,.1 4,.5 4,-.6 4,-.6 4,-.2 4,.8 4,1 4,-.6 4,-1.4 4,-0 4,.6 4,.3 4,-1 4,.1 4,1.5 4,1.1 4,-.4 4,-.8 4,-.2 4,.2 4,-.1 4,.4 4,.8 4,.4 4,.1 4,.5 4,.4 4,-.8 4,-.5 4,.3 4,.8 4,-.2 4,-.2 4,0 4,.2 4,.1 4,0 4,.3 4,-.8 4,-.6 4,-.1 4,.1 4,-.8 4,-1.2 4,.6 4,1.4 4,.1 4,-1.3 4,-1.3 4,.2 4,.2 4,-.8 4,-.7 4,.1 4,1.3 4,.7 4,-.7 4,-.6 4,-.5 4,.3 4,.5 4,-.1 4,-.3 4,.6 4,1.7 4,-.1 4,-.5 4,-.6 4,1.4 4,.8 4,-0 4,-.9 4,.8 4,.6 4,.4 4,0 4,.6 4,.2 4,-0 4,-.2 4,.2 4,-.7 4,-.8 4,.2 4,1 4,.3 4,-.1 4,-1 4,-.1 4,-.7 4,-.4" stroke-dasharray="178 2 158 4 78 3 113 5 57 4 132 3"/><path d="M37.4,494.6l4,2.3 4,-.9 4,.3 4,-.1 4,-.4 4,-.2 4,-.3 4,.2 4,-.4 4,1.7 4,.6 4,-1.6 4,1.2 4,-.8 4,-.3 4,.7 4,-1 4,.2 4,.1 4,1.2 4,-1.2 4,-.3 4,1.1 4,-1.1 4,1 4,-.1 4,-.9 4,0 4,.2 4,.2 4,-.5 4,.9 4,.5 4,-.7 4,1.7 4,-2.1 4,-.5 4,.6 4,-.2 4,.8 4,0 4,1 4,-.8 4,.4 4,.5 4,-2.5 4,.9 4,-0 4,0 4,1 4,-.9 4,-.2 4,-0 4,1 4,-.9 4,-1.3 4,1.1 4,-.8 4,.8 4,-0 4,-1.6 4,.6 4,.7 4,1 4,-1.2 4,-.3 4,-.3 4,-.9 4,2 4,-1.3 4,-.5 4,1.4 4,.5 4,1.2 4,-1.3 4,-.2 4,-.9 4,.6 4,1.8 4,-1.6 4,1 4,.6 4,.2 4,1.3 4,-1.2 4,-.6 4,-.7 4,2.1 4,0 4,-1 4,.8 4,-1.2 4,1.3 4,.5 4,-1.3 4,-.3 4,-.2 4,.9 4,-.9 4,-.9 4,-.2 4,-1 4,2.3 4,-.2 4,-1.5 4,-.1 4,-.9 4,.3 4,-.8 4,.1 4,-.9 4,.6 4,2.4 4,-1.7 4,.1 4,-.8 4,-.7 4,1.3 4,-0 4,-.1 4,-.4 4,2 4,.6 4,-1 4,1 4,-1.1 4,.5 4,1.7 4,-.4 4,-.1 4,-.1 4,1.3 4,.1 4,.5 4,.2 4,-1.4 4,1.9 4,-.2 4,-1.6 4,.2 4,-.5 4,.8 4,.4 4,.8 4,-1.3 4,-1 4,.8 4,-1.9" stroke-dasharray="199 4 106 3 166 4 55 4 92 3"/><path d="M37.4,498.0l4,.9 4,-.1 4,.6 4,-1.2 4,.7 4,.1 4,-1.3 4,-.1 4,.9 4,1 4,.1 4,.2 4,-.9 4,-.4 4,.9 4,-.6 4,-.3 4,-.2 4,1.2 4,-.7 4,1.1 4,-1.2 4,.1 4,-.3 4,1.6 4,-1.1 4,-.4 4,-.2 4,-.3 4,.5 4,.7 4,-.6 4,.2 4,.8 4,.5 4,-1.3 4,-.3 4,-1 4,1 4,.4 4,1.3 4,-1.5 4,1.2 4,-.1 4,-.3 4,-.8 4,-.4 4,-.3 4,.9 4,1.1 4,-.9 4,-.5 4,.4 4,-.2 4,0 4,-.3 4,-.8 4,-.4 4,1.3 4,-.3 4,-.8 4,-.4 4,.9 4,.1 4,.3 4,-.2 4,-1.4 4,.5 4,-.1 4,.4 4,-.7 4,1.3 4,.1 4,1.1 4,-.1 4,-1.3 4,-.7 4,.8 4,.3 4,.5 4,.4 4,.2 4,.4 4,.9 4,-.6 4,-.9 4,-.4 4,1.5 4,-.7 4,1.2 4,-.8 4,.3 4,-.1 4,.8 4,-1.3 4,-.4 4,.3 4,-.1 4,-.1 4,-.4 4,-.9 4,-.2 4,1.2 4,0 4,-.9 4,-.1 4,-1.3 4,.2 4,-.5 4,0 4,-1.1 4,1.5 4,.6 4,.1 4,-.9 4,-.4 4,-.3 4,.1 4,.9 4,-.7 4,.5 4,1.2 4,.4 4,-.2 4,0 4,-.5 4,.6 4,1.1 4,.1 4,-.5 4,.6 4,.8 4,.3 4,.1 4,.4 4,-.8 4,1.2 4,-.3 4,-.1 4,-1.8 4,1.4 4,-.6 4,1.1 4,-.2 4,-.3 4,-.7 4,.1 4,-.8" stroke-dasharray="74 5 147 2 40 4 37 4 80 2 129 3 125 2"/><path d="M37.4,501.5l4,.2 4,-.3 4,1.3 4,-.9 4,.7 4,-.7 4,-1.1 4,.3 4,1.1 4,.1 4,.8 4,.4 4,-1.2 4,.5 4,-.5 4,-.5 4,-.1 4,1.2 4,-1.3 4,1.4 4,-.2 4,-.5 4,.1 4,.1 4,-.9 4,.8 4,.4 4,-1.2 4,.5 4,-.2 4,-.2 4,.8 4,.8 4,-1.5 4,1.5 4,-.7 4,-.8 4,-.2 4,-.1 4,-.1 4,1.9 4,.1 4,-.8 4,.6 4,-.9 4,.1 4,-.5 4,-.1 4,-.7 4,2.2 4,-.2 4,-.6 4,-.2 4,-.6 4,.1 4,.6 4,-.8 4,-1.2 4,1.4 4,-.1 4,.1 4,-.6 4,-.2 4,-.4 4,2.3 4,-1.2 4,-1 4,-.4 4,0 4,.9 4,.4 4,-.8 4,0 4,2.1 4,-.4 4,-.4 4,-1.1 4,-.3 4,.6 4,2.1 4,-1.2 4,.2 4,.9 4,.5 4,.4 4,-1 4,-1.3 4,.3 4,2.7 4,-1 4,0 4,-.7 4,.5 4,.5 4,.6 4,-2.7 4,.3 4,.8 4,.1 4,-.4 4,-1.2 4,-.5 4,1 4,1.5 4,-2.2 4,-.2 4,-.6 4,.3 4,-.4 4,-.4 4,-1.8 4,2 4,1 4,-.1 4,-.6 4,-1.1 4,-.5 4,1.3 4,.3 4,-1.6 4,1.1 4,1.2 4,.9 4,-.1 4,-.9 4,-1.1 4,2.3 4,.6 4,-.8 4,.3 4,0 4,1 4,1.1 4,-.3 4,-1.2 4,1.8 4,0 4,.1 4,-.8 4,-.6 4,-.4 4,2 4,-.4 4,-1 4,.6 4,-.4 4,-.1 4,-.9" stroke-dasharray="152 3 58 5 144 4 53 4 189 5"/><path d="M37.4,503.5l4,.8 4,1.3 4,.3 4,-1.1 4,-.2 4,.6 4,-.9 4,-.1 4,.6 4,-0 4,.7 4,1.5 4,-.4 4,-1.6 4,-.3 4,.8 4,-.2 4,-.2 4,.6 4,-.1 4,-.2 4,.7 4,-0 4,-1.3 4,-.2 4,1.2 4,-.1 4,-.7 4,-.2 4,0 4,-.2 4,1 4,.6 4,-1.2 4,.1 4,.9 4,-.5 4,-1.3 4,.1 4,.7 4,.3 4,.9 4,.3 4,-1.1 4,-.3 4,.6 4,-.3 4,-1.1 4,.1 4,1.2 4,-.1 4,.7 4,-.2 4,-1.2 4,-.4 4,.7 4,-.1 4,-.8 4,.1 4,.8 4,-.4 4,-.1 4,.3 4,-.8 4,-0 4,.6 4,.3 4,-1.6 4,-.1 4,.6 4,.1 4,.4 4,.6 4,.1 4,-.5 4,.6 4,-.2 4,-1.1 4,.1 4,1.2 4,.5 4,.3 4,.8 4,-.1 4,-.9 4,.4 4,0 4,-.6 4,-0 4,1.5 4,.2 4,-.7 4,.3 4,.1 4,-.6 4,-.2 4,.3 4,-.5 4,-.8 4,1 4,-.4 4,-1.1 4,.3 4,.7 4,-.5 4,-.5 4,0 4,-1.2 4,-.7 4,.3 4,.4 4,-.6 4,.5 4,1.1 4,-.7 4,-1.1 4,.2 4,-.2 4,-.4 4,.8 4,.8 4,-.3 4,.9 4,.9 4,-.4 4,-1 4,.7 4,.6 4,-0 4,.8 4,.4 4,-.3 4,.4 4,1 4,-.2 4,-.7 4,.8 4,.6 4,-.8 4,-.3 4,.2 4,-.5 4,.7 4,.8 4,-.5 4,-1.5 4,.2 4,.3" stroke-dasharray="194 5 62 3 190 2 85 3 48 2 97 3"/><path d="M37.4,507.9l4,-.3 4,.8 4,.5 4,-.9 4,.1 4,.6 4,-.5 4,-1 4,.1 4,1.7 4,.5 4,-.3 4,.3 4,-.1 4,-1.2 4,.5 4,.2 4,-1.2 4,.7 4,1 4,.2 4,-.4 4,-.3 4,0 4,-.4 4,-.4 4,1.1 4,-.7 4,-.6 4,1 4,.1 4,-.6 4,.3 4,.4 4,-.2 4,-.2 4,-0 4,-.2 4,-1.3 4,.6 4,1.9 4,-.6 4,-.3 4,.9 4,-.5 4,-.7 4,-0 4,-.9 4,-.1 4,1 4,1.5 4,-.2 4,-1.6 4,.2 4,.8 4,-1.3 4,-0 4,.1 4,-.5 4,.7 4,.9 4,-.9 4,-1.1 4,.4 4,1.3 4,-.3 4,-1.5 4,.2 4,.5 4,-.6 4,.9 4,-.2 4,-.8 4,1.3 4,1.1 4,-.7 4,-1.4 4,-.4 4,1.3 4,.3 4,-.3 4,1.1 4,.3 4,.2 4,.9 4,-1.1 4,-1.9 4,1.2 4,1.1 4,.1 4,-.3 4,-.1 4,.8 4,-.4 4,-.1 4,-.1 4,-1.2 4,0 4,1.8 4,-1.2 4,-1.2 4,.4 4,.3 4,.1 4,-.5 4,-.4 4,-.1 4,-1 4,.5 4,-.1 4,-1.7 4,.5 4,1.8 4,-.7 4,-.2 4,-.2 4,-.7 4,-.2 4,.1 4,.6 4,0 4,.2 4,1.7 4,.1 4,-1 4,.4 4,.2 4,-.3 4,.6 4,1.1 4,-.3 4,.2 4,.5 4,.9 4,-.4 4,-.5 4,1 4,-.2 4,-.5 4,.9 4,-.8 4,-.8 4,1.3 4,.6 4,-.5 4,-1 4,0 4,-0" stroke-dasharray="75 3 149 5 157 5 186 4 152 2"/><path d="M37.4,509.0l4,1.4 4,.5 4,.5 4,-.5 4,-.5 4,1.2 4,-1.2 4,.4 4,-1.6 4,2.2 4,.7 4,.5 4,.1 4,-1.7 4,1.3 4,-1.6 4,.9 4,-1.1 4,.8 4,.8 4,-.5 4,1.5 4,-2.1 4,.9 4,-1.4 4,1.4 4,.1 4,-1.2 4,.4 4,-.6 4,1.9 4,-1.1 4,-.4 4,-.4 4,1 4,.6 4,-1.2 4,-.7 4,.1 4,.9 4,.1 4,.1 4,.3 4,.3 4,-.6 4,.2 4,-.9 4,-.2 4,-.3 4,.7 4,1.4 4,-.8 4,.6 4,-1.7 4,1.1 4,-.4 4,-1 4,-.1 4,-.3 4,2.5 4,-1.5 4,.5 4,-1.5 4,.7 4,.8 4,-1.5 4,1 4,-1.6 4,1.8 4,-1.2 4,.7 4,-.1 4,-.3 4,1.2 4,-.7 4,1.7 4,-2.1 4,-.2 4,-.1 4,1.4 4,.5 4,-.7 4,1.1 4,.4 4,.8 4,-1.3 4,-1.2 4,.1 4,1.5 4,.3 4,-.2 4,-.1 4,.5 4,.3 4,-.9 4,.2 4,-1 4,.7 4,-.6 4,.9 4,-.8 4,-.8 4,.4 4,-.7 4,2 4,-2.3 4,.1 4,-1 4,.7 4,-0 4,-1.9 4,1.3 4,-.5 4,2.4 4,-2.1 4,.3 4,-.9 4,-.2 4,.8 4,-1.2 4,1.7 4,-.5 4,1.4 4,-.1 4,.3 4,-.3 4,-1.2 4,1.1 4,.5 4,1 4,-.3 4,.4 4,.7 4,.5 4,-.1 4,-1 4,.4 4,.9 4,.6 4,-1 4,-.3 4,-.2 4,1.5 4,-.6 4,.3 4,-1 4,-.1 4,-.1" stroke-dasharray="160 2 133 5 161 2 43 2 148 4"/><path d="M37.4,512.3l4,1 4,1.2 4,-.3 4,-1.1 4,.4 4,.8 4,.2 4,-1.6 4,-0 4,1 4,.8 4,.5 4,.3 4,-.8 4,-.9 4,.6 4,.7 4,-.8 4,-1 4,1.2 4,1.8 4,-.2 4,-1.6 4,-1 4,.5 4,.8 4,-0 4,-1.2 4,-.3 4,1.6 4,.9 4,-1.6 4,-1 4,1.2 4,.8 4,-.9 4,-.4 4,-.3 4,.1 4,.1 4,.5 4,.3 4,-.4 4,.7 4,.1 4,-.6 4,-.4 4,-.6 4,-.1 4,.7 4,1.5 4,-.5 4,-1.1 4,.3 4,1.1 4,-1.4 4,-1.5 4,.6 4,1.4 4,-.1 4,-.4 4,-.1 4,0 4,.2 4,-.2 4,-.9 4,-.1 4,.7 4,.3 4,-1.2 4,.1 4,1.4 4,-.1 4,-.8 4,.6 4,.9 4,-.6 4,-1.3 4,.1 4,.8 4,.3 4,.6 4,.3 4,.2 4,.5 4,-0 4,-1.2 4,-.5 4,1.1 4,.3 4,-.1 4,.7 4,.7 4,-.8 4,-1 4,.7 4,-.1 4,-.7 4,-.6 4,1.2 4,.2 4,-.5 4,-1.2 4,.1 4,.7 4,.3 4,-1.3 4,-1.7 4,.5 4,1.5 4,-1.1 4,-1.4 4,.6 4,1.7 4,-.2 4,-1.2 4,-.7 4,.2 4,-.2 4,.5 4,.4 4,-.2 4,.5 4,1.1 4,.5 4,-1 4,-.3 4,-.3 4,.9 4,1.3 4,.7 4,-1.2 4,.1 4,2.1 4,.4 4,-1.9 4,-.6 4,1.5 4,1.4 4,-.6 4,-1.5 4,-.1 4,1.2 4,1 4,-.8 4,-1.4 4,0 4,1.2" stroke-dasharray="39 4 172 2 35 3 50 3 151 2 50 3 60 2 105 2"/><path d="M37.4,514.9l4,1.4 4,.2 4,0 4,-.4 4,-.1 4,.6 4,.5 4,-1.5 4,-.4 4,1.5 4,.9 4,-.1 4,.7 4,-.6 4,-.7 4,.2 4,-.2 4,-.4 4,.3 4,.6 4,.6 4,.3 4,-.5 4,-1.1 4,.3 4,0 4,-.7 4,.7 4,.5 4,-.9 4,.1 4,1 4,-.4 4,-.8 4,-.1 4,.7 4,.3 4,-.3 4,-1.2 4,-.2 4,1.7 4,0 4,-.6 4,.4 4,.1 4,-.4 4,.2 4,-1 4,-1 4,1 4,1.8 4,.1 4,-.8 4,-.3 4,-.2 4,.7 4,-1.1 4,-1.2 4,.5 4,1.8 4,-.1 4,-.5 4,-.4 4,-.2 4,.1 4,.3 4,-.7 4,-.8 4,1.1 4,.2 4,-.3 4,.1 4,-.6 4,.5 4,1.2 4,-.3 4,-1.5 4,.6 4,.2 4,-.2 4,.3 4,1 4,-0 4,.5 4,.4 4,-.6 4,-.5 4,-.3 4,-.4 4,1.4 4,.8 4,-.4 4,0 4,.5 4,-.4 4,-.8 4,.1 4,-.8 4,.1 4,1.1 4,.2 4,-.8 4,-.6 4,-.1 4,.5 4,0 4,-1.1 4,-1.4 4,.9 4,.9 4,-1.6 4,-.7 4,.7 4,.5 4,.9 4,-.5 4,-1.7 4,-.2 4,1 4,-0 4,-.3 4,.3 4,.4 4,1.4 4,.7 4,-1.8 4,-.8 4,1.5 4,.7 4,-.5 4,.4 4,1 4,.5 4,.5 4,-.4 4,-.9 4,.6 4,.5 4,0 4,.5 4,-.4 4,-.4 4,.7 4,.4 4,-.7 4,-.1 4,-0 4,-.6" stroke-dasharray="145 4 140 2 193 4 70 3 193 2"/><path d="M37.4,517.8l4,.9 4,.7 4,-.2 4,-.6 4,-0 4,.7 4,.8 4,-.6 4,-1.1 4,.1 4,1.6 4,1.2 4,-.2 4,-.9 4,-.8 4,.6 4,.2 4,-.2 4,-.2 4,-0 4,1 4,.8 4,-0 4,-1.1 4,-1 4,-.4 4,.9 4,.4 4,-.4 4,-.3 4,-0 4,.8 4,.2 4,-.7 4,-1 4,.1 4,.8 4,.2 4,-.8 4,-.6 4,.4 4,.8 4,.4 4,-.5 4,.1 4,.1 4,-.2 4,-.7 4,-.8 4,.9 4,1.5 4,0 4,-1 4,-.1 4,.7 4,-0 4,-1.3 4,-1.2 4,.5 4,1.7 4,.8 4,-1 4,-1.4 4,.4 4,1.1 4,-.1 4,-1 4,-.9 4,.5 4,1.3 4,.1 4,-.6 4,-.8 4,.3 4,.9 4,.5 4,-.6 4,-.6 4,-.3 4,.5 4,.7 4,.3 4,.5 4,-.3 4,.3 4,.2 4,.1 4,-.9 4,-.7 4,.5 4,1.3 4,.9 4,-.1 4,-.8 4,-.6 4,.4 4,-.1 4,-.6 4,-.3 4,.4 4,.8 4,-.4 4,-.4 4,-.6 4,.1 4,-0 4,-.7 4,-.5 4,.4 4,0 4,-.6 4,-.8 4,-.1 4,1.3 4,.6 4,-.8 4,-1.5 4,-.1 4,1.2 4,.3 4,-1.1 4,-.5 4,1.4 4,1.7 4,.5 4,-1.7 4,-1.4 4,.7 4,1.4 4,1.1 4,-.4 4,-.2 4,.8 4,1 4,.2 4,-.8 4,-.6 4,.5 4,.7 4,.6 4,-.4 4,-.4 4,0 4,.3 4,.2 4,.1 4,-.7 4,-.6" stroke-dasharray="111 4 161 3 106 5 189 4 48 3"/><path d="M37.4,521.8l4,-.6 4,.5 4,.6 4,-.1 4,-.4 4,.3 4,0 4,.5 4,-.6 4,-.4 4,1.2 4,.7 4,.2 4,-.1 4,-.3 4,-.1 4,-.3 4,-.4 4,.3 4,.5 4,.4 4,.7 4,-0 4,-1 4,-.5 4,-.3 4,.6 4,.2 4,-.9 4,.4 4,.8 4,0 4,-.5 4,-1.1 4,.1 4,1 4,-.2 4,-.5 4,-.7 4,.5 4,.6 4,.1 4,-.5 4,.3 4,.4 4,-.4 4,.4 4,-1 4,-.9 4,.7 4,.8 4,1 4,-.1 4,-1.1 4,.1 4,.6 4,-.9 4,-.6 4,-.5 4,1.1 4,1.5 4,-.4 4,-.9 4,-.3 4,-.3 4,.1 4,.1 4,-.5 4,-0 4,.2 4,.3 4,.9 4,-.8 4,-.7 4,.7 4,.7 4,-.1 4,-.5 4,-1 4,.8 4,1.1 4,-.2 4,-.1 4,.3 4,.6 4,.2 4,-.7 4,-1.1 4,.6 4,.3 4,.7 4,.7 4,.1 4,-.2 4,-.1 4,-.8 4,.2 4,-.6 4,-.4 4,1 4,.3 4,-.2 4,-.7 4,-.4 4,.2 4,.1 4,-1.1 4,-.2 4,.3 4,-.1 4,-.5 4,-.6 4,.1 4,.6 4,.3 4,-.8 4,-.1 4,-.5 4,-0 4,.1 4,.1 4,.2 4,.7 4,.6 4,.7 4,-.3 4,-1.3 4,-.1 4,1.1 4,.7 4,.1 4,-0 4,.8 4,1.2 4,-.3 4,-.8 4,-.4 4,.4 4,.9 4,.5 4,-.5 4,-.1 4,-0 4,.2 4,.8 4,-.9 4,-1.1 4,.4" stroke-dasharray="36 4 104 4 103 2 119 4 164 3 68 4"/><path d="M37.4,524.2l4,.3 4,.8 4,-.3 4,.2 4,-.5 4,.5 4,.8 4,-.9 4,.6 4,-.5 4,-.1 4,2.3 4,-.4 4,-.1 4,-.5 4,-.3 4,1 4,-1.6 4,.3 4,.5 4,.1 4,2.1 4,-.4 4,-1.6 4,-.3 4,-.5 4,.9 4,-.5 4,-.2 4,.6 4,-.6 4,1.3 4,-.1 4,-2 4,.2 4,.1 4,.9 4,-.3 4,-1.1 4,.9 4,-.5 4,.7 4,.9 4,-1.6 4,.2 4,.6 4,.2 4,-.5 4,-1.3 4,.8 4,.4 4,.5 4,1.5 4,-1.7 4,-.3 4,.6 4,-1 4,.3 4,-1 4,.6 4,1 4,-.1 4,1 4,-1.5 4,-1 4,1.1 4,-.5 4,-.2 4,.1 4,.1 4,.9 4,-1.1 4,.6 4,0 4,-.9 4,1.4 4,-.5 4,-.7 4,.3 4,0 4,1.1 4,-.8 4,.4 4,1.2 4,-.5 4,.7 4,-.3 4,-1.8 4,.6 4,.6 4,.9 4,-.1 4,-.5 4,1.5 4,-.6 4,-.4 4,-.2 4,-1.9 4,.9 4,1.2 4,.3 4,-.4 4,-1.2 4,.7 4,-.4 4,-.3 4,.3 4,-1.9 4,.3 4,1.4 4,-.7 4,-.4 4,-1.3 4,.8 4,1 4,-.8 4,.5 4,-1.7 4,-.6 4,1.8 4,-.3 4,-.1 4,.1 4,.5 4,1.7 4,-1.2 4,-.1 4,-.6 4,-.9 4,2.4 4,.5 4,-.3 4,.7 4,.2 4,1 4,-1 4,-.2 4,.4 4,-.7 4,1.7 4,.4 4,-1 4,.5 4,-.2 4,.4 4,-.5 4,-1 4,1" stroke-dasharray="96 3 185 3 77 3 170 2 147 2"/><path d="M37.4,527.0l4,1 4,-.5 4,.3 4,-.1 4,0 4,-.1 4,.5 4,-.1 4,.5 4,-.7 4,.8 4,.2 4,.7 4,.8 4,-1.1 4,-.7 4,0 4,.2 4,.7 4,-.4 4,-.3 4,1.5 4,.3 4,0 4,-1.8 4,-.4 4,.4 4,1 4,-1 4,.1 4,-.4 4,1.9 4,-.5 4,-.9 4,-1.4 4,.6 4,.6 4,.5 4,-1.8 4,.9 4,-.4 4,1.7 4,-1 4,-.5 4,-.2 4,1.6 4,-1 4,.1 4,-1.6 4,1.3 4,-0 4,1.1 4,-.5 4,.5 4,-.7 4,.7 4,-2 4,.6 4,-.8 4,1.4 4,-.2 4,1.2 4,-.6 4,.2 4,-1.8 4,1 4,-1.1 4,1.1 4,-.7 4,.4 4,-0 4,1.2 4,-.8 4,0 4,-1.3 4,1.2 4,.3 4,-.2 4,-.8 4,.1 4,.7 4,1.2 4,-.8 4,-.1 4,.1 4,1.2 4,-.2 4,-1.4 4,-.8 4,1.3 4,1 4,.4 4,-.4 4,-.6 4,1.5 4,-.6 4,-.9 4,-1.2 4,.3 4,1.4 4,.5 4,-.9 4,.1 4,-1 4,1.2 4,-1.5 4,-.3 4,-.7 4,1 4,-.3 4,.4 4,-1.6 4,1.1 4,-.9 4,.7 4,-.6 4,.4 4,-1 4,.4 4,-1.1 4,1.4 4,-.6 4,1.4 4,-.6 4,.9 4,-.1 4,.3 4,-1.6 4,.6 4,-0 4,2.1 4,-.4 4,.5 4,-.4 4,1.6 4,-.7 4,-0 4,-2 4,2.2 4,.2 4,1.3 4,-1.5 4,.1 4,.2 4,1.1 4,-1.1 4,-.7 4,-.9" stroke-dasharray="45 4 182 2 109 3 152 4 88 5 62 2"/><path d="M37.4,530.3l4,.6 4,-.5 4,.4 4,.5 4,-.4 4,-.7 4,.5 4,1.3 4,-.5 4,-.6 4,.1 4,1.7 4,-.1 4,0 4,-.1 4,-.2 4,-.6 4,.7 4,.6 4,-1.7 4,1 4,1.4 4,.4 4,-1.5 4,-.2 4,-.6 4,-.1 4,.2 4,.2 4,.3 4,-.3 4,.8 4,0 4,-.4 4,-2.2 4,1.3 4,.6 4,-1 4,.3 4,.4 4,-.6 4,0 4,1.3 4,-1.3 4,-.4 4,.3 4,1 4,-.6 4,-.8 4,.1 4,.6 4,.6 4,.1 4,.6 4,-1.1 4,-.2 4,.2 4,.2 4,-1.7 4,.3 4,2.2 4,-.3 4,.1 4,-.7 4,-.4 4,-.8 4,.7 4,-.2 4,-.3 4,.1 4,1 4,.8 4,-.9 4,-.9 4,.2 4,.9 4,-1.2 4,.6 4,-0 4,-.3 4,.1 4,1.5 4,-.8 4,-.7 4,1.5 4,.2 4,-.1 4,-1.4 4,.2 4,-.1 4,1.2 4,.2 4,.9 4,-.7 4,-.3 4,.8 4,-.7 4,-1.2 4,-.6 4,2 4,-.5 4,.5 4,.2 4,-1.1 4,-.5 4,.2 4,-0 4,-1.5 4,.4 4,.5 4,.9 4,-1.1 4,-.7 4,.1 4,.2 4,-.2 4,-0 4,-.1 4,-1.3 4,.6 4,.8 4,-.4 4,-1 4,2 4,.7 4,-.7 4,-.1 4,-.5 4,-.1 4,.2 4,1.6 4,-.2 4,.4 4,.2 4,1.3 4,-.1 4,-1.7 4,.2 4,.8 4,.4 4,.1 4,1.2 4,-1.1 4,.1 4,.4 4,.3 4,-1.6 4,-.2" stroke-dasharray="116 5 133 2 42 2 86 2 140 3 82 3"/><path d="M37.4,533.1l4,1.5 4,-.9 4,-.3 4,1.5 4,-1.4 4,-.4 4,1.2 4,.1 4,.6 4,-.1 4,-.6 4,.6 4,1.1 4,0 4,-.2 4,-.5 4,.1 4,0 4,.5 4,-.9 4,.2 4,1.8 4,-.1 4,-.1 4,-.1 4,-2.2 4,.4 4,1.3 4,-1.2 4,.2 4,1 4,-.5 4,.5 4,-.3 4,-1.4 4,-0 4,.1 4,.4 4,.2 4,-.7 4,.1 4,.7 4,.3 4,-1.1 4,.2 4,.3 4,-.6 4,.6 4,.1 4,-2 4,1.4 4,1.5 4,-1 4,.8 4,-.4 4,-1 4,.9 4,-.5 4,-1.2 4,.5 4,.9 4,.8 4,.5 4,-1 4,-.8 4,.3 4,-.4 4,.1 4,-.1 4,-.2 4,.3 4,1.7 4,-.5 4,-1.8 4,.6 4,.4 4,-.7 4,1 4,-.6 4,-.8 4,1.6 4,0 4,-.6 4,.8 4,-.2 4,.2 4,.9 4,-1.2 4,-.4 4,.2 4,.5 4,1 4,.3 4,-.8 4,.1 4,.7 4,-.9 4,-1.1 4,.4 4,-.2 4,.7 4,1.6 4,-1.3 4,-1.1 4,1.2 4,-1.1 4,-.6 4,.2 4,-1 4,.5 4,1.4 4,-1 4,-.3 4,-.5 4,-.4 4,1.2 4,-.6 4,-1.1 4,.2 4,.3 4,-0 4,.4 4,-.1 4,-.4 4,.9 4,1.4 4,-1.7 4,-.5 4,.8 4,-.5 4,1.2 4,1.1 4,-1 4,1.3 4,1 4,-.9 4,-.1 4,-.7 4,-.3 4,1.6 4,.5 4,-.3 4,.7 4,-.6 4,.2 4,.5 4,-1.2 4,-1.1" stroke-dasharray="87 2 165 4 113 3 76 3 151 5"/><path d="M37.4,537.9l4,-1.3 4,.1 4,1 4,-.9 4,.6 4,-.5 4,-1 4,2 4,.5 4,-.4 4,-.2 4,.1 4,.2 4,1.4 4,-.1 4,-1.6 4,.9 4,-.3 4,.5 4,.6 4,-1 4,.7 4,1 4,.1 4,-.9 4,-.3 4,-1.4 4,.3 4,1.8 4,-1.3 4,.3 4,.7 4,-.4 4,.1 4,-.9 4,-1.2 4,.1 4,1.4 4,-.7 4,.3 4,.1 4,-1.1 4,1.5 4,-.5 4,-.6 4,-.1 4,.6 4,-.5 4,.7 4,-.4 4,-1.1 4,1.6 4,-0 4,0 4,.7 4,-1.4 4,.2 4,.1 4,-.1 4,-1 4,1.4 4,.2 4,.2 4,1.1 4,-1.8 4,-.4 4,.3 4,-.7 4,.2 4,.5 4,.4 4,.1 4,1 4,-1.8 4,-.1 4,.5 4,-1.1 4,1.1 4,-.1 4,-.3 4,.7 4,.4 4,-.7 4,.4 4,.6 4,-.7 4,.8 4,-.3 4,-1.2 4,1.1 4,0 4,.1 4,1 4,-.2 4,-.4 4,.8 4,-.6 4,-1.7 4,.9 4,-.2 4,.5 4,1.1 4,-.8 4,-.1 4,-0 4,-.6 4,-.8 4,.1 4,-.8 4,.7 4,1.3 4,-1.6 4,0 4,0 4,-.5 4,.4 4,-.2 4,-1 4,.2 4,1 4,-.8 4,.3 4,.1 4,-.9 4,2 4,.3 4,-1 4,-.3 4,-0 4,.1 4,1 4,.4 4,-.7 4,2.1 4,0 4,-.2 4,-.2 4,-1.3 4,.3 4,1.6 4,.5 4,-.5 4,.5 4,-.1 4,.1 4,.6 4,-2.2 4,0" stroke-dasharray="123 4 163 4 68 3 171 3 158 3"/><path d="M37.4,540.6l4,-1.5 4,.1 4,.7 4,1.5 4,-1.6 4,-.4 4,-1 4,2.1 4,1.1 4,.2 4,-1.1 4,-.9 4,1.5 4,.9 4,.5 4,-1.5 4,-.2 4,-.3 4,1.9 4,-.6 4,.2 4,-.7 4,1 4,.8 4,0 4,-1 4,-1.1 4,-.1 4,.2 4,1 4,-.2 4,.7 4,-.9 4,.1 4,-1.2 4,.5 4,-.8 4,.3 4,0 4,-0 4,.7 4,-.2 4,.3 4,-1.3 4,.1 4,-.2 4,1.1 4,-.4 4,.1 4,-1.3 4,1 4,.4 4,.6 4,-.6 4,-.3 4,.1 4,.2 4,.4 4,-1.6 4,.4 4,-.1 4,2.1 4,-.2 4,0 4,-1.6 4,.3 4,-.1 4,.2 4,-.4 4,-.5 4,1.3 4,.4 4,.7 4,-1.4 4,-.5 4,-.5 4,1.1 4,-.2 4,-0 4,-.6 4,1 4,.3 4,0 4,-.4 4,-.6 4,1 4,-0 4,.7 4,-1.7 4,.6 4,-.1 4,1.7 4,-.4 4,-.1 4,-.4 4,.5 4,.3 4,-.7 4,-.9 4,-.5 4,1.4 4,.7 4,.9 4,-2 4,-.1 4,-.7 4,.8 4,-1.1 4,-.1 4,-.3 4,.7 4,.5 4,-.2 4,-.5 4,-1.3 4,.6 4,-.3 4,.7 4,-1 4,.6 4,-1 4,1.2 4,-.5 4,.5 4,.2 4,.1 4,-.1 4,-.5 4,.7 4,-.5 4,.9 4,-.6 4,1.4 4,.3 4,1.4 4,-.9 4,-.7 4,-.8 4,.9 4,.8 4,.7 4,-.1 4,-.8 4,1.3 4,.3 4,0 4,-2.1 4,-.5" stroke-dasharray="73 2 113 2 81 3 93 4 153 2 68 2 86 2"/><path d="M37.4,544.0l4,-.5 4,-.8 4,-.6 4,1 4,.5 4,-1 4,-.5 4,.2 4,2.1 4,0 4,-.1 4,-1.2 4,1.5 4,.1 4,.8 4,-1.6 4,.6 4,.4 4,.5 4,-.6 4,-.1 4,.7 4,.6 4,.8 4,-1.5 4,-.4 4,-.7 4,1.2 4,-.9 4,.2 4,-.6 4,1.8 4,.2 4,-.3 4,-2.3 4,-.5 4,.7 4,.8 4,-.3 4,-1 4,.6 4,.8 4,.7 4,-1.7 4,-.5 4,-.6 4,2 4,-.7 4,.4 4,-1.6 4,1.2 4,0 4,1 4,-.7 4,-.4 4,.3 4,0 4,.3 4,-1.2 4,.6 4,-.5 4,1.8 4,-.4 4,.9 4,-1.4 4,.3 4,-1.4 4,.7 4,0 4,.4 4,0 4,.1 4,.6 4,-.2 4,-.1 4,-1.4 4,.1 4,.1 4,1.7 4,-1.1 4,.3 4,-.7 4,1.4 4,-.1 4,.1 4,-1.3 4,.6 4,.5 4,0 4,-.3 4,-.5 4,.8 4,.5 4,1 4,-1.5 4,.8 4,-1 4,.9 4,-1.3 4,-.1 4,.1 4,1.6 4,.2 4,-.7 4,-.9 4,-.1 4,.3 4,-.9 4,-.5 4,-.5 4,1.9 4,.4 4,-.1 4,-2.5 4,.4 4,.4 4,.9 4,-1.4 4,-.9 4,.4 4,1.5 4,.4 4,-1.1 4,-1.1 4,.4 4,2.4 4,-.4 4,-.7 4,-2 4,1.7 4,.6 4,1.4 4,-1.5 4,.7 4,.5 4,1.6 4,-.7 4,-1.5 4,-.3 4,.9 4,1.6 4,-.2 4,.3 4,-.7 4,1.3 4,-1 4,0 4,-1.4" stroke-dasharray="77 5 182 5 190 2 168 4"/><path d="M37.4,545.9l4,-.6 4,.1 4,-0 4,1.2 4,-1.2 4,-.8 4,.2 4,.6 4,1.4 4,.1 4,.2 4,-.9 4,0 4,1.5 4,.3 4,-.3 4,-1.1 4,.4 4,1.3 4,-.2 4,-.2 4,-.2 4,.9 4,.4 4,-.2 4,-.3 4,-1.1 4,-.3 4,.1 4,.6 4,.6 4,-.5 4,.7 4,-.7 4,-.4 4,-1.1 4,-.4 4,.9 4,-.2 4,0 4,.1 4,.5 4,.2 4,-1.1 4,-.3 4,-.8 4,.6 4,.8 4,0 4,-0 4,-1.4 4,1.1 4,.9 4,.4 4,-1 4,-1.1 4,1 4,.2 4,.1 4,-.6 4,-.7 4,1.5 4,.3 4,.8 4,-.3 4,-1.7 4,-.2 4,-.1 4,.9 4,-.2 4,-0 4,.8 4,.2 4,0 4,-.9 4,-.3 4,.2 4,-.3 4,.1 4,.4 4,.5 4,.1 4,-.1 4,-.1 4,-.8 4,.8 4,0 4,.6 4,-1 4,-.7 4,1.1 4,.9 4,.3 4,-.8 4,-.3 4,.9 4,.1 4,-.1 4,-1.4 4,-.5 4,.8 4,.9 4,1.1 4,-1 4,-.8 4,-.4 4,.3 4,.1 4,-1.2 4,0 4,.3 4,.9 4,.2 4,-1.1 4,-.4 4,-.8 4,.4 4,-.1 4,.2 4,.1 4,-.7 4,.8 4,-.2 4,-.3 4,.6 4,.3 4,.3 4,-1 4,-0 4,.3 4,.8 4,.1 4,-.5 4,1.1 4,.4 4,.7 4,-0 4,-1.1 4,-.5 4,.3 4,1.8 4,.8 4,-.9 4,-.2 4,.1 4,1 4,-.7 4,-1.3" stroke-dasharray="85 4 199 2 87 2 46 2 102 4 149 5"/><path d="M37.4,549.3l4,-.8 4,.3 4,.2 4,.2 4,-.6 4,-.5 4,-.2 4,1.1 4,.5 4,.6 4,0 4,.3 4,-1.1 4,1 4,1 4,-.5 4,-1.1 4,1.1 4,.7 4,-0 4,-.8 4,.5 4,.3 4,1.1 4,-.8 4,-.4 4,-.5 4,.4 4,-1 4,1.1 4,-.3 4,0 4,-.2 4,1.4 4,-1 4,-1.4 4,-1.1 4,1 4,.3 4,.6 4,-.9 4,.1 4,.6 4,.3 4,-2.2 4,.6 4,-.2 4,.6 4,-.1 4,.8 4,-.9 4,-.1 4,.5 4,.9 4,-.8 4,-.2 4,-.5 4,1.2 4,-0 4,-.4 4,-1.5 4,1.9 4,.8 4,-.1 4,-.9 4,.3 4,-.8 4,.2 4,-.2 4,.2 4,-.4 4,1.4 4,.2 4,.2 4,-1 4,-.9 4,-.7 4,1.9 4,-.6 4,-.4 4,-.2 4,1.9 4,-.6 4,-.2 4,-.8 4,.4 4,-0 4,.9 4,-.9 4,.5 4,-.4 4,.5 4,.1 4,1.2 4,-1.3 4,-.3 4,.5 4,1.2 4,-2.2 4,-.1 4,.4 4,1.6 4,-.3 4,.4 4,-1.5 4,.7 4,-.7 4,-.4 4,-1.1 4,1.1 4,-.2 4,.7 4,-.1 4,.3 4,-2.1 4,0 4,.6 4,.5 4,-1.8 4,.9 4,.1 4,1 4,-.6 4,-.4 4,-.9 4,1.7 4,-.4 4,.1 4,-.6 4,1 4,-1.2 4,1.4 4,.4 4,.7 4,-1.1 4,1.5 4,0 4,-.3 4,-1.2 4,.3 4,.7 4,2.2 4,-.9 4,-.1 4,.1 4,.8 4,-1.8 4,0" stroke-dasharray="164 4 163 3 149 2 95 3 78 4"/><path d="M37.4,551.9l4,.3 4,-1 4,0 4,.3 4,0 4,.1 4,-1 4,-.5 4,1.8 4,1.7 4,-.2 4,-.8 4,-.5 4,.5 4,1.4 4,-.2 4,-1.4 4,.7 4,1.1 4,.1 4,-0 4,-.6 4,0 4,1 4,.4 4,-.6 4,-.2 4,-.9 4,-.3 4,.7 4,.9 4,-.6 4,0 4,-.2 4,.2 4,-.6 4,-1.1 4,-.8 4,1 4,.8 4,-.5 4,.4 4,-.2 4,-.4 4,-.5 4,-.6 4,.1 4,.8 4,.1 4,-.9 4,.8 4,.4 4,-.1 4,-0 4,-.6 4,.1 4,.8 4,-.5 4,-.5 4,.4 4,-.2 4,.3 4,1.4 4,-.1 4,-.8 4,-.4 4,-.4 4,.9 4,.1 4,-1.4 4,-.2 4,2 4,1 4,-.6 4,-1.5 4,-.8 4,.6 4,.8 4,-.8 4,-.3 4,.7 4,.7 4,.6 4,-.3 4,-1.2 4,-.7 4,.7 4,.8 4,.4 4,-.6 4,-1.1 4,.8 4,1.7 4,-0 4,-1.1 4,-.7 4,.3 4,1.3 4,-.4 4,-1.8 4,.1 4,1.5 4,.3 4,.5 4,-.5 4,-1.2 4,-.1 4,-.2 4,-.4 4,.3 4,.2 4,-.3 4,1.1 4,.2 4,-1.2 4,-1 4,-.2 4,.1 4,.7 4,-.5 4,-.1 4,.8 4,.1 4,-.8 4,-.2 4,.5 4,-0 4,.3 4,-.7 4,.3 4,1.2 4,-.2 4,-.6 4,.9 4,.9 4,.2 4,-.3 4,-.5 4,-.5 4,.9 4,.3 4,.5 4,.9 4,-.5 4,.1 4,.3 4,-0 4,-1.7" stroke-dasharray="123 3 161 3 65 4 124 4 113 2 161 2"/><path d="M37.4,554.8l4,-.4 4,-.2 4,-.1 4,1.1 4,-.9 4,-1 4,-.3 4,1.1 4,1.3 4,-.3 4,.5 4,-.3 4,1 4,-.5 4,-.6 4,.4 4,.4 4,.8 4,-.2 4,.3 4,0 4,.5 4,.1 4,-.7 4,.7 4,.2 4,-.1 4,-1.5 4,-.2 4,1 4,.2 4,.2 4,-.8 4,.3 4,.7 4,-.9 4,-1.6 4,-.9 4,1.3 4,.9 4,.1 4,-1.2 4,-.2 4,1.2 4,-.3 4,-1 4,-1.7 4,1.1 4,1.7 4,.3 4,-1.1 4,-1.1 4,1.7 4,.5 4,-.4 4,-1.5 4,-0 4,1.5 4,.5 4,-.7 4,-1.6 4,1.5 4,1.3 4,-.1 4,-.5 4,-1.3 4,1 4,.1 4,-.4 4,-.8 4,.4 4,1.3 4,.5 4,-.1 4,-1.2 4,-.3 4,-0 4,-.4 4,.2 4,-.1 4,1.1 4,0 4,.2 4,-.3 4,-.6 4,.1 4,-.3 4,.4 4,0 4,.8 4,-.6 4,.2 4,.2 4,.2 4,.5 4,-1.2 4,.7 4,0 4,-.1 4,-.4 4,-.6 4,.7 4,.9 4,.7 4,-1.1 4,-.7 4,-.1 4,.1 4,-.4 4,-.9 4,.7 4,.6 4,.9 4,-.6 4,-1.3 4,-.4 4,0 4,.3 4,-.5 4,-.2 4,.7 4,.2 4,.6 4,-1.3 4,.1 4,-.4 4,.9 4,.4 4,-.6 4,.2 4,-.2 4,1.1 4,-.1 4,.4 4,-.1 4,.1 4,.8 4,-0 4,-.5 4,-.9 4,.8 4,1.3 4,.4 4,.3 4,-1.2 4,.6 4,.1 4,-.1" stroke-dasharray="156 2 55 5 143 4 52 3 191 2"/><path d="M37.4,556.9l4,.3 4,-.3 4,.7 4,-.4 4,.7 4,-1.7 4,-.1 4,-.4 4,2.2 4,.4 4,.9 4,-1.4 4,.6 4,-.1 4,1.5 4,-1.4 4,-.1 4,-.2 4,1.7 4,.6 4,-0 4,-1.2 4,.1 4,1.1 4,.6 4,.1 4,-1.9 4,.3 4,-.7 4,2.2 4,-1.6 4,.9 4,-1.7 4,2.3 4,-1.5 4,1 4,-2.9 4,.9 4,-1.2 4,2.3 4,-1.2 4,1.2 4,-1.5 4,1.2 4,-1.4 4,.6 4,-1.6 4,.8 4,-0 4,.9 4,-.2 4,.2 4,-.3 4,.1 4,-.3 4,-.4 4,.5 4,.2 4,.3 4,-.5 4,-.1 4,.3 4,.9 4,.2 4,-.2 4,-.9 4,-.1 4,.9 4,-.4 4,-.4 4,-.5 4,1.1 4,.9 4,.6 4,-1.2 4,-.9 4,-.9 4,1.2 4,.2 4,-.3 4,-.1 4,.4 4,1 4,-0 4,-.6 4,-1.8 4,.6 4,.3 4,1.7 4,-1.2 4,.5 4,-1.4 4,2 4,-.8 4,1.5 4,-2.6 4,1.5 4,-1.3 4,2.1 4,-1.9 4,.8 4,-1.2 4,2.3 4,-.9 4,1.4 4,-1.9 4,.3 4,-1.4 4,.8 4,-.8 4,.6 4,.4 4,.5 4,-.4 4,-.6 4,-.2 4,-.7 4,0 4,-.7 4,.9 4,-.2 4,1.5 4,-1 4,.1 4,-1.1 4,.7 4,.2 4,.3 4,-.9 4,.2 4,.5 4,1 4,-.1 4,-.5 4,-0 4,.7 4,1.1 4,-0 4,-1.1 4,-.8 4,.7 4,1.8 4,.4 4,-.1 4,-1.1 4,.7 4,.1 4,.5" stroke-dasharray="58 2 52 2 86 3 159 3 111 3 162 5"/><path d="M37.4,559.4l4,1.2 4,.1 4,-.7 4,-.5 4,.7 4,-.5 4,-.8 4,.6 4,.4 4,.7 4,.9 4,.1 4,-.1 4,-.5 4,.2 4,.7 4,-.3 4,-.5 4,1.4 4,.8 4,-.5 4,-.1 4,.2 4,.5 4,.1 4,-.7 4,.1 4,-.2 4,-.6 4,.8 4,.2 4,-.7 4,.2 4,.7 4,.1 4,-1 4,-1.7 4,.3 4,.6 4,-.1 4,-.1 4,.6 4,-.6 4,.5 4,-.4 4,-.7 4,-1.2 4,-.4 4,1.8 4,1.2 4,-1.2 4,-.5 4,.9 4,-0 4,-.3 4,-.7 4,.2 4,.2 4,.5 4,.6 4,-.2 4,-1.2 4,.7 4,1.4 4,-0 4,-.9 4,-.7 4,.3 4,.6 4,-.3 4,-.4 4,.7 4,-0 4,.7 4,.5 4,-1.2 4,-1.2 4,-0 4,.8 4,.5 4,-.4 4,-.2 4,1.4 4,-.5 4,-.6 4,-.2 4,-.7 4,.2 4,.8 4,.4 4,0 4,-.5 4,.2 4,.9 4,-.8 4,-.6 4,.5 4,.3 4,-.2 4,-.5 4,-.1 4,1 4,-0 4,-.2 4,.6 4,-.4 4,-1 4,.3 4,-.1 4,-.6 4,-.1 4,.8 4,1.3 4,-.7 4,-1.5 4,.1 4,-.1 4,-.7 4,.2 4,-.2 4,.4 4,.6 4,.2 4,.2 4,-1.2 4,-.9 4,1.5 4,.4 4,-1 4,-.1 4,.6 4,.8 4,.2 4,-.6 4,.6 4,0 4,.3 4,.8 4,-.4 4,-1.3 4,.4 4,1.6 4,.9 4,-.3 4,-1 4,.9 4,.4 4,-1.1" stroke-dasharray="92 2 180 4 82 2 63 5 37 4 120 3 122 3"/><path d="M37.4,561.5l4,2.4 4,-.7 4,.1 4,-1 4,.4 4,.9 4,-1.7 4,.5 4,-.9 4,2.9 4,-0 4,1 4,-2 4,.8 4,.2 4,.7 4,-.8 4,-0 4,.4 4,1.9 4,-.2 4,.2 4,-1.9 4,1.4 4,-0 4,1.3 4,-1.9 4,-0 4,-.1 4,1 4,.5 4,-2 4,1.1 4,-.9 4,2.2 4,-2 4,-.4 4,-1.9 4,1.7 4,.2 4,-0 4,-.8 4,.1 4,.7 4,.2 4,-1.8 4,-.6 4,-.8 4,2.6 4,-.2 4,.4 4,-1.4 4,.6 4,.7 4,-.5 4,-.1 4,-1.5 4,2 4,-.4 4,1.4 4,-2.2 4,1 4,-.4 4,1.8 4,-.4 4,-.6 4,-.4 4,.2 4,.4 4,-.3 4,-.8 4,.7 4,.7 4,1.3 4,-1.2 4,-.5 4,-1 4,.6 4,.4 4,-.6 4,.7 4,-.5 4,2.2 4,-1.7 4,.5 4,-2.3 4,1.5 4,-.7 4,1.4 4,-.7 4,.3 4,.3 4,.3 4,-.3 4,-.6 4,-.2 4,.8 4,-.3 4,.3 4,-.9 4,.5 4,0 4,.5 4,.4 4,-.8 4,.9 4,-1.5 4,1.2 4,-2.2 4,1.6 4,-1.6 4,2.2 4,-1 4,1 4,-.9 4,-.2 4,-.6 4,-.8 4,.2 4,.2 4,.3 4,.7 4,-.3 4,0 4,-.5 4,-.2 4,-.4 4,.3 4,.5 4,-.1 4,1 4,-1.1 4,1.5 4,-1.2 4,1.5 4,-1.5 4,1.9 4,-1.2 4,1 4,-.7 4,0 4,.6 4,.6 4,.7 4,-0 4,-.4 4,-.1 4,-.4" stroke-dasharray="54 2 200 4 108 4 195 5 121 2"/><path d="M37.4,565.3l4,.3 4,.3 4,.1 4,.4 4,-.4 4,-.6 4,-.4 4,-.1 4,.5 4,.9 4,.9 4,.3 4,-.5 4,-.1 4,.5 4,.2 4,-.1 4,-.4 4,.4 4,1.5 4,.7 4,-.3 4,-1 4,-.1 4,.4 4,.8 4,.2 4,-1 4,-.5 4,.5 4,.4 4,.2 4,-.4 4,-.2 4,-.3 4,.2 4,-.2 4,-1 4,-.6 4,.1 4,.6 4,.8 4,-.2 4,-.6 4,-.5 4,-.6 4,0 4,-.3 4,.3 4,.2 4,.3 4,.2 4,.4 4,-.2 4,-.7 4,-.5 4,.2 4,.5 4,.6 4,0 4,-.1 4,-.2 4,.4 4,.6 4,0 4,-.4 4,-.5 4,.1 4,.5 4,.1 4,-.1 4,-.1 4,.1 4,.9 4,.2 4,-.4 4,-1 4,-.9 4,.3 4,1 4,.1 4,.2 4,-.1 4,.1 4,-0 4,-.2 4,-.8 4,-.7 4,.3 4,.7 4,.9 4,-.1 4,-.2 4,-.4 4,-.3 4,.5 4,.1 4,.1 4,-.5 4,-0 4,.2 4,.3 4,.4 4,-.6 4,-.1 4,.1 4,.4 4,-.3 4,-.8 4,-.6 4,.2 4,.9 4,.5 4,.3 4,-.9 4,-.7 4,-.3 4,-0 4,.1 4,-.3 4,.1 4,.5 4,.6 4,-.1 4,-.8 4,-.5 4,-.3 4,.3 4,.5 4,.3 4,.2 4,-.2 4,0 4,.5 4,.3 4,-.2 4,.3 4,-0 4,.2 4,-0 4,.3 4,-.1 4,.3 4,.5 4,.7 4,.3 4,-.7 4,-1" stroke-dasharray="46 4 171 3 70 4 50 3 30 5 101 4 166 4"/><path d="M37.4,568.1l4,2 4,-1.1 4,.8 4,-1.7 4,1.2 4,.1 4,-.1 4,-2.2 4,1.3 4,.9 4,1.7 4,-.1 4,-.7 4,-.4 4,1.4 4,-.5 4,-.7 4,.3 4,.5 4,1.4 4,.8 4,-.9 4,-.8 4,1.3 4,-.2 4,.1 4,-.7 4,.4 4,-.1 4,1.3 4,-1.6 4,.4 4,-.3 4,.6 4,-.8 4,1 4,-2 4,.6 4,-.9 4,.3 4,-.4 4,1.2 4,-.9 4,.7 4,-.8 4,-.3 4,-.9 4,.4 4,-.9 4,1.2 4,.5 4,-0 4,.1 4,-.3 4,-.9 4,.3 4,.3 4,-.8 4,.6 4,.7 4,.8 4,-.7 4,.1 4,-1 4,1.7 4,-.2 4,-.2 4,-1.1 4,1.1 4,-.3 4,1.4 4,-1.4 4,-0 4,.7 4,1.7 4,-1.7 4,-.5 4,-1.5 4,1.3 4,.6 4,.4 4,-1.3 4,1.2 4,.2 4,.4 4,-1.2 4,-1.5 4,-.3 4,2.1 4,.6 4,-.9 4,-.1 4,.1 4,.7 4,-.2 4,-.8 4,-1.2 4,2 4,-0 4,.4 4,-1.5 4,.3 4,0 4,2.3 4,-1.7 4,-.3 4,-.5 4,1.4 4,-1.2 4,.4 4,-1.8 4,1.2 4,1 4,.5 4,-1.4 4,0 4,-1.1 4,.7 4,-.3 4,-.5 4,-.2 4,1.9 4,-.1 4,-.4 4,-.4 4,-1 4,.2 4,.3 4,-.3 4,.1 4,1.4 4,-.4 4,.4 4,-.4 4,.2 4,-.3 4,1 4,-1 4,1.2 4,-.3 4,.1 4,-.2 4,1.2 4,-.6 4,1.5 4,-.9 4,.2 4,-.8" stroke-dasharray="102 3 173 5 161 3 152 4 193 5"/><path d="M37.4,571.5l4,1 4,-0 4,.7 4,-.9 4,-1 4,1.2 4,-.5 4,-.1 4,-.6 4,.1 4,2 4,.9 4,-.6 4,-.6 4,-.2 4,1.1 4,-.2 4,-.8 4,.7 4,1.3 4,1.2 4,-.1 4,-1.1 4,-.2 4,.6 4,.3 4,-.1 4,-.5 4,.2 4,.7 4,.1 4,-.7 4,.1 4,-.5 4,.3 4,-0 4,-.8 4,-.1 4,-.7 4,.1 4,.6 4,-.2 4,.4 4,-.6 4,-.5 4,.7 4,-1.5 4,-.8 4,.4 4,.1 4,2.1 4,-.8 4,-.6 4,.2 4,-.4 4,.7 4,-.8 4,-1.3 4,1.9 4,.6 4,.6 4,-.6 4,-1.4 4,2.1 4,-.5 4,-.3 4,.4 4,-1.5 4,2 4,.2 4,-1.1 4,.9 4,-1.1 4,1.8 4,.1 4,-1.5 4,.7 4,-1.1 4,-0 4,.8 4,-1.2 4,1.8 4,-.4 4,-.4 4,1.5 4,-2.1 4,.2 4,-.7 4,-.5 4,2.3 4,-.7 4,-0 4,.7 4,-1.2 4,1.5 4,-1.2 4,-1.1 4,1.2 4,-.4 4,1.4 4,-.3 4,-1.9 4,1.6 4,-.2 4,.7 4,-.4 4,-1.8 4,1.7 4,-.2 4,-.5 4,-.1 4,-1.1 4,2.1 4,.6 4,-1.1 4,.1 4,-1.7 4,.5 4,.2 4,-1.2 4,1.1 4,.3 4,.2 4,.7 4,-1.1 4,-.1 4,-.7 4,-.5 4,1.1 4,-0 4,.5 4,-0 4,-.2 4,1.1 4,-.6 4,-.4 4,-.2 4,.6 4,.9 4,.2 4,-1.1 4,.4 4,.7 4,.7 4,-.1 4,-.8 4,.2 4,1.1" stroke-dasharray="90 4 36 3 122 2 129 3 86 4 148 2"/><path d="M37.4,574.1l4,.6 4,.3 4,.7 4,-1.3 4,.2 4,-.8 4,1 4,-.5 4,-0 4,-.1 4,1.2 4,.7 4,.1 4,.6 4,-1.1 4,.5 4,-.4 4,.2 4,.8 4,.5 4,1.5 4,-.9 4,.6 4,-1.4 4,1.5 4,-1 4,1 4,-1.7 4,1.2 4,.4 4,.9 4,-.8 4,-1.4 4,.6 4,.1 4,1 4,-1.4 4,-.7 4,-1.1 4,1 4,.9 4,-.3 4,-.7 4,-1.1 4,1.4 4,-.5 4,-.2 4,-1.7 4,-.5 4,1.2 4,1 4,1 4,-1.5 4,.2 4,-1.1 4,1.5 4,-1.5 4,.9 4,-1 4,1.5 4,.5 4,.4 4,-.5 4,-.6 4,.6 4,-.2 4,.7 4,-.6 4,.3 4,.2 4,-.4 4,.6 4,-.2 4,1 4,-.6 4,.4 4,-1.7 4,.8 4,-.1 4,.4 4,-.5 4,-.5 4,1.2 4,.2 4,.9 4,-2.2 4,-.2 4,-1.1 4,2 4,.1 4,.3 4,-1.1 4,.4 4,.8 4,.3 4,-.9 4,-1.8 4,.5 4,1 4,1.3 4,-.3 4,-1.3 4,.4 4,-.1 4,1.4 4,-1.3 4,.4 4,-1.5 4,1.4 4,-.4 4,.2 4,-.6 4,.1 4,.9 4,-.4 4,.6 4,-1.5 4,.2 4,-1.4 4,1.3 4,-.4 4,1 4,-0 4,.2 4,-.6 4,-.7 4,.2 4,-.5 4,.3 4,0 4,.3 4,.6 4,.3 4,.8 4,-1.6 4,.4 4,-.6 4,2 4,-.7 4,.3 4,-1.4 4,1.2 4,.9 4,.5 4,-.3 4,-1.1 4,1 4,.2" stroke-dasharray="43 5 122 5 114 2 150 2 197 3"/><path d="M37.4,578.1l4,-.1 4,-.3 4,.6 4,.2 4,-1.2 4,-.4 4,1.7 4,-.7 4,-1.6 4,1 4,1.7 4,.3 4,.1 4,.3 4,-1 4,-.1 4,1.5 4,-.4 4,-1.2 4,1.6 4,1.9 4,.1 4,-.9 4,-.3 4,.1 4,.3 4,.2 4,-.4 4,-.1 4,.7 4,.7 4,-.8 4,-.2 4,-.1 4,-.2 4,-0 4,.2 4,-1.2 4,-.2 4,.4 4,-.2 4,-.3 4,.4 4,.2 4,-1.2 4,.1 4,.5 4,-1.7 4,-1 4,1.3 4,1.1 4,-.1 4,-0 4,-.1 4,-.8 4,.2 4,.3 4,-1 4,-.6 4,2.1 4,1.6 4,-1.4 4,-.9 4,.9 4,.2 4,0 4,0 4,-.3 4,-.1 4,1.2 4,.2 4,-1 4,-.3 4,1.2 4,.5 4,-.4 4,-.7 4,-.5 4,.3 4,.1 4,.1 4,-.1 4,.5 4,.7 4,-.8 4,-.2 4,-.2 4,-1.3 4,-.2 4,1.7 4,.4 4,-.8 4,.3 4,.6 4,-.9 4,-.1 4,-.1 4,-1.1 4,.4 4,1.9 4,.3 4,-1.6 4,-.3 4,1.5 4,-.4 4,-.6 4,0 4,-.3 4,.3 4,.9 4,-.5 4,-1.3 4,.7 4,1.5 4,-.3 4,-1.1 4,-.4 4,-.1 4,0 4,-.3 4,-.3 4,.2 4,1.3 4,.4 4,-1 4,-.2 4,-.7 4,-.7 4,.4 4,.9 4,.3 4,-.4 4,1 4,.4 4,-1 4,0 4,.2 4,-.7 4,.9 4,1.3 4,-.5 4,-1.3 4,1 4,1.5 4,-.7 4,-.5 4,.4 4,-0" stroke-dasharray="189 2 180 2 140 2 74 3 158 3"/><path d="M37.4,581.0l4,.3 4,-.4 4,.7 4,-.6 4,-1.1 4,.3 4,1.2 4,-.6 4,-1 4,.2 4,1.2 4,1.1 4,.5 4,-.8 4,-.5 4,.7 4,.2 4,-.5 4,.5 4,.7 4,.3 4,1.2 4,1 4,-1.5 4,-1 4,.8 4,.7 4,-.6 4,.1 4,.9 4,-0 4,-.1 4,.1 4,-.9 4,-.3 4,.4 4,-.2 4,-.5 4,-.2 4,-.5 4,.1 4,.6 4,-.2 4,-1.3 4,.8 4,.6 4,-1.6 4,-1.3 4,.7 4,.4 4,0 4,.6 4,.2 4,-.6 4,.3 4,.1 4,-.8 4,-.6 4,.4 4,.6 4,1.3 4,.6 4,-1.4 4,-.5 4,1.3 4,.1 4,-1.1 4,.1 4,.9 4,-.1 4,.5 4,.8 4,-1.2 4,-.4 4,1.1 4,.8 4,-1.1 4,-.6 4,-.4 4,.6 4,.6 4,-.2 4,-.7 4,.7 4,.7 4,-.6 4,-1 4,-.2 4,-.6 4,.3 4,1.4 4,.5 4,-1.3 4,.2 4,.9 4,-1 4,-1.2 4,.5 4,.7 4,.1 4,.5 4,-.2 4,-.2 4,.1 4,.2 4,-.7 4,.1 4,0 4,-.2 4,.8 4,.2 4,-1.4 4,0 4,1.7 4,0 4,-1.5 4,-.1 4,.2 4,-.3 4,-.3 4,.2 4,-.3 4,.6 4,1.2 4,.2 4,-1.3 4,-1.1 4,-.6 4,1 4,1 4,-.2 4,-1.1 4,1.5 4,1 4,-1 4,-.9 4,.1 4,.1 4,.2 4,1.5 4,-.1 4,-.9 4,.3 4,1.3 4,.1 4,-.8 4,-0 4,-.1" stroke-dasharray="182 4 160 4 74 5 195 5"/><path d="M37.4,583.8l4,-.8 4,.8 4,.8 4,-.8 4,-.9 4,-.4 4,1.4 4,.2 4,-1 4,-.6 4,.8 4,1.7 4,.9 4,-.9 4,-.9 4,.2 4,1.2 4,.2 4,-.9 4,.1 4,1.5 4,2.1 4,-.1 4,-1.7 4,-.9 4,.9 4,1 4,-.3 4,-.9 4,.4 4,1.6 4,.4 4,-1 4,-1.7 4,-.1 4,1.5 4,.1 4,-1.3 4,-1.3 4,.5 4,1.2 4,.1 4,-1.2 4,-1.2 4,.7 4,1 4,-.6 4,-1.8 4,-1 4,1.3 4,1.5 4,-.3 4,-.8 4,-.5 4,1 4,.6 4,-1.5 4,-1.5 4,.5 4,2 4,1.5 4,-.8 4,-1.3 4,.3 4,1.2 4,-.1 4,-1 4,-.4 4,1 4,1.4 4,.3 4,-1.4 4,-.5 4,1 4,.8 4,-.1 4,-1.4 4,-.2 4,.8 4,.8 4,-.7 4,-1 4,.4 4,1.4 4,.5 4,-1.4 4,-1.3 4,-.2 4,.9 4,.5 4,-.5 4,-.1 4,.8 4,.6 4,-.4 4,-1.4 4,-.8 4,.6 4,.9 4,-0 4,-.1 4,-.2 4,.7 4,.4 4,-.6 4,-1 4,.3 4,.3 4,.7 4,-.7 4,-.5 4,.5 4,.3 4,.3 4,-.7 4,-.2 4,.2 4,-.1 4,-.3 4,-.7 4,.2 4,.6 4,.8 4,-0 4,-.6 4,-0 4,-.3 4,-.6 4,-.4 4,0 4,.9 4,.7 4,.1 4,-0 4,-.4 4,.1 4,-.2 4,-.1 4,-.2 4,1 4,.5 4,.2 4,-.4 4,.1 4,.2 4,.4 4,-.2 4,-.4" stroke-dasharray="81 4 33 4 123 4 86 3 111 4 42 3 74 4 74 2"/><path d="M37.4,585.9l4,.5 4,.7 4,.2 4,-.7 4,-1.6 4,1.1 4,-0 4,1.3 4,-1.6 4,-.6 4,1.1 4,1.2 4,1.2 4,-1.8 4,.7 4,-.8 4,1.5 4,-.3 4,-.4 4,.8 4,.5 4,2.2 4,-.7 4,0 4,-1.3 4,.3 4,.3 4,.1 4,.8 4,-.9 4,1.2 4,-.2 4,.7 4,-1.3 4,-.7 4,-.1 4,0 4,1.2 4,-1.7 4,.2 4,-.7 4,.8 4,.1 4,-1 4,-.2 4,-.6 4,.9 4,-.9 4,-.2 4,-1 4,.8 4,1.3 4,-.4 4,0 4,-1.1 4,.8 4,-.8 4,-.1 4,-.6 4,.8 4,1.5 4,.2 4,.2 4,-1.1 4,.8 4,-.7 4,.4 4,-.4 4,.2 4,1.3 4,-.1 4,.6 4,-1.4 4,1 4,-.2 4,0 4,-.1 4,-.6 4,.9 4,-.8 4,.8 4,-1 4,.5 4,.4 4,.2 4,-.1 4,-1.2 4,.1 4,-.7 4,1.1 4,-.4 4,.6 4,.4 4,-.5 4,.6 4,-1.1 4,-.2 4,-1.1 4,.7 4,.7 4,.7 4,.2 4,-1.2 4,.8 4,-.7 4,1.2 4,-1.6 4,-.3 4,.7 4,.6 4,.9 4,-1.8 4,.2 4,-.1 4,1.6 4,-.5 4,-1.3 4,-.4 4,0 4,1.6 4,-1.3 4,.1 4,-.5 4,1.6 4,.5 4,-1.1 4,-1.1 4,-.9 4,1.6 4,-.5 4,.9 4,-.6 4,.7 4,.9 4,-.3 4,-.4 4,-1.9 4,1 4,.1 4,1.3 4,-.1 4,-.1 4,.4 4,-.5 4,1.2 4,-.9 4,.3 4,-.9" stroke-dasharray="48 4 179 2 167 4 141 3 169 2"/><path d="M37.4,589.5l4,-.2 4,.2 4,-.2 4,-.2 4,-.6 4,-.2 4,.2 4,.3 4,.4 4,-.5 4,-.4 4,.8 4,1.3 4,.5 4,-1 4,-.8 4,.7 4,.8 4,-0 4,-.1 4,.8 4,1.4 4,.6 4,-.5 4,-.9 4,-.1 4,.4 4,.3 4,.1 4,.4 4,.4 4,.4 4,-.4 4,-.9 4,-.5 4,-0 4,.2 4,0 4,-.5 4,-0 4,.1 4,0 4,-.3 4,-.8 4,-.5 4,.8 4,.2 4,-1.4 4,-.9 4,.3 4,1 4,.4 4,-.5 4,-.6 4,.4 4,.4 4,-.5 4,-1 4,-0 4,.9 4,.9 4,.6 4,-.3 4,-.4 4,-.3 4,.1 4,.4 4,-.1 4,.1 4,.2 4,.9 4,.8 4,-.6 4,-1 4,.2 4,.7 4,.6 4,-.8 4,-.7 4,.3 4,.4 4,.5 4,-.4 4,-.1 4,-.1 4,.2 4,-.3 4,-.4 4,-.8 4,.1 4,.4 4,1 4,.1 4,-.3 4,-.3 4,-.3 4,-.4 4,-.9 4,.1 4,.7 4,1.1 4,-.1 4,-.4 4,-.2 4,.4 4,.3 4,-1.4 4,-.6 4,1 4,1.4 4,-.4 4,-.8 4,-.5 4,.9 4,.5 4,-.5 4,-.8 4,-.1 4,.2 4,.4 4,-.3 4,-.4 4,-0 4,.9 4,.6 4,-.4 4,-.9 4,-1.3 4,.3 4,.8 4,.7 4,-.2 4,-0 4,.4 4,.4 4,-.4 4,-.9 4,-.5 4,.9 4,.8 4,.2 4,.2 4,.1 4,.1 4,-.2 4,.1 4,.1 4,-.2" stroke-dasharray="36 3 100 3 97 2 83 4 181 3 174 2"/><path d="M37.4,593.2l4,-1.4 4,.6 4,.1 4,.8 4,-2.4 4,-.2 4,.8 4,1.2 4,-.1 4,-2.2 4,1 4,1 4,1.3 4,-.5 4,-1.3 4,1.3 4,-0 4,.7 4,-1 4,.4 4,1.5 4,.6 4,.8 4,-1 4,.1 4,-.3 4,-.2 4,1 4,-.6 4,.9 4,.2 4,.7 4,-.2 4,-1.3 4,.3 4,-1.2 4,.9 4,-.4 4,-.5 4,.6 4,-.7 4,.9 4,-1.3 4,.2 4,-.3 4,-.6 4,.2 4,-1 4,.5 4,-.9 4,.1 4,.7 4,.2 4,.9 4,-1.9 4,-.1 4,.4 4,.2 4,-.2 4,-1.5 4,2.2 4,1.2 4,.7 4,-1.7 4,-1.3 4,1.7 4,.1 4,.3 4,-1.3 4,.6 4,2.4 4,-.5 4,-0 4,-1.8 4,1.1 4,.6 4,-.5 4,-0 4,-1.1 4,1.6 4,-.4 4,0 4,.1 4,-.9 4,1.4 4,-.6 4,.2 4,-1.2 4,-.8 4,1.1 4,-.4 4,1.2 4,-1.2 4,.6 4,.3 4,-.6 4,-.1 4,-2 4,1.5 4,-0 4,.9 4,.4 4,-.8 4,1.1 4,-1.2 4,-.2 4,-.2 4,-.2 4,1 4,-1 4,1.4 4,-.4 4,0 4,-.5 4,-.6 4,1.7 4,-.8 4,-0 4,-1.3 4,.3 4,1.7 4,-.9 4,-.2 4,-.9 4,2 4,.3 4,-1.8 4,-.9 4,-.6 4,2.1 4,-0 4,-.6 4,.5 4,.3 4,1.6 4,-1.8 4,-.6 4,-.8 4,.8 4,1.5 4,-.7 4,.9 4,-1 4,1.3 4,0 4,-.8 4,.1 4,-.6" stroke-dasharray="199 3 193 5 119 3 64 4 113 4"/><path d="M37.4,596.7l4,-1.4 4,1 4,-.7 4,-1 4,.6 4,-1.2 4,1.2 4,-1 4,1.4 4,-.3 4,-1 4,.7 4,.7 4,.9 4,-.6 4,-1 4,1.5 4,.3 4,-.1 4,-0 4,-0 4,2.6 4,-.4 4,.2 4,-.9 4,-.5 4,1.2 4,-1.4 4,1.9 4,-.4 4,.9 4,.1 4,-.5 4,.7 4,-2.2 4,.2 4,-.4 4,1.4 4,-.4 4,-1.5 4,.7 4,.6 4,-.4 4,-1.1 4,-.9 4,.7 4,.6 4,-1.3 4,-.2 4,-1 4,1.6 4,-.8 4,.5 4,.5 4,-1.1 4,.9 4,-2 4,1.6 4,-1.1 4,-.3 4,1.3 4,.6 4,1.9 4,-2.4 4,.1 4,-.1 4,.9 4,.1 4,-1.4 4,1.6 4,1.2 4,.1 4,-.5 4,-1 4,.7 4,.3 4,-.6 4,.8 4,-.8 4,.7 4,-.3 4,.3 4,.5 4,-1.6 4,.9 4,-.6 4,1.3 4,-.9 4,-1.8 4,1.1 4,-.3 4,2 4,-1.6 4,.1 4,.4 4,-.3 4,.1 4,-2.3 4,1 4,.6 4,.4 4,.6 4,-.3 4,0 4,-.3 4,-1 4,.8 4,-.7 4,.1 4,.2 4,.8 4,1.3 4,-2.4 4,.8 4,-.5 4,1.4 4,-.2 4,-2.2 4,1.5 4,-.6 4,1.3 4,-1.4 4,.1 4,.9 4,-.1 4,.4 4,-1.5 4,.3 4,-.3 4,-.5 4,1.2 4,.2 4,-.1 4,.4 4,-.2 4,.7 4,-1 4,-1.3 4,.4 4,.7 4,2.1 4,-1.8 4,.7 4,0 4,.7 4,.1 4,-2.2 4,1.7" stroke-dasharray="176 2 52 2 124 3 69 3 31 2 194 5"/><path d="M37.4,599.2l4,-.6 4,.2 4,-.1 4,-.6 4,-.9 4,-.5 4,.6 4,.7 4,-.4 4,-.3 4,0 4,.8 4,.4 4,0 4,-.3 4,.1 4,.9 4,.2 4,-.6 4,.1 4,1 4,1.5 4,.1 4,-.4 4,-.2 4,.3 4,-.1 4,-0 4,-.1 4,.8 4,.7 4,.1 4,-.1 4,-.3 4,-.8 4,-.3 4,-.3 4,.4 4,0 4,-.3 4,-.3 4,.4 4,-.1 4,-.8 4,-1.2 4,.3 4,.8 4,-.3 4,-1.2 4,-.7 4,.8 4,1 4,-.7 4,-.8 4,.5 4,.6 4,-.2 4,-1.7 4,-.1 4,.9 4,1.4 4,-.2 4,-.1 4,.6 4,.1 4,-.8 4,-.4 4,.4 4,.5 4,.3 4,.5 4,.6 4,.5 4,-.7 4,-1.1 4,.6 4,1.1 4,-.5 4,-1 4,.1 4,1.5 4,.3 4,-1.2 4,-.8 4,.7 4,1.1 4,-.8 4,-1.6 4,-.1 4,1.3 4,.2 4,-.9 4,-0 4,1.1 4,.3 4,-1 4,-1.4 4,.2 4,.5 4,-.1 4,-.2 4,.9 4,1 4,-.7 4,-.9 4,-.1 4,.5 4,-.8 4,-.4 4,.9 4,1.4 4,-.1 4,-1.2 4,-.4 4,1 4,.6 4,-1.2 4,-1 4,.9 4,1.1 4,-.4 4,-1.1 4,-.3 4,1.5 4,.5 4,-.8 4,-.8 4,0 4,.5 4,-.7 4,-.3 4,.8 4,.9 4,.1 4,-.4 4,0 4,-.2 4,-.8 4,-.5 4,.8 4,1 4,.4 4,-.7 4,.1 4,1.3 4,-.5 4,-1.1 4,-.8" stroke-dasharray="91 4 144 4 113 2 171 4 111 3"/><path d="M37.4,602.7l4,-.7 4,-.5 4,.5 4,-0 4,-1.7 4,-1.2 4,1.1 4,1.2 4,-.3 4,-.8 4,-0 4,1.1 4,.1 4,.1 4,-.2 4,0 4,.6 4,.5 4,-.4 4,-.1 4,1 4,1.4 4,-.1 4,-.3 4,.4 4,.3 4,-.7 4,-.4 4,1 4,.7 4,.3 4,.2 4,-0 4,-.1 4,-.8 4,-.4 4,-.6 4,-.1 4,.8 4,.7 4,-1.1 4,-.8 4,.6 4,.4 4,-1.2 4,-1.7 4,.4 4,1.3 4,-.4 4,-1 4,-.5 4,.4 4,.7 4,.5 4,-1.4 4,-.9 4,.9 4,.9 4,-1 4,-1.5 4,1 4,2.2 4,.7 4,-1.4 4,-.3 4,.2 4,.3 4,.1 4,-.5 4,.1 4,1.2 4,1.6 4,-.2 4,-1.8 4,-.4 4,1.4 4,.2 4,-.9 4,0 4,.6 4,.3 4,.1 4,-.1 4,-.7 4,-.1 4,.4 4,.3 4,-.6 4,-1 4,.5 4,.4 4,-.3 4,-.1 4,.7 4,-.3 4,-.5 4,.1 4,-.3 4,-.9 4,-.6 4,1.7 4,.8 4,-.4 4,-.2 4,-.1 4,-.3 4,-.6 4,.1 4,-.3 4,.2 4,1.3 4,.6 4,-.5 4,-1.4 4,.4 4,.8 4,-.5 4,-.8 4,.4 4,.8 4,-.2 4,-.1 4,-.2 4,-.1 4,.3 4,.8 4,-.6 4,-1.3 4,0 4,.9 4,-.2 4,-.5 4,.8 4,.7 4,.1 4,-.6 4,-.4 4,-.3 4,-.7 4,.4 4,1.2 4,.7 4,-0 4,.1 4,-.2 4,-.5 4,-0 4,.2" stroke-dasharray="114 3 172 3 99 4 194 3 104 3"/><path d="M37.4,606.1l4,-1.3 4,-.8 4,1 4,-.5 4,-1.7 4,-.1 4,.3 4,.3 4,1 4,-.4 4,-.9 4,.4 4,.6 4,.3 4,-.1 4,-.4 4,-0 4,1.7 4,-.2 4,-.8 4,.9 4,1.2 4,-.1 4,1.2 4,.2 4,-1.5 4,0 4,1.1 4,-.3 4,-.2 4,1.5 4,.1 4,.1 4,.1 4,-1.3 4,-.6 4,.2 4,-.4 4,.5 4,.6 4,-1 4,.2 4,.5 4,-1 4,-1.2 4,.3 4,-.4 4,-.4 4,1 4,-.5 4,-1.5 4,.9 4,.5 4,-.6 4,-.2 4,-.1 4,-.6 4,.8 4,-.3 4,-.9 4,.8 4,.9 4,.6 4,.6 4,-.8 4,-1.2 4,.7 4,.9 4,-1.2 4,.5 4,1.4 4,.1 4,.6 4,.3 4,-1.6 4,-.6 4,1.6 4,0 4,-.6 4,.2 4,.4 4,.4 4,.3 4,-1.1 4,-.8 4,1 4,.1 4,-.2 4,-.1 4,-1.2 4,-.1 4,2.1 4,-.7 4,-1.3 4,.8 4,.6 4,-.9 4,-.7 4,-.1 4,-.7 4,1.1 4,1.5 4,-.8 4,-.5 4,.4 4,-.5 4,-.2 4,-.6 4,-.6 4,1 4,1.6 4,-.6 4,-0 4,.3 4,-1.1 4,.1 4,.8 4,-1 4,-.5 4,1.7 4,-.2 4,-.5 4,.2 4,-.2 4,-.2 4,.5 4,.4 4,-1.1 4,-.3 4,.2 4,-.1 4,1 4,-.3 4,-0 4,.9 4,-.3 4,-1 4,.1 4,-.4 4,-.9 4,1.9 4,1.3 4,-1.3 4,-0 4,.9 4,-.6 4,-.7 4,.6" stroke-dasharray="101 5 155 3 61 3 133 5 182 3"/></g></defs>
<g mask="url(#mz2)" style="mix-blend-mode:hard-light" opacity="0.75" fill="none"><use href="#rf2" stroke="#f6f6f6" stroke-width="1.15"/><use href="#rf2" y="1.15" stroke="#080808" stroke-width="1.1"/></g>
<g mask="url(#md2)" style="mix-blend-mode:hard-light" opacity="0.75" fill="none"><g mask="url(#mp2)"><use href="#rf2" stroke="#f6f6f6" stroke-width="1.15"/><use href="#rf2" y="1.15" stroke="#080808" stroke-width="1.1"/></g></g>
<defs><mask id="mv2" maskUnits="userSpaceOnUse" x="0" y="0" width="685" height="610"><use href="#pt2" filter="url(#vm)"/></mask></defs>
<g mask="url(#mv2)" opacity="0.55"><use href="#pt2"/></g>
<path d="M604.3,517V605.4" stroke="#d8d8d8" stroke-width="0.9" stroke-dasharray="1.2 1.3" opacity="0.75"/>
<rect x="41.4" y="439.4" width="6.1" height="166.0" fill="#858585"/>
<rect x="77.0" y="439.4" width="3.0" height="16" fill="#868686"/>
<path d="M41.4,440.59999999999997H624.4" stroke="#111" stroke-width="1.6" opacity="0.8"/><path d="M41.4,442.2H624.4" stroke="#eee" stroke-width="1.0" opacity="0.6"/>
</g>
<rect x="41.4" y="439.4" width="15.2" height="14.3" fill="#fff"/>
<text x="48.949999999999996" y="450.9" font-size="12" font-weight="bold" text-anchor="middle" fill="#111" stroke="#111" stroke-width="0.35">c</text>
<rect x="41.8" y="593.9" width="28.6" height="11.1" fill="#fff"/>
<text x="44.6" y="602.9" font-size="10.2" fill="#222">1300</text>
<path d="M39.1,439.4H626.6 M41.4,439.4V605.4 M41.40,439.4v-3.0 M41.40,605.4v3.0 M63.76,439.4v-1.9 M63.76,605.4v1.9 M86.12,439.4v-1.9 M86.12,605.4v1.9 M108.48,439.4v-1.9 M108.48,605.4v1.9 M130.84,439.4v-1.9 M130.84,605.4v1.9 M153.20,439.4v-3.0 M153.20,605.4v3.0 M175.56,439.4v-1.9 M175.56,605.4v1.9 M197.92,439.4v-1.9 M197.92,605.4v1.9 M220.28,439.4v-1.9 M220.28,605.4v1.9 M242.64,439.4v-1.9 M242.64,605.4v1.9 M265.00,439.4v-3.0 M265.00,605.4v3.0 M287.36,439.4v-1.9 M287.36,605.4v1.9 M309.72,439.4v-1.9 M309.72,605.4v1.9 M332.08,439.4v-1.9 M332.08,605.4v1.9 M354.44,439.4v-1.9 M354.44,605.4v1.9 M376.80,439.4v-3.0 M376.80,605.4v3.0 M399.16,439.4v-1.9 M399.16,605.4v1.9 M421.52,439.4v-1.9 M421.52,605.4v1.9 M443.88,439.4v-1.9 M443.88,605.4v1.9 M466.24,439.4v-1.9 M466.24,605.4v1.9 M488.60,439.4v-3.0 M488.60,605.4v3.0 M510.96,439.4v-1.9 M510.96,605.4v1.9 M533.32,439.4v-1.9 M533.32,605.4v1.9 M555.68,439.4v-1.9 M555.68,605.4v1.9 M578.04,439.4v-1.9 M578.04,605.4v1.9 M600.40,439.4v-3.0 M600.40,605.4v3.0 M622.76,439.4v-1.9 M622.76,605.4v1.9 M41.4,439.40h-2.3 M41.4,472.60h-2.3 M624.4,472.60h2.4 M41.4,505.80h-2.3 M624.4,505.80h2.4 M41.4,539.00h-2.3 M624.4,539.00h2.4 M41.4,572.20h-2.3 M624.4,572.20h2.4 M41.4,605.40h-2.3" stroke="#222" stroke-width="0.9" fill="none"/>
<path d="M41.4,605.4H626.6" stroke="#555" stroke-width="0.9" fill="none"/>
<path d="M624.4,439.4V605.4" stroke="#777" stroke-width="0.8" fill="none"/>
<text x="41.90" y="431.5" font-size="10" text-anchor="middle">0</text>
<text x="153.70" y="431.5" font-size="10" text-anchor="middle">50</text>
<text x="265.50" y="431.5" font-size="10" text-anchor="middle">100</text>
<text x="377.30" y="431.5" font-size="10" text-anchor="middle">150</text>
<text x="489.10" y="431.5" font-size="10" text-anchor="middle">200</text>
<text x="600.90" y="431.5" font-size="10" text-anchor="middle">250</text>
<text x="333.10" y="419.79999999999995" font-size="11.3" text-anchor="middle">Distance (km)</text>
<text x="36.2" y="443.00" font-size="10" text-anchor="end">200</text>
<text x="36.2" y="476.20" font-size="10" text-anchor="end">400</text>
<text x="36.2" y="509.40" font-size="10" text-anchor="end">600</text>
<text x="36.2" y="542.60" font-size="10" text-anchor="end">800</text>
<text x="36.2" y="575.80" font-size="10" text-anchor="end">1000</text>
<text x="36.2" y="609.00" font-size="10" text-anchor="end">1200</text>
<text transform="translate(9.4,522.40) rotate(-90)" font-size="11.5" text-anchor="middle">Depth (m)</text>
<rect x="638.2" y="439.40" width="18.59999999999991" height="33.50" fill="#F28022"/>
<rect x="638.2" y="472.60" width="18.59999999999991" height="33.50" fill="#F0FF40"/>
<rect x="638.2" y="505.80" width="18.59999999999991" height="33.50" fill="#99FF88"/>
<rect x="638.2" y="539.00" width="18.59999999999991" height="33.50" fill="#7AFFFF"/>
<rect x="638.2" y="572.20" width="18.59999999999991" height="33.50" fill="#4A8AFF"/>
<rect x="638.2" y="439.4" width="18.59999999999991" height="166.0" fill="none" stroke="#333" stroke-width="0.8"/>
<text x="661.4" y="442.80" font-size="9.4">&gt;1.25</text>
<text x="661.4" y="476.00" font-size="9.4">1</text>
<text x="661.4" y="509.20" font-size="9.4">0.75</text>
<text x="661.4" y="542.40" font-size="9.4">0.5</text>
<text x="661.4" y="575.60" font-size="9.4">0.25</text>
<text x="661.4" y="608.80" font-size="9.4">0</text>
<path d="M656.8,439.40h2.4 M656.8,472.60h2.4 M656.8,505.80h2.4 M656.8,539.00h2.4 M656.8,572.20h2.4 M656.8,605.40h2.4" stroke="#333" stroke-width="0.8"/>
<text x="647.50" y="432.9" font-size="9" text-anchor="middle">Ri</text>
<text x="389.3" y="105.8" font-size="12.6" font-weight="bold" fill="#111" stroke="#111" stroke-width="0.3">E1</text>
<text x="430.6" y="303.6" font-size="12.6" font-weight="bold" fill="#111" stroke="#111" stroke-width="0.3">E2</text>
<text x="127.2" y="507.3" font-size="12.6" font-weight="bold" fill="#111" stroke="#111" stroke-width="0.3">E4</text>
<text x="579.0" y="521.1" font-size="12.6" font-weight="bold" fill="#111" stroke="#111" stroke-width="0.3">E5</text>
</g></svg>
</body></html>
